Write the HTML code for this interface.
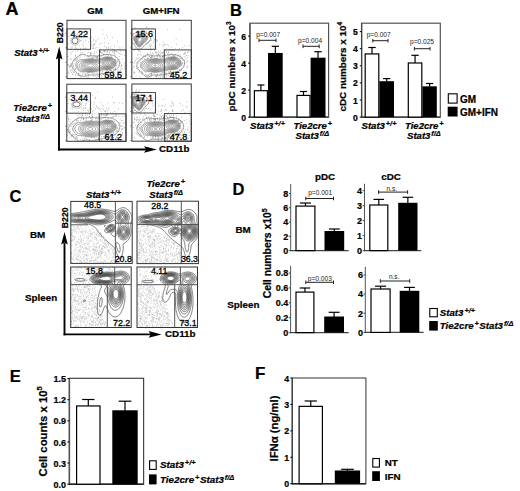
<!DOCTYPE html>
<html><head><meta charset="utf-8"><style>
html,body{margin:0;padding:0;background:#fff;}
body{width:520px;height:491px;overflow:hidden;}
svg{display:block;}
text{font-family:"Liberation Sans",sans-serif;}
text[font-weight="bold"]{stroke:#000;stroke-width:0.22px;}
</style></head><body>
<svg width="520" height="491" viewBox="0 0 520 491">
<rect width="520" height="491" fill="#fff"/>
<text x="5.60" y="15.00" font-size="18" font-weight="bold" text-anchor="start" fill="#000" >A</text>
<text x="95.00" y="14.00" font-size="9.7" font-weight="bold" text-anchor="middle" fill="#000" >GM</text>
<text x="161.20" y="14.00" font-size="9.7" font-weight="bold" text-anchor="middle" fill="#000" >GM+IFN</text>
<text x="14.20" y="55.80" font-size="9.6" font-weight="bold" font-style="italic" stroke="#000" stroke-width="0.3"><tspan>Stat3</tspan><tspan font-size="7.30" dx="0.9" dy="-2.88">+/+</tspan></text>
<text x="13.30" y="111.00" font-size="9.6" font-weight="bold" font-style="italic" stroke="#000" stroke-width="0.3"><tspan>Tie2cre</tspan><tspan font-size="7.30" dx="0.9" dy="-2.88">+</tspan></text>
<text x="16.20" y="122.00" font-size="9.6" font-weight="bold" font-style="italic" stroke="#000" stroke-width="0.3"><tspan>Stat3</tspan><tspan font-size="7.30" dx="0.9" dy="-2.88">f/&#916;</tspan></text>
<line x1="59.00" y1="150.40" x2="59.00" y2="57.00" stroke="#000" stroke-width="1.9" />
<polygon points="59.20,46.40 62.50,59.60 59.20,57.40 55.90,59.60" fill="#000"/>
<line x1="58.10" y1="149.50" x2="147.00" y2="149.50" stroke="#000" stroke-width="1.9" />
<polygon points="156.80,149.50 144.00,146.20 146.30,149.50 144.00,152.80" fill="#000"/>
<text transform="translate(63.4,43.2) rotate(-90)" font-size="8.7" font-weight="bold">B220</text>
<text x="159.00" y="152.30" font-size="9.8" font-weight="bold" text-anchor="start" fill="#000" >CD11b</text>
<clipPath id="a1"><rect x="67" y="20.3" width="59" height="58.3"/></clipPath>
<g clip-path="url(#a1)">
<path d="M84.1 73.6h.6M112.9 69.7h.6M120.2 54.0h.6M99.5 56.9h.6M109.4 72.5h.6M85.1 30.9h.6M78.3 71.0h.6M67.2 57.1h.6M88.6 56.6h.6M93.4 55.3h.6M103.3 78.3h.6M107.3 70.5h.6M113.5 78.2h.6M119.2 53.4h.6M97.5 50.3h.6M79.0 39.3h.6M70.7 38.5h.6M88.7 74.4h.6M80.7 55.0h.6M102.7 33.8h.6M112.9 51.8h.6M75.9 67.6h.6M106.7 52.6h.6M102.5 30.1h.6M112.8 49.4h.6M98.8 56.0h.6M106.8 73.2h.6M73.8 63.1h.6M93.0 44.3h.6M96.3 72.9h.6M85.4 40.8h.6M115.8 59.9h.6M99.9 49.2h.6M118.9 59.6h.6M88.6 77.6h.6M124.5 65.2h.6M107.8 49.1h.6M103.8 54.4h.6M91.5 45.0h.6M108.2 76.7h.6M113.6 53.3h.6M73.0 67.0h.6M100.6 57.0h.6M113.8 72.9h.6M106.2 47.6h.6M73.7 72.3h.6M81.7 75.6h.6M84.9 73.9h.6M67.9 64.5h.6M80.2 48.8h.6M114.0 52.1h.6M78.0 74.8h.6M125.8 51.2h.6M87.5 73.1h.6M73.5 66.5h.6M67.4 64.9h.6M103.4 54.3h.6M77.4 38.7h.6M82.6 73.0h.6M82.2 36.5h.6M76.5 59.8h.6M112.1 37.4h.6M110.6 46.8h.6M101.7 76.9h.6M104.8 72.6h.6M99.9 58.5h.6M70.3 65.6h.6M70.1 58.8h.6M124.2 63.1h.6M72.0 74.2h.6M112.5 49.0h.6M75.0 75.4h.6M79.2 31.1h.6M110.7 70.8h.6M92.6 48.4h.6M81.3 34.1h.6M109.7 70.2h.6M83.9 54.3h.6M88.5 52.4h.6M122.0 59.3h.6M104.0 51.2h.6M107.0 75.7h.6M74.7 58.7h.6M84.0 56.0h.6M96.9 76.0h.6M104.0 77.3h.6M78.4 73.8h.6M94.6 73.2h.6M85.3 74.6h.6M88.6 41.9h.6M71.7 63.5h.6M88.4 76.1h.6M106.3 54.8h.6M101.1 77.2h.6M77.1 58.4h.6M87.5 52.7h.6M93.0 39.9h.6M94.4 53.4h.6M72.3 74.3h.6M79.1 46.0h.6M117.3 62.1h.6M96.9 57.1h.6M93.0 76.4h.6M109.6 51.8h.6M95.5 41.0h.6M121.3 68.6h.6M92.9 46.2h.6M103.9 74.0h.6M111.0 70.6h.6M91.7 72.9h.6M74.9 74.3h.6M97.2 39.8h.6M107.0 37.1h.6M106.4 35.3h.6M75.1 55.6h.6M90.0 55.1h.6M104.0 51.7h.6M104.2 38.4h.6M71.2 65.1h.6M80.1 50.3h.6M81.3 36.0h.6M75.9 57.4h.6M117.8 75.5h.6M120.6 70.8h.6M70.8 65.6h.6M100.1 52.1h.6M75.3 39.0h.6M109.1 70.6h.6M80.0 76.8h.6M83.5 72.1h.6M93.4 40.2h.6M78.7 57.8h.6M83.3 46.0h.6M97.0 57.8h.6M121.8 47.8h.6M114.7 69.4h.6M76.3 73.0h.6M70.5 52.4h.6M82.1 44.8h.6M124.5 67.0h.6M69.9 70.7h.6M91.0 58.1h.6M119.5 72.3h.6M99.3 73.6h.6M114.5 50.1h.6M83.0 36.8h.6M120.5 66.8h.6M109.3 53.1h.6M79.7 76.0h.6M117.6 59.7h.6M75.3 55.1h.6M75.7 45.0h.6M76.9 59.6h.6M93.0 48.3h.6M70.8 59.3h.6M70.7 64.1h.6M114.2 53.2h.6M79.2 55.1h.6M100.7 43.3h.6M96.6 57.1h.6M74.6 43.3h.6M98.8 47.8h.6M84.7 48.3h.6M92.9 48.0h.6M94.6 43.4h.6M100.2 74.1h.6M110.5 55.5h.6M95.7 57.3h.6M116.4 65.7h.6M100.5 51.7h.6M86.8 73.1h.6M124.9 68.3h.6M93.8 45.0h.6M119.9 69.6h.6M102.5 71.1h.6M115.2 59.5h.6M95.8 41.6h.6M119.6 63.3h.6M113.4 69.1h.6M96.3 52.2h.6M90.5 55.6h.6M114.7 68.9h.6M78.3 73.6h.6M108.5 47.3h.6M115.7 51.4h.6M71.8 68.4h.6M73.2 78.8h.6M77.5 75.4h.6M108.4 71.7h.6M71.5 70.0h.6M69.8 66.8h.6M120.6 51.3h.6M115.0 69.6h.6M74.7 68.4h.6M91.5 37.5h.6M119.5 71.6h.6M103.3 74.5h.6M106.8 48.2h.6M120.3 78.5h.6M119.7 49.1h.6M100.0 71.3h.6M112.8 74.5h.6M71.5 47.2h.6M99.3 44.1h.6M99.8 78.2h.6M104.4 46.4h.6M72.5 51.4h.6M94.0 52.0h.6M112.9 74.1h.6M90.3 53.7h.6M73.3 42.3h.6M75.2 37.8h.6M97.1 57.8h.6M88.6 57.7h.6M115.2 68.6h.6M81.5 40.5h.6M102.0 78.6h.6M119.0 73.3h.6M82.2 74.6h.6M121.8 54.7h.6M90.4 54.1h.6M95.9 47.6h.6M81.4 37.8h.6M118.7 47.0h.6M114.8 50.8h.6M73.7 72.6h.6M107.1 51.7h.6M87.4 56.0h.6M68.0 56.3h.6M108.7 72.8h.6M103.0 51.3h.6M85.1 48.3h.6M92.6 46.5h.6M96.2 77.6h.6M97.8 75.5h.6M71.4 54.1h.6M86.5 77.1h.6M91.2 53.2h.6M120.0 74.0h.6M89.1 38.6h.6M121.1 65.2h.6M90.8 41.9h.6M80.8 54.3h.6M110.3 73.0h.6M73.7 71.6h.6M101.8 72.2h.6M69.3 67.4h.6M99.5 50.5h.6M77.5 50.6h.6M103.2 74.5h.6M101.2 75.3h.6M75.1 50.1h.6M94.2 44.2h.6M87.1 77.0h.6M72.4 70.8h.6M111.2 56.3h.6M110.0 70.4h.6M85.0 76.2h.6M76.6 61.5h.6M74.3 60.8h.6M108.3 71.7h.6M92.5 58.6h.6M101.2 52.9h.6M74.0 42.0h.6M87.0 34.3h.6M108.0 76.1h.6M122.2 68.4h.6M74.7 69.0h.6M68.5 43.8h.6M110.5 75.3h.6M73.8 38.8h.6M70.0 66.2h.6M103.9 42.6h.6M90.9 54.1h.6M100.3 52.1h.6M97.0 73.2h.6M80.1 52.8h.6M121.5 66.1h.6M110.4 70.8h.6M73.4 60.8h.6M75.4 59.5h.6M108.1 71.6h.6M68.5 72.2h.6M117.7 70.3h.6M76.7 37.8h.6M71.4 72.3h.6M121.2 65.1h.6M104.8 51.6h.6M95.5 56.7h.6M97.0 57.0h.6M104.9 78.7h.6M68.8 59.8h.6M104.6 75.5h.6M68.2 73.6h.6M94.6 55.9h.6M89.5 73.1h.6M83.0 42.3h.6M112.0 72.7h.6M92.8 57.6h.6M82.5 52.4h.6M117.7 71.1h.6M113.3 71.0h.6M69.8 69.6h.6M117.7 52.6h.6M115.6 57.8h.6M80.4 40.7h.6M102.0 71.2h.6M117.0 41.0h.6M114.7 54.6h.6M124.2 55.3h.6M69.1 66.6h.6M90.4 52.7h.6M98.4 76.5h.6M118.9 56.5h.6M93.5 57.2h.6M102.8 55.1h.6M71.5 41.9h.6M117.0 61.0h.6M100.7 52.4h.6M95.0 48.2h.6M99.3 57.8h.6M74.1 70.1h.6M88.3 75.1h.6M70.3 66.2h.6M124.6 69.8h.6M97.9 58.7h.6M108.1 55.3h.6M120.6 62.4h.6M70.7 49.0h.6M117.7 61.4h.6M75.9 48.4h.6M110.5 48.4h.6M84.3 51.1h.6M75.0 56.4h.6M95.6 76.5h.6M68.4 36.7h.6M107.3 51.6h.6M113.8 50.6h.6M77.2 34.3h.6M87.7 50.2h.6M114.6 55.7h.6M106.1 70.3h.6M112.0 51.7h.6M75.3 60.7h.6M99.4 71.2h.6M104.9 50.1h.6M92.7 74.8h.6M101.7 73.5h.6M72.1 40.0h.6M68.0 65.6h.6M102.0 53.2h.6M107.5 76.1h.6M99.5 73.5h.6M114.3 46.2h.6M74.0 37.6h.6M122.4 74.2h.6M78.4 78.6h.6M73.2 65.0h.6M99.5 76.1h.6M96.0 58.2h.6M83.2 35.4h.6M112.5 71.9h.6M74.4 43.3h.6M67.1 48.3h.6M116.0 51.7h.6M79.8 57.1h.6M79.2 75.1h.6M88.8 56.2h.6M92.7 73.5h.6M115.6 67.3h.6M80.2 72.1h.6M78.6 29.9h.6M107.5 54.6h.6M83.4 48.9h.6M90.3 53.1h.6M98.5 55.6h.6M77.9 75.7h.6M105.0 56.0h.6M75.1 47.6h.6M71.9 46.9h.6M98.6 38.2h.6M108.2 43.4h.6M101.6 56.1h.6M91.9 57.4h.6M88.0 72.5h.6M96.9 56.8h.6M115.7 69.4h.6M75.1 69.3h.6M78.3 36.8h.6M105.3 76.5h.6" stroke="#5a5a5a" stroke-width="0.6" fill="none"/>
<path d="M84.0 76.4 83.2 76.5 82.5 76.4 82.0 76.3 81.3 76.0 80.8 75.8 80.4 75.5 80.0 75.3 79.5 75.0 79.0 74.6 78.7 74.3 78.2 74.0 77.8 73.5 77.5 73.3 77.0 72.8 76.7 72.5 76.2 72.1 75.9 71.8 75.5 71.4 75.1 71.0 74.8 70.7 74.4 70.3 74.0 69.9 73.7 69.5 73.3 69.0 73.0 68.7 72.8 68.3 72.5 67.8 72.2 67.1 72.1 66.5 72.0 65.8 72.0 65.3 72.0 64.5 72.0 64.0 72.2 63.3 72.3 62.8 72.5 62.3 72.8 61.7 73.0 61.2 73.3 60.8 73.6 60.3 74.0 59.9 74.4 59.5 74.8 59.2 75.2 58.8 75.6 58.5 76.0 58.2 76.5 57.8 76.8 57.5 77.2 57.2 77.7 56.8 78.0 56.5 78.5 56.2 79.0 55.8 79.4 55.5 79.8 55.3 80.2 55.0 80.8 54.7 81.2 54.5 81.9 54.3 82.5 54.2 83.2 54.2 83.9 54.3 84.5 54.5 84.9 54.8 85.2 55.1 85.8 55.4 86.2 55.6 86.8 55.8 87.5 55.9 88.2 55.9 89.0 55.9 89.8 55.9 90.5 55.9 91.2 55.9 92.0 55.9 92.8 55.9 93.5 55.9 94.2 55.9 95.0 56.0 95.8 56.0 96.5 56.0 97.2 56.0 98.0 55.9 98.8 55.9 99.2 55.8 100.0 55.7 100.5 55.5 101.2 55.4 101.8 55.2 102.5 55.1 103.0 55.0 103.8 54.8 104.2 54.7 105.0 54.6 105.6 54.5 106.2 54.5 107.0 54.5 107.8 54.5 108.5 54.5 109.2 54.5 109.8 54.6 110.5 54.7 111.0 54.8 111.8 55.0 112.2 55.2 112.8 55.3 113.3 55.5 113.9 55.8 114.4 56.0 114.9 56.3 115.3 56.5 115.8 56.8 116.2 57.2 116.7 57.5 117.0 57.9 117.4 58.3 117.8 58.7 118.1 59.0 118.4 59.5 118.7 60.0 119.0 60.5 119.2 61.0 119.3 61.5 119.5 62.3 119.6 62.8 119.6 63.5 119.5 64.3 119.4 64.8 119.2 65.5 119.1 66.0 118.8 66.5 118.5 67.0 118.2 67.5 118.0 67.8 117.6 68.3 117.2 68.7 116.9 69.0 116.5 69.4 116.0 69.8 115.6 70.0 115.2 70.3 114.8 70.6 114.2 70.9 113.8 71.1 113.2 71.3 112.7 71.5 112.0 71.8 111.5 72.0 111.0 72.1 110.4 72.3 109.8 72.5 109.2 72.6 108.5 72.7 108.0 72.8 107.2 72.9 106.5 73.0 106.0 73.1 105.2 73.3 104.8 73.3 104.0 73.5 103.5 73.6 102.8 73.7 102.2 73.8 101.5 73.9 101.0 74.0 100.2 74.2 99.7 74.3 99.0 74.4 98.3 74.5 97.8 74.6 97.0 74.7 96.5 74.8 95.8 74.9 95.0 75.0 94.2 75.0 93.7 75.0 93.0 75.1 92.2 75.1 91.5 75.1 90.8 75.1 90.0 75.1 89.2 75.1 88.5 75.1 87.8 75.1 87.0 75.2 86.4 75.3 85.8 75.5 85.2 75.8 84.8 76.0 84.2 76.3Z" stroke="#4a4a4a" stroke-width="0.5" fill="none" fill-rule="evenodd"/>
<path d="M93.0 72.1 92.2 72.1 91.5 72.2 90.8 72.2 90.0 72.2 89.2 72.1 88.5 72.1 88.0 72.0 87.2 72.0 86.5 71.9 85.9 71.8 85.2 71.7 84.5 71.7 83.8 71.6 83.0 71.6 82.2 71.6 81.5 71.6 81.0 71.5 80.4 71.3 79.9 71.0 79.5 70.8 79.0 70.4 78.6 70.0 78.2 69.7 77.9 69.3 77.5 68.8 77.2 68.5 76.9 68.0 76.6 67.5 76.3 67.0 76.1 66.5 75.9 66.0 75.8 65.3 75.7 64.8 75.8 64.3 75.9 63.5 76.2 63.0 76.5 62.5 76.8 62.2 77.1 61.8 77.5 61.4 77.9 61.0 78.2 60.8 78.8 60.4 79.2 60.1 79.8 59.8 80.2 59.7 80.8 59.5 81.5 59.5 82.2 59.5 83.0 59.5 83.8 59.5 84.5 59.4 85.2 59.3 85.8 59.3 86.5 59.1 87.2 59.0 87.8 59.0 88.5 58.9 89.2 58.9 90.0 58.8 90.8 58.8 91.5 58.8 92.2 58.9 93.0 58.9 93.8 59.0 94.3 59.0 95.0 59.1 95.8 59.2 96.4 59.3 97.0 59.3 97.8 59.4 98.5 59.3 99.0 59.2 99.7 59.0 100.2 58.9 100.8 58.7 101.2 58.5 101.8 58.2 102.2 58.0 102.9 57.8 103.5 57.6 104.0 57.4 104.5 57.3 105.2 57.1 105.8 57.0 106.5 56.9 107.2 56.9 108.0 56.8 108.8 56.9 109.5 57.0 110.0 57.1 110.8 57.3 111.2 57.4 111.8 57.6 112.2 57.8 112.8 58.1 113.2 58.4 113.8 58.7 114.2 59.0 114.5 59.3 114.9 59.8 115.2 60.2 115.5 60.6 115.8 61.1 116.0 61.8 116.1 62.3 116.2 63.0 116.2 63.8 116.0 64.5 115.8 65.0 115.6 65.5 115.3 66.0 115.0 66.4 114.7 66.8 114.2 67.2 113.8 67.5 113.5 67.8 113.0 68.1 112.5 68.4 112.0 68.6 111.5 68.9 111.0 69.0 110.2 69.3 109.8 69.4 109.0 69.5 108.5 69.6 107.8 69.7 107.0 69.7 106.2 69.8 105.5 69.8 104.8 69.8 104.0 69.8 103.2 69.8 102.8 69.8 102.0 69.9 101.2 70.0 100.8 70.2 100.2 70.3 99.5 70.5 99.0 70.7 98.5 70.9 97.9 71.0 97.2 71.2 96.8 71.4 96.1 71.5 95.5 71.7 94.9 71.8 94.2 71.9 93.5 72.0 93.0 72.1Z" stroke="#4a4a4a" stroke-width="0.5" fill="none" fill-rule="evenodd"/>
<path d="M93.8 71.3 93.0 71.4 92.2 71.5 91.5 71.5 90.8 71.5 90.0 71.5 89.2 71.5 88.5 71.5 87.8 71.4 87.2 71.3 86.5 71.2 85.8 71.1 85.2 71.0 84.5 70.8 84.0 70.7 83.2 70.6 82.6 70.5 82.0 70.5 81.2 70.3 80.8 70.1 80.2 69.9 79.8 69.6 79.3 69.3 79.0 69.0 78.6 68.5 78.2 68.1 78.0 67.7 77.7 67.3 77.5 66.8 77.2 66.2 77.1 65.5 77.1 64.8 77.2 64.0 77.5 63.5 77.8 63.2 78.1 62.8 78.5 62.4 79.0 62.0 79.3 61.8 79.8 61.5 80.3 61.3 81.0 61.1 81.5 60.9 82.1 60.8 82.8 60.6 83.2 60.5 84.0 60.4 84.5 60.2 85.2 60.1 85.8 60.0 86.5 59.8 87.0 59.7 87.8 59.6 88.5 59.6 89.0 59.5 89.8 59.5 90.5 59.4 91.2 59.5 92.0 59.5 92.7 59.5 93.2 59.6 94.0 59.7 94.7 59.8 95.2 59.9 96.0 60.0 96.5 60.1 97.2 60.1 98.0 60.2 98.8 60.1 99.2 60.0 99.9 59.8 100.5 59.6 101.0 59.3 101.5 59.1 102.0 58.9 102.5 58.6 103.0 58.4 103.5 58.2 104.0 58.0 104.7 57.8 105.2 57.7 105.9 57.5 106.5 57.5 107.2 57.4 108.0 57.4 108.8 57.4 109.5 57.5 110.0 57.6 110.6 57.8 111.2 58.0 111.8 58.2 112.2 58.5 112.8 58.7 113.2 59.0 113.5 59.3 114.0 59.8 114.3 60.0 114.6 60.5 114.9 61.0 115.2 61.5 115.3 62.0 115.4 62.8 115.4 63.5 115.3 64.3 115.1 64.8 114.9 65.3 114.6 65.8 114.2 66.2 114.0 66.5 113.5 67.0 113.1 67.3 112.7 67.5 112.2 67.8 111.8 68.1 111.2 68.3 110.5 68.5 110.0 68.7 109.5 68.8 108.8 69.0 108.0 69.0 107.5 69.1 106.8 69.1 106.0 69.1 105.2 69.1 104.5 69.1 104.0 69.0 103.2 69.0 102.5 69.0 101.9 69.0 101.2 69.1 100.5 69.3 100.0 69.5 99.5 69.6 99.0 69.8 98.3 70.0 97.8 70.3 97.2 70.4 96.8 70.6 96.1 70.8 95.5 71.0 95.0 71.1 94.2 71.2 93.8 71.3Z" stroke="#4a4a4a" stroke-width="0.5" fill="none" fill-rule="evenodd"/>
<path d="M92.5 70.8 91.8 70.9 91.0 70.9 90.2 70.9 89.5 70.9 88.8 70.8 88.2 70.8 87.5 70.7 86.8 70.6 86.2 70.5 85.6 70.3 85.0 70.2 84.5 70.0 83.8 69.8 83.2 69.7 82.8 69.5 82.2 69.3 81.6 69.0 81.1 68.8 80.7 68.5 80.2 68.2 79.9 67.8 79.5 67.3 79.3 66.8 79.2 66.3 79.1 65.5 79.2 64.9 79.5 64.4 79.8 64.0 80.1 63.5 80.5 63.2 80.9 62.8 81.3 62.5 81.8 62.2 82.2 62.0 82.8 61.7 83.2 61.5 83.8 61.3 84.5 61.0 85.0 60.9 85.5 60.7 86.2 60.6 86.8 60.4 87.5 60.3 88.0 60.2 88.8 60.2 89.5 60.1 90.2 60.1 91.0 60.1 91.8 60.1 92.5 60.2 93.2 60.3 93.8 60.3 94.5 60.5 95.0 60.6 95.8 60.7 96.3 60.8 97.0 60.9 97.8 61.0 98.5 61.0 99.2 60.9 99.8 60.8 100.3 60.5 100.8 60.3 101.2 60.0 101.8 59.8 102.2 59.5 102.8 59.2 103.2 59.0 103.8 58.8 104.3 58.5 105.0 58.3 105.5 58.2 106.2 58.0 106.8 58.0 107.5 57.9 108.2 57.9 109.0 58.0 109.5 58.1 110.2 58.3 110.8 58.4 111.2 58.6 111.8 58.9 112.2 59.1 112.8 59.5 113.1 59.8 113.5 60.2 113.8 60.5 114.2 61.0 114.4 61.5 114.6 62.0 114.7 62.8 114.7 63.5 114.5 64.3 114.3 64.8 114.1 65.3 113.8 65.8 113.5 66.1 113.0 66.5 112.7 66.8 112.2 67.1 111.8 67.4 111.2 67.6 110.8 67.8 110.1 68.0 109.5 68.2 109.0 68.3 108.2 68.4 107.5 68.5 106.8 68.5 106.0 68.5 105.2 68.4 104.5 68.4 104.0 68.3 103.2 68.2 102.5 68.2 101.8 68.2 101.0 68.2 100.5 68.4 99.8 68.5 99.2 68.8 98.8 69.0 98.2 69.2 97.8 69.4 97.2 69.6 96.8 69.8 96.0 70.0 95.5 70.2 95.0 70.4 94.2 70.5 93.8 70.6 93.0 70.7 92.5 70.8Z" stroke="#4a4a4a" stroke-width="0.5" fill="none" fill-rule="evenodd"/>
<path d="M93.0 70.1 92.2 70.2 91.5 70.3 90.8 70.3 90.0 70.3 89.2 70.3 88.5 70.2 87.8 70.1 87.2 70.0 86.5 69.8 86.0 69.7 85.5 69.5 84.8 69.3 84.2 69.1 83.8 68.9 83.2 68.6 82.8 68.3 82.4 68.0 82.0 67.7 81.6 67.3 81.3 66.8 81.2 66.3 81.1 65.5 81.2 64.9 81.5 64.3 81.8 63.9 82.1 63.5 82.5 63.1 82.9 62.8 83.2 62.5 83.8 62.2 84.2 62.0 84.8 61.8 85.3 61.5 86.0 61.3 86.5 61.2 87.1 61.0 87.8 60.9 88.5 60.8 89.0 60.8 89.8 60.7 90.5 60.7 91.2 60.7 92.0 60.8 92.5 60.8 93.2 60.9 93.9 61.0 94.5 61.2 95.1 61.3 95.8 61.5 96.2 61.6 97.0 61.8 97.5 61.9 98.2 62.0 99.0 62.0 99.7 61.8 100.2 61.6 100.7 61.3 101.1 61.0 101.5 60.8 102.0 60.4 102.5 60.1 103.0 59.8 103.5 59.5 104.0 59.3 104.5 59.1 105.0 58.9 105.5 58.8 106.2 58.6 106.8 58.5 107.5 58.5 108.2 58.5 108.9 58.5 109.5 58.7 110.1 58.8 110.8 59.0 111.2 59.3 111.8 59.5 112.1 59.8 112.5 60.1 113.0 60.5 113.2 60.9 113.5 61.3 113.8 61.8 113.9 62.5 114.0 63.3 113.9 64.0 113.7 64.5 113.4 65.0 113.1 65.5 112.8 65.9 112.3 66.3 112.0 66.5 111.5 66.8 111.0 67.1 110.5 67.3 109.8 67.5 109.2 67.7 108.5 67.8 108.0 67.9 107.2 67.9 106.5 67.9 105.8 67.8 105.2 67.8 104.5 67.7 103.9 67.5 103.2 67.4 102.5 67.3 102.0 67.2 101.2 67.2 100.5 67.3 100.0 67.4 99.5 67.6 99.0 67.8 98.5 68.1 98.0 68.3 97.5 68.6 97.0 68.8 96.5 69.1 95.9 69.3 95.2 69.5 94.8 69.7 94.2 69.8 93.5 70.0 93.0 70.1Z" stroke="#4a4a4a" stroke-width="0.5" fill="none" fill-rule="evenodd"/>
<path d="M92.0 69.6 91.2 69.6 90.5 69.6 89.8 69.6 89.0 69.6 88.5 69.5 87.8 69.4 87.2 69.3 86.5 69.1 86.0 68.9 85.5 68.7 85.0 68.5 84.5 68.2 84.0 67.9 83.6 67.5 83.2 67.2 82.9 66.8 82.7 66.3 82.6 65.5 82.7 64.8 83.0 64.3 83.2 63.9 83.6 63.5 84.0 63.2 84.5 62.8 85.0 62.5 85.5 62.3 86.0 62.1 86.5 61.9 87.0 61.8 87.8 61.6 88.2 61.5 89.0 61.4 89.8 61.4 90.5 61.4 91.2 61.4 92.0 61.4 92.8 61.5 93.2 61.6 94.0 61.8 94.5 61.9 95.0 62.1 95.7 62.3 96.2 62.5 96.8 62.7 97.2 62.9 97.8 63.1 98.3 63.3 99.0 63.5 99.8 63.4 100.2 63.1 100.6 62.8 101.0 62.4 101.4 62.0 101.8 61.7 102.2 61.3 102.5 61.0 103.0 60.6 103.5 60.3 103.9 60.0 104.4 59.8 105.0 59.5 105.5 59.4 106.0 59.2 106.8 59.1 107.3 59.0 108.0 59.0 108.5 59.1 109.2 59.2 109.8 59.3 110.5 59.5 111.0 59.8 111.4 60.0 111.8 60.3 112.2 60.8 112.5 61.0 112.8 61.5 113.1 62.0 113.2 62.8 113.2 63.5 113.0 64.3 112.8 64.8 112.5 65.1 112.1 65.5 111.8 65.9 111.2 66.3 110.8 66.5 110.2 66.8 109.8 66.9 109.2 67.1 108.5 67.2 107.8 67.3 107.0 67.3 106.2 67.2 105.5 67.1 105.0 67.0 104.2 66.9 103.8 66.7 103.2 66.5 102.5 66.3 102.0 66.1 101.5 66.0 100.9 65.8 100.2 65.7 99.8 65.8 99.2 66.1 98.8 66.5 98.4 66.8 98.0 67.1 97.5 67.5 97.0 67.8 96.6 68.0 96.2 68.3 95.7 68.5 95.1 68.8 94.5 69.0 94.0 69.2 93.4 69.3 92.8 69.4 92.0 69.5Z" stroke="#4a4a4a" stroke-width="0.5" fill="none" fill-rule="evenodd"/>
<path d="M108.5 66.6 107.8 66.7 107.0 66.7 106.2 66.6 105.8 66.5 105.0 66.3 104.5 66.1 104.0 65.9 103.5 65.7 103.0 65.3 102.6 65.0 102.2 64.6 102.0 64.0 102.1 63.3 102.2 62.8 102.5 62.3 102.9 61.8 103.2 61.4 103.7 61.0 104.0 60.8 104.5 60.5 105.0 60.2 105.5 60.0 106.2 59.8 106.8 59.7 107.5 59.6 108.2 59.6 109.0 59.7 109.5 59.9 110.0 60.0 110.6 60.3 111.0 60.6 111.5 61.0 111.8 61.3 112.1 61.8 112.3 62.3 112.4 63.0 112.3 63.8 112.2 64.3 111.8 64.8 111.5 65.2 111.1 65.5 110.7 65.8 110.2 66.1 109.7 66.3 109.0 66.5 108.5 66.6ZM92.0 68.8 91.2 68.9 90.5 69.0 89.8 68.9 89.0 68.9 88.4 68.8 87.8 68.7 87.2 68.5 86.6 68.3 86.0 68.0 85.6 67.8 85.2 67.5 84.8 67.2 84.4 66.8 84.1 66.3 84.0 65.8 84.0 65.1 84.2 64.5 84.5 64.1 84.8 63.8 85.2 63.4 85.8 63.1 86.2 62.8 86.8 62.6 87.2 62.5 87.9 62.3 88.5 62.2 89.2 62.1 89.9 62.0 90.5 62.0 91.0 62.1 91.8 62.1 92.5 62.2 93.0 62.3 93.8 62.5 94.2 62.7 94.8 62.9 95.2 63.1 95.8 63.4 96.2 63.7 96.6 64.0 97.0 64.5 97.2 65.0 97.1 65.8 96.9 66.3 96.5 66.8 96.2 67.0 95.8 67.4 95.2 67.8 94.8 68.0 94.2 68.2 93.8 68.4 93.2 68.6 92.5 68.8 92.0 68.8Z" stroke="#4a4a4a" stroke-width="0.5" fill="none" fill-rule="evenodd"/>
<path d="M108.8 65.9 108.0 66.0 107.2 66.0 106.5 65.9 106.0 65.8 105.2 65.6 104.8 65.3 104.3 65.0 104.0 64.8 103.6 64.3 103.4 63.8 103.4 63.0 103.6 62.5 103.9 62.0 104.2 61.7 104.7 61.3 105.0 61.0 105.5 60.8 106.1 60.5 106.8 60.4 107.2 60.3 108.0 60.3 108.5 60.3 109.2 60.5 109.8 60.7 110.2 60.9 110.7 61.3 111.0 61.6 111.3 62.0 111.5 62.5 111.6 63.3 111.4 63.8 111.2 64.3 110.8 64.8 110.5 65.1 110.0 65.4 109.5 65.6 109.0 65.8ZM91.8 68.1 91.0 68.1 90.2 68.2 89.5 68.1 88.8 68.0 88.2 67.9 87.8 67.8 87.1 67.5 86.7 67.3 86.2 67.0 85.8 66.5 85.5 66.1 85.4 65.5 85.5 64.9 85.8 64.5 86.2 64.0 86.5 63.8 87.0 63.5 87.5 63.3 88.2 63.1 88.8 63.0 89.5 62.9 90.2 62.8 91.0 62.8 91.8 62.9 92.3 63.0 93.0 63.2 93.5 63.4 94.0 63.7 94.5 64.0 94.9 64.3 95.2 64.8 95.4 65.3 95.3 66.0 95.0 66.5 94.7 66.8 94.2 67.1 93.8 67.4 93.2 67.6 92.8 67.8 92.0 68.0Z" stroke="#4a4a4a" stroke-width="0.5" fill="none" fill-rule="evenodd"/>
<path d="M108.5 65.1 107.8 65.2 107.0 65.1 106.5 65.0 105.8 64.8 105.4 64.5 105.0 64.1 104.8 63.6 104.7 63.0 104.9 62.5 105.2 62.0 105.5 61.8 106.0 61.5 106.5 61.3 107.2 61.1 108.0 61.1 108.8 61.2 109.2 61.4 109.8 61.7 110.1 62.0 110.4 62.5 110.5 63.0 110.4 63.5 110.2 64.0 109.8 64.5 109.3 64.8 108.8 65.0ZM91.2 67.1 90.5 67.2 89.8 67.1 89.2 67.0 88.5 66.8 88.0 66.6 87.6 66.3 87.3 65.8 87.2 65.3 87.5 64.8 87.8 64.5 88.2 64.3 88.8 64.0 89.5 63.9 90.2 63.8 91.0 63.9 91.8 64.0 92.2 64.2 92.8 64.5 93.1 64.8 93.3 65.3 93.2 65.9 93.0 66.3 92.5 66.6 92.0 66.9 91.4 67.0Z" stroke="#4a4a4a" stroke-width="0.5" fill="none" fill-rule="evenodd"/>
<path d="M108.0 64.1 107.3 64.0 106.8 63.8 106.5 63.5 106.4 62.8 106.8 62.5 107.2 62.2 108.0 62.2 108.5 62.3 109.0 62.8 109.0 63.3 108.8 63.7 108.2 64.0Z" stroke="#4a4a4a" stroke-width="0.5" fill="none" fill-rule="evenodd"/>
<ellipse cx="75" cy="40.8" rx="3.0" ry="3.0" fill="#fff" stroke="#777" stroke-width="1.0"/><ellipse cx="75" cy="41.099999999999994" rx="4.3" ry="4.3" fill="none" stroke="#aaa" stroke-width="0.6"/>
</g>
<rect x="67.00" y="20.30" width="59.00" height="58.30" fill="none" stroke="#3a3a3a" stroke-width="1.0"/>
<rect x="67.00" y="28.90" width="23.60" height="20.40" fill="none" stroke="#333" stroke-width="0.9"/>
<rect x="99.50" y="49.90" width="26.50" height="28.70" fill="none" stroke="#333" stroke-width="0.9"/>
<text x="70.60" y="37.10" font-size="9.0" font-weight="normal" text-anchor="start" fill="#000" stroke="#000" stroke-width="0.3">4.22</text>
<text x="122.00" y="77.70" font-size="9.0" font-weight="normal" text-anchor="end" fill="#000" stroke="#000" stroke-width="0.3">59.5</text>
<line x1="65.50" y1="33.30" x2="67.00" y2="33.30" stroke="#444" stroke-width="0.7" />
<line x1="65.50" y1="47.80" x2="67.00" y2="47.80" stroke="#444" stroke-width="0.7" />
<line x1="65.50" y1="62.30" x2="67.00" y2="62.30" stroke="#444" stroke-width="0.7" />
<line x1="65.50" y1="76.80" x2="67.00" y2="76.80" stroke="#444" stroke-width="0.7" />
<clipPath id="a2"><rect x="131.8" y="20.3" width="59.5" height="58.3"/></clipPath>
<g clip-path="url(#a2)">
<path d="M147.6 76.1h.6M179.1 69.6h.6M168.8 72.8h.6M182.3 63.0h.6M184.7 52.2h.6M162.9 57.2h.6M150.6 57.5h.6M170.3 78.0h.6M154.8 58.5h.6M158.7 53.8h.6M148.4 75.7h.6M153.6 48.1h.6M155.4 76.7h.6M142.3 72.6h.6M163.6 52.3h.6M167.5 44.6h.6M165.0 44.7h.6M157.0 74.8h.6M154.6 78.3h.6M132.2 68.4h.6M135.5 48.8h.6M151.4 49.6h.6M182.0 75.3h.6M168.1 52.0h.6M175.9 44.4h.6M140.0 66.6h.6M132.0 62.3h.6M138.6 31.9h.6M164.0 55.1h.6M147.1 78.3h.6M160.7 54.2h.6M140.2 52.2h.6M139.8 54.9h.6M139.7 76.5h.6M138.5 72.6h.6M160.4 56.9h.6M148.0 41.8h.6M177.7 56.3h.6M149.0 44.9h.6M158.0 51.3h.6M168.4 56.1h.6M140.1 78.7h.6M151.6 35.9h.6M142.8 57.2h.6M183.6 70.8h.6M160.7 75.1h.6M144.0 58.8h.6M180.5 58.6h.6M162.1 72.6h.6M141.7 58.8h.6M185.2 52.1h.6M135.4 27.8h.6M182.3 47.6h.6M175.0 72.2h.6M154.7 78.5h.6M153.8 40.8h.6M186.0 67.0h.6M191.5 61.3h.6M155.2 51.7h.6M156.1 76.6h.6M163.1 41.9h.6M183.4 54.1h.6M151.2 40.2h.6M188.3 51.8h.6M151.9 52.3h.6M187.4 60.8h.6M162.6 58.0h.6M145.1 34.2h.6M159.5 44.4h.6M156.5 56.1h.6M184.0 53.5h.6M171.3 72.5h.6M163.3 57.8h.6M132.6 34.8h.6M173.4 73.3h.6M151.5 56.9h.6M170.2 72.0h.6M168.4 72.1h.6M132.0 62.2h.6M173.2 55.5h.6M140.4 62.4h.6M156.4 58.4h.6M180.9 69.5h.6M150.1 48.5h.6M172.8 50.2h.6M155.9 76.6h.6M162.9 75.8h.6M165.7 77.1h.6M181.3 68.6h.6M177.8 55.6h.6M140.7 59.3h.6M146.2 27.1h.6M173.8 55.8h.6M179.2 29.5h.6M167.2 54.2h.6M141.6 73.5h.6M147.4 53.9h.6M134.2 73.2h.6M171.3 49.6h.6M171.2 53.4h.6M154.4 39.5h.6M135.1 60.3h.6M162.2 56.5h.6M186.7 57.8h.6M166.5 52.1h.6M139.0 70.6h.6M162.9 72.3h.6M180.4 70.7h.6M136.0 68.5h.6M163.6 49.4h.6M148.3 55.0h.6M172.2 55.2h.6M154.5 46.4h.6M182.5 59.9h.6M141.1 33.9h.6M176.9 69.0h.6M175.7 69.6h.6M171.1 47.1h.6M187.4 66.4h.6M166.2 51.9h.6M159.0 55.8h.6M138.4 50.5h.6M182.1 63.9h.6M160.7 58.3h.6M170.7 54.8h.6M156.4 76.1h.6M148.8 56.3h.6M137.0 55.1h.6M187.9 55.6h.6M185.6 59.1h.6M138.8 61.5h.6M162.7 52.5h.6M135.9 32.2h.6M179.0 77.4h.6M162.3 56.9h.6M175.8 39.0h.6M171.0 73.7h.6M159.2 75.2h.6M178.1 51.8h.6M165.5 50.1h.6M133.7 66.9h.6M139.7 33.6h.6M164.2 54.0h.6M164.1 55.7h.6M184.6 56.7h.6M180.8 78.4h.6M147.0 54.2h.6M153.2 37.8h.6M156.0 49.2h.6M156.8 52.5h.6M134.2 50.2h.6M183.1 73.0h.6M162.3 52.8h.6M152.3 55.5h.6M184.1 60.6h.6M169.9 49.9h.6M186.2 55.5h.6M140.8 54.9h.6M184.5 45.7h.6M160.2 53.0h.6M151.3 57.4h.6M165.1 54.8h.6M172.3 76.9h.6M133.1 72.6h.6M190.3 61.8h.6M140.5 60.7h.6M156.8 54.7h.6M159.8 76.0h.6M155.9 52.6h.6M138.0 67.3h.6M181.2 65.3h.6M149.0 56.3h.6M168.3 75.1h.6M151.4 73.4h.6M150.7 44.6h.6M160.6 73.5h.6M146.4 75.8h.6M149.6 73.8h.6M177.2 71.3h.6M153.3 54.5h.6M133.0 35.8h.6M134.0 61.8h.6M156.4 39.8h.6M150.0 76.7h.6M142.2 30.7h.6M137.9 58.2h.6M187.1 52.7h.6M144.0 32.2h.6M182.3 63.0h.6M156.7 41.5h.6M165.3 73.6h.6M165.0 72.0h.6M147.3 58.2h.6M155.7 74.8h.6M169.6 73.8h.6M171.7 75.3h.6M181.2 58.5h.6M134.6 72.6h.6M137.9 54.2h.6M166.7 57.4h.6M166.4 74.4h.6M150.8 58.8h.6M155.1 52.4h.6M148.6 37.7h.6M133.1 78.3h.6M152.7 53.5h.6M170.9 77.0h.6M167.3 29.5h.6M141.7 71.2h.6M145.4 44.0h.6M146.6 75.1h.6M169.9 71.4h.6M179.2 48.5h.6M159.6 57.1h.6M169.5 54.8h.6M151.5 56.9h.6M138.2 51.1h.6M152.8 73.9h.6M171.5 73.4h.6M135.9 62.9h.6M162.7 56.4h.6M149.2 76.8h.6M147.1 58.6h.6M147.7 75.5h.6M142.6 57.2h.6M166.6 70.9h.6M189.5 45.3h.6M141.3 72.0h.6M158.4 77.3h.6M187.4 67.9h.6M182.4 77.4h.6M146.6 56.2h.6M156.3 53.1h.6M190.3 42.1h.6M153.0 32.9h.6M166.6 75.6h.6M179.8 55.0h.6M153.6 57.0h.6M171.3 73.3h.6M136.6 58.1h.6M170.1 71.4h.6M142.5 73.6h.6M138.5 69.1h.6M162.8 45.4h.6M163.1 78.2h.6M161.9 77.0h.6M135.7 75.9h.6M162.6 46.8h.6M133.9 71.4h.6M187.7 61.1h.6M174.8 71.3h.6M147.8 74.5h.6M175.5 56.0h.6M180.8 70.2h.6M170.8 73.0h.6M179.8 58.6h.6M147.9 58.4h.6M133.2 29.5h.6M184.5 53.9h.6M164.1 44.8h.6M145.4 56.4h.6M149.5 74.1h.6M157.1 56.0h.6M184.0 63.6h.6M147.5 42.7h.6M162.8 76.5h.6M163.8 54.6h.6M183.5 66.3h.6M145.2 74.6h.6M146.1 42.9h.6M151.3 74.5h.6M133.6 66.4h.6M181.8 59.8h.6M156.8 73.8h.6M173.5 71.1h.6M157.4 75.0h.6M179.0 56.9h.6M145.1 56.5h.6M176.9 72.3h.6M174.4 56.1h.6M158.0 54.6h.6M180.5 56.9h.6M169.4 73.0h.6M166.0 73.1h.6M158.5 54.8h.6M178.9 70.1h.6M150.3 73.9h.6M144.8 74.7h.6M150.4 47.0h.6M154.3 50.5h.6M151.7 57.1h.6M174.8 48.8h.6M166.2 48.3h.6M143.4 55.8h.6M167.6 70.3h.6M161.5 74.2h.6M154.0 73.1h.6M150.0 50.8h.6M175.0 54.3h.6M139.0 49.9h.6M135.9 59.8h.6M186.1 62.3h.6M190.6 66.8h.6M160.0 77.4h.6M161.8 73.3h.6M151.0 73.6h.6M143.8 56.4h.6M163.7 77.7h.6M150.0 57.3h.6M138.9 33.7h.6M151.2 54.7h.6M159.9 51.1h.6M168.7 55.0h.6M151.4 75.9h.6M144.6 34.6h.6M151.9 57.0h.6M167.8 53.6h.6M186.5 71.9h.6M143.7 46.6h.6M149.0 40.5h.6M185.2 54.3h.6M166.4 75.8h.6M160.8 58.4h.6M134.3 43.3h.6M158.8 52.6h.6M170.5 74.0h.6M173.9 75.1h.6M169.7 71.0h.6M169.3 49.5h.6M141.8 59.0h.6M155.5 47.4h.6M183.9 62.3h.6M163.6 55.7h.6M149.6 46.3h.6M146.3 32.0h.6M143.6 78.5h.6M154.2 57.4h.6M133.9 63.1h.6M161.4 52.8h.6M150.3 53.1h.6M139.1 71.6h.6M150.1 78.4h.6M182.4 64.2h.6M158.3 54.5h.6M188.6 51.5h.6M178.6 72.1h.6M146.3 27.9h.6M131.8 70.4h.6M146.1 33.4h.6M156.8 40.7h.6M157.3 57.8h.6M145.6 72.3h.6M162.2 53.1h.6M150.9 46.0h.6M153.0 42.5h.6M139.8 51.1h.6M138.1 63.2h.6M136.3 66.8h.6M168.4 52.2h.6M168.0 46.0h.6M173.1 56.1h.6M164.0 44.5h.6" stroke="#5a5a5a" stroke-width="0.6" fill="none"/>
<path d="M131.8 35.2 132.2 34.8 132.6 34.5 133.1 34.2 133.6 33.9 134.1 33.6 134.6 33.3 135.1 33.1 135.6 32.9 136.1 32.8 136.8 32.6 137.3 32.5 138.1 32.3 138.6 32.3 139.3 32.2 140.1 32.1 140.8 32.1 141.6 32.2 142.3 32.2 142.8 32.3 143.6 32.4 144.1 32.6 144.8 32.7 145.3 32.9 145.8 33.1 146.3 33.3 146.9 33.5 147.3 33.8 147.8 34.1 148.3 34.4 148.8 34.8 149.1 35.0 149.5 35.5 149.8 35.9 150.1 36.3 150.3 36.8 150.6 37.5 150.7 38.0 150.7 38.8 150.6 39.5 150.4 40.0 150.1 40.5 149.8 41.0 149.6 41.4 149.2 41.8 148.8 42.2 148.4 42.5 148.0 42.8 147.6 43.1 147.1 43.4 146.6 43.7 146.1 43.9 145.6 44.2 145.1 44.5 144.8 44.8 144.3 45.3 144.1 45.6 143.7 46.0 143.3 46.5 143.1 47.0 142.8 47.3 142.4 47.8 142.1 48.1 141.6 48.5 141.1 48.8 140.6 49.0 140.1 49.2 139.6 49.3 139.0 49.3 138.3 49.2 137.8 49.0 137.3 48.7 136.8 48.3 136.5 48.0 136.1 47.6 135.8 47.2 135.5 46.8 135.2 46.3 134.9 45.8 134.6 45.3 134.3 44.8 134.1 44.3 133.8 44.0 133.4 43.5 133.1 43.1 132.7 42.8 132.3 42.4 132.0 42.0 131.8 41.9M148.3 77.1 147.6 77.1 147.1 77.0 146.4 76.8 145.9 76.5 145.5 76.3 145.1 76.0 144.6 75.6 144.1 75.3 143.8 75.0 143.3 74.6 143.0 74.3 142.6 73.9 142.2 73.5 141.8 73.2 141.4 72.8 141.1 72.4 140.7 72.0 140.3 71.7 139.9 71.3 139.6 71.0 139.1 70.5 138.8 70.2 138.4 69.8 138.1 69.3 137.8 68.9 137.6 68.4 137.3 67.8 137.1 67.3 137.0 66.8 136.9 66.0 136.9 65.3 137.0 64.5 137.1 64.0 137.2 63.3 137.4 62.8 137.6 62.3 137.9 61.8 138.2 61.3 138.6 60.9 138.8 60.5 139.3 60.1 139.6 59.8 140.1 59.5 140.6 59.1 140.9 58.8 141.3 58.5 141.8 58.1 142.2 57.8 142.6 57.5 143.1 57.1 143.5 56.8 143.8 56.5 144.3 56.2 144.8 55.9 145.3 55.6 145.8 55.4 146.3 55.2 146.8 55.0 147.6 54.8 148.1 54.7 148.8 54.8 149.3 54.8 150.0 55.0 150.6 55.3 151.1 55.5 151.6 55.6 152.3 55.8 152.8 55.8 153.6 55.9 154.3 55.9 155.1 55.8 155.8 55.8 156.6 55.8 157.3 55.8 158.1 55.8 158.8 55.9 159.6 55.9 160.3 55.9 161.1 56.0 161.8 56.0 162.6 55.9 163.3 55.9 164.1 55.8 164.6 55.7 165.3 55.6 165.8 55.5 166.5 55.3 167.1 55.2 167.6 55.0 168.3 54.9 168.8 54.8 169.6 54.7 170.3 54.6 170.8 54.5 171.6 54.5 172.3 54.5 173.1 54.5 173.8 54.5 174.3 54.6 175.1 54.6 175.8 54.8 176.3 54.9 176.9 55.0 177.6 55.3 178.1 55.4 178.6 55.6 179.1 55.9 179.6 56.1 180.1 56.4 180.6 56.7 181.0 57.0 181.4 57.3 181.8 57.7 182.2 58.0 182.6 58.4 182.9 58.8 183.2 59.3 183.6 59.8 183.8 60.2 184.1 60.8 184.2 61.3 184.4 61.8 184.5 62.5 184.6 63.0 184.6 63.8 184.5 64.3 184.4 65.0 184.2 65.5 184.1 66.1 183.8 66.6 183.5 67.0 183.2 67.5 182.8 68.0 182.6 68.4 182.1 68.8 181.8 69.1 181.3 69.5 181.0 69.8 180.6 70.1 180.1 70.4 179.6 70.7 179.1 71.0 178.6 71.2 178.1 71.4 177.6 71.6 177.0 71.8 176.3 72.0 175.8 72.2 175.3 72.3 174.6 72.5 174.1 72.6 173.3 72.8 172.8 72.8 172.1 73.0 171.6 73.1 170.8 73.2 170.1 73.3 169.6 73.4 168.8 73.5 168.3 73.6 167.6 73.8 167.1 73.9 166.3 74.0 165.8 74.1 165.1 74.3 164.6 74.4 163.8 74.5 163.3 74.6 162.6 74.7 161.9 74.8 161.3 74.9 160.6 75.0 159.8 75.0 159.3 75.1 158.6 75.1 157.8 75.1 157.1 75.2 156.3 75.2 155.6 75.2 154.8 75.1 154.1 75.1 153.3 75.1 152.6 75.1 151.8 75.2 151.3 75.3 150.7 75.5 150.3 75.8 149.8 76.2 149.4 76.5 149.0 76.8 148.4 77.0Z" stroke="#4a4a4a" stroke-width="0.5" fill="none" fill-rule="evenodd"/>
<path d="M139.8 46.9 139.1 46.9 138.6 46.8 138.1 46.5 137.6 46.2 137.2 45.8 136.8 45.3 136.6 44.9 136.3 44.5 136.1 44.0 135.8 43.5 135.5 43.0 135.3 42.5 135.0 42.0 134.7 41.5 134.4 41.0 134.1 40.5 133.8 40.0 133.7 39.5 133.6 39.0 133.5 38.3 133.6 37.8 133.8 37.3 134.1 36.8 134.5 36.3 134.8 36.0 135.3 35.6 135.8 35.3 136.3 35.0 136.8 34.8 137.3 34.6 137.8 34.5 138.6 34.3 139.1 34.2 139.8 34.2 140.6 34.2 141.3 34.2 142.1 34.3 142.6 34.4 143.3 34.5 143.8 34.7 144.3 34.9 144.8 35.1 145.3 35.4 145.8 35.7 146.2 36.0 146.6 36.4 146.8 36.8 147.1 37.3 147.3 37.8 147.4 38.5 147.3 39.3 147.1 39.8 146.8 40.3 146.6 40.6 146.1 41.0 145.8 41.3 145.3 41.7 144.9 42.0 144.5 42.3 144.1 42.7 143.6 43.0 143.3 43.4 143.0 43.8 142.6 44.3 142.3 44.7 142.1 45.1 141.7 45.5 141.3 46.0 140.9 46.3 140.6 46.6 140.0 46.8ZM158.8 72.1 158.1 72.2 157.3 72.2 156.6 72.3 155.8 72.3 155.1 72.3 154.3 72.2 153.6 72.2 152.8 72.1 152.2 72.0 151.6 72.0 150.8 71.9 150.3 71.8 149.6 71.7 148.8 71.6 148.1 71.6 147.3 71.6 146.6 71.7 145.8 71.6 145.3 71.5 144.8 71.2 144.3 70.9 143.8 70.6 143.5 70.3 143.1 69.9 142.7 69.5 142.3 69.0 142.1 68.7 141.7 68.3 141.4 67.8 141.1 67.3 140.9 66.8 140.7 66.3 140.6 65.5 140.6 64.8 140.8 64.1 141.0 63.5 141.3 63.1 141.6 62.7 141.9 62.3 142.3 61.8 142.6 61.5 143.1 61.1 143.4 60.8 143.8 60.5 144.3 60.1 144.8 59.8 145.3 59.6 145.8 59.4 146.4 59.3 147.1 59.2 147.8 59.2 148.6 59.2 149.3 59.2 150.1 59.2 150.8 59.1 151.3 59.0 152.1 58.9 152.8 58.9 153.5 58.8 154.1 58.8 154.8 58.7 155.6 58.7 156.3 58.7 157.1 58.8 157.8 58.8 158.3 58.8 159.1 58.9 159.8 59.0 160.3 59.1 161.1 59.2 161.8 59.2 162.6 59.3 163.3 59.3 164.1 59.2 164.6 59.0 165.3 58.8 165.8 58.6 166.3 58.4 166.8 58.2 167.3 58.0 167.8 57.8 168.5 57.5 169.1 57.4 169.6 57.3 170.3 57.1 170.8 57.0 171.6 56.9 172.3 56.8 173.1 56.8 173.8 56.9 174.6 57.0 175.1 57.1 175.8 57.3 176.3 57.4 176.8 57.6 177.3 57.8 177.8 58.1 178.3 58.4 178.8 58.7 179.2 59.0 179.6 59.4 179.9 59.8 180.3 60.3 180.6 60.7 180.8 61.2 181.0 61.8 181.1 62.3 181.2 63.0 181.2 63.8 181.1 64.3 180.8 65.0 180.6 65.5 180.3 66.0 180.1 66.3 179.7 66.8 179.3 67.2 178.8 67.5 178.5 67.8 178.1 68.1 177.6 68.4 177.1 68.6 176.6 68.8 176.0 69.0 175.3 69.3 174.8 69.4 174.1 69.5 173.6 69.6 172.8 69.7 172.1 69.8 171.3 69.8 170.6 69.8 169.8 69.8 169.3 69.8 168.6 69.8 167.8 69.9 167.1 70.0 166.6 70.1 165.8 70.2 165.3 70.4 164.7 70.5 164.1 70.8 163.6 70.9 163.1 71.1 162.4 71.3 161.8 71.5 161.3 71.6 160.6 71.8 160.1 71.9 159.3 72.0 158.8 72.1Z" stroke="#4a4a4a" stroke-width="0.5" fill="none" fill-rule="evenodd"/>
<path d="M140.1 46.2 139.3 46.3 138.6 46.1 138.1 45.9 137.7 45.5 137.3 45.2 137.0 44.8 136.7 44.3 136.4 43.8 136.2 43.3 135.9 42.8 135.7 42.3 135.4 41.8 135.2 41.3 134.9 40.8 134.7 40.3 134.5 39.8 134.3 39.1 134.3 38.5 134.3 38.0 134.6 37.4 134.8 37.0 135.2 36.5 135.6 36.2 136.1 35.8 136.5 35.5 137.0 35.3 137.6 35.1 138.1 34.9 138.7 34.8 139.3 34.7 140.1 34.6 140.8 34.7 141.6 34.7 142.1 34.8 142.8 35.0 143.3 35.1 143.8 35.3 144.4 35.5 144.8 35.8 145.3 36.2 145.7 36.5 146.1 36.9 146.3 37.3 146.6 38.0 146.6 38.5 146.5 39.0 146.3 39.7 146.1 40.1 145.7 40.5 145.3 40.9 144.9 41.3 144.6 41.6 144.1 42.0 143.7 42.3 143.3 42.7 143.0 43.0 142.6 43.5 142.3 43.9 142.0 44.3 141.7 44.8 141.3 45.2 141.0 45.5 140.6 45.9 140.1 46.2ZM157.6 71.6 156.8 71.6 156.1 71.7 155.3 71.7 154.6 71.6 153.8 71.6 153.3 71.5 152.6 71.5 151.8 71.3 151.3 71.3 150.6 71.1 150.1 71.0 149.3 70.9 148.8 70.8 148.1 70.6 147.6 70.5 146.8 70.4 146.3 70.3 145.6 70.1 145.1 69.9 144.6 69.6 144.2 69.3 143.8 69.0 143.4 68.5 143.1 68.2 142.8 67.8 142.4 67.3 142.2 66.8 142.0 66.3 141.8 65.5 141.9 64.8 142.1 64.2 142.3 63.7 142.6 63.3 142.9 62.8 143.3 62.4 143.6 62.0 144.1 61.7 144.6 61.3 145.0 61.0 145.5 60.8 146.1 60.6 146.6 60.5 147.3 60.4 147.8 60.3 148.6 60.2 149.3 60.1 149.8 60.0 150.6 59.8 151.1 59.8 151.8 59.6 152.4 59.5 153.1 59.5 153.8 59.4 154.6 59.4 155.3 59.3 156.1 59.3 156.8 59.4 157.6 59.4 158.3 59.5 158.8 59.6 159.6 59.7 160.3 59.8 160.8 59.9 161.6 60.0 162.3 60.0 162.8 60.1 163.4 60.0 164.1 60.0 164.7 59.8 165.3 59.6 165.8 59.4 166.3 59.2 166.8 58.9 167.3 58.7 167.8 58.5 168.3 58.3 168.9 58.0 169.6 57.8 170.1 57.7 170.8 57.6 171.3 57.5 172.1 57.4 172.8 57.4 173.6 57.4 174.3 57.5 174.8 57.6 175.6 57.8 176.1 57.9 176.6 58.1 177.1 58.4 177.6 58.6 178.1 58.9 178.5 59.3 178.8 59.6 179.3 60.0 179.6 60.4 179.8 60.8 180.1 61.3 180.3 62.0 180.4 62.5 180.5 63.3 180.4 64.0 180.2 64.5 180.0 65.0 179.7 65.5 179.4 66.0 179.1 66.5 178.7 66.8 178.3 67.1 177.8 67.5 177.3 67.8 176.8 68.0 176.3 68.3 175.8 68.5 175.3 68.6 174.6 68.8 174.1 68.9 173.3 69.0 172.8 69.1 172.1 69.1 171.3 69.1 170.6 69.1 169.8 69.1 169.1 69.1 168.4 69.0 168.1 69.1 167.3 69.1 166.6 69.2 166.0 69.3 165.3 69.5 164.8 69.6 164.3 69.8 163.7 70.0 163.1 70.3 162.6 70.5 162.1 70.6 161.5 70.8 160.8 71.0 160.3 71.1 159.6 71.3 159.1 71.4 158.3 71.5 157.7 71.5Z" stroke="#4a4a4a" stroke-width="0.5" fill="none" fill-rule="evenodd"/>
<path d="M139.8 45.6 139.1 45.6 138.6 45.5 138.1 45.1 137.7 44.8 137.3 44.3 137.1 43.9 136.8 43.5 136.6 43.0 136.3 42.5 136.1 41.9 135.8 41.4 135.6 40.9 135.3 40.3 135.1 39.8 135.0 39.3 135.0 38.5 135.1 38.0 135.3 37.5 135.6 37.0 136.1 36.6 136.4 36.3 136.8 36.0 137.3 35.8 137.8 35.5 138.6 35.3 139.1 35.2 139.8 35.2 140.6 35.1 141.3 35.2 141.9 35.3 142.6 35.4 143.1 35.6 143.6 35.8 144.1 36.1 144.6 36.4 145.0 36.8 145.3 37.2 145.6 37.6 145.8 38.3 145.7 39.0 145.5 39.5 145.2 40.0 144.8 40.5 144.5 40.8 144.1 41.3 143.7 41.5 143.3 42.0 143.0 42.3 142.6 42.8 142.3 43.1 142.0 43.5 141.6 44.0 141.3 44.5 141.0 44.8 140.6 45.2 140.1 45.5ZM158.3 70.8 157.6 70.9 156.8 71.0 156.1 71.0 155.3 71.0 154.6 71.0 153.8 71.0 153.1 70.9 152.4 70.8 151.8 70.7 151.1 70.5 150.6 70.4 150.1 70.3 149.3 70.1 148.8 69.9 148.3 69.7 147.8 69.5 147.1 69.3 146.6 69.0 146.1 68.8 145.7 68.5 145.3 68.2 144.8 67.8 144.6 67.4 144.3 67.0 144.0 66.5 143.8 65.8 143.8 65.3 143.8 64.8 144.1 64.1 144.3 63.7 144.6 63.3 145.0 62.8 145.3 62.5 145.8 62.2 146.3 61.9 146.8 61.7 147.3 61.5 147.9 61.3 148.6 61.1 149.1 60.9 149.6 60.8 150.3 60.6 150.8 60.5 151.6 60.3 152.1 60.2 152.8 60.1 153.5 60.0 154.1 60.0 154.8 60.0 155.6 59.9 156.3 60.0 157.1 60.0 157.6 60.1 158.3 60.1 159.1 60.3 159.6 60.3 160.3 60.5 160.8 60.6 161.6 60.7 162.1 60.8 162.8 60.9 163.6 60.9 164.2 60.8 164.8 60.7 165.3 60.5 165.8 60.2 166.3 60.0 166.8 59.7 167.3 59.4 167.8 59.2 168.3 58.9 168.8 58.7 169.3 58.5 170.1 58.3 170.6 58.2 171.2 58.0 171.8 58.0 172.6 57.9 173.3 57.9 174.1 58.0 174.6 58.1 175.3 58.3 175.8 58.4 176.3 58.6 176.8 58.9 177.3 59.2 177.8 59.5 178.1 59.8 178.6 60.2 178.8 60.5 179.2 61.0 179.4 61.5 179.6 62.0 179.7 62.8 179.7 63.5 179.6 64.3 179.3 64.8 179.1 65.3 178.8 65.7 178.5 66.0 178.1 66.5 177.7 66.8 177.3 67.1 176.8 67.4 176.3 67.6 175.8 67.8 175.2 68.0 174.6 68.2 174.1 68.3 173.3 68.4 172.6 68.5 171.8 68.5 171.1 68.5 170.3 68.5 169.6 68.4 168.8 68.3 168.3 68.3 167.6 68.2 166.8 68.3 166.3 68.3 165.6 68.5 165.1 68.6 164.6 68.8 164.0 69.0 163.4 69.3 162.8 69.5 162.3 69.7 161.8 69.9 161.3 70.1 160.7 70.3 160.1 70.5 159.6 70.6 158.8 70.8 158.3 70.8Z" stroke="#4a4a4a" stroke-width="0.5" fill="none" fill-rule="evenodd"/>
<path d="M139.8 44.9 139.1 44.9 138.6 44.7 138.1 44.3 137.8 44.0 137.4 43.5 137.1 43.0 136.9 42.5 136.7 42.0 136.4 41.5 136.2 41.0 136.0 40.5 135.8 39.8 135.7 39.3 135.7 38.5 135.8 38.0 136.1 37.5 136.5 37.0 136.8 36.8 137.3 36.4 137.8 36.2 138.3 36.0 139.0 35.8 139.6 35.7 140.3 35.7 141.1 35.7 141.6 35.8 142.3 36.0 142.8 36.1 143.3 36.4 143.8 36.7 144.2 37.0 144.6 37.5 144.8 38.0 144.9 38.5 144.8 39.1 144.6 39.7 144.3 40.1 143.9 40.5 143.6 40.9 143.2 41.3 142.8 41.7 142.5 42.0 142.1 42.5 141.8 43.0 141.6 43.3 141.2 43.8 140.8 44.2 140.4 44.5 140.0 44.8ZM157.6 70.3 156.8 70.4 156.1 70.4 155.3 70.4 154.6 70.4 153.8 70.4 153.2 70.3 152.6 70.2 151.8 70.0 151.3 69.9 150.8 69.8 150.1 69.5 149.6 69.4 149.1 69.1 148.6 68.9 148.1 68.6 147.6 68.3 147.2 68.0 146.8 67.7 146.5 67.3 146.1 66.8 145.9 66.3 145.8 65.6 145.8 65.3 145.9 64.5 146.2 64.0 146.5 63.5 146.8 63.2 147.3 62.8 147.6 62.5 148.1 62.3 148.6 62.0 149.1 61.8 149.7 61.5 150.3 61.3 150.8 61.2 151.4 61.0 152.1 60.9 152.6 60.8 153.3 60.7 154.1 60.6 154.8 60.6 155.6 60.6 156.3 60.6 157.1 60.6 157.8 60.7 158.4 60.8 159.1 60.9 159.7 61.0 160.3 61.2 160.8 61.3 161.6 61.5 162.1 61.6 162.8 61.8 163.3 61.8 164.1 61.8 164.6 61.7 165.1 61.5 165.6 61.3 166.1 61.0 166.6 60.7 167.1 60.4 167.6 60.1 168.0 59.8 168.5 59.5 169.0 59.3 169.6 59.1 170.1 58.9 170.6 58.8 171.3 58.6 171.8 58.5 172.6 58.5 173.3 58.5 173.9 58.5 174.6 58.7 175.1 58.8 175.8 59.0 176.3 59.3 176.8 59.5 177.1 59.8 177.6 60.1 178.0 60.5 178.3 61.0 178.6 61.4 178.8 62.0 178.9 62.5 179.0 63.3 178.9 64.0 178.7 64.5 178.4 65.0 178.1 65.5 177.8 65.8 177.3 66.3 177.0 66.5 176.6 66.8 176.1 67.1 175.5 67.3 174.8 67.5 174.3 67.7 173.6 67.8 173.1 67.9 172.3 67.9 171.6 67.9 170.8 67.8 170.3 67.8 169.6 67.7 168.8 67.6 168.3 67.5 167.6 67.4 166.8 67.3 166.1 67.3 165.3 67.5 164.8 67.7 164.3 67.9 163.8 68.1 163.3 68.4 162.8 68.6 162.3 68.9 161.8 69.1 161.3 69.3 160.7 69.5 160.1 69.8 159.6 69.9 159.0 70.0 158.3 70.2 157.6 70.3Z" stroke="#4a4a4a" stroke-width="0.5" fill="none" fill-rule="evenodd"/>
<path d="M139.8 44.1 139.1 44.1 138.6 43.9 138.2 43.5 137.8 43.1 137.6 42.7 137.3 42.2 137.1 41.6 136.8 41.0 136.6 40.5 136.5 40.0 136.4 39.3 136.5 38.5 136.6 38.0 137.0 37.5 137.3 37.2 137.8 36.9 138.3 36.6 138.8 36.4 139.4 36.3 140.1 36.2 140.8 36.3 141.3 36.3 142.1 36.5 142.6 36.8 143.0 37.0 143.3 37.3 143.7 37.8 143.9 38.3 143.9 39.0 143.7 39.5 143.4 40.0 143.1 40.5 142.8 40.8 142.4 41.3 142.1 41.8 141.8 42.1 141.4 42.5 141.1 43.0 140.8 43.3 140.3 43.8 139.9 44.0ZM156.1 69.8 155.3 69.8 154.6 69.8 154.1 69.8 153.3 69.7 152.6 69.5 152.1 69.4 151.6 69.3 150.8 69.1 150.3 68.9 149.8 68.6 149.3 68.3 148.8 68.0 148.5 67.8 148.1 67.4 147.8 67.0 147.5 66.5 147.3 65.9 147.3 65.3 147.3 64.8 147.6 64.3 147.9 63.8 148.3 63.3 148.7 63.0 149.1 62.8 149.6 62.5 150.1 62.2 150.6 62.0 151.2 61.8 151.8 61.6 152.3 61.5 153.1 61.4 153.6 61.3 154.3 61.2 155.1 61.2 155.8 61.2 156.6 61.2 157.3 61.3 157.8 61.4 158.6 61.5 159.1 61.6 159.7 61.8 160.3 62.0 160.8 62.1 161.3 62.3 161.9 62.5 162.6 62.8 163.1 62.9 163.6 63.1 164.3 63.2 164.8 63.0 165.3 62.8 165.8 62.5 166.3 62.0 166.6 61.8 167.1 61.4 167.4 61.0 167.8 60.8 168.3 60.4 168.8 60.1 169.3 59.8 169.8 59.6 170.3 59.4 170.8 59.3 171.6 59.1 172.2 59.0 172.8 59.0 173.3 59.0 174.1 59.1 174.7 59.3 175.3 59.5 175.8 59.7 176.3 60.0 176.8 60.3 177.1 60.5 177.5 61.0 177.8 61.5 178.1 62.0 178.2 62.5 178.2 63.3 178.1 64.0 177.9 64.5 177.6 65.0 177.3 65.4 176.9 65.8 176.6 66.1 176.1 66.4 175.6 66.6 175.1 66.8 174.3 67.0 173.8 67.2 173.1 67.3 172.5 67.3 172.0 67.3 171.3 67.3 170.6 67.2 169.9 67.0 169.3 66.9 168.8 66.8 168.1 66.6 167.6 66.4 167.1 66.3 166.3 66.1 165.8 66.0 165.3 66.0 164.6 66.3 164.2 66.5 163.8 66.8 163.3 67.2 162.8 67.5 162.4 67.8 162.0 68.0 161.6 68.3 161.1 68.6 160.6 68.8 159.9 69.0 159.3 69.3 158.8 69.4 158.1 69.5 157.6 69.7 156.8 69.7 156.1 69.8Z" stroke="#4a4a4a" stroke-width="0.5" fill="none" fill-rule="evenodd"/>
<path d="M139.8 43.1 139.1 43.2 138.6 42.9 138.3 42.5 137.9 42.0 137.7 41.5 137.5 41.0 137.3 40.5 137.1 39.8 137.1 39.0 137.3 38.5 137.6 38.0 138.0 37.5 138.4 37.3 139.0 37.0 139.6 36.9 140.3 36.9 141.1 37.0 141.6 37.1 142.1 37.4 142.6 37.8 142.8 38.2 142.9 38.8 142.8 39.5 142.6 40.0 142.3 40.4 142.0 40.8 141.6 41.3 141.3 41.7 141.1 42.1 140.6 42.5 140.3 42.8 139.8 43.1ZM173.6 66.6 172.8 66.7 172.1 66.7 171.3 66.6 170.8 66.5 170.1 66.4 169.6 66.2 169.1 66.0 168.6 65.8 168.1 65.5 167.6 65.1 167.3 64.8 167.0 64.3 166.9 63.5 167.1 63.0 167.3 62.5 167.6 62.0 168.1 61.6 168.4 61.3 168.8 60.9 169.3 60.6 169.8 60.3 170.3 60.1 170.8 59.9 171.3 59.8 172.1 59.7 172.8 59.6 173.6 59.7 174.3 59.8 174.8 60.0 175.3 60.2 175.8 60.4 176.3 60.8 176.6 61.0 177.0 61.5 177.2 62.0 177.4 62.5 177.4 63.3 177.3 63.9 177.1 64.5 176.8 64.9 176.4 65.3 176.1 65.6 175.6 65.9 175.1 66.2 174.6 66.3 173.8 66.5ZM156.8 69.1 156.1 69.1 155.3 69.2 154.6 69.1 153.8 69.1 153.3 69.0 152.6 68.8 152.1 68.7 151.6 68.5 151.0 68.3 150.5 68.0 150.1 67.8 149.6 67.4 149.2 67.0 148.8 66.5 148.6 66.0 148.6 65.3 148.8 64.5 149.1 64.1 149.3 63.8 149.8 63.4 150.3 63.0 150.7 62.8 151.3 62.6 151.8 62.4 152.3 62.2 153.1 62.1 153.6 62.0 154.3 61.9 155.1 61.8 155.8 61.8 156.6 61.9 157.3 62.0 157.8 62.1 158.6 62.3 159.1 62.4 159.6 62.6 160.1 62.8 160.7 63.0 161.1 63.3 161.6 63.6 162.1 64.0 162.4 64.3 162.7 64.8 162.7 65.5 162.5 66.0 162.2 66.5 161.8 66.9 161.4 67.3 161.1 67.6 160.6 67.9 160.1 68.1 159.6 68.4 159.1 68.6 158.3 68.8 157.8 68.9 157.1 69.0Z" stroke="#4a4a4a" stroke-width="0.5" fill="none" fill-rule="evenodd"/>
<path d="M140.1 41.9 139.3 42.0 138.8 41.8 138.4 41.3 138.2 40.8 138.0 40.3 138.0 39.5 138.1 39.0 138.3 38.5 138.8 38.1 139.3 37.8 139.8 37.7 140.6 37.8 141.1 37.9 141.5 38.3 141.8 38.8 141.8 39.1 141.6 39.8 141.4 40.3 141.1 40.8 140.8 41.1 140.4 41.5 140.1 41.9ZM173.8 65.8 173.1 66.0 172.3 66.0 171.6 65.9 170.9 65.8 170.3 65.6 169.8 65.4 169.3 65.1 169.0 64.8 168.6 64.3 168.4 63.8 168.4 63.0 168.6 62.5 168.9 62.0 169.3 61.6 169.6 61.3 170.1 61.0 170.6 60.8 171.1 60.5 171.8 60.4 172.3 60.3 173.1 60.3 173.6 60.3 174.3 60.5 174.8 60.7 175.3 61.0 175.7 61.3 176.1 61.7 176.3 62.0 176.6 62.8 176.6 63.3 176.4 63.8 176.2 64.3 175.8 64.8 175.5 65.0 175.1 65.4 174.6 65.6 174.0 65.8ZM156.8 68.3 156.1 68.4 155.3 68.4 154.6 68.4 153.8 68.3 153.3 68.2 152.6 68.0 152.1 67.8 151.6 67.6 151.1 67.3 150.7 67.0 150.3 66.6 150.1 66.2 149.9 65.5 150.0 64.8 150.3 64.4 150.6 64.0 151.1 63.7 151.6 63.4 152.1 63.2 152.6 63.0 153.2 62.8 153.8 62.7 154.6 62.6 155.3 62.6 156.1 62.6 156.8 62.7 157.5 62.8 158.1 63.0 158.6 63.1 159.1 63.3 159.6 63.6 160.1 63.9 160.4 64.3 160.8 64.8 160.9 65.3 160.8 66.0 160.6 66.4 160.2 66.8 159.8 67.2 159.3 67.5 158.8 67.7 158.3 67.9 157.8 68.1 157.1 68.3Z" stroke="#4a4a4a" stroke-width="0.5" fill="none" fill-rule="evenodd"/>
<path d="M173.6 65.1 172.8 65.2 172.1 65.2 171.5 65.0 170.8 64.8 170.4 64.5 170.1 64.2 169.8 63.8 169.7 63.0 169.9 62.5 170.2 62.0 170.6 61.8 171.1 61.5 171.6 61.2 172.3 61.1 172.8 61.0 173.3 61.1 174.1 61.3 174.6 61.5 174.9 61.8 175.3 62.3 175.5 62.8 175.5 63.5 175.2 64.0 174.8 64.5 174.3 64.8 173.8 65.0ZM155.6 67.6 155.0 67.5 154.3 67.5 153.6 67.3 153.1 67.2 152.6 66.9 152.1 66.6 151.8 66.3 151.5 65.8 151.6 65.2 151.8 64.7 152.2 64.3 152.6 64.0 153.1 63.8 153.8 63.6 154.3 63.5 155.1 63.4 155.8 63.5 156.5 63.5 157.1 63.7 157.6 63.8 158.1 64.1 158.6 64.4 158.9 64.8 159.1 65.3 159.1 65.8 158.8 66.3 158.3 66.7 157.8 67.0 157.3 67.2 156.8 67.4 156.1 67.5 155.6 67.6Z" stroke="#4a4a4a" stroke-width="0.5" fill="none" fill-rule="evenodd"/>
<path d="M173.1 64.1 172.3 64.1 171.8 63.9 171.4 63.5 171.4 62.8 171.8 62.4 172.3 62.2 173.1 62.2 173.6 62.3 174.0 62.8 174.1 63.1 173.8 63.7 173.3 64.0ZM155.8 66.1 155.1 66.2 154.5 66.0 154.1 65.6 154.1 65.3 154.6 65.0 155.3 64.8 156.1 65.0 156.4 65.3 156.3 65.8 155.8 66.1Z" stroke="#4a4a4a" stroke-width="0.5" fill="none" fill-rule="evenodd"/>
</g>
<rect x="131.80" y="20.30" width="59.50" height="58.30" fill="none" stroke="#3a3a3a" stroke-width="1.0"/>
<rect x="131.80" y="28.90" width="23.60" height="20.40" fill="none" stroke="#333" stroke-width="0.9"/>
<rect x="164.30" y="49.90" width="27.00" height="28.70" fill="none" stroke="#333" stroke-width="0.9"/>
<text x="135.40" y="37.10" font-size="9.0" font-weight="normal" text-anchor="start" fill="#000" stroke="#000" stroke-width="0.3">15.6</text>
<text x="187.30" y="77.70" font-size="9.0" font-weight="normal" text-anchor="end" fill="#000" stroke="#000" stroke-width="0.3">45.2</text>
<line x1="130.30" y1="33.30" x2="131.80" y2="33.30" stroke="#444" stroke-width="0.7" />
<line x1="130.30" y1="47.80" x2="131.80" y2="47.80" stroke="#444" stroke-width="0.7" />
<line x1="130.30" y1="62.30" x2="131.80" y2="62.30" stroke="#444" stroke-width="0.7" />
<line x1="130.30" y1="76.80" x2="131.80" y2="76.80" stroke="#444" stroke-width="0.7" />
<clipPath id="a3"><rect x="66.8" y="84.2" width="59.2" height="57.10000000000001"/></clipPath>
<g clip-path="url(#a3)">
<path d="M110.2 112.4h.6M86.8 139.2h.6M95.9 106.9h.6M78.6 118.4h.6M95.5 118.7h.6M118.5 116.7h.6M72.5 109.2h.6M117.6 127.3h.6M68.2 124.6h.6M67.1 129.8h.6M113.4 139.4h.6M76.4 136.5h.6M70.9 124.6h.6M91.2 109.3h.6M82.8 108.3h.6M92.2 116.2h.6M89.1 140.2h.6M112.1 141.5h.6M110.7 117.8h.6M104.8 111.7h.6M125.2 122.3h.6M122.2 132.7h.6M72.3 129.0h.6M116.7 130.7h.6M107.3 138.4h.6M110.5 139.1h.6M107.0 140.3h.6M72.3 135.7h.6M95.1 108.8h.6M82.9 119.2h.6M78.3 104.2h.6M82.0 115.2h.6M83.2 105.8h.6M91.8 116.5h.6M111.5 120.1h.6M113.6 134.1h.6M122.4 103.7h.6M68.8 116.1h.6M118.0 128.8h.6M86.9 115.1h.6M103.8 117.7h.6M83.3 118.3h.6M94.0 102.4h.6M68.5 118.7h.6M83.2 119.8h.6M99.0 136.3h.6M85.2 103.9h.6M85.4 115.1h.6M122.3 134.1h.6M76.8 104.6h.6M121.5 130.9h.6M114.5 115.9h.6M117.2 137.5h.6M70.5 119.7h.6M77.9 106.3h.6M75.2 137.1h.6M73.9 134.9h.6M90.6 104.2h.6M69.5 141.5h.6M76.8 122.2h.6M113.1 133.2h.6M97.2 108.3h.6M114.4 111.5h.6M86.2 103.7h.6M97.8 107.7h.6M82.1 115.2h.6M101.3 140.4h.6M119.7 134.5h.6M112.3 137.3h.6M117.2 128.2h.6M66.7 117.1h.6M85.3 105.5h.6M83.5 113.4h.6M100.7 102.6h.6M86.2 138.7h.6M74.8 123.3h.6M73.9 95.7h.6M94.8 98.5h.6M101.1 119.3h.6M72.8 126.8h.6M119.3 103.1h.6M93.7 140.9h.6M67.0 130.6h.6M99.3 108.5h.6M125.9 130.5h.6M79.0 141.4h.6M108.6 109.9h.6M80.4 141.7h.6M100.8 115.4h.6M72.3 122.1h.6M116.5 136.8h.6M71.9 105.9h.6M68.6 131.5h.6M77.1 103.5h.6M106.2 135.7h.6M97.6 136.8h.6M83.6 96.1h.6M105.5 110.4h.6M83.7 107.7h.6M105.6 136.6h.6M113.1 114.1h.6M125.8 130.1h.6M77.9 120.7h.6M91.1 115.7h.6M110.8 137.5h.6M114.2 102.5h.6M104.6 117.6h.6M121.8 120.5h.6M100.0 109.3h.6M68.7 131.9h.6M116.4 131.3h.6M118.6 125.4h.6M76.4 120.1h.6M81.1 96.9h.6M126.3 139.2h.6M116.0 115.2h.6M94.2 137.4h.6M84.4 138.5h.6M101.0 116.7h.6M110.8 138.1h.6M119.3 123.0h.6M115.1 139.0h.6M124.3 127.8h.6M96.5 105.8h.6M92.3 117.4h.6M75.8 122.8h.6M98.3 139.9h.6M89.6 113.6h.6M105.1 119.6h.6M87.1 110.3h.6M117.6 138.9h.6M91.0 118.5h.6M112.2 113.0h.6M72.7 107.7h.6M118.4 109.1h.6M97.8 121.1h.6M70.8 135.5h.6M113.3 103.0h.6M122.3 126.2h.6M113.3 141.2h.6M87.5 97.2h.6M108.2 118.2h.6M75.5 139.1h.6M98.5 119.1h.6M96.3 141.5h.6M124.0 116.4h.6M103.2 109.3h.6M89.2 140.1h.6M78.5 111.3h.6M77.1 137.9h.6M96.8 117.7h.6M122.0 129.4h.6M85.8 120.5h.6M90.0 109.3h.6M91.4 113.1h.6M73.0 125.8h.6M72.3 124.3h.6M69.6 137.3h.6M83.4 140.5h.6M77.7 116.8h.6M69.6 132.8h.6M71.0 135.2h.6M115.5 116.1h.6M74.5 137.8h.6M96.6 120.2h.6M80.9 99.6h.6M80.7 114.7h.6M98.1 138.7h.6M91.8 94.9h.6M93.6 104.2h.6M89.5 108.2h.6M70.4 131.5h.6M117.7 132.1h.6M75.8 120.2h.6M78.5 92.2h.6M102.0 118.0h.6M82.9 118.6h.6M99.2 136.3h.6M106.3 108.5h.6M125.5 129.2h.6M78.1 104.6h.6M68.7 121.2h.6M122.3 128.5h.6M119.8 118.8h.6M74.5 141.1h.6M113.5 137.7h.6M75.2 101.9h.6M89.3 116.4h.6M107.5 137.5h.6M70.9 126.1h.6M106.2 113.7h.6M67.8 103.4h.6M77.9 102.4h.6M72.6 98.8h.6M93.2 107.1h.6M73.6 107.5h.6M81.6 136.6h.6M67.1 129.5h.6M112.3 116.9h.6M86.1 118.2h.6M73.5 136.5h.6M82.5 115.5h.6M91.8 120.8h.6M117.5 137.5h.6M107.4 115.2h.6M92.6 117.1h.6M103.6 136.5h.6M83.6 118.7h.6M95.7 120.7h.6M71.3 136.8h.6M80.5 120.5h.6M88.0 141.4h.6M98.0 116.5h.6M115.8 116.0h.6M112.3 134.9h.6M89.1 116.5h.6M102.9 115.3h.6M112.9 117.1h.6M88.2 111.3h.6M79.0 104.6h.6M106.8 114.5h.6M88.6 110.1h.6M90.3 118.4h.6M89.1 114.6h.6M76.9 138.7h.6M103.9 111.5h.6M95.1 140.2h.6M122.3 133.9h.6M120.3 122.7h.6M91.2 120.0h.6M69.5 133.9h.6M116.3 125.5h.6M80.8 118.5h.6M95.9 116.9h.6M122.0 116.3h.6M91.6 137.6h.6M94.0 137.1h.6M115.0 113.2h.6M81.7 102.9h.6M80.1 139.9h.6M103.4 136.7h.6M94.1 113.4h.6M66.9 133.0h.6M71.8 103.2h.6M123.6 123.2h.6M101.4 136.8h.6M115.0 131.7h.6M105.2 115.6h.6M125.4 127.3h.6M112.3 97.0h.6M105.5 110.9h.6M98.5 114.0h.6M105.6 116.8h.6M89.4 139.9h.6M82.4 91.2h.6M98.2 113.0h.6M79.4 114.1h.6M68.3 119.7h.6M98.5 138.7h.6M71.1 135.3h.6M103.5 106.0h.6M95.3 97.6h.6M70.3 129.6h.6M112.6 120.7h.6M101.5 113.8h.6M110.7 117.5h.6M96.6 136.9h.6M106.1 114.0h.6M96.3 140.2h.6M72.8 134.5h.6M106.4 115.0h.6M93.1 137.3h.6M88.0 101.3h.6M85.5 94.8h.6M85.8 119.8h.6M104.9 137.7h.6M85.4 137.8h.6M81.4 119.2h.6M76.7 115.0h.6M70.1 95.3h.6M123.0 122.7h.6M100.4 117.3h.6M92.3 119.4h.6M74.8 119.8h.6M107.2 110.8h.6M120.3 125.7h.6M95.4 139.1h.6M76.8 120.3h.6M83.8 140.5h.6M115.6 134.5h.6M70.7 108.2h.6M116.5 114.2h.6M81.5 116.4h.6M85.4 107.9h.6M73.8 123.7h.6M108.6 108.3h.6M100.3 120.0h.6M76.3 113.5h.6M107.1 113.0h.6M67.0 135.6h.6M102.5 108.1h.6M113.6 132.2h.6M121.3 120.5h.6M100.8 111.0h.6M101.5 138.8h.6M90.0 120.6h.6M106.7 113.8h.6M74.8 134.7h.6M104.5 115.7h.6M83.3 110.0h.6M111.9 139.6h.6M122.8 137.7h.6M97.7 139.2h.6M91.0 102.1h.6M101.1 114.7h.6M72.1 133.8h.6M113.6 116.6h.6M119.9 132.1h.6M113.0 137.5h.6M105.4 136.0h.6M73.3 123.9h.6M98.8 114.1h.6M85.2 108.7h.6M117.0 131.5h.6M98.4 137.4h.6M116.1 129.0h.6M114.2 121.4h.6M114.5 135.2h.6M76.6 137.6h.6M109.3 133.7h.6M104.9 134.7h.6M82.5 140.7h.6M111.2 141.1h.6M68.7 132.5h.6M97.6 140.0h.6M121.1 129.2h.6M84.7 100.2h.6M77.6 102.6h.6M109.0 136.7h.6M120.8 126.1h.6M78.8 108.3h.6M73.4 90.7h.6M92.4 114.5h.6M98.9 118.3h.6M92.1 111.7h.6M108.2 138.7h.6M106.7 139.6h.6M120.1 139.9h.6M97.5 92.3h.6M106.8 136.2h.6M105.9 115.2h.6M93.1 110.7h.6M106.3 134.1h.6M68.3 118.1h.6M102.4 105.3h.6M81.5 108.0h.6M122.9 126.9h.6M90.2 93.1h.6M98.5 138.6h.6M104.7 136.5h.6M98.9 138.3h.6M125.4 132.7h.6M102.9 117.3h.6M91.4 137.6h.6M125.8 123.4h.6M70.1 126.3h.6M70.6 123.0h.6M77.1 118.2h.6M116.3 137.3h.6M85.6 113.4h.6M107.5 102.9h.6M118.3 137.9h.6M81.9 138.9h.6M107.5 118.3h.6M68.8 99.2h.6" stroke="#5a5a5a" stroke-width="0.6" fill="none"/>
<path d="M81.3 141.2 80.5 141.3 79.8 141.3 79.3 141.2 78.6 140.9 78.1 140.7 77.6 140.4 77.2 140.2 76.8 139.9 76.3 139.5 75.9 139.2 75.5 138.9 75.0 138.5 74.7 138.2 74.3 137.8 73.9 137.4 73.5 137.1 73.2 136.7 72.8 136.3 72.5 135.9 72.0 135.5 71.7 135.2 71.3 134.8 71.0 134.4 70.5 134.0 70.3 133.7 69.9 133.2 69.5 132.7 69.3 132.2 69.1 131.7 68.9 131.2 68.8 130.7 68.7 129.9 68.6 129.2 68.6 128.4 68.7 127.7 68.8 127.2 69.0 126.5 69.2 126.0 69.4 125.5 69.6 125.0 70.0 124.5 70.3 124.0 70.6 123.7 71.0 123.2 71.4 123.0 71.8 122.6 72.3 122.2 72.6 122.0 73.0 121.6 73.5 121.2 73.8 121.0 74.3 120.6 74.8 120.2 75.1 120.0 75.5 119.6 76.0 119.3 76.5 119.0 77.0 118.7 77.4 118.5 77.9 118.2 78.5 118.0 79.0 117.8 79.5 117.6 80.3 117.5 80.8 117.4 81.5 117.4 82.1 117.5 82.8 117.6 83.5 117.7 84.0 117.8 84.8 117.8 85.5 117.8 86.3 117.8 87.0 117.8 87.8 117.7 88.5 117.7 89.0 117.7 89.8 117.6 90.5 117.6 91.3 117.6 92.0 117.6 92.8 117.7 93.5 117.7 94.0 117.7 94.8 117.8 95.5 117.8 96.3 117.9 97.0 118.0 97.5 118.0 98.3 118.0 99.0 118.0 99.8 118.0 100.5 118.0 101.3 118.0 101.8 117.9 102.5 117.8 103.3 117.7 103.8 117.7 104.5 117.6 105.3 117.6 106.0 117.5 106.8 117.5 107.5 117.5 108.3 117.6 109.0 117.6 109.6 117.7 110.3 117.8 110.9 118.0 111.5 118.1 112.0 118.2 112.7 118.5 113.3 118.7 113.8 118.9 114.3 119.2 114.8 119.4 115.3 119.7 115.6 120.0 116.0 120.2 116.5 120.6 116.9 121.0 117.3 121.3 117.7 121.7 118.0 122.2 118.3 122.5 118.6 123.0 118.9 123.5 119.1 124.0 119.3 124.5 119.5 125.1 119.7 125.7 119.8 126.5 119.8 127.2 119.7 128.0 119.6 128.7 119.5 129.2 119.3 129.7 119.0 130.2 118.8 130.7 118.5 131.2 118.1 131.7 117.8 132.1 117.5 132.4 117.0 132.9 116.7 133.2 116.3 133.5 115.8 133.9 115.4 134.2 115.0 134.4 114.5 134.7 114.0 135.0 113.5 135.3 113.0 135.5 112.5 135.7 112.0 135.9 111.3 136.2 110.8 136.4 110.3 136.5 109.8 136.7 109.0 136.9 108.5 137.1 108.0 137.2 107.3 137.4 106.8 137.6 106.3 137.7 105.5 137.9 105.0 138.1 104.5 138.2 103.8 138.4 103.3 138.5 102.7 138.7 102.0 138.9 101.5 139.0 100.8 139.2 100.3 139.3 99.7 139.4 99.0 139.6 98.4 139.7 97.8 139.8 97.0 139.9 96.5 140.0 95.8 140.1 95.0 140.2 94.5 140.2 93.8 140.3 93.0 140.3 92.3 140.4 91.5 140.4 90.8 140.4 90.0 140.4 89.3 140.3 88.5 140.3 87.8 140.3 87.2 140.2 86.5 140.2 85.8 140.1 85.0 140.1 84.3 140.1 83.8 140.2 83.1 140.4 82.5 140.7 82.0 140.9 81.5 141.1Z" stroke="#4a4a4a" stroke-width="0.5" fill="none" fill-rule="evenodd"/>
<path d="M93.3 136.7 92.5 136.8 91.8 136.8 91.0 136.9 90.3 136.9 89.5 136.9 88.8 136.8 88.0 136.8 87.4 136.7 86.8 136.6 86.0 136.5 85.5 136.4 84.8 136.3 84.3 136.1 83.5 136.0 83.0 135.8 82.5 135.7 81.8 135.6 81.0 135.5 80.5 135.4 79.8 135.4 79.3 135.5 78.5 135.5 78.0 135.4 77.3 135.2 76.8 134.9 76.5 134.7 76.0 134.3 75.7 133.9 75.3 133.6 75.0 133.2 74.6 132.7 74.3 132.2 74.0 131.9 73.8 131.4 73.5 130.9 73.2 130.4 73.0 129.9 72.9 129.2 72.9 128.4 73.0 127.7 73.2 127.2 73.5 126.7 73.8 126.2 74.0 125.9 74.4 125.5 74.8 125.0 75.1 124.7 75.5 124.2 75.8 124.0 76.3 123.6 76.8 123.2 77.2 123.0 77.8 122.7 78.3 122.5 78.8 122.4 79.5 122.4 80.3 122.4 81.0 122.4 81.8 122.3 82.4 122.2 83.0 122.1 83.7 122.0 84.3 121.8 84.9 121.7 85.5 121.6 86.3 121.5 86.8 121.4 87.5 121.3 88.3 121.2 88.8 121.2 89.5 121.1 90.3 121.1 91.0 121.1 91.8 121.1 92.5 121.2 93.0 121.2 93.8 121.3 94.5 121.4 95.0 121.5 95.8 121.6 96.5 121.7 97.0 121.7 97.8 121.8 98.5 121.8 99.3 121.7 99.8 121.7 100.5 121.5 101.0 121.4 101.8 121.2 102.3 121.0 102.8 120.9 103.5 120.7 104.0 120.6 104.6 120.5 105.3 120.3 106.0 120.2 106.5 120.2 107.3 120.1 108.0 120.1 108.7 120.2 109.3 120.3 110.0 120.4 110.5 120.5 111.1 120.7 111.7 121.0 112.3 121.2 112.8 121.5 113.2 121.7 113.5 122.0 114.0 122.4 114.4 122.7 114.8 123.1 115.1 123.5 115.4 124.0 115.7 124.5 115.9 125.0 116.0 125.6 116.1 126.2 116.2 127.0 116.1 127.7 115.9 128.2 115.7 128.7 115.5 129.2 115.2 129.7 114.8 130.2 114.5 130.5 114.1 130.9 113.8 131.2 113.3 131.6 112.8 131.9 112.3 132.2 111.8 132.4 111.3 132.6 110.8 132.8 110.3 133.0 109.6 133.2 109.0 133.3 108.4 133.4 107.8 133.6 107.0 133.7 106.5 133.7 105.8 133.8 105.0 133.9 104.3 133.9 103.8 134.0 103.0 134.2 102.5 134.3 101.8 134.4 101.3 134.6 100.8 134.8 100.3 135.0 99.6 135.2 99.0 135.4 98.5 135.6 98.0 135.7 97.3 135.9 96.8 136.1 96.3 136.2 95.5 136.4 95.0 136.5 94.3 136.6 93.5 136.7Z" stroke="#4a4a4a" stroke-width="0.5" fill="none" fill-rule="evenodd"/>
<path d="M93.0 136.0 92.3 136.0 91.5 136.1 90.8 136.1 90.0 136.1 89.3 136.1 88.5 136.0 87.8 136.0 87.3 135.9 86.5 135.8 86.0 135.7 85.3 135.5 84.8 135.4 84.1 135.2 83.5 135.0 83.0 134.9 82.5 134.7 81.8 134.4 81.3 134.3 80.8 134.1 80.3 133.9 79.6 133.7 79.0 133.5 78.5 133.4 78.0 133.2 77.5 132.9 77.0 132.6 76.6 132.2 76.3 131.8 76.0 131.4 75.7 130.9 75.4 130.4 75.2 129.9 75.0 129.4 74.9 128.7 75.0 128.0 75.2 127.5 75.5 127.0 75.8 126.5 76.0 126.1 76.4 125.7 76.8 125.3 77.2 125.0 77.6 124.7 78.2 124.5 78.8 124.3 79.3 124.1 80.0 124.0 80.5 123.8 81.0 123.7 81.8 123.5 82.3 123.3 82.8 123.1 83.5 123.0 84.0 122.8 84.5 122.6 85.3 122.5 85.8 122.4 86.5 122.2 87.0 122.1 87.8 122.0 88.5 122.0 89.0 121.9 89.8 121.9 90.5 121.9 91.3 121.9 92.0 121.9 92.5 122.0 93.3 122.1 94.0 122.1 94.5 122.2 95.3 122.3 96.0 122.4 96.5 122.5 97.3 122.6 98.0 122.7 98.8 122.6 99.5 122.6 100.1 122.5 100.8 122.3 101.3 122.1 101.8 122.0 102.5 121.7 103.0 121.5 103.5 121.4 104.1 121.2 104.8 121.0 105.3 120.9 106.0 120.8 106.8 120.7 107.5 120.7 108.3 120.7 109.0 120.8 109.8 121.0 110.3 121.1 110.8 121.2 111.4 121.5 111.9 121.7 112.4 122.0 112.8 122.2 113.3 122.6 113.7 123.0 114.0 123.3 114.4 123.7 114.7 124.2 115.0 124.7 115.2 125.2 115.3 125.7 115.4 126.5 115.4 127.2 115.3 127.7 115.0 128.4 114.8 128.9 114.5 129.3 114.3 129.7 113.9 130.2 113.5 130.5 113.0 130.9 112.6 131.2 112.2 131.4 111.8 131.7 111.3 131.9 110.6 132.2 110.0 132.4 109.5 132.5 108.8 132.7 108.3 132.8 107.5 132.9 107.0 132.9 106.3 133.0 105.5 133.0 104.8 133.1 104.0 133.1 103.3 133.2 102.8 133.3 102.0 133.4 101.5 133.5 101.0 133.7 100.3 133.9 99.8 134.1 99.3 134.3 98.8 134.5 98.2 134.7 97.5 134.9 97.0 135.1 96.5 135.3 95.8 135.4 95.3 135.6 94.7 135.7 94.0 135.8 93.3 135.9Z" stroke="#4a4a4a" stroke-width="0.5" fill="none" fill-rule="evenodd"/>
<path d="M92.5 135.2 91.8 135.3 91.0 135.3 90.3 135.3 89.5 135.3 88.8 135.3 88.0 135.2 87.5 135.2 86.8 135.0 86.3 134.9 85.5 134.8 85.0 134.6 84.5 134.4 83.8 134.2 83.3 134.0 82.8 133.8 82.3 133.6 81.8 133.3 81.3 133.0 80.8 132.7 80.5 132.4 80.0 132.1 79.7 131.7 79.3 131.3 79.0 130.8 78.8 130.3 78.6 129.7 78.6 128.9 78.6 128.2 78.8 127.5 79.0 127.0 79.3 126.5 79.6 126.2 80.0 125.8 80.4 125.5 80.8 125.2 81.3 124.9 81.8 124.6 82.3 124.4 82.8 124.2 83.3 124.0 84.0 123.7 84.5 123.5 85.0 123.4 85.7 123.2 86.3 123.1 86.9 123.0 87.5 122.8 88.3 122.8 88.9 122.7 89.5 122.7 90.3 122.6 91.0 122.7 91.8 122.7 92.3 122.7 93.0 122.8 93.8 122.9 94.3 123.0 95.0 123.1 95.5 123.2 96.3 123.4 96.9 123.5 97.5 123.5 98.3 123.6 99.0 123.5 99.7 123.5 100.3 123.3 100.8 123.1 101.3 122.9 101.9 122.7 102.5 122.5 103.0 122.2 103.5 122.0 104.0 121.9 104.7 121.7 105.3 121.5 105.8 121.4 106.5 121.3 107.3 121.3 108.0 121.3 108.8 121.4 109.3 121.5 110.0 121.6 110.5 121.8 111.0 122.0 111.6 122.2 112.0 122.5 112.5 122.8 113.0 123.2 113.3 123.5 113.7 124.0 114.0 124.5 114.3 125.0 114.5 125.5 114.6 126.0 114.6 126.7 114.6 127.5 114.4 128.0 114.2 128.4 113.9 128.9 113.6 129.4 113.3 129.8 112.9 130.2 112.5 130.5 112.0 130.8 111.5 131.1 111.0 131.3 110.5 131.6 110.0 131.7 109.3 131.9 108.8 132.0 108.0 132.2 107.5 132.2 106.8 132.3 106.0 132.3 105.3 132.3 104.5 132.3 103.8 132.3 103.0 132.3 102.3 132.4 101.8 132.5 101.0 132.6 100.5 132.8 100.0 133.0 99.5 133.2 98.9 133.4 98.3 133.7 97.8 133.9 97.3 134.1 96.8 134.3 96.2 134.4 95.5 134.7 95.0 134.8 94.3 134.9 93.8 135.0 93.0 135.2 92.5 135.2Z" stroke="#4a4a4a" stroke-width="0.5" fill="none" fill-rule="evenodd"/>
<path d="M92.3 134.5 91.5 134.5 90.8 134.6 90.0 134.6 89.3 134.6 88.5 134.5 88.0 134.4 87.3 134.3 86.7 134.2 86.0 134.0 85.5 133.9 84.9 133.7 84.3 133.5 83.8 133.2 83.3 133.0 82.8 132.7 82.4 132.4 82.0 132.2 81.5 131.7 81.3 131.4 80.9 130.9 80.6 130.4 80.4 129.9 80.3 129.4 80.3 128.7 80.4 128.2 80.5 127.6 80.8 127.2 81.1 126.7 81.5 126.2 81.9 126.0 82.3 125.6 82.8 125.3 83.3 125.0 83.8 124.8 84.3 124.5 84.8 124.3 85.3 124.2 86.0 124.0 86.5 123.8 87.2 123.7 87.8 123.6 88.5 123.5 89.3 123.5 89.8 123.4 90.5 123.4 91.3 123.4 91.8 123.5 92.5 123.6 93.3 123.7 93.8 123.7 94.5 123.9 95.0 124.0 95.8 124.2 96.3 124.3 97.0 124.4 97.5 124.5 98.3 124.6 99.0 124.6 99.7 124.5 100.3 124.3 100.8 124.1 101.3 123.8 101.8 123.6 102.3 123.3 102.8 123.1 103.3 122.9 103.8 122.7 104.3 122.5 105.0 122.2 105.5 122.1 106.3 122.0 106.8 121.9 107.5 121.9 108.3 121.9 108.8 122.0 109.5 122.1 110.0 122.2 110.6 122.5 111.2 122.7 111.6 123.0 112.0 123.2 112.5 123.7 112.8 124.0 113.2 124.5 113.5 125.0 113.7 125.5 113.8 126.0 113.9 126.7 113.8 127.4 113.6 128.0 113.4 128.4 113.1 128.9 112.8 129.3 112.4 129.7 112.0 130.0 111.5 130.3 111.0 130.6 110.5 130.9 110.0 131.1 109.5 131.2 108.8 131.4 108.3 131.5 107.5 131.6 106.8 131.6 106.0 131.6 105.3 131.6 104.5 131.6 103.8 131.5 103.2 131.4 102.5 131.4 101.8 131.4 101.3 131.5 100.5 131.7 100.0 131.8 99.5 132.0 99.0 132.3 98.5 132.5 98.0 132.7 97.5 133.0 97.0 133.2 96.4 133.4 95.8 133.7 95.3 133.8 94.8 134.0 94.0 134.2 93.5 134.3 92.8 134.4 92.3 134.5Z" stroke="#4a4a4a" stroke-width="0.5" fill="none" fill-rule="evenodd"/>
<path d="M91.8 133.7 91.0 133.8 90.3 133.8 89.5 133.8 88.8 133.7 88.3 133.7 87.5 133.5 87.0 133.4 86.3 133.2 85.8 133.1 85.3 132.9 84.8 132.7 84.3 132.4 83.8 132.1 83.3 131.7 83.0 131.4 82.5 131.0 82.3 130.7 82.0 130.2 81.8 129.5 81.8 128.9 81.8 128.4 82.0 127.7 82.3 127.3 82.6 127.0 83.0 126.5 83.4 126.2 83.8 125.9 84.3 125.6 84.8 125.3 85.3 125.1 85.8 124.9 86.5 124.7 87.0 124.6 87.7 124.5 88.3 124.3 89.0 124.3 89.8 124.2 90.5 124.2 91.3 124.3 92.0 124.3 92.8 124.4 93.3 124.5 94.0 124.7 94.5 124.8 95.2 125.0 95.8 125.1 96.3 125.3 96.8 125.5 97.5 125.7 98.0 125.8 98.8 125.8 99.5 125.8 100.0 125.6 100.5 125.4 101.0 125.1 101.5 124.8 102.0 124.5 102.4 124.2 102.8 123.9 103.3 123.7 103.8 123.4 104.3 123.2 104.9 123.0 105.5 122.7 106.0 122.6 106.8 122.5 107.5 122.5 108.3 122.5 109.0 122.6 109.5 122.7 110.2 123.0 110.8 123.2 111.2 123.5 111.6 123.7 112.0 124.1 112.3 124.5 112.7 125.0 112.9 125.5 113.0 126.0 113.1 126.7 113.0 127.2 112.8 128.0 112.5 128.4 112.3 128.8 111.9 129.2 111.5 129.5 111.0 129.9 110.5 130.2 110.0 130.4 109.5 130.6 109.0 130.7 108.3 130.9 107.5 130.9 107.0 131.0 106.3 131.0 105.8 130.9 105.0 130.8 104.3 130.7 103.8 130.6 103.0 130.5 102.5 130.4 101.8 130.3 101.0 130.3 100.3 130.4 99.8 130.5 99.3 130.7 98.8 131.0 98.3 131.3 97.8 131.6 97.3 131.9 96.8 132.2 96.3 132.4 95.8 132.7 95.3 132.9 94.8 133.1 94.3 133.2 93.5 133.4 93.0 133.5 92.3 133.6 91.8 133.7Z" stroke="#4a4a4a" stroke-width="0.5" fill="none" fill-rule="evenodd"/>
<path d="M108.0 130.2 107.3 130.3 106.5 130.3 105.8 130.2 105.3 130.1 104.6 129.9 104.0 129.8 103.5 129.6 103.0 129.4 102.5 129.1 102.0 128.8 101.6 128.4 101.3 128.1 101.1 127.5 101.3 126.9 101.5 126.4 101.9 126.0 102.3 125.5 102.6 125.2 103.0 124.8 103.5 124.5 103.9 124.2 104.3 124.0 104.8 123.7 105.5 123.5 106.0 123.3 106.5 123.2 107.3 123.1 108.0 123.1 108.8 123.2 109.3 123.3 109.8 123.5 110.3 123.7 110.8 124.0 111.3 124.4 111.6 124.7 111.9 125.2 112.1 125.7 112.3 126.5 112.2 127.2 112.0 127.7 111.8 128.2 111.4 128.7 111.0 129.0 110.5 129.4 110.0 129.6 109.5 129.9 109.0 130.0 108.3 130.2ZM92.3 132.7 91.5 132.8 90.8 132.9 90.0 132.9 89.3 132.9 88.5 132.8 88.0 132.7 87.3 132.5 86.8 132.4 86.2 132.2 85.7 131.9 85.2 131.7 84.8 131.4 84.3 131.0 84.0 130.7 83.6 130.2 83.4 129.7 83.3 129.1 83.3 128.7 83.5 128.0 83.8 127.5 84.1 127.2 84.5 126.8 85.0 126.5 85.4 126.2 85.9 126.0 86.5 125.7 87.0 125.5 87.5 125.4 88.3 125.2 88.8 125.2 89.5 125.1 90.3 125.1 91.0 125.1 91.8 125.2 92.3 125.2 93.0 125.4 93.5 125.5 94.2 125.7 94.8 125.9 95.3 126.1 95.8 126.4 96.3 126.6 96.8 126.9 97.3 127.2 97.6 127.5 98.0 128.0 98.2 128.4 98.1 129.2 97.8 129.6 97.5 130.0 97.1 130.4 96.8 130.7 96.3 131.1 95.8 131.4 95.4 131.7 94.9 131.9 94.3 132.2 93.8 132.4 93.3 132.5 92.5 132.7Z" stroke="#4a4a4a" stroke-width="0.5" fill="none" fill-rule="evenodd"/>
<path d="M108.0 129.5 107.3 129.5 106.5 129.5 106.0 129.4 105.3 129.2 104.8 129.0 104.3 128.8 103.8 128.4 103.5 128.2 103.2 127.7 103.1 127.0 103.3 126.2 103.5 125.7 103.8 125.4 104.3 125.0 104.6 124.7 105.1 124.5 105.6 124.2 106.3 124.0 106.8 123.9 107.5 123.8 108.3 123.8 108.9 124.0 109.5 124.2 110.0 124.4 110.4 124.7 110.8 125.1 111.0 125.5 111.3 126.1 111.4 126.7 111.3 127.2 111.0 127.7 110.7 128.2 110.3 128.6 109.8 128.9 109.3 129.2 108.8 129.3 108.3 129.4ZM92.0 131.7 91.3 131.8 90.5 131.9 89.8 131.9 89.0 131.8 88.3 131.7 87.8 131.6 87.3 131.4 86.8 131.2 86.3 130.9 85.8 130.5 85.5 130.2 85.2 129.7 85.1 128.9 85.3 128.2 85.5 127.8 85.9 127.5 86.3 127.1 86.8 126.8 87.3 126.6 87.8 126.4 88.5 126.2 89.0 126.2 89.8 126.1 90.5 126.1 91.3 126.2 91.8 126.2 92.5 126.4 93.0 126.5 93.5 126.7 94.0 127.0 94.5 127.3 95.0 127.7 95.3 128.0 95.6 128.4 95.6 129.2 95.4 129.7 95.1 130.2 94.8 130.5 94.3 130.8 93.8 131.1 93.3 131.3 92.8 131.5 92.1 131.7Z" stroke="#4a4a4a" stroke-width="0.5" fill="none" fill-rule="evenodd"/>
<path d="M108.5 128.5 107.8 128.6 107.0 128.6 106.3 128.5 105.8 128.3 105.3 128.0 105.0 127.7 104.7 127.2 104.7 126.5 104.9 126.0 105.3 125.5 105.7 125.2 106.2 125.0 106.8 124.7 107.3 124.7 108.0 124.7 108.5 124.8 109.0 125.0 109.5 125.3 109.9 125.7 110.2 126.2 110.2 127.0 110.0 127.5 109.5 127.9 109.2 128.2 108.6 128.4ZM90.3 130.5 89.8 130.4 89.0 130.3 88.5 130.1 88.0 129.8 87.7 129.4 87.7 128.7 88.0 128.2 88.4 128.0 89.0 127.7 89.5 127.6 90.3 127.5 91.0 127.6 91.5 127.7 92.0 128.0 92.5 128.3 92.8 128.8 92.8 129.2 92.5 129.7 92.0 130.0 91.5 130.2 90.8 130.4 90.3 130.5Z" stroke="#4a4a4a" stroke-width="0.5" fill="none" fill-rule="evenodd"/>
<path d="M107.8 127.2 107.2 127.2 106.8 126.9 106.8 126.4 107.3 126.1 108.0 126.2 108.3 126.5 108.2 127.0 107.8 127.2Z" stroke="#4a4a4a" stroke-width="0.5" fill="none" fill-rule="evenodd"/>
<ellipse cx="76.5" cy="104.3" rx="3.6" ry="2.4" fill="#fff" stroke="#777" stroke-width="1.0"/><ellipse cx="76.5" cy="104.6" rx="4.9" ry="3.7" fill="none" stroke="#aaa" stroke-width="0.6"/>
</g>
<rect x="66.80" y="84.20" width="59.20" height="57.10" fill="none" stroke="#3a3a3a" stroke-width="1.0"/>
<rect x="66.80" y="92.80" width="23.60" height="20.40" fill="none" stroke="#333" stroke-width="0.9"/>
<rect x="99.30" y="113.80" width="26.70" height="27.50" fill="none" stroke="#333" stroke-width="0.9"/>
<text x="70.40" y="101.00" font-size="9.0" font-weight="normal" text-anchor="start" fill="#000" stroke="#000" stroke-width="0.3">3.44</text>
<text x="122.00" y="140.40" font-size="9.0" font-weight="normal" text-anchor="end" fill="#000" stroke="#000" stroke-width="0.3">61.2</text>
<line x1="65.30" y1="97.20" x2="66.80" y2="97.20" stroke="#444" stroke-width="0.7" />
<line x1="65.30" y1="111.70" x2="66.80" y2="111.70" stroke="#444" stroke-width="0.7" />
<line x1="65.30" y1="126.20" x2="66.80" y2="126.20" stroke="#444" stroke-width="0.7" />
<line x1="65.30" y1="140.70" x2="66.80" y2="140.70" stroke="#444" stroke-width="0.7" />
<clipPath id="a4"><rect x="131.9" y="84.0" width="59.400000000000006" height="57.19999999999999"/></clipPath>
<g clip-path="url(#a4)">
<path d="M153.5 98.7h.6M180.5 128.3h.6M157.9 111.7h.6M143.2 116.9h.6M163.6 119.8h.6M155.0 139.0h.6M134.4 95.9h.6M173.0 138.5h.6M162.1 105.6h.6M155.3 116.3h.6M178.1 119.4h.6M172.3 135.4h.6M169.5 134.7h.6M165.2 138.1h.6M145.8 96.2h.6M153.3 137.0h.6M145.3 108.5h.6M141.5 135.0h.6M136.4 89.6h.6M165.2 137.5h.6M191.5 136.1h.6M159.3 117.6h.6M140.3 122.0h.6M136.2 91.6h.6M168.0 136.6h.6M148.1 103.6h.6M152.7 138.7h.6M154.0 116.0h.6M165.0 140.0h.6M138.9 125.4h.6M140.5 124.8h.6M137.7 122.5h.6M176.8 136.5h.6M163.8 110.5h.6M153.1 116.3h.6M154.4 119.7h.6M139.1 135.2h.6M150.6 119.3h.6M168.5 120.3h.6M163.2 117.5h.6M160.9 113.4h.6M142.9 141.1h.6M148.5 117.7h.6M167.6 119.2h.6M180.3 122.9h.6M177.5 136.8h.6M160.9 118.2h.6M182.6 133.8h.6M139.1 120.7h.6M133.6 110.6h.6M157.3 136.8h.6M146.2 98.3h.6M161.1 116.7h.6M182.1 113.6h.6M137.6 135.1h.6M184.6 113.2h.6M154.3 114.9h.6M133.4 111.7h.6M173.0 135.8h.6M182.4 121.5h.6M172.2 110.9h.6M144.2 136.3h.6M136.5 119.6h.6M152.5 136.4h.6M166.3 116.1h.6M158.0 137.5h.6M136.0 117.3h.6M171.4 106.6h.6M179.9 134.7h.6M149.9 109.3h.6M155.1 119.7h.6M183.2 109.8h.6M172.3 117.5h.6M156.7 141.2h.6M163.0 120.6h.6M191.5 135.1h.6M165.7 135.8h.6M163.2 117.0h.6M145.0 106.5h.6M154.7 118.6h.6M163.9 106.4h.6M135.0 91.1h.6M186.1 140.3h.6M133.9 137.2h.6M148.9 140.7h.6M139.1 90.7h.6M161.4 109.7h.6M162.6 120.5h.6M167.2 114.4h.6M179.7 137.6h.6M179.9 137.5h.6M157.3 118.0h.6M141.6 135.7h.6M140.1 134.2h.6M149.2 120.8h.6M172.2 110.8h.6M160.4 111.4h.6M180.6 123.8h.6M165.6 134.5h.6M182.5 105.5h.6M155.3 136.9h.6M184.8 112.3h.6M144.0 120.9h.6M170.2 134.3h.6M147.1 119.2h.6M134.3 110.5h.6M173.0 118.5h.6M172.2 109.8h.6M138.2 133.7h.6M146.5 101.5h.6M145.4 115.3h.6M171.1 133.2h.6M158.6 140.0h.6M181.4 122.5h.6M173.8 133.9h.6M173.7 119.6h.6M177.3 133.3h.6M181.0 111.0h.6M179.9 103.5h.6M167.3 117.9h.6M140.3 114.5h.6M190.1 123.7h.6M134.4 119.1h.6M158.5 138.2h.6M188.0 138.8h.6M167.2 117.2h.6M180.3 121.1h.6M161.6 105.8h.6M138.9 110.5h.6M185.3 129.5h.6M173.2 105.5h.6M159.9 136.7h.6M142.6 118.7h.6M161.6 138.9h.6M165.2 109.4h.6M133.0 127.5h.6M155.3 120.3h.6M138.0 119.9h.6M154.7 106.2h.6M162.0 115.4h.6M164.7 138.1h.6M161.4 121.9h.6M147.1 120.9h.6M152.6 138.3h.6M139.3 127.9h.6M170.0 116.8h.6M165.5 139.4h.6M137.6 119.7h.6M161.1 111.2h.6M158.0 121.2h.6M153.1 114.9h.6M155.1 118.5h.6M186.3 119.8h.6M173.6 135.7h.6M171.6 101.8h.6M156.8 114.7h.6M166.9 139.3h.6M164.9 104.3h.6M155.1 119.7h.6M169.5 115.4h.6M182.7 128.5h.6M153.2 114.9h.6M137.8 125.0h.6M172.9 117.2h.6M158.2 139.5h.6M135.9 133.2h.6M168.8 117.9h.6M176.2 138.9h.6M163.5 116.1h.6M133.0 93.1h.6M173.4 140.1h.6M186.5 123.7h.6M158.8 136.7h.6M159.6 119.6h.6M155.1 112.1h.6M136.4 120.6h.6M144.7 121.7h.6M170.2 105.8h.6M142.9 138.2h.6M150.5 118.6h.6M187.8 126.7h.6M152.5 105.5h.6M176.6 139.8h.6M177.9 113.5h.6M139.0 118.8h.6M180.6 132.3h.6M188.9 121.4h.6M150.1 136.1h.6M170.6 117.2h.6M177.4 120.7h.6M138.9 136.0h.6M147.5 136.6h.6M140.2 119.6h.6M138.7 127.3h.6M169.4 117.2h.6M135.8 114.1h.6M178.0 120.6h.6M180.9 121.5h.6M179.6 137.7h.6M131.8 138.0h.6M162.2 138.6h.6M168.6 119.6h.6M139.4 95.5h.6M148.4 108.3h.6M173.1 134.5h.6M138.4 121.9h.6M181.1 131.2h.6M141.3 122.8h.6M132.4 135.5h.6M172.7 138.1h.6M154.4 104.1h.6M175.7 135.1h.6M166.6 139.5h.6M133.8 122.7h.6M176.0 135.1h.6M136.7 128.0h.6M170.0 139.0h.6M138.0 129.7h.6M178.8 131.3h.6M176.7 134.3h.6M161.8 137.7h.6M168.4 135.5h.6M138.5 96.1h.6M160.1 121.2h.6M170.9 136.1h.6M146.2 118.2h.6M187.3 129.1h.6M161.3 136.8h.6M183.6 125.4h.6M133.8 122.0h.6M171.6 139.5h.6M167.2 136.4h.6M184.2 120.7h.6M180.5 138.9h.6M165.6 135.4h.6M164.6 136.4h.6M157.8 106.1h.6M174.2 138.0h.6M181.6 140.2h.6M153.9 118.0h.6M189.8 131.5h.6M178.5 132.3h.6M167.5 135.7h.6M178.6 119.7h.6M160.9 109.8h.6M174.7 134.4h.6M173.4 117.4h.6M160.9 117.2h.6M139.9 133.2h.6M181.6 135.3h.6M168.7 136.0h.6M149.4 119.3h.6M176.4 133.9h.6M164.6 120.0h.6M155.6 109.9h.6M154.5 119.1h.6M152.1 103.0h.6M163.2 118.1h.6M173.8 119.3h.6M166.5 115.9h.6M175.9 113.7h.6M133.0 107.1h.6M160.0 116.0h.6M162.9 136.0h.6M144.3 110.2h.6M142.0 119.3h.6M137.4 127.7h.6M183.9 132.1h.6M181.4 129.9h.6M189.0 135.5h.6M157.3 119.8h.6M163.2 99.5h.6M137.5 126.5h.6M163.2 118.4h.6M172.3 102.9h.6M135.1 125.2h.6M144.0 113.8h.6M173.2 115.0h.6M154.9 139.0h.6M132.4 122.4h.6M138.9 131.4h.6M188.9 111.8h.6M159.6 114.9h.6M166.6 119.7h.6M146.0 140.6h.6M152.9 118.8h.6M169.4 113.7h.6M190.7 124.2h.6M159.7 119.6h.6M136.7 134.0h.6M187.2 107.2h.6M141.6 140.8h.6M151.1 117.2h.6M150.5 121.0h.6M158.8 105.3h.6M152.0 137.6h.6M172.6 104.3h.6M178.4 121.1h.6M151.1 139.4h.6M176.1 116.7h.6M176.2 119.0h.6M187.7 130.0h.6M138.4 124.5h.6M172.6 103.2h.6M182.8 140.0h.6M156.9 118.3h.6M134.4 117.8h.6M161.1 140.6h.6M179.4 120.7h.6M186.1 106.6h.6M186.7 101.7h.6M150.7 121.3h.6M164.9 140.6h.6M155.2 112.0h.6M164.9 115.8h.6M166.2 110.4h.6M154.5 111.1h.6M176.2 134.0h.6M171.3 117.5h.6M172.9 115.4h.6M134.7 138.8h.6M171.1 115.4h.6M175.9 120.5h.6M159.2 120.7h.6M154.1 121.6h.6M150.8 138.2h.6M162.1 137.4h.6M133.7 114.4h.6M172.9 111.3h.6M144.5 104.9h.6M176.9 131.5h.6M184.5 132.2h.6M188.9 132.8h.6M165.5 114.0h.6M138.2 91.7h.6M157.6 138.4h.6M177.5 137.6h.6M163.1 117.1h.6M180.1 123.6h.6M181.4 116.9h.6M165.4 138.6h.6M144.5 113.7h.6M174.2 133.7h.6M140.2 136.6h.6M168.3 112.3h.6M169.4 136.0h.6M163.6 118.0h.6M177.2 120.9h.6M146.4 117.3h.6M180.5 121.1h.6M161.4 139.9h.6M164.2 116.8h.6M149.2 119.4h.6M167.0 140.0h.6M138.3 96.5h.6M155.3 136.6h.6M154.4 121.5h.6M165.0 137.4h.6M145.6 139.5h.6M189.0 115.2h.6M165.0 137.3h.6M186.8 140.4h.6M168.8 135.1h.6M139.0 129.1h.6M166.8 138.2h.6M168.4 134.5h.6M134.1 133.1h.6M179.6 135.3h.6M133.3 107.5h.6M146.2 108.5h.6M165.7 137.0h.6M156.8 114.2h.6M143.2 134.8h.6M190.9 123.9h.6M154.2 116.5h.6M137.2 117.3h.6M158.0 139.8h.6M134.9 119.2h.6M178.2 135.3h.6M170.8 138.3h.6M153.5 120.2h.6M144.2 137.8h.6M151.1 120.1h.6" stroke="#5a5a5a" stroke-width="0.6" fill="none"/>
<path d="M131.9 95.1 132.4 94.8 132.9 94.6 133.4 94.4 134.2 94.3 134.7 94.2 135.4 94.2 135.9 94.3 136.7 94.4 137.2 94.5 137.9 94.7 138.4 94.8 139.2 95.0 139.7 95.1 140.4 95.2 140.9 95.3 141.7 95.4 142.2 95.6 142.8 95.8 143.4 95.9 143.9 96.1 144.4 96.3 144.9 96.6 145.4 96.8 145.9 97.1 146.4 97.5 146.7 97.8 147.2 98.1 147.5 98.5 147.9 99.0 148.2 99.5 148.4 100.0 148.6 100.5 148.7 101.0 148.7 101.8 148.6 102.2 148.4 103.0 148.2 103.5 147.9 104.0 147.7 104.3 147.3 104.8 146.9 105.1 146.5 105.5 146.2 105.8 145.7 106.2 145.3 106.5 144.9 106.9 144.5 107.2 144.2 107.7 143.9 108.1 143.6 108.5 143.3 109.0 143.0 109.5 142.7 110.0 142.4 110.4 142.1 110.8 141.7 111.2 141.3 111.5 140.9 111.8 140.4 112.0 139.7 112.2 139.2 112.3 138.4 112.3 137.9 112.1 137.4 111.9 136.9 111.7 136.4 111.3 136.1 111.0 135.7 110.6 135.4 110.2 134.9 109.8 134.7 109.4 134.2 109.0 133.9 108.7 133.4 108.4 132.9 108.0 132.5 107.8 132.1 107.5 131.9 107.4M148.9 140.8 148.2 140.9 147.4 140.8 146.9 140.7 146.4 140.5 145.9 140.2 145.4 140.0 144.9 139.6 144.4 139.2 144.1 139.0 143.7 138.6 143.2 138.2 142.9 138.0 142.4 137.5 142.2 137.2 141.7 136.8 141.4 136.5 140.9 136.0 140.7 135.7 140.2 135.2 139.9 134.9 139.5 134.5 139.2 134.2 138.7 133.8 138.4 133.3 138.1 133.0 137.8 132.5 137.6 132.0 137.3 131.5 137.2 130.8 137.0 130.2 136.9 129.5 136.9 128.8 137.0 128.0 137.1 127.2 137.2 126.8 137.4 126.2 137.7 125.6 137.9 125.2 138.2 124.8 138.5 124.2 138.9 123.9 139.3 123.5 139.7 123.2 140.1 122.8 140.4 122.5 140.9 122.1 141.4 121.8 141.7 121.5 142.2 121.1 142.6 120.8 142.9 120.5 143.4 120.1 143.9 119.8 144.3 119.5 144.7 119.2 145.2 119.0 145.7 118.7 146.2 118.5 146.8 118.2 147.4 118.1 147.9 118.0 148.7 117.9 149.4 118.0 149.9 118.1 150.6 118.2 151.2 118.4 151.7 118.5 152.4 118.7 153.2 118.7 153.7 118.8 154.4 118.8 155.0 118.8 155.7 118.7 156.4 118.7 157.2 118.7 157.9 118.7 158.5 118.8 159.2 118.8 159.9 118.8 160.7 118.8 161.4 118.9 162.2 118.9 162.9 118.9 163.7 118.8 164.3 118.8 164.9 118.6 165.7 118.5 166.2 118.4 166.9 118.2 167.4 118.1 168.1 118.0 168.7 117.9 169.4 117.8 169.9 117.7 170.7 117.6 171.4 117.6 172.2 117.6 172.9 117.6 173.7 117.7 174.2 117.8 174.9 117.9 175.4 118.0 176.2 118.2 176.7 118.3 177.2 118.5 177.7 118.8 178.2 119.0 178.7 119.2 179.2 119.5 179.7 119.8 180.2 120.2 180.5 120.5 180.9 120.8 181.3 121.2 181.7 121.6 182.0 122.0 182.3 122.5 182.6 123.0 182.9 123.5 183.1 124.0 183.3 124.5 183.4 125.0 183.6 125.8 183.6 126.5 183.6 127.2 183.5 128.0 183.4 128.5 183.2 129.2 182.9 129.7 182.7 130.2 182.4 130.6 182.1 131.0 181.8 131.5 181.4 131.9 181.1 132.2 180.7 132.6 180.2 133.0 179.9 133.2 179.4 133.6 178.9 133.9 178.4 134.2 177.9 134.5 177.4 134.7 176.9 134.9 176.4 135.1 175.9 135.3 175.4 135.5 174.7 135.8 174.2 135.9 173.7 136.1 173.1 136.2 172.4 136.4 171.9 136.6 171.3 136.8 170.7 136.9 170.2 137.1 169.5 137.2 168.9 137.4 168.4 137.6 167.7 137.8 167.2 137.9 166.7 138.0 165.9 138.2 165.4 138.3 164.7 138.5 164.2 138.6 163.4 138.7 162.9 138.8 162.2 138.9 161.4 139.0 160.9 139.1 160.2 139.1 159.4 139.2 158.7 139.2 158.2 139.3 157.4 139.3 156.7 139.3 155.9 139.3 155.4 139.2 154.7 139.2 153.9 139.2 153.2 139.2 152.4 139.2 151.9 139.3 151.2 139.5 150.7 139.7 150.2 140.0 149.9 140.2 149.4 140.5 148.9 140.8Z" stroke="#4a4a4a" stroke-width="0.5" fill="none" fill-rule="evenodd"/>
<path d="M131.9 97.6 132.2 97.2 132.7 96.9 133.2 96.6 133.7 96.4 134.3 96.2 134.9 96.2 135.7 96.2 136.2 96.3 136.9 96.4 137.4 96.6 138.1 96.8 138.7 96.9 139.2 97.0 139.9 97.1 140.4 97.3 141.2 97.5 141.7 97.6 142.2 97.8 142.7 98.0 143.2 98.3 143.7 98.6 144.2 99.0 144.4 99.2 144.8 99.8 145.1 100.2 145.3 100.8 145.4 101.2 145.4 102.0 145.3 102.5 145.1 103.0 144.8 103.5 144.4 104.0 144.2 104.4 143.8 104.8 143.5 105.2 143.2 105.7 142.9 106.1 142.6 106.5 142.3 107.0 142.1 107.5 141.7 108.0 141.4 108.5 141.2 108.8 140.7 109.2 140.3 109.5 139.8 109.8 139.2 109.9 138.4 109.8 137.9 109.7 137.4 109.4 136.9 109.0 136.7 108.7 136.2 108.2 135.9 107.9 135.5 107.5 135.2 107.2 134.7 106.9 134.2 106.5 133.7 106.2 133.2 106.0 132.9 105.8 132.4 105.4 131.9 105.0 131.9 105.0M158.9 136.0 158.2 136.1 157.4 136.2 156.7 136.2 155.9 136.2 155.2 136.2 154.4 136.1 153.7 136.1 153.1 136.0 152.4 135.9 151.7 135.8 151.2 135.7 150.4 135.6 149.8 135.5 149.2 135.4 148.4 135.4 147.7 135.4 146.9 135.4 146.2 135.4 145.7 135.2 145.0 135.0 144.6 134.8 144.2 134.4 143.7 134.0 143.4 133.7 143.0 133.2 142.7 132.9 142.3 132.5 142.0 132.0 141.7 131.5 141.4 131.1 141.2 130.6 140.9 130.0 140.8 129.5 140.7 128.8 140.8 128.0 141.0 127.5 141.2 127.0 141.5 126.5 141.8 126.0 142.2 125.6 142.5 125.2 142.9 124.8 143.2 124.5 143.7 124.1 144.0 123.8 144.4 123.5 144.9 123.2 145.4 122.9 145.9 122.7 146.7 122.6 147.2 122.5 147.9 122.5 148.7 122.5 149.4 122.4 150.2 122.4 150.9 122.3 151.4 122.2 152.2 122.1 152.9 122.0 153.4 122.0 154.2 121.9 154.9 121.8 155.7 121.8 156.4 121.8 157.2 121.8 157.9 121.9 158.7 121.9 159.3 122.0 159.9 122.1 160.7 122.2 161.3 122.2 161.9 122.3 162.7 122.3 163.4 122.3 163.9 122.2 164.7 122.1 165.2 121.9 165.7 121.7 166.2 121.5 166.8 121.2 167.4 121.0 167.9 120.8 168.4 120.6 168.9 120.5 169.7 120.3 170.2 120.2 170.9 120.1 171.6 120.0 172.2 120.0 172.9 120.0 173.4 120.0 174.2 120.2 174.7 120.3 175.4 120.5 175.9 120.7 176.4 120.9 176.9 121.1 177.4 121.4 177.9 121.8 178.2 122.0 178.7 122.5 178.9 122.8 179.3 123.2 179.6 123.8 179.9 124.2 180.0 124.8 180.2 125.2 180.2 126.0 180.2 126.8 180.1 127.2 179.9 128.0 179.7 128.5 179.4 129.0 179.2 129.3 178.8 129.8 178.4 130.2 178.1 130.5 177.7 130.8 177.2 131.2 176.7 131.4 176.2 131.7 175.7 131.9 175.2 132.1 174.7 132.3 173.9 132.5 173.4 132.6 172.7 132.7 172.2 132.8 171.4 132.9 170.7 132.9 170.1 133.0 169.4 133.1 168.7 133.2 168.2 133.3 167.4 133.5 166.9 133.6 166.4 133.8 165.8 134.0 165.2 134.2 164.7 134.5 164.2 134.7 163.7 134.9 163.2 135.0 162.5 135.2 161.9 135.4 161.4 135.5 160.7 135.7 160.2 135.8 159.4 135.9 158.9 136.0Z" stroke="#4a4a4a" stroke-width="0.5" fill="none" fill-rule="evenodd"/>
<path d="M131.9 98.2 132.4 97.8 132.7 97.5 133.2 97.2 133.7 96.9 134.2 96.8 134.9 96.6 135.7 96.7 136.2 96.8 136.9 96.9 137.4 97.0 138.2 97.2 138.7 97.3 139.3 97.5 139.9 97.6 140.4 97.8 141.2 98.0 141.7 98.2 142.2 98.4 142.7 98.7 143.2 99.0 143.5 99.2 143.9 99.7 144.2 100.0 144.4 100.5 144.6 101.2 144.7 101.8 144.6 102.2 144.4 102.8 144.2 103.3 143.9 103.8 143.5 104.2 143.2 104.8 142.9 105.2 142.7 105.6 142.4 106.0 142.1 106.5 141.8 107.0 141.5 107.5 141.2 108.0 140.9 108.3 140.4 108.8 140.1 109.0 139.4 109.2 138.9 109.3 138.4 109.2 137.9 109.0 137.4 108.7 136.9 108.3 136.6 108.0 136.2 107.5 135.9 107.2 135.4 106.8 134.9 106.5 134.5 106.2 134.1 106.0 133.7 105.7 133.2 105.4 132.7 105.0 132.3 104.8 131.9 104.3 131.9 104.3M156.9 135.5 156.2 135.5 155.4 135.5 154.9 135.5 154.2 135.5 153.4 135.4 152.7 135.3 152.2 135.2 151.4 135.0 150.9 134.9 150.2 134.8 149.7 134.6 149.1 134.5 148.4 134.3 147.9 134.2 147.2 134.1 146.7 134.0 145.9 133.8 145.4 133.5 144.9 133.3 144.5 133.0 144.2 132.7 143.8 132.2 143.4 131.8 143.2 131.5 142.9 131.0 142.6 130.5 142.4 130.0 142.2 129.2 142.1 128.8 142.2 128.2 142.4 127.6 142.7 127.1 142.9 126.7 143.2 126.2 143.6 125.8 143.9 125.5 144.4 125.0 144.7 124.8 145.2 124.5 145.7 124.2 146.2 124.0 146.9 123.8 147.4 123.7 148.2 123.6 148.7 123.5 149.4 123.3 149.9 123.2 150.7 123.1 151.2 123.0 151.9 122.8 152.5 122.8 153.2 122.7 153.9 122.6 154.7 122.5 155.2 122.5 155.9 122.5 156.7 122.5 157.2 122.5 157.9 122.5 158.7 122.6 159.4 122.7 159.9 122.8 160.7 122.9 161.3 123.0 161.9 123.1 162.7 123.1 163.4 123.1 164.2 123.0 164.7 122.9 165.2 122.7 165.7 122.5 166.2 122.2 166.7 122.0 167.2 121.8 167.8 121.5 168.4 121.2 168.9 121.1 169.4 120.9 170.1 120.8 170.7 120.6 171.4 120.5 172.2 120.5 172.9 120.5 173.7 120.6 174.4 120.8 174.9 120.9 175.4 121.1 175.9 121.3 176.4 121.5 176.9 121.8 177.4 122.1 177.8 122.5 178.2 122.8 178.5 123.2 178.9 123.8 179.1 124.2 179.3 124.8 179.4 125.2 179.5 126.0 179.5 126.8 179.4 127.3 179.2 128.0 178.9 128.5 178.7 128.9 178.4 129.2 177.9 129.8 177.6 130.0 177.2 130.4 176.7 130.7 176.2 131.0 175.7 131.2 175.2 131.4 174.7 131.6 174.2 131.8 173.4 131.9 172.9 132.0 172.2 132.1 171.4 132.2 170.7 132.2 170.2 132.3 169.4 132.3 168.7 132.3 167.9 132.4 167.4 132.5 166.7 132.7 166.2 132.9 165.7 133.1 165.2 133.3 164.7 133.5 164.2 133.8 163.6 134.0 163.0 134.2 162.4 134.5 161.9 134.6 161.4 134.8 160.7 135.0 160.2 135.1 159.4 135.2 158.9 135.3 158.2 135.4 157.4 135.5 156.9 135.5Z" stroke="#4a4a4a" stroke-width="0.5" fill="none" fill-rule="evenodd"/>
<path d="M131.9 99.0 132.2 98.6 132.5 98.2 132.9 97.9 133.4 97.5 133.9 97.3 134.4 97.2 135.2 97.1 135.9 97.2 136.4 97.3 137.2 97.4 137.7 97.6 138.3 97.8 138.9 97.9 139.4 98.0 140.2 98.2 140.7 98.4 141.2 98.6 141.7 98.8 142.2 99.0 142.7 99.4 143.1 99.8 143.4 100.2 143.7 100.6 143.9 101.2 143.9 102.0 143.7 102.8 143.5 103.2 143.2 103.8 142.9 104.2 142.7 104.6 142.4 105.0 142.1 105.5 141.9 106.0 141.6 106.5 141.3 107.0 140.9 107.5 140.7 107.8 140.2 108.2 139.7 108.5 139.2 108.7 138.4 108.6 137.9 108.4 137.4 108.0 137.1 107.8 136.7 107.3 136.3 107.0 135.9 106.6 135.4 106.2 135.0 106.0 134.6 105.8 134.1 105.5 133.7 105.2 133.2 104.9 132.7 104.5 132.4 104.2 132.1 103.8 131.9 103.5M157.9 134.8 157.2 134.8 156.4 134.9 155.7 134.9 154.9 134.9 154.2 134.8 153.7 134.7 152.9 134.6 152.2 134.5 151.7 134.4 151.2 134.2 150.4 134.0 149.9 133.9 149.4 133.7 148.9 133.5 148.3 133.2 147.7 133.0 147.2 132.8 146.8 132.5 146.4 132.2 145.9 131.9 145.5 131.5 145.2 131.0 144.9 130.6 144.7 130.0 144.5 129.5 144.5 128.8 144.6 128.0 144.7 127.5 145.0 127.0 145.3 126.5 145.7 126.1 146.1 125.8 146.5 125.5 146.9 125.2 147.4 125.0 148.0 124.8 148.6 124.5 149.2 124.3 149.7 124.2 150.2 124.0 150.9 123.8 151.4 123.7 152.1 123.5 152.7 123.4 153.4 123.3 153.9 123.2 154.7 123.2 155.4 123.1 156.2 123.1 156.9 123.1 157.7 123.2 158.2 123.2 158.9 123.3 159.7 123.5 160.2 123.5 160.9 123.7 161.4 123.8 162.2 123.9 162.9 124.0 163.7 124.0 164.4 123.8 164.9 123.7 165.4 123.4 165.9 123.2 166.4 122.9 166.9 122.6 167.4 122.4 167.9 122.1 168.4 121.9 168.9 121.7 169.4 121.5 170.2 121.3 170.7 121.2 171.4 121.1 172.2 121.0 172.9 121.1 173.7 121.2 174.2 121.3 174.9 121.5 175.4 121.6 175.9 121.9 176.4 122.2 176.9 122.5 177.2 122.8 177.7 123.2 177.9 123.5 178.2 124.0 178.5 124.5 178.7 125.0 178.8 125.8 178.8 126.5 178.7 127.2 178.5 127.8 178.3 128.2 177.9 128.8 177.7 129.1 177.2 129.5 176.9 129.8 176.4 130.1 175.9 130.4 175.4 130.7 174.9 130.9 174.4 131.1 173.7 131.2 173.2 131.4 172.4 131.5 171.9 131.5 171.2 131.6 170.4 131.6 169.7 131.6 168.9 131.5 168.2 131.6 167.4 131.6 166.7 131.8 166.2 131.9 165.7 132.1 165.2 132.3 164.7 132.6 164.2 132.8 163.7 133.1 163.2 133.3 162.7 133.5 162.1 133.8 161.4 134.0 160.9 134.2 160.4 134.3 159.7 134.5 159.2 134.6 158.4 134.7 157.9 134.8Z" stroke="#4a4a4a" stroke-width="0.5" fill="none" fill-rule="evenodd"/>
<path d="M131.9 100.1 132.1 99.5 132.4 99.1 132.7 98.7 133.2 98.3 133.5 98.0 134.1 97.8 134.7 97.6 135.4 97.6 136.2 97.7 136.7 97.8 137.4 98.0 137.9 98.1 138.4 98.3 139.2 98.5 139.7 98.6 140.2 98.8 140.8 99.0 141.3 99.2 141.7 99.5 142.2 99.8 142.6 100.2 142.9 100.8 143.1 101.2 143.1 102.0 143.0 102.8 142.8 103.2 142.5 103.8 142.3 104.2 142.0 104.8 141.7 105.2 141.4 105.8 141.2 106.2 140.9 106.6 140.6 107.0 140.2 107.5 139.8 107.8 139.2 108.0 138.4 107.9 137.9 107.7 137.4 107.3 137.1 107.0 136.7 106.6 136.2 106.2 135.9 106.0 135.4 105.7 134.9 105.4 134.4 105.1 133.9 104.8 133.4 104.5 133.1 104.2 132.7 103.8 132.4 103.5 132.1 103.0 131.9 102.4 131.9 102.4M158.4 134.0 157.7 134.1 156.9 134.2 156.2 134.2 155.4 134.2 154.7 134.2 153.9 134.1 153.2 134.0 152.7 133.9 152.0 133.8 151.4 133.6 150.9 133.4 150.4 133.2 149.8 133.0 149.3 132.8 148.8 132.5 148.4 132.2 147.9 131.9 147.5 131.5 147.2 131.1 146.9 130.8 146.6 130.2 146.4 129.5 146.4 129.0 146.4 128.4 146.6 127.8 146.8 127.2 147.2 126.8 147.4 126.5 147.9 126.1 148.3 125.8 148.7 125.5 149.2 125.2 149.7 125.0 150.4 124.8 150.9 124.6 151.4 124.4 151.9 124.2 152.7 124.1 153.2 124.0 153.9 123.9 154.7 123.8 155.4 123.8 156.2 123.8 156.9 123.8 157.7 123.9 158.4 123.9 158.9 124.0 159.7 124.2 160.2 124.3 160.9 124.5 161.4 124.6 162.2 124.7 162.7 124.8 163.4 124.9 164.2 124.9 164.7 124.7 165.2 124.5 165.7 124.2 166.2 123.9 166.7 123.6 167.2 123.3 167.6 123.0 168.0 122.8 168.5 122.5 169.0 122.2 169.7 122.0 170.2 121.9 170.7 121.7 171.4 121.6 172.2 121.6 172.9 121.6 173.7 121.7 174.2 121.8 174.8 122.0 175.4 122.2 175.9 122.5 176.2 122.8 176.7 123.1 177.1 123.5 177.4 123.9 177.7 124.3 177.9 124.8 178.1 125.5 178.2 126.0 178.1 126.5 178.0 127.2 177.8 127.8 177.5 128.2 177.2 128.7 176.9 129.0 176.4 129.4 175.9 129.7 175.5 130.0 174.9 130.2 174.4 130.5 173.9 130.6 173.2 130.8 172.7 130.8 171.9 130.9 171.2 130.9 170.4 130.9 169.7 130.9 168.9 130.8 168.4 130.7 167.7 130.7 166.9 130.7 166.4 130.8 165.7 131.0 165.2 131.2 164.7 131.5 164.2 131.8 163.7 132.0 163.3 132.2 162.9 132.5 162.4 132.8 161.9 133.0 161.3 133.2 160.7 133.5 160.2 133.6 159.7 133.8 158.9 133.9 158.4 134.0Z" stroke="#4a4a4a" stroke-width="0.5" fill="none" fill-rule="evenodd"/>
<path d="M139.7 107.0 138.9 107.2 138.2 107.0 137.7 106.8 137.4 106.5 136.9 106.1 136.4 105.8 136.1 105.5 135.7 105.2 135.2 105.0 134.7 104.7 134.2 104.4 133.7 104.1 133.2 103.8 132.9 103.4 132.7 103.0 132.4 102.5 132.2 101.8 132.2 101.0 132.3 100.2 132.5 99.8 132.8 99.2 133.2 98.9 133.6 98.5 134.1 98.2 134.7 98.1 135.4 98.1 136.2 98.1 136.7 98.3 137.4 98.5 137.9 98.6 138.4 98.8 139.1 99.0 139.7 99.2 140.2 99.3 140.7 99.6 141.2 99.9 141.6 100.2 141.9 100.6 142.2 101.0 142.4 101.8 142.3 102.5 142.2 103.1 141.9 103.7 141.7 104.2 141.4 104.7 141.2 105.2 140.9 105.6 140.7 106.0 140.3 106.5 139.9 106.9ZM157.2 133.5 156.4 133.6 155.7 133.6 154.9 133.5 154.3 133.5 153.7 133.4 152.9 133.3 152.4 133.1 151.9 133.0 151.2 132.8 150.7 132.5 150.2 132.3 149.7 132.0 149.4 131.8 148.9 131.4 148.5 131.0 148.2 130.5 147.9 130.0 147.8 129.5 147.7 128.8 147.9 128.0 148.1 127.5 148.4 127.1 148.7 126.8 149.2 126.4 149.7 126.0 150.1 125.8 150.6 125.5 151.2 125.3 151.7 125.1 152.2 124.9 152.8 124.8 153.4 124.6 154.2 124.5 154.7 124.5 155.4 124.4 156.2 124.4 156.9 124.5 157.4 124.5 158.2 124.6 158.9 124.7 159.4 124.9 160.0 125.0 160.7 125.2 161.2 125.4 161.7 125.5 162.3 125.8 162.9 125.9 163.4 126.1 164.2 126.1 164.7 126.0 165.3 125.8 165.7 125.5 166.2 125.0 166.5 124.8 166.9 124.4 167.3 124.0 167.7 123.7 168.2 123.4 168.7 123.1 169.2 122.8 169.7 122.6 170.2 122.4 170.9 122.3 171.4 122.2 172.2 122.1 172.9 122.1 173.6 122.2 174.2 122.4 174.7 122.6 175.2 122.8 175.7 123.1 176.2 123.4 176.5 123.8 176.9 124.2 177.1 124.8 177.3 125.2 177.4 125.8 177.4 126.5 177.3 127.0 177.1 127.5 176.8 128.0 176.4 128.5 176.2 128.8 175.7 129.2 175.2 129.5 174.7 129.7 174.2 129.9 173.7 130.1 172.9 130.2 172.4 130.3 171.7 130.3 170.9 130.3 170.4 130.2 169.7 130.2 168.9 130.0 168.4 129.9 167.7 129.8 167.2 129.6 166.4 129.5 165.7 129.6 165.2 129.8 164.7 130.1 164.2 130.4 163.7 130.8 163.4 131.0 162.9 131.4 162.4 131.7 162.0 132.0 161.5 132.2 161.0 132.5 160.4 132.8 159.9 132.9 159.4 133.1 158.8 133.2 158.2 133.4 157.4 133.5Z" stroke="#4a4a4a" stroke-width="0.5" fill="none" fill-rule="evenodd"/>
<path d="M139.4 106.3 138.7 106.4 138.2 106.2 137.7 105.9 137.2 105.5 136.7 105.2 136.3 105.0 135.9 104.8 135.4 104.5 134.9 104.2 134.4 104.0 133.9 103.7 133.4 103.2 133.2 102.9 132.9 102.4 132.7 101.8 132.7 101.0 132.9 100.2 133.1 99.8 133.4 99.4 133.8 99.0 134.3 98.8 134.9 98.6 135.7 98.6 136.4 98.7 136.9 98.9 137.4 99.0 138.1 99.2 138.7 99.4 139.2 99.6 139.7 99.8 140.2 100.0 140.7 100.4 141.1 100.8 141.4 101.2 141.6 101.8 141.6 102.5 141.4 103.2 141.2 103.8 141.0 104.2 140.7 104.8 140.4 105.2 140.2 105.6 139.8 106.0 139.4 106.3ZM173.2 129.6 172.4 129.7 171.7 129.7 170.9 129.6 170.2 129.5 169.7 129.4 169.1 129.2 168.5 129.0 167.9 128.8 167.5 128.5 167.2 128.2 166.7 127.8 166.5 127.2 166.6 126.5 166.8 126.0 167.1 125.5 167.4 125.1 167.7 124.8 168.2 124.3 168.5 124.0 168.9 123.7 169.4 123.4 169.9 123.2 170.4 123.0 171.2 122.8 171.7 122.7 172.4 122.7 173.2 122.7 173.7 122.8 174.2 123.0 174.7 123.2 175.2 123.5 175.7 123.9 176.0 124.2 176.4 124.8 176.6 125.2 176.7 125.8 176.7 126.5 176.6 127.0 176.3 127.5 176.0 128.0 175.7 128.3 175.2 128.7 174.7 129.0 174.2 129.2 173.7 129.4 173.2 129.6ZM157.4 132.8 156.7 132.9 155.9 132.9 155.2 132.9 154.4 132.8 153.9 132.7 153.2 132.6 152.7 132.4 152.1 132.2 151.5 132.0 151.0 131.8 150.6 131.5 150.2 131.2 149.7 130.8 149.4 130.3 149.2 129.8 149.0 129.2 149.0 128.5 149.2 128.0 149.5 127.5 149.9 127.0 150.2 126.8 150.7 126.5 151.2 126.2 151.7 125.9 152.2 125.7 152.8 125.5 153.4 125.4 154.0 125.2 154.7 125.2 155.4 125.1 156.2 125.1 156.9 125.2 157.6 125.2 158.2 125.3 158.8 125.5 159.4 125.7 159.9 125.8 160.4 126.0 160.9 126.2 161.4 126.5 161.9 126.8 162.4 127.2 162.8 127.5 163.1 128.0 163.3 128.5 163.2 129.2 162.9 129.7 162.7 130.1 162.3 130.5 161.9 130.9 161.4 131.2 161.1 131.5 160.6 131.8 160.1 132.0 159.5 132.2 158.9 132.5 158.4 132.6 157.7 132.7Z" stroke="#4a4a4a" stroke-width="0.5" fill="none" fill-rule="evenodd"/>
<path d="M139.2 105.3 138.4 105.3 137.9 105.1 137.4 104.9 136.9 104.6 136.4 104.3 135.9 104.1 135.4 103.9 134.9 103.6 134.4 103.3 134.0 103.0 133.7 102.6 133.4 102.1 133.2 101.5 133.3 100.8 133.5 100.2 133.8 99.8 134.2 99.5 134.7 99.2 135.4 99.1 136.2 99.2 136.7 99.4 137.2 99.5 137.7 99.8 138.4 100.0 138.9 100.2 139.4 100.4 139.9 100.8 140.2 101.0 140.5 101.5 140.7 102.0 140.7 102.8 140.6 103.2 140.4 103.8 140.2 104.3 139.9 104.8 139.4 105.2ZM172.2 129.0 171.4 129.0 170.9 128.9 170.2 128.8 169.7 128.6 169.2 128.3 168.7 128.0 168.4 127.7 168.1 127.2 168.0 126.5 168.2 125.8 168.4 125.3 168.7 125.0 169.1 124.5 169.4 124.2 169.9 123.9 170.4 123.7 170.9 123.5 171.7 123.4 172.4 123.3 173.2 123.4 173.7 123.5 174.2 123.8 174.7 124.0 175.2 124.4 175.5 124.8 175.7 125.2 175.9 126.0 175.8 126.8 175.6 127.2 175.2 127.8 174.9 128.0 174.4 128.4 173.9 128.6 173.4 128.8 172.7 129.0 172.2 129.0ZM157.2 132.0 156.4 132.1 155.7 132.1 154.9 132.1 154.2 132.0 153.7 131.9 153.2 131.7 152.5 131.5 152.0 131.2 151.6 131.0 151.2 130.7 150.8 130.2 150.5 129.8 150.3 129.2 150.4 128.5 150.6 128.0 150.9 127.6 151.3 127.2 151.7 127.0 152.2 126.7 152.7 126.4 153.2 126.2 153.9 126.1 154.4 126.0 155.2 125.9 155.9 125.9 156.7 125.9 157.3 126.0 157.9 126.1 158.4 126.3 159.1 126.5 159.7 126.7 160.1 127.0 160.5 127.2 160.9 127.7 161.2 128.0 161.4 128.7 161.4 129.1 161.2 129.8 160.9 130.2 160.6 130.5 160.2 130.9 159.7 131.2 159.2 131.4 158.7 131.6 158.2 131.8 157.4 132.0Z" stroke="#4a4a4a" stroke-width="0.5" fill="none" fill-rule="evenodd"/>
<path d="M138.9 104.0 138.2 104.1 137.7 103.9 137.1 103.8 136.4 103.5 135.9 103.3 135.4 103.1 134.9 102.9 134.4 102.5 134.2 102.1 133.9 101.5 134.0 100.8 134.4 100.2 134.8 100.0 135.4 99.9 136.2 99.9 136.7 100.1 137.2 100.3 137.7 100.5 138.2 100.8 138.7 101.0 139.2 101.4 139.4 101.8 139.7 102.2 139.7 103.0 139.4 103.5 139.2 103.9ZM173.2 128.1 172.4 128.2 171.7 128.2 170.9 128.1 170.4 127.9 169.9 127.6 169.6 127.2 169.3 126.8 169.3 126.0 169.5 125.5 169.9 125.0 170.2 124.8 170.7 124.4 171.2 124.2 171.9 124.1 172.7 124.1 173.4 124.2 173.9 124.5 174.3 124.8 174.7 125.2 174.9 125.8 174.9 126.2 174.8 126.8 174.5 127.2 174.2 127.6 173.7 127.9 173.2 128.1ZM157.2 131.0 156.4 131.2 155.7 131.2 154.9 131.1 154.2 131.0 153.7 130.8 153.2 130.6 152.7 130.3 152.3 130.0 152.0 129.5 151.9 128.8 152.2 128.2 152.6 127.8 152.9 127.5 153.4 127.2 154.1 127.0 154.7 126.9 155.4 126.8 156.2 126.8 156.9 126.9 157.4 127.0 158.1 127.2 158.6 127.5 158.9 127.8 159.4 128.2 159.6 128.8 159.5 129.5 159.2 130.0 158.9 130.2 158.4 130.6 157.9 130.8 157.3 131.0Z" stroke="#4a4a4a" stroke-width="0.5" fill="none" fill-rule="evenodd"/>
<path d="M136.9 102.1 136.2 102.2 135.6 102.0 135.2 101.5 135.6 101.0 135.9 101.0 136.5 101.2 136.9 101.6 136.9 102.1ZM172.9 127.1 172.2 127.2 171.4 127.1 171.0 126.8 170.7 126.2 170.9 125.7 171.4 125.3 171.9 125.1 172.7 125.1 173.2 125.3 173.5 125.8 173.5 126.5 173.2 126.9ZM155.9 129.8 155.4 129.8 154.7 129.5 154.4 129.1 154.4 128.8 154.9 128.4 155.4 128.2 156.1 128.2 156.7 128.4 157.0 128.8 156.9 129.4 156.4 129.7 155.9 129.8Z" stroke="#4a4a4a" stroke-width="0.5" fill="none" fill-rule="evenodd"/>
</g>
<rect x="131.90" y="84.00" width="59.40" height="57.20" fill="none" stroke="#3a3a3a" stroke-width="1.0"/>
<rect x="131.90" y="92.60" width="23.60" height="20.40" fill="none" stroke="#333" stroke-width="0.9"/>
<rect x="164.40" y="113.60" width="26.90" height="27.60" fill="none" stroke="#333" stroke-width="0.9"/>
<text x="135.50" y="100.80" font-size="9.0" font-weight="normal" text-anchor="start" fill="#000" stroke="#000" stroke-width="0.3">17.1</text>
<text x="187.30" y="140.30" font-size="9.0" font-weight="normal" text-anchor="end" fill="#000" stroke="#000" stroke-width="0.3">47.8</text>
<line x1="130.40" y1="97.00" x2="131.90" y2="97.00" stroke="#444" stroke-width="0.7" />
<line x1="130.40" y1="111.50" x2="131.90" y2="111.50" stroke="#444" stroke-width="0.7" />
<line x1="130.40" y1="126.00" x2="131.90" y2="126.00" stroke="#444" stroke-width="0.7" />
<line x1="130.40" y1="140.50" x2="131.90" y2="140.50" stroke="#444" stroke-width="0.7" />
<text x="230.00" y="15.60" font-size="16.5" font-weight="bold" text-anchor="start" fill="#000" >B</text>
<rect x="249.90" y="23.20" width="78.70" height="93.90" fill="none" stroke="#555" stroke-width="1.2"/>
<line x1="249.90" y1="23.20" x2="249.90" y2="117.70" stroke="#555" stroke-width="1.4" />
<line x1="249.30" y1="117.10" x2="328.60" y2="117.10" stroke="#333" stroke-width="1.4" />
<line x1="248.10" y1="117.10" x2="249.90" y2="117.10" stroke="#000" stroke-width="1" />
<text x="246.10" y="120.60" font-size="8.6" font-weight="bold" text-anchor="end" fill="#000" >0</text>
<line x1="248.10" y1="90.10" x2="249.90" y2="90.10" stroke="#000" stroke-width="1" />
<text x="246.10" y="93.60" font-size="8.6" font-weight="bold" text-anchor="end" fill="#000" >2</text>
<line x1="248.10" y1="63.10" x2="249.90" y2="63.10" stroke="#000" stroke-width="1" />
<text x="246.10" y="66.60" font-size="8.6" font-weight="bold" text-anchor="end" fill="#000" >4</text>
<line x1="248.10" y1="36.10" x2="249.90" y2="36.10" stroke="#000" stroke-width="1" />
<text x="246.10" y="39.60" font-size="8.6" font-weight="bold" text-anchor="end" fill="#000" >6</text>
<rect x="254.40" y="90.70" width="13.00" height="26.40" fill="#fff" stroke="#000" stroke-width="1.2"/>
<line x1="260.90" y1="90.60" x2="260.90" y2="85.00" stroke="#000" stroke-width="1.2" />
<line x1="257.35" y1="85.00" x2="264.45" y2="85.00" stroke="#000" stroke-width="1.2" />
<rect x="268.00" y="52.97" width="14.70" height="64.12" fill="#000" stroke="none" stroke-width="1"/>
<line x1="275.35" y1="53.47" x2="275.35" y2="46.30" stroke="#000" stroke-width="1.2" />
<line x1="271.68" y1="46.30" x2="279.03" y2="46.30" stroke="#000" stroke-width="1.2" />
<rect x="297.00" y="95.42" width="13.00" height="21.68" fill="#fff" stroke="#000" stroke-width="1.2"/>
<line x1="303.50" y1="95.32" x2="303.50" y2="91.50" stroke="#000" stroke-width="1.2" />
<line x1="299.95" y1="91.50" x2="307.05" y2="91.50" stroke="#000" stroke-width="1.2" />
<rect x="310.60" y="57.70" width="14.90" height="59.40" fill="#000" stroke="none" stroke-width="1"/>
<line x1="318.05" y1="58.20" x2="318.05" y2="51.70" stroke="#000" stroke-width="1.2" />
<line x1="314.33" y1="51.70" x2="321.77" y2="51.70" stroke="#000" stroke-width="1.2" />
<line x1="259.00" y1="40.30" x2="276.00" y2="40.30" stroke="#222" stroke-width="1.0" />
<line x1="259.00" y1="38.50" x2="259.00" y2="42.10" stroke="#222" stroke-width="1.0" />
<line x1="276.00" y1="38.50" x2="276.00" y2="42.10" stroke="#222" stroke-width="1.0" />
<text x="268.15" y="36.60" font-size="6.6" font-weight="normal" text-anchor="middle" fill="#222" >p=0.007</text>
<line x1="303.00" y1="46.30" x2="319.20" y2="46.30" stroke="#222" stroke-width="1.0" />
<line x1="303.00" y1="44.50" x2="303.00" y2="48.10" stroke="#222" stroke-width="1.0" />
<line x1="319.20" y1="44.50" x2="319.20" y2="48.10" stroke="#222" stroke-width="1.0" />
<text x="310.10" y="42.60" font-size="6.6" font-weight="normal" text-anchor="middle" fill="#222" >p=0.004</text>
<text transform="translate(234.8,111.6) rotate(-90)" font-size="9.9" font-weight="bold">pDC numbers x 10<tspan font-size="6.4" dy="-4">3</tspan></text>
<text x="250.00" y="128.80" font-size="9.6" font-weight="bold" font-style="italic" stroke="#000" stroke-width="0.3"><tspan>Stat3</tspan><tspan font-size="7.30" dx="0.9" dy="-2.88">+/+</tspan></text>
<text x="293.50" y="128.80" font-size="9.6" font-weight="bold" font-style="italic" stroke="#000" stroke-width="0.3"><tspan>Tie2cre</tspan><tspan font-size="7.30" dx="0.9" dy="-2.88">+</tspan></text>
<text x="295.50" y="139.20" font-size="9.6" font-weight="bold" font-style="italic" stroke="#000" stroke-width="0.3"><tspan>Stat3</tspan><tspan font-size="7.30" dx="0.9" dy="-2.88">f/&#916;</tspan></text>
<rect x="361.60" y="23.20" width="78.70" height="93.90" fill="none" stroke="#555" stroke-width="1.2"/>
<line x1="361.60" y1="23.20" x2="361.60" y2="117.70" stroke="#444" stroke-width="1.3" />
<line x1="361.00" y1="117.10" x2="440.30" y2="117.10" stroke="#333" stroke-width="1.4" />
<line x1="359.80" y1="117.10" x2="361.60" y2="117.10" stroke="#000" stroke-width="1" />
<text x="357.80" y="120.60" font-size="8.6" font-weight="bold" text-anchor="end" fill="#000" >0</text>
<line x1="359.80" y1="100.00" x2="361.60" y2="100.00" stroke="#000" stroke-width="1" />
<text x="357.80" y="103.50" font-size="8.6" font-weight="bold" text-anchor="end" fill="#000" >1</text>
<line x1="359.80" y1="82.90" x2="361.60" y2="82.90" stroke="#000" stroke-width="1" />
<text x="357.80" y="86.40" font-size="8.6" font-weight="bold" text-anchor="end" fill="#000" >2</text>
<line x1="359.80" y1="65.80" x2="361.60" y2="65.80" stroke="#000" stroke-width="1" />
<text x="357.80" y="69.30" font-size="8.6" font-weight="bold" text-anchor="end" fill="#000" >3</text>
<line x1="359.80" y1="48.70" x2="361.60" y2="48.70" stroke="#000" stroke-width="1" />
<text x="357.80" y="52.20" font-size="8.6" font-weight="bold" text-anchor="end" fill="#000" >4</text>
<line x1="359.80" y1="31.60" x2="361.60" y2="31.60" stroke="#000" stroke-width="1" />
<text x="357.80" y="35.10" font-size="8.6" font-weight="bold" text-anchor="end" fill="#000" >5</text>
<rect x="365.20" y="53.92" width="13.60" height="63.18" fill="#fff" stroke="#000" stroke-width="1.2"/>
<line x1="372.00" y1="53.82" x2="372.00" y2="47.50" stroke="#000" stroke-width="1.2" />
<line x1="368.30" y1="47.50" x2="375.70" y2="47.50" stroke="#000" stroke-width="1.2" />
<rect x="379.40" y="81.19" width="14.60" height="35.91" fill="#000" stroke="none" stroke-width="1"/>
<line x1="386.70" y1="81.69" x2="386.70" y2="78.60" stroke="#000" stroke-width="1.2" />
<line x1="383.05" y1="78.60" x2="390.35" y2="78.60" stroke="#000" stroke-width="1.2" />
<rect x="408.30" y="62.98" width="13.50" height="54.12" fill="#fff" stroke="#000" stroke-width="1.2"/>
<line x1="415.05" y1="62.88" x2="415.05" y2="55.30" stroke="#000" stroke-width="1.2" />
<line x1="411.37" y1="55.30" x2="418.72" y2="55.30" stroke="#000" stroke-width="1.2" />
<rect x="422.40" y="86.32" width="14.40" height="30.78" fill="#000" stroke="none" stroke-width="1"/>
<line x1="429.60" y1="86.82" x2="429.60" y2="83.50" stroke="#000" stroke-width="1.2" />
<line x1="426.00" y1="83.50" x2="433.20" y2="83.50" stroke="#000" stroke-width="1.2" />
<line x1="372.80" y1="40.70" x2="388.00" y2="40.70" stroke="#222" stroke-width="1.0" />
<line x1="372.80" y1="38.90" x2="372.80" y2="42.50" stroke="#222" stroke-width="1.0" />
<line x1="388.00" y1="38.90" x2="388.00" y2="42.50" stroke="#222" stroke-width="1.0" />
<text x="378.65" y="36.80" font-size="6.6" font-weight="normal" text-anchor="middle" fill="#222" >p=0.007</text>
<line x1="414.40" y1="48.70" x2="430.00" y2="48.70" stroke="#222" stroke-width="1.0" />
<line x1="414.40" y1="46.90" x2="414.40" y2="50.50" stroke="#222" stroke-width="1.0" />
<line x1="430.00" y1="46.90" x2="430.00" y2="50.50" stroke="#222" stroke-width="1.0" />
<text x="422.00" y="44.40" font-size="6.6" font-weight="normal" text-anchor="middle" fill="#222" >p=0.025</text>
<text transform="translate(346.3,111.6) rotate(-90)" font-size="9.9" font-weight="bold">cDC numbers x 10<tspan font-size="6.4" dy="-4">4</tspan></text>
<text x="361.50" y="128.80" font-size="9.6" font-weight="bold" font-style="italic" stroke="#000" stroke-width="0.3"><tspan>Stat3</tspan><tspan font-size="7.30" dx="0.9" dy="-2.88">+/+</tspan></text>
<text x="405.00" y="128.80" font-size="9.6" font-weight="bold" font-style="italic" stroke="#000" stroke-width="0.3"><tspan>Tie2cre</tspan><tspan font-size="7.30" dx="0.9" dy="-2.88">+</tspan></text>
<text x="407.00" y="139.20" font-size="9.6" font-weight="bold" font-style="italic" stroke="#000" stroke-width="0.3"><tspan>Stat3</tspan><tspan font-size="7.30" dx="0.9" dy="-2.88">f/&#916;</tspan></text>
<rect x="448.30" y="93.80" width="8.80" height="9.30" fill="#fff" stroke="#000" stroke-width="1.1"/>
<rect x="447.70" y="106.70" width="9.90" height="9.80" fill="#000" stroke="none" stroke-width="1"/>
<text x="460.00" y="102.60" font-size="10" font-weight="bold" text-anchor="start" fill="#000" >GM</text>
<text x="460.00" y="116.30" font-size="10" font-weight="bold" text-anchor="start" fill="#000" >GM+IFN</text>
<text x="9.50" y="202.30" font-size="16.5" font-weight="bold" text-anchor="start" fill="#000" >C</text>
<text x="86.00" y="197.60" font-size="9.6" font-weight="bold" font-style="italic" stroke="#000" stroke-width="0.3"><tspan>Stat3</tspan><tspan font-size="7.30" dx="0.9" dy="-2.88">+/+</tspan></text>
<text x="146.40" y="186.60" font-size="9.6" font-weight="bold" font-style="italic" stroke="#000" stroke-width="0.3"><tspan>Tie2cre</tspan><tspan font-size="7.30" dx="0.9" dy="-2.88">+</tspan></text>
<text x="149.30" y="198.00" font-size="9.6" font-weight="bold" font-style="italic" stroke="#000" stroke-width="0.3"><tspan>Stat3</tspan><tspan font-size="7.30" dx="0.9" dy="-2.88">f/&#916;</tspan></text>
<text x="30.00" y="238.00" font-size="9.8" font-weight="bold" text-anchor="start" fill="#000" >BM</text>
<text x="25.00" y="301.00" font-size="9.8" font-weight="bold" text-anchor="start" fill="#000" >Spleen</text>
<line x1="64.50" y1="335.30" x2="64.50" y2="243.00" stroke="#000" stroke-width="1.9" />
<polygon points="64.50,232.00 67.80,244.60 64.50,242.40 61.20,244.60" fill="#000"/>
<line x1="63.60" y1="334.40" x2="151.00" y2="334.40" stroke="#000" stroke-width="1.9" />
<polygon points="161.60,334.40 148.60,331.10 150.80,334.40 148.60,337.70" fill="#000"/>
<text transform="translate(67.5,228.2) rotate(-90)" font-size="8.7" font-weight="bold">B220</text>
<text x="165.00" y="336.80" font-size="9.8" font-weight="bold" text-anchor="start" fill="#000" >CD11b</text>
<clipPath id="c1"><rect x="70.8" y="201.4" width="61.39999999999999" height="61.99999999999997"/></clipPath>
<g clip-path="url(#c1)">
<path d="M87.5 244.5h.6M96.0 238.9h.6M71.2 253.4h.6M75.9 257.9h.6M81.8 235.2h.6M94.7 259.9h.6M87.8 243.7h.6M89.3 229.7h.6M83.7 260.2h.6M89.8 241.1h.6M90.2 261.2h.6M86.5 226.2h.6M75.7 253.9h.6M76.5 227.7h.6M79.5 262.6h.6M90.6 231.1h.6M100.2 239.8h.6M95.5 263.2h.6M102.0 245.8h.6M91.0 257.7h.6M113.5 252.8h.6M87.1 240.8h.6M71.2 234.6h.6M105.5 244.0h.6M109.0 250.9h.6M96.0 256.0h.6M93.0 250.8h.6M92.6 238.9h.6M114.4 261.9h.6M107.8 243.2h.6M90.9 240.8h.6M91.3 233.9h.6M106.4 258.9h.6M93.1 257.8h.6M83.8 258.1h.6M114.2 250.9h.6M113.7 253.0h.6M101.7 243.4h.6M73.5 230.2h.6M104.5 261.7h.6M103.7 243.5h.6M83.3 260.3h.6M108.1 260.0h.6M94.0 251.1h.6M112.4 250.5h.6M74.7 231.4h.6M70.9 229.7h.6M72.0 240.1h.6M98.3 258.1h.6M89.0 231.6h.6M111.3 260.3h.6M97.2 249.4h.6M94.6 232.6h.6M72.5 238.6h.6M90.1 236.6h.6M76.5 259.0h.6M86.0 254.0h.6M71.0 245.4h.6M81.3 258.6h.6M78.1 252.8h.6M71.9 235.8h.6M79.6 257.8h.6M97.5 250.5h.6M74.5 237.2h.6M110.6 248.7h.6M104.6 244.5h.6M80.0 260.1h.6M82.6 231.9h.6M104.9 252.5h.6M87.9 245.0h.6M92.5 228.3h.6M74.4 238.9h.6M71.1 232.5h.6M87.1 249.3h.6M93.8 232.1h.6M104.7 255.6h.6M100.4 251.6h.6M82.1 257.3h.6M96.9 232.2h.6M101.3 249.3h.6M96.2 243.4h.6M105.0 253.2h.6M81.1 262.6h.6M88.8 249.5h.6M76.7 247.2h.6M98.0 254.4h.6M84.7 231.6h.6M85.7 242.3h.6M100.9 253.3h.6M71.4 234.3h.6M77.5 254.0h.6M76.1 257.5h.6M91.9 237.5h.6M102.9 250.9h.6M105.1 242.9h.6M81.9 244.4h.6M71.7 230.2h.6M75.7 251.7h.6M84.5 254.8h.6M88.1 238.7h.6M94.8 248.6h.6M72.6 240.6h.6M106.0 250.2h.6M92.0 234.4h.6M79.1 229.0h.6M79.7 231.7h.6M90.4 241.1h.6M104.9 255.0h.6M94.9 250.4h.6M91.7 237.3h.6M93.3 249.4h.6M113.4 256.4h.6M73.8 249.8h.6M74.9 249.1h.6M108.7 252.0h.6M76.1 241.6h.6M79.5 250.5h.6M102.5 253.4h.6M86.7 248.2h.6M80.1 260.7h.6M95.9 252.7h.6M81.1 226.8h.6M70.9 252.3h.6M71.3 240.1h.6M102.3 241.8h.6M88.2 243.8h.6M86.5 258.2h.6M100.7 240.2h.6M76.2 244.6h.6M73.8 239.0h.6M91.7 240.9h.6M75.8 232.6h.6M94.7 252.8h.6M102.7 251.0h.6M80.5 238.3h.6M82.2 240.2h.6M88.6 238.4h.6M71.3 258.3h.6M113.5 248.8h.6M83.0 242.6h.6M111.5 248.2h.6M101.9 252.0h.6M75.6 244.7h.6M73.1 227.4h.6M73.9 231.7h.6M105.2 248.2h.6M103.4 246.6h.6M86.6 255.3h.6M78.4 239.1h.6M89.3 251.3h.6M104.7 247.0h.6M97.9 236.2h.6M97.3 257.5h.6M90.4 254.0h.6M93.5 244.9h.6M97.9 230.8h.6M80.4 232.2h.6M94.7 250.9h.6M85.7 231.0h.6M100.0 241.4h.6M83.0 234.0h.6M80.4 252.6h.6M109.2 247.8h.6M111.1 261.4h.6M89.8 261.2h.6M78.8 242.3h.6M90.6 234.8h.6M92.4 254.0h.6M75.6 243.7h.6M94.2 232.9h.6M99.4 235.1h.6M96.3 247.2h.6M104.2 260.9h.6M82.5 234.7h.6M105.9 254.3h.6M106.2 257.1h.6M96.0 259.5h.6M100.1 249.4h.6M108.1 250.2h.6M105.0 260.7h.6M88.4 254.0h.6M84.1 243.9h.6M109.8 262.4h.6M113.1 254.2h.6M108.6 259.0h.6M98.0 234.7h.6M71.6 254.3h.6M104.7 253.2h.6M96.7 250.4h.6M102.8 245.6h.6M100.2 234.0h.6M94.6 249.3h.6M96.2 235.2h.6M76.5 250.3h.6M75.8 255.6h.6M78.9 254.8h.6M86.7 259.7h.6M80.9 231.5h.6M100.9 254.8h.6M86.4 243.4h.6M100.3 236.7h.6M88.1 247.0h.6M84.3 231.0h.6M114.8 257.5h.6M90.7 258.1h.6M73.7 246.8h.6M86.6 236.9h.6M101.0 236.3h.6M94.3 260.6h.6M84.4 244.0h.6M109.3 257.4h.6M80.3 257.1h.6M93.8 234.8h.6M71.6 233.7h.6M100.9 253.3h.6M86.6 260.3h.6M93.5 245.1h.6M88.4 240.8h.6M86.8 256.8h.6M90.4 234.3h.6M90.2 260.6h.6M89.5 243.2h.6M71.4 261.9h.6M95.4 237.3h.6M80.2 235.9h.6M73.2 251.6h.6M87.2 252.0h.6M107.2 247.2h.6M86.1 230.8h.6M99.9 251.1h.6M72.9 258.8h.6M99.0 246.5h.6M111.3 261.1h.6M114.7 254.5h.6M84.7 262.6h.6M98.2 252.7h.6M100.3 233.3h.6M108.8 250.0h.6M80.7 239.8h.6M77.2 241.9h.6M88.4 255.9h.6M74.5 230.0h.6M98.1 256.5h.6M80.0 246.0h.6M113.4 250.3h.6M101.9 248.1h.6M85.3 248.5h.6M71.2 241.2h.6M99.7 252.8h.6M77.8 258.0h.6M81.7 262.0h.6M86.2 248.7h.6M113.1 256.6h.6M92.5 232.9h.6M98.2 247.8h.6M73.7 240.0h.6M78.9 249.9h.6M91.0 260.1h.6M78.0 232.1h.6M86.4 262.5h.6M80.0 249.1h.6M113.1 260.0h.6M78.0 243.4h.6M82.0 252.0h.6M81.8 232.2h.6M82.9 230.5h.6M102.8 236.1h.6M88.6 235.9h.6M87.8 237.1h.6M86.6 252.4h.6M78.6 251.5h.6M86.3 229.0h.6M76.1 259.6h.6M72.7 236.0h.6M80.2 235.7h.6M96.0 254.8h.6M95.7 244.7h.6M90.3 235.1h.6M99.3 247.6h.6M77.7 259.6h.6M93.5 249.8h.6M98.7 255.2h.6M108.2 252.1h.6M71.0 257.2h.6M72.7 258.0h.6M70.8 254.9h.6M104.4 247.5h.6M76.2 258.7h.6M97.2 243.0h.6M78.7 259.3h.6M78.0 256.5h.6M80.2 256.3h.6M89.0 248.9h.6M97.9 240.5h.6M93.9 250.1h.6M76.9 260.2h.6M80.8 240.5h.6M105.2 245.1h.6M84.8 254.6h.6M79.5 252.4h.6M96.2 248.0h.6M91.3 261.0h.6M76.6 259.5h.6M87.1 238.5h.6M81.8 233.4h.6M101.8 249.6h.6M81.5 244.3h.6M83.6 257.2h.6M86.8 248.8h.6M99.4 235.8h.6M101.8 252.9h.6M97.2 258.2h.6M111.5 247.0h.6M98.2 248.2h.6M72.6 236.4h.6M74.8 250.1h.6M108.9 250.5h.6M72.2 241.0h.6M78.3 237.1h.6M81.5 232.3h.6M101.5 248.2h.6M107.5 262.8h.6M81.4 261.1h.6M105.0 246.8h.6M72.1 230.2h.6M84.8 251.9h.6M96.1 251.4h.6M71.6 234.9h.6M95.5 250.3h.6M90.1 233.8h.6M84.6 254.3h.6M81.3 242.1h.6M106.7 246.9h.6M100.9 261.6h.6M87.2 232.4h.6M89.1 246.9h.6M76.8 227.0h.6M103.2 263.0h.6M91.1 256.9h.6M113.3 252.0h.6M77.4 242.6h.6M70.9 240.9h.6M94.1 255.7h.6M85.5 250.1h.6M100.4 245.4h.6M98.2 242.9h.6M98.0 243.0h.6M109.3 253.7h.6M71.3 252.7h.6M87.0 244.7h.6M93.9 253.4h.6M92.5 249.6h.6M80.6 228.2h.6M100.6 263.0h.6M74.3 260.0h.6M87.9 250.3h.6M82.7 251.7h.6M90.2 255.6h.6M83.2 238.1h.6M74.5 242.3h.6M91.8 246.7h.6M91.6 232.9h.6M101.2 235.6h.6M83.7 255.1h.6M101.2 253.1h.6M111.9 257.8h.6M80.6 262.5h.6M94.0 246.7h.6M83.2 240.2h.6M102.9 238.7h.6M101.7 253.2h.6M95.9 238.9h.6M102.7 252.5h.6M93.2 253.2h.6M77.2 256.4h.6M114.0 259.6h.6M107.0 240.9h.6M80.4 246.1h.6M108.7 251.2h.6M114.1 260.5h.6M93.2 260.5h.6M78.9 239.3h.6M78.3 250.9h.6M111.7 260.8h.6M74.4 254.6h.6M95.7 233.9h.6M110.7 245.5h.6M72.7 239.7h.6M101.2 257.7h.6M79.7 247.9h.6M74.7 260.1h.6M71.2 262.3h.6M96.0 254.0h.6M100.6 244.7h.6M90.3 233.4h.6M83.6 229.1h.6M82.8 250.3h.6M95.4 247.0h.6M94.4 261.3h.6M95.6 262.2h.6M82.7 252.1h.6M99.7 250.9h.6M95.6 253.6h.6M87.5 261.0h.6M96.1 238.3h.6M99.3 251.5h.6M111.8 249.6h.6M94.1 238.9h.6M89.8 236.4h.6M98.5 258.1h.6M97.2 233.2h.6M72.4 258.8h.6M84.0 251.6h.6M113.0 261.1h.6M95.5 260.1h.6M88.8 261.1h.6M94.9 239.6h.6M102.9 261.1h.6M73.7 252.6h.6M74.5 255.0h.6M84.6 262.1h.6M87.9 233.4h.6M85.5 259.8h.6M92.8 248.2h.6M106.3 262.4h.6M88.9 242.1h.6M87.6 258.1h.6M91.9 250.0h.6M83.6 251.3h.6M87.2 255.2h.6M92.8 260.3h.6M95.2 258.0h.6M90.4 250.9h.6M82.7 247.7h.6M100.4 232.7h.6M95.1 260.4h.6M79.8 244.0h.6M72.1 245.4h.6M91.4 260.7h.6M100.4 254.9h.6M87.2 259.5h.6M100.3 259.8h.6M99.8 262.3h.6M82.4 247.8h.6M94.6 236.7h.6M105.6 241.8h.6M99.8 255.1h.6M73.3 256.6h.6M76.6 244.4h.6M78.7 260.8h.6M80.8 261.3h.6M102.7 246.6h.6M100.7 251.7h.6M83.5 244.0h.6M73.8 227.3h.6M112.9 257.7h.6M98.6 252.6h.6M90.0 239.8h.6M91.8 235.2h.6M90.6 246.4h.6M89.6 258.7h.6M110.1 254.3h.6M106.2 244.5h.6M82.9 256.4h.6M76.0 248.0h.6M79.9 251.0h.6M94.5 252.3h.6M96.7 243.0h.6M99.3 252.4h.6M106.5 246.8h.6M100.3 232.9h.6M78.0 256.2h.6M80.8 242.1h.6M101.1 234.9h.6M98.7 256.4h.6M107.4 255.0h.6M93.9 246.1h.6M78.5 229.9h.6M102.9 242.5h.6M98.1 254.2h.6M84.0 256.8h.6M104.5 247.5h.6M96.4 240.1h.6M81.5 246.7h.6M111.9 260.6h.6M96.6 240.4h.6M104.1 246.7h.6M107.5 257.1h.6M102.1 262.4h.6M99.7 262.4h.6M99.9 233.8h.6M98.8 254.6h.6M89.7 231.9h.6M86.5 255.1h.6M80.1 225.9h.6M110.0 262.3h.6M109.6 255.9h.6M103.3 246.4h.6M99.9 253.8h.6M85.5 233.3h.6M101.8 248.4h.6M89.3 230.1h.6M71.5 230.8h.6M97.2 262.0h.6M75.9 231.6h.6M101.2 237.0h.6M72.8 259.1h.6M77.4 242.0h.6M104.5 255.1h.6M77.4 228.5h.6M99.5 245.8h.6M81.9 231.8h.6M86.4 236.4h.6M86.6 238.8h.6M104.4 243.0h.6M108.6 244.5h.6M83.8 260.5h.6M99.9 257.4h.6M81.2 262.4h.6M99.1 239.7h.6M82.0 229.2h.6M72.3 232.9h.6M84.6 245.6h.6M88.5 227.2h.6M77.2 226.2h.6M72.6 236.8h.6M110.2 262.9h.6M78.9 244.9h.6M112.5 262.7h.6M103.7 259.2h.6M75.1 244.7h.6M92.1 233.7h.6M96.0 246.8h.6M84.1 232.0h.6M80.8 237.6h.6M87.3 261.8h.6M85.4 243.8h.6M78.2 233.9h.6M80.5 247.1h.6M84.2 236.0h.6M89.1 263.0h.6M78.3 227.2h.6M92.5 249.4h.6M87.9 233.8h.6M101.6 247.9h.6M86.3 248.8h.6M108.3 245.0h.6M88.1 248.8h.6M93.3 229.2h.6M103.9 241.9h.6M105.7 245.3h.6M107.4 243.3h.6M81.8 254.7h.6M107.7 244.5h.6M112.2 252.3h.6M112.9 254.6h.6M95.6 259.4h.6M100.8 236.5h.6M83.7 261.4h.6M82.3 246.6h.6M79.3 243.2h.6M82.1 258.9h.6M72.6 229.7h.6M107.4 251.1h.6M91.8 258.1h.6M107.0 249.7h.6M85.8 247.5h.6M74.4 237.4h.6M96.2 257.5h.6M84.9 227.8h.6M74.7 237.1h.6M98.7 252.2h.6M101.8 258.7h.6M101.2 250.9h.6M97.3 250.8h.6M103.4 262.5h.6M78.8 249.9h.6M76.3 233.3h.6M96.1 233.5h.6M96.7 261.7h.6M101.5 250.7h.6M95.5 237.6h.6M105.3 240.2h.6M85.8 246.2h.6M114.3 253.3h.6M106.8 241.5h.6M98.8 246.8h.6M75.2 236.2h.6M79.8 251.3h.6M76.0 229.0h.6M84.3 248.1h.6M80.9 239.5h.6M105.6 260.9h.6M77.7 226.6h.6M84.4 237.7h.6M104.1 251.3h.6M104.1 240.4h.6M89.9 261.2h.6M73.0 226.3h.6M71.6 256.5h.6M93.9 251.8h.6M99.9 256.3h.6M94.4 238.0h.6M75.8 241.1h.6M79.5 260.6h.6M93.6 243.3h.6M97.8 261.4h.6M83.1 248.8h.6M93.3 261.7h.6M80.5 250.1h.6M74.9 246.1h.6M113.6 252.8h.6M72.2 262.8h.6M94.9 247.5h.6M80.6 241.8h.6M104.2 240.5h.6M78.3 240.2h.6M75.4 229.3h.6M76.2 244.8h.6M85.1 232.3h.6M103.7 248.7h.6M98.5 235.5h.6M92.9 242.4h.6M96.8 247.1h.6M111.8 249.2h.6M86.5 255.6h.6M78.0 254.9h.6M96.5 235.4h.6M72.4 235.8h.6M93.3 249.4h.6M84.8 247.4h.6M114.5 263.3h.6M103.0 237.0h.6M92.1 256.1h.6M110.4 261.6h.6M88.1 238.3h.6M85.8 255.3h.6M90.6 250.8h.6M89.6 247.1h.6M79.2 229.3h.6M88.9 235.7h.6M77.6 262.1h.6M101.9 240.2h.6M86.4 259.0h.6M114.0 255.5h.6M79.1 247.0h.6M74.0 227.9h.6M75.1 229.5h.6M102.5 249.3h.6M80.4 241.0h.6" stroke="#9a9a9a" stroke-width="0.55" fill="none"/>
<path d="M70.8 213.8 71.5 213.7 72.0 213.6 72.8 213.4 73.3 213.3 74.0 213.2 74.6 213.2 75.3 213.0 76.0 212.9 76.5 212.9 77.3 212.8 78.0 212.7 78.5 212.6 79.3 212.5 80.0 212.4 80.5 212.3 81.3 212.2 81.8 212.1 82.5 211.9 83.0 211.8 83.8 211.7 84.3 211.5 84.9 211.4 85.5 211.2 86.0 211.1 86.8 211.0 87.3 210.9 88.0 210.7 88.5 210.6 89.3 210.5 89.8 210.4 90.5 210.2 91.0 210.1 91.8 210.0 92.3 209.9 93.0 209.7 93.6 209.7 94.3 209.5 95.0 209.4 95.5 209.4 96.3 209.3 97.0 209.2 97.5 209.1 98.3 209.1 99.0 209.0 99.8 209.0 100.5 209.0 101.3 209.0 102.0 209.1 102.8 209.1 103.4 209.2 104.0 209.2 104.8 209.3 105.5 209.4 106.0 209.5 106.8 209.6 107.3 209.7 108.0 209.9 108.5 210.0 109.2 210.2 109.8 210.3 110.3 210.4 111.0 210.6 111.5 210.8 112.1 210.9 112.8 211.1 113.3 211.2 114.0 211.2 114.8 211.2 115.4 211.2 116.0 210.9 116.5 210.7 117.0 210.4 117.4 210.2 117.8 209.9 118.3 209.5 118.8 209.2 119.3 208.9 119.7 208.7 120.2 208.4 120.8 208.2 121.3 208.0 121.8 207.8 122.5 207.7 123.3 207.7 124.0 207.7 124.8 207.9 125.3 208.1 125.8 208.3 126.3 208.6 126.8 208.9 127.1 209.2 127.5 209.5 128.0 209.9 128.3 210.2 128.7 210.7 129.1 211.1 129.3 211.4 129.7 211.9 130.0 212.4 130.3 212.8 130.6 213.2 130.8 213.7 131.1 214.2 131.4 214.7 131.6 215.2 131.8 215.8 131.9 216.4 132.1 217.1 132.1 217.7 132.1 218.4 132.0 218.9 131.9 219.7 131.8 220.2 131.6 220.9 131.4 221.4 131.3 221.9 131.1 222.7 131.0 223.2 130.8 223.9 130.7 224.4 130.7 225.2 130.7 225.9 130.7 226.7 130.8 227.4 130.8 227.9 130.9 228.7 131.0 229.4 131.0 230.2 131.0 230.9 131.0 231.7 131.0 232.4 130.9 233.2 130.8 233.9 130.7 234.4 130.6 235.1 130.4 235.7 130.2 236.2 130.0 236.7 129.8 237.2 129.6 237.7 129.3 238.2 129.0 238.7 128.7 239.2 128.4 239.7 128.1 240.1 127.8 240.4 127.3 240.9 127.0 241.2 126.5 241.6 126.1 241.9 125.8 242.2 125.3 242.5 124.8 242.8 124.3 243.1 123.9 243.4 123.5 243.8 123.3 244.2 123.2 244.9 123.1 245.7 123.1 246.4 123.2 247.2 123.2 247.9 123.2 248.7 123.2 249.4 123.1 250.2 123.0 250.7 122.9 251.4 122.8 252.0 122.7 252.7 122.5 253.2 122.4 253.9 122.3 254.4 122.1 255.2 122.0 255.7 121.9 256.4 121.8 256.9 121.6 257.6 121.4 258.1 121.2 258.6 120.8 259.1 120.3 259.4 119.8 259.1 119.3 258.7 119.0 258.3 118.8 257.9 118.5 257.4 118.3 256.9 118.0 256.4 117.8 255.8 117.5 255.2 117.3 254.7 117.2 254.2 117.0 253.7 116.8 253.2 116.5 252.5 116.3 251.9 116.1 251.4 115.9 250.9 115.7 250.4 115.5 249.9 115.2 249.4 115.0 248.9 114.7 248.4 114.4 247.9 114.0 247.4 113.8 247.1 113.4 246.7 113.0 246.3 112.7 245.9 112.3 245.6 111.8 245.2 111.5 244.9 111.0 244.6 110.5 244.2 110.2 243.9 109.8 243.6 109.3 243.2 109.0 242.9 108.5 242.6 108.1 242.2 107.8 241.9 107.3 241.5 106.9 241.2 106.5 240.8 106.1 240.4 105.8 240.1 105.3 239.7 105.0 239.4 104.5 238.9 104.3 238.7 103.8 238.2 103.5 237.9 103.1 237.4 102.8 237.1 102.4 236.7 102.0 236.3 101.7 235.9 101.3 235.4 101.0 235.1 100.6 234.7 100.3 234.2 100.0 233.9 99.6 233.4 99.3 233.0 99.0 232.6 98.7 232.2 98.3 231.7 98.0 231.3 97.8 230.9 97.4 230.4 97.1 229.9 96.8 229.5 96.5 229.1 96.2 228.7 95.8 228.2 95.5 227.9 95.0 227.4 94.8 227.2 94.3 226.8 93.8 226.4 93.4 226.2 92.9 225.9 92.5 225.7 91.9 225.4 91.4 225.2 90.8 224.9 90.3 224.7 89.8 224.6 89.3 224.4 88.5 224.2 88.0 224.1 87.5 223.9 86.8 223.7 86.3 223.6 85.5 223.5 85.0 223.4 84.3 223.3 83.5 223.2 83.0 223.1 82.3 223.1 81.5 223.0 80.8 223.0 80.0 222.9 79.5 222.9 78.8 222.9 78.0 222.8 77.3 222.8 76.5 222.7 76.0 222.6 75.3 222.6 74.5 222.5 73.9 222.4 73.3 222.3 72.5 222.2 72.0 222.1 71.3 222.0 70.8 221.9 70.8 221.9M104.8 226.4 105.3 226.0 105.3 225.6 104.8 225.7 104.3 226.1 104.3 226.4 104.8 226.4ZM115.0 236.4 115.4 236.2 115.8 235.7 115.9 235.2 116.0 234.4 116.0 233.7 116.1 233.2 116.1 232.4 116.0 231.9 116.0 231.2 115.8 230.7 115.0 230.6 114.5 230.8 114.1 231.2 113.7 231.4 113.3 231.7 112.8 232.0 112.3 232.3 111.8 232.6 111.5 232.9 111.1 233.4 111.0 233.9 111.2 234.4 111.5 234.8 111.9 235.2 112.3 235.5 112.8 235.8 113.3 236.1 113.8 236.3 114.3 236.5 115.0 236.4Z" stroke="#262626" stroke-width="0.6" fill="none" fill-rule="evenodd"/>
<path d="M70.8 215.1 71.4 214.9 72.0 214.7 72.5 214.6 73.3 214.5 73.8 214.4 74.5 214.3 75.3 214.2 75.8 214.1 76.5 214.0 77.3 213.9 77.8 213.9 78.5 213.8 79.3 213.8 80.0 213.7 80.5 213.6 81.3 213.6 82.0 213.5 82.5 213.4 83.3 213.3 83.8 213.2 84.5 213.0 85.0 212.9 85.8 212.7 86.3 212.5 86.8 212.4 87.5 212.2 88.0 212.1 88.7 211.9 89.3 211.7 89.8 211.6 90.5 211.5 91.0 211.4 91.8 211.2 92.3 211.1 93.0 210.9 93.5 210.8 94.3 210.7 94.8 210.6 95.5 210.5 96.0 210.4 96.8 210.3 97.5 210.2 98.3 210.2 98.8 210.1 99.5 210.1 100.3 210.1 101.0 210.1 101.8 210.1 102.5 210.1 103.0 210.2 103.8 210.3 104.5 210.4 105.0 210.5 105.8 210.6 106.3 210.7 107.0 210.9 107.5 211.0 108.0 211.2 108.7 211.4 109.3 211.6 109.8 211.8 110.3 212.0 110.8 212.2 111.3 212.5 111.8 212.7 112.3 213.0 112.8 213.2 113.3 213.5 113.8 213.8 114.3 214.0 115.0 214.1 115.8 213.9 116.2 213.7 116.5 213.4 117.0 212.9 117.3 212.6 117.8 212.2 118.1 211.9 118.5 211.5 119.0 211.2 119.3 210.9 119.8 210.6 120.3 210.3 120.8 210.1 121.4 209.9 122.0 209.8 122.8 209.7 123.5 209.8 124.0 209.9 124.7 210.2 125.3 210.4 125.7 210.7 126.0 210.9 126.5 211.4 126.8 211.7 127.3 212.2 127.5 212.5 127.8 212.9 128.1 213.4 128.4 213.9 128.6 214.4 128.8 215.0 129.0 215.7 129.1 216.2 129.2 216.9 129.2 217.7 129.2 218.4 129.1 219.2 129.0 219.7 128.8 220.4 128.7 220.9 128.5 221.4 128.3 222.1 128.1 222.7 128.0 223.2 127.9 223.9 128.0 224.7 128.1 225.2 128.3 225.7 128.6 226.3 128.8 226.9 128.9 227.4 129.1 227.9 129.3 228.6 129.4 229.2 129.6 229.9 129.6 230.4 129.7 231.2 129.7 231.9 129.6 232.7 129.6 233.3 129.4 233.9 129.3 234.5 129.1 235.2 128.9 235.7 128.7 236.2 128.4 236.7 128.1 237.2 127.8 237.5 127.5 237.9 127.0 238.3 126.7 238.7 126.3 239.0 125.8 239.3 125.3 239.5 124.8 239.7 124.0 239.8 123.3 239.9 122.5 239.8 122.0 239.7 121.4 239.4 120.9 239.2 120.4 238.9 120.0 238.6 119.6 238.2 119.3 237.9 118.9 237.4 118.6 236.9 118.4 236.4 118.2 235.9 118.0 235.4 117.8 234.8 117.7 234.2 117.5 233.5 117.5 232.9 117.5 232.2 117.5 231.4 117.5 230.7 117.6 230.2 117.7 229.4 117.8 228.8 118.0 228.2 118.1 227.7 118.3 227.1 118.5 226.4 118.7 225.9 118.8 225.4 118.8 224.7 118.7 224.2 118.4 223.7 118.1 223.2 117.8 222.7 117.5 222.4 117.2 221.9 116.8 221.5 116.5 221.2 116.0 220.7 115.7 220.4 115.0 220.2 114.3 220.2 113.8 220.4 113.3 220.7 112.8 220.9 112.3 221.2 111.8 221.4 111.2 221.7 110.7 221.9 110.1 222.2 109.5 222.4 109.0 222.6 108.5 222.7 108.0 222.9 107.3 223.1 106.8 223.2 106.2 223.4 105.5 223.6 105.0 223.7 104.3 223.9 103.8 224.0 103.0 224.1 102.5 224.2 101.8 224.4 101.3 224.5 100.5 224.6 100.0 224.7 99.3 224.8 98.5 224.9 97.8 224.9 97.0 224.8 96.3 224.7 95.8 224.6 95.0 224.5 94.5 224.4 93.8 224.2 93.3 224.1 92.6 223.9 92.0 223.8 91.5 223.7 90.8 223.5 90.3 223.4 89.5 223.2 89.0 223.1 88.3 222.9 87.8 222.8 87.0 222.7 86.5 222.6 85.8 222.5 85.3 222.4 84.5 222.3 83.8 222.2 83.1 222.2 82.5 222.1 81.8 222.1 81.0 222.0 80.3 222.0 79.5 222.0 78.8 221.9 78.1 221.9 77.5 221.9 76.8 221.8 76.0 221.7 75.3 221.7 74.8 221.6 74.0 221.5 73.5 221.4 72.8 221.3 72.2 221.2 71.5 221.0 71.0 220.9 70.8 220.8M108.3 232.7 107.5 232.7 106.8 232.7 106.3 232.6 105.8 232.4 105.3 232.0 105.0 231.6 104.8 230.9 104.9 230.2 105.0 229.5 105.3 228.9 105.5 228.4 105.8 228.0 106.0 227.6 106.4 227.2 106.8 226.7 107.1 226.4 107.5 226.0 108.0 225.7 108.4 225.4 108.8 225.2 109.3 224.9 110.0 224.7 110.5 224.5 111.1 224.4 111.8 224.3 112.5 224.4 113.0 224.5 113.6 224.7 114.1 224.9 114.5 225.2 115.0 225.7 115.3 226.2 115.4 226.7 115.5 227.4 115.3 228.1 115.0 228.6 114.8 229.0 114.5 229.4 114.1 229.9 113.8 230.2 113.3 230.6 112.8 230.9 112.4 231.2 112.0 231.4 111.5 231.7 110.9 231.9 110.3 232.1 109.8 232.3 109.3 232.5 108.5 232.6ZM119.5 252.3 118.8 252.2 118.5 251.8 118.3 251.4 118.0 250.9 117.8 250.4 117.5 249.9 117.3 249.2 117.1 248.7 116.9 248.2 116.7 247.7 116.5 247.1 116.3 246.4 116.2 245.9 116.0 245.3 115.9 244.7 115.9 243.9 116.0 243.2 116.3 242.8 116.8 242.5 117.4 242.7 117.8 242.9 118.3 243.4 118.5 243.7 118.8 244.2 119.1 244.7 119.3 245.2 119.5 245.8 119.7 246.4 119.9 246.9 120.0 247.7 120.1 248.2 120.1 248.9 120.2 249.7 120.1 250.4 120.0 251.0 119.9 251.7 119.7 252.2Z" stroke="#262626" stroke-width="0.6" fill="none" fill-rule="evenodd"/>
<path d="M70.8 216.1 71.3 215.9 71.9 215.7 72.5 215.5 73.0 215.4 73.8 215.2 74.3 215.1 75.0 215.0 75.5 214.9 76.3 214.8 77.0 214.7 77.6 214.7 78.3 214.6 79.0 214.5 79.8 214.5 80.5 214.4 81.0 214.4 81.8 214.3 82.5 214.2 83.1 214.2 83.8 214.0 84.5 213.9 85.0 213.8 85.5 213.6 86.3 213.4 86.8 213.3 87.3 213.1 88.0 212.9 88.5 212.8 89.2 212.7 89.8 212.5 90.3 212.4 91.0 212.2 91.5 212.1 92.3 211.9 92.8 211.8 93.5 211.7 94.0 211.6 94.8 211.4 95.3 211.3 96.0 211.2 96.5 211.1 97.3 211.0 98.0 210.9 98.5 210.9 99.3 210.8 100.0 210.8 100.8 210.8 101.5 210.9 102.3 210.9 102.8 210.9 103.5 211.0 104.3 211.2 104.8 211.2 105.5 211.4 106.0 211.5 106.5 211.7 107.3 211.9 107.8 212.1 108.3 212.3 108.8 212.5 109.3 212.7 109.8 213.0 110.3 213.3 110.8 213.6 111.1 213.9 111.5 214.2 112.0 214.7 112.3 215.0 112.6 215.4 112.9 215.9 113.1 216.4 113.1 217.2 113.0 217.7 112.8 218.3 112.5 218.7 112.2 219.2 111.8 219.6 111.4 219.9 111.0 220.2 110.5 220.5 110.0 220.9 109.5 221.1 109.0 221.4 108.5 221.6 108.0 221.8 107.5 222.0 107.0 222.2 106.4 222.4 105.8 222.6 105.3 222.7 104.5 222.9 104.0 223.0 103.3 223.1 102.8 223.2 102.0 223.3 101.4 223.4 100.8 223.5 100.0 223.5 99.3 223.6 98.5 223.6 97.8 223.6 97.0 223.5 96.3 223.5 95.7 223.4 95.0 223.3 94.3 223.2 93.8 223.1 93.0 223.0 92.5 222.9 91.8 222.8 91.0 222.7 90.5 222.6 89.8 222.4 89.3 222.3 88.5 222.2 88.0 222.1 87.3 222.0 86.8 221.9 86.0 221.8 85.3 221.7 84.8 221.6 84.0 221.5 83.3 221.5 82.5 221.4 81.8 221.4 81.3 221.4 80.5 221.4 79.8 221.3 79.0 221.3 78.3 221.3 77.5 221.2 76.9 221.2 76.3 221.1 75.5 221.0 74.9 220.9 74.3 220.8 73.5 220.7 73.0 220.5 72.5 220.4 71.8 220.2 71.3 220.0 70.8 219.9 70.8 219.9M124.3 238.4 123.5 238.5 122.8 238.4 122.3 238.3 121.8 238.1 121.3 237.9 120.8 237.5 120.4 237.2 120.0 236.8 119.7 236.4 119.4 235.9 119.1 235.4 118.9 234.9 118.7 234.4 118.5 233.8 118.4 233.2 118.4 232.4 118.3 231.7 118.4 230.9 118.5 230.2 118.6 229.7 118.8 229.0 119.0 228.4 119.3 227.9 119.5 227.4 119.8 226.9 120.0 226.5 120.3 226.1 120.6 225.7 120.8 225.2 120.9 224.4 120.7 223.9 120.3 223.4 120.0 223.2 119.6 222.7 119.3 222.4 118.9 221.9 118.5 221.5 118.3 221.1 118.0 220.7 117.7 220.2 117.4 219.7 117.2 219.2 117.0 218.7 116.9 217.9 116.8 217.4 116.8 216.9 116.9 216.2 117.1 215.7 117.3 215.0 117.5 214.5 117.8 214.1 118.1 213.7 118.5 213.2 118.8 212.8 119.1 212.4 119.5 212.1 120.0 211.7 120.5 211.4 121.0 211.2 121.5 211.0 122.3 210.9 123.0 210.9 123.8 211.1 124.3 211.3 124.8 211.5 125.3 211.8 125.7 212.2 126.0 212.5 126.4 212.9 126.8 213.4 127.0 213.9 127.3 214.4 127.5 214.9 127.6 215.4 127.8 216.1 127.9 216.7 127.9 217.4 127.9 218.2 127.8 218.7 127.6 219.4 127.5 219.9 127.3 220.4 127.0 221.0 126.8 221.5 126.5 221.9 126.3 222.4 126.0 222.9 125.7 223.4 125.6 224.2 125.8 224.7 126.1 225.2 126.4 225.7 126.8 226.1 127.0 226.5 127.3 226.9 127.6 227.4 127.9 227.9 128.1 228.4 128.3 228.9 128.5 229.7 128.6 230.2 128.7 230.9 128.8 231.7 128.7 232.4 128.7 233.2 128.6 233.7 128.4 234.4 128.2 234.9 127.9 235.4 127.7 235.9 127.3 236.4 127.0 236.8 126.7 237.2 126.3 237.5 125.8 237.8 125.3 238.1 124.8 238.3 124.3 238.4ZM110.3 231.4 109.5 231.6 108.8 231.6 108.0 231.5 107.5 231.4 107.0 231.1 106.6 230.7 106.4 230.2 106.3 229.7 106.3 229.1 106.5 228.4 106.8 227.9 107.0 227.5 107.3 227.2 107.8 226.7 108.1 226.4 108.5 226.1 109.0 225.8 109.5 225.5 110.0 225.4 110.8 225.2 111.3 225.1 112.0 225.1 112.5 225.2 113.1 225.4 113.6 225.7 114.0 226.1 114.3 226.5 114.5 227.2 114.4 227.9 114.3 228.4 114.0 228.9 113.6 229.4 113.3 229.8 112.9 230.2 112.5 230.4 112.0 230.7 111.5 231.0 111.0 231.2 110.4 231.4Z" stroke="#262626" stroke-width="0.6" fill="none" fill-rule="evenodd"/>
<path d="M70.8 217.5 71.1 217.2 71.5 216.8 72.0 216.5 72.5 216.3 73.0 216.1 73.8 215.9 74.3 215.8 75.0 215.7 75.5 215.5 76.3 215.4 76.8 215.4 77.5 215.3 78.3 215.2 79.0 215.2 79.5 215.1 80.3 215.1 81.0 215.0 81.8 215.0 82.4 214.9 83.0 214.8 83.8 214.7 84.3 214.6 85.0 214.5 85.5 214.3 86.3 214.2 86.8 214.0 87.3 213.9 88.0 213.7 88.5 213.5 89.0 213.4 89.8 213.2 90.3 213.1 91.0 212.9 91.5 212.8 92.1 212.7 92.8 212.5 93.3 212.4 94.0 212.2 94.5 212.1 95.3 212.0 95.8 211.9 96.5 211.8 97.3 211.7 97.8 211.6 98.5 211.5 99.3 211.5 100.0 211.5 100.8 211.5 101.5 211.5 102.3 211.5 103.0 211.6 103.5 211.7 104.3 211.8 104.8 211.9 105.5 212.1 106.0 212.3 106.5 212.4 107.1 212.7 107.7 212.9 108.2 213.2 108.6 213.4 109.0 213.7 109.5 214.0 110.0 214.4 110.3 214.7 110.7 215.2 111.0 215.7 111.2 216.2 111.4 216.7 111.3 217.4 111.2 217.9 111.0 218.4 110.7 218.9 110.3 219.3 110.0 219.7 109.5 220.0 109.0 220.3 108.6 220.7 108.1 220.9 107.6 221.2 107.0 221.4 106.5 221.6 106.0 221.7 105.5 221.9 104.8 222.1 104.3 222.2 103.5 222.4 103.0 222.5 102.3 222.6 101.5 222.6 101.0 222.7 100.3 222.7 99.5 222.8 98.8 222.8 98.0 222.8 97.3 222.7 96.5 222.7 96.0 222.6 95.3 222.6 94.5 222.5 94.0 222.4 93.3 222.3 92.5 222.2 92.0 222.1 91.3 222.0 90.5 221.9 90.0 221.8 89.3 221.7 88.8 221.6 88.0 221.5 87.5 221.4 86.8 221.3 86.0 221.2 85.5 221.1 84.8 221.0 84.0 221.0 83.3 220.9 82.8 220.9 82.0 220.9 81.3 220.8 80.5 220.8 79.8 220.8 79.0 220.7 78.3 220.7 77.8 220.6 77.0 220.6 76.3 220.5 75.7 220.4 75.0 220.3 74.4 220.2 73.8 220.0 73.3 219.9 72.7 219.7 72.1 219.4 71.6 219.2 71.2 218.9 70.8 218.4ZM123.3 222.9 122.5 222.9 122.0 222.8 121.5 222.7 121.0 222.4 120.5 222.1 120.0 221.7 119.8 221.4 119.3 220.9 119.0 220.5 118.8 220.1 118.5 219.7 118.3 219.1 118.1 218.4 118.0 217.9 117.9 217.2 118.0 216.4 118.1 215.9 118.3 215.2 118.5 214.7 118.8 214.2 119.0 213.8 119.4 213.4 119.8 213.0 120.2 212.7 120.6 212.4 121.1 212.2 121.8 211.9 122.3 211.8 123.0 211.9 123.5 212.0 124.0 212.2 124.5 212.4 125.0 212.8 125.4 213.2 125.8 213.6 126.0 213.9 126.3 214.4 126.5 214.9 126.8 215.7 126.9 216.2 127.0 216.9 127.0 217.7 126.9 218.4 126.8 218.9 126.5 219.6 126.3 220.2 126.0 220.6 125.8 221.0 125.5 221.4 125.0 221.9 124.8 222.2 124.3 222.5 123.8 222.8 123.3 222.9ZM110.0 230.9 109.3 231.0 108.7 230.9 108.0 230.7 107.6 230.4 107.3 230.0 107.1 229.4 107.2 228.7 107.4 228.2 107.7 227.7 108.0 227.2 108.4 226.9 108.8 226.6 109.3 226.3 109.8 226.0 110.3 225.9 111.0 225.7 111.8 225.7 112.5 225.9 113.0 226.2 113.3 226.4 113.6 226.9 113.8 227.7 113.6 228.4 113.3 228.9 113.0 229.2 112.6 229.7 112.3 229.9 111.8 230.3 111.3 230.5 110.8 230.7 110.1 230.9ZM124.3 237.4 123.5 237.5 122.8 237.4 122.3 237.3 121.8 237.1 121.3 236.7 120.9 236.4 120.5 236.1 120.2 235.7 119.9 235.2 119.7 234.7 119.5 234.2 119.3 233.6 119.2 232.9 119.1 232.2 119.1 231.4 119.2 230.7 119.3 230.1 119.5 229.4 119.7 228.9 120.0 228.4 120.3 227.9 120.5 227.5 120.9 227.2 121.3 226.7 121.7 226.4 122.1 226.2 122.7 225.9 123.3 225.8 124.0 225.8 124.5 226.0 125.0 226.2 125.5 226.5 126.0 226.9 126.3 227.2 126.6 227.7 127.0 228.2 127.3 228.7 127.5 229.2 127.7 229.7 127.8 230.2 127.9 230.9 128.0 231.7 128.0 232.4 127.9 233.2 127.8 233.7 127.5 234.3 127.3 234.9 127.0 235.3 126.8 235.7 126.4 236.2 126.0 236.5 125.5 236.9 125.1 237.2 124.5 237.4Z" stroke="#262626" stroke-width="0.6" fill="none" fill-rule="evenodd"/>
<path d="M102.5 221.9 101.8 222.0 101.0 222.1 100.3 222.1 99.5 222.1 98.8 222.1 98.0 222.1 97.3 222.1 96.5 222.0 95.8 222.0 95.3 221.9 94.5 221.8 93.8 221.7 93.0 221.7 92.5 221.6 91.8 221.5 91.0 221.4 90.5 221.4 89.8 221.2 89.2 221.2 88.5 221.0 87.8 220.9 87.3 220.8 86.5 220.7 86.0 220.6 85.3 220.5 84.5 220.4 84.0 220.4 83.3 220.4 82.5 220.3 81.8 220.3 81.0 220.3 80.3 220.3 79.5 220.2 78.8 220.2 78.3 220.1 77.5 220.1 76.8 220.0 76.3 219.9 75.5 219.7 75.0 219.6 74.4 219.4 73.8 219.2 73.3 218.9 72.9 218.7 72.6 218.2 72.5 217.9 72.8 217.4 73.3 217.0 73.8 216.8 74.3 216.6 74.8 216.4 75.5 216.2 76.0 216.1 76.8 216.0 77.3 215.9 78.0 215.8 78.8 215.7 79.5 215.7 80.1 215.7 80.8 215.6 81.5 215.6 82.3 215.5 83.0 215.4 83.5 215.4 84.3 215.2 84.8 215.1 85.5 215.0 86.0 214.8 86.7 214.7 87.3 214.5 87.8 214.3 88.4 214.2 89.0 214.0 89.5 213.8 90.3 213.7 90.8 213.5 91.5 213.4 92.0 213.3 92.6 213.2 93.3 213.0 93.8 212.9 94.5 212.7 95.0 212.6 95.8 212.5 96.3 212.4 97.0 212.3 97.8 212.2 98.3 212.1 99.0 212.1 99.8 212.0 100.5 212.0 101.3 212.1 102.0 212.1 102.5 212.2 103.3 212.3 104.0 212.4 104.5 212.5 105.0 212.7 105.8 212.9 106.3 213.1 106.8 213.3 107.3 213.5 107.8 213.8 108.3 214.2 108.6 214.4 109.0 214.8 109.4 215.2 109.7 215.7 109.9 216.2 110.0 216.7 110.0 217.3 109.9 217.9 109.7 218.4 109.3 218.9 109.0 219.2 108.5 219.6 108.2 219.9 107.8 220.2 107.3 220.5 106.8 220.7 106.3 220.9 105.7 221.2 105.0 221.4 104.5 221.5 103.9 221.7 103.3 221.8 102.6 221.9ZM123.3 221.7 122.5 221.8 121.9 221.7 121.3 221.4 120.8 221.2 120.5 220.9 120.0 220.5 119.8 220.2 119.5 219.7 119.2 219.2 119.0 218.7 118.8 217.9 118.8 217.4 118.8 216.7 118.9 216.2 119.0 215.5 119.3 214.9 119.5 214.4 119.8 214.1 120.2 213.7 120.5 213.4 121.0 213.0 121.5 212.8 122.3 212.7 123.0 212.7 123.7 212.9 124.2 213.2 124.6 213.4 125.0 213.9 125.3 214.2 125.6 214.7 125.8 215.2 126.0 215.8 126.2 216.4 126.2 217.2 126.2 217.9 126.0 218.6 125.9 219.2 125.6 219.7 125.3 220.2 125.0 220.5 124.7 220.9 124.3 221.2 123.8 221.5 123.3 221.7ZM110.8 230.2 110.0 230.4 109.3 230.4 108.6 230.2 108.3 229.9 107.9 229.4 107.9 228.7 108.1 228.2 108.4 227.7 108.8 227.2 109.2 226.9 109.6 226.7 110.3 226.4 110.8 226.3 111.5 226.3 112.0 226.4 112.5 226.7 112.9 227.2 113.0 227.9 112.8 228.6 112.5 229.0 112.2 229.4 111.8 229.7 111.3 230.0 110.8 230.2ZM124.5 236.4 123.8 236.6 123.0 236.6 122.4 236.4 121.9 236.2 121.5 235.9 121.0 235.5 120.8 235.2 120.5 234.7 120.2 234.2 120.0 233.7 119.8 232.9 119.8 232.4 119.8 231.7 119.8 231.2 120.0 230.4 120.1 229.9 120.3 229.4 120.6 228.9 120.9 228.4 121.3 228.0 121.7 227.7 122.1 227.4 122.6 227.2 123.3 227.0 124.0 227.0 124.5 227.2 125.0 227.4 125.5 227.8 125.9 228.2 126.3 228.6 126.5 229.0 126.8 229.5 127.0 230.1 127.2 230.7 127.3 231.4 127.3 231.9 127.3 232.4 127.2 233.2 127.0 233.7 126.8 234.3 126.5 234.7 126.3 235.2 125.8 235.7 125.5 235.9 125.0 236.2 124.5 236.4Z" stroke="#262626" stroke-width="0.6" fill="none" fill-rule="evenodd"/>
<path d="M102.0 221.4 101.3 221.5 100.5 221.5 99.8 221.6 99.0 221.6 98.3 221.5 97.5 221.5 96.8 221.5 96.1 221.4 95.5 221.4 94.8 221.3 94.0 221.2 93.4 221.2 92.8 221.1 92.0 221.0 91.3 220.9 90.8 220.9 90.0 220.8 89.3 220.7 88.8 220.6 88.0 220.4 87.5 220.3 86.8 220.2 86.3 220.1 85.5 220.0 84.8 219.9 84.3 219.9 83.5 219.8 82.8 219.8 82.0 219.7 81.3 219.7 80.5 219.7 79.9 219.7 79.3 219.6 78.5 219.5 77.8 219.4 77.3 219.4 76.5 219.2 76.0 219.1 75.5 218.9 75.0 218.6 74.6 218.2 74.8 217.6 75.3 217.2 75.8 217.0 76.3 216.8 76.9 216.7 77.5 216.5 78.3 216.4 78.8 216.4 79.5 216.3 80.3 216.2 81.0 216.2 81.6 216.2 82.3 216.1 83.0 216.0 83.8 215.9 84.3 215.8 85.0 215.7 85.5 215.6 86.1 215.4 86.8 215.2 87.3 215.1 87.8 214.9 88.5 214.7 89.0 214.5 89.6 214.4 90.3 214.2 90.8 214.1 91.5 213.9 92.0 213.8 92.8 213.7 93.3 213.6 94.0 213.4 94.5 213.3 95.3 213.2 95.8 213.0 96.5 212.9 97.0 212.8 97.8 212.7 98.5 212.7 99.0 212.6 99.8 212.6 100.5 212.6 101.3 212.6 102.0 212.7 102.5 212.7 103.3 212.8 103.8 212.9 104.5 213.1 105.0 213.3 105.5 213.5 106.0 213.7 106.5 213.9 107.0 214.2 107.5 214.6 107.9 214.9 108.3 215.3 108.5 215.7 108.8 216.2 108.9 216.9 108.8 217.7 108.6 218.2 108.3 218.7 108.0 219.0 107.6 219.4 107.2 219.7 106.8 219.9 106.3 220.2 105.8 220.4 105.3 220.7 104.5 220.9 104.0 221.0 103.5 221.2 102.8 221.3 102.1 221.4ZM123.3 220.7 122.5 220.8 121.8 220.7 121.3 220.4 120.9 220.2 120.5 219.8 120.2 219.4 119.9 218.9 119.7 218.4 119.5 217.7 119.5 217.2 119.5 216.5 119.7 215.9 119.9 215.4 120.1 214.9 120.5 214.4 120.8 214.1 121.3 213.8 121.8 213.6 122.5 213.5 123.3 213.6 123.8 213.8 124.3 214.2 124.5 214.4 124.9 214.9 125.2 215.4 125.3 215.9 125.5 216.7 125.5 217.4 125.4 218.2 125.3 218.7 125.0 219.2 124.7 219.7 124.3 220.1 123.9 220.4 123.4 220.7ZM110.5 229.7 109.8 229.7 109.3 229.6 108.8 229.2 108.7 228.7 108.8 228.2 109.2 227.7 109.5 227.4 110.0 227.1 110.7 226.9 111.2 226.9 111.8 227.1 112.1 227.4 112.2 228.2 112.0 228.7 111.6 229.2 111.2 229.4 110.6 229.7ZM124.0 235.7 123.3 235.8 122.8 235.7 122.2 235.4 121.8 235.1 121.3 234.7 121.0 234.2 120.8 233.7 120.6 233.2 120.5 232.7 120.4 231.9 120.5 231.2 120.6 230.7 120.8 230.1 121.0 229.6 121.3 229.2 121.8 228.7 122.2 228.4 122.6 228.2 123.3 228.0 124.0 228.0 124.5 228.2 125.0 228.5 125.5 228.9 125.8 229.2 126.1 229.7 126.3 230.2 126.5 230.9 126.6 231.4 126.6 232.2 126.5 232.8 126.4 233.4 126.2 233.9 125.9 234.4 125.5 234.8 125.2 235.2 124.8 235.4 124.3 235.7Z" stroke="#262626" stroke-width="0.6" fill="none" fill-rule="evenodd"/>
<path d="M101.5 220.9 100.8 221.0 100.0 221.0 99.3 221.0 98.5 221.0 97.8 221.0 97.0 220.9 96.5 220.9 95.8 220.8 95.0 220.8 94.3 220.7 93.7 220.7 93.0 220.6 92.3 220.5 91.5 220.4 91.0 220.4 90.3 220.3 89.5 220.2 89.0 220.1 88.3 219.9 87.8 219.8 87.0 219.7 86.5 219.6 85.8 219.4 85.3 219.3 84.5 219.2 83.9 219.2 83.3 219.1 82.5 219.0 81.8 219.0 81.0 219.0 80.3 218.9 79.8 218.9 79.0 218.8 78.4 218.7 77.8 218.4 77.4 218.2 77.6 217.7 78.1 217.4 78.8 217.2 79.3 217.1 80.0 217.0 80.8 217.0 81.5 216.9 82.0 216.9 82.8 216.8 83.5 216.7 84.0 216.6 84.8 216.4 85.3 216.3 85.8 216.1 86.5 215.9 87.0 215.7 87.5 215.6 88.1 215.4 88.8 215.2 89.3 215.0 89.8 214.9 90.5 214.7 91.0 214.6 91.8 214.4 92.3 214.3 93.0 214.2 93.5 214.1 94.3 213.9 94.8 213.8 95.5 213.7 96.0 213.5 96.8 213.4 97.3 213.3 98.0 213.2 98.7 213.2 99.3 213.1 100.0 213.1 100.8 213.1 101.5 213.1 102.0 213.2 102.8 213.3 103.3 213.4 104.0 213.6 104.5 213.8 105.0 213.9 105.5 214.2 106.0 214.4 106.5 214.8 107.0 215.2 107.3 215.5 107.6 215.9 107.8 216.5 107.9 217.2 107.8 217.7 107.5 218.2 107.2 218.7 106.8 219.0 106.3 219.4 105.9 219.7 105.4 219.9 104.8 220.2 104.3 220.3 103.8 220.5 103.2 220.7 102.5 220.8 101.8 220.9ZM123.3 219.7 122.5 219.9 121.8 219.7 121.3 219.4 121.0 219.2 120.7 218.7 120.4 218.2 120.3 217.6 120.3 216.9 120.3 216.4 120.5 215.7 120.8 215.3 121.2 214.9 121.5 214.6 122.1 214.4 122.8 214.4 123.3 214.5 123.8 214.8 124.1 215.2 124.4 215.7 124.6 216.2 124.8 216.9 124.7 217.7 124.5 218.3 124.3 218.8 124.0 219.2 123.5 219.6ZM110.5 228.7 110.0 228.7 110.0 228.1 110.5 227.9 111.0 228.1 111.0 228.4 110.5 228.7ZM124.3 234.7 123.5 234.9 122.8 234.7 122.3 234.4 122.0 234.2 121.6 233.7 121.4 233.2 121.2 232.7 121.2 231.9 121.2 231.2 121.4 230.7 121.6 230.2 122.0 229.7 122.3 229.4 122.8 229.1 123.5 228.9 124.3 229.1 124.8 229.4 125.1 229.7 125.4 230.2 125.7 230.7 125.8 231.2 125.9 231.9 125.8 232.7 125.7 233.2 125.4 233.7 125.1 234.2 124.8 234.4 124.3 234.7Z" stroke="#262626" stroke-width="0.6" fill="none" fill-rule="evenodd"/>
<path d="M101.3 220.4 100.5 220.5 99.8 220.5 99.0 220.5 98.3 220.5 97.5 220.4 97.0 220.4 96.3 220.3 95.5 220.3 94.8 220.2 94.1 220.2 93.5 220.1 92.8 220.0 92.0 220.0 91.4 219.9 90.8 219.8 90.0 219.7 89.5 219.6 88.8 219.5 88.3 219.3 87.6 219.2 87.0 219.0 86.5 218.8 86.0 218.7 85.4 218.4 85.0 218.2 84.8 217.9 85.2 217.4 85.6 217.2 86.1 216.9 86.6 216.7 87.2 216.4 87.8 216.2 88.3 216.0 88.8 215.8 89.3 215.6 90.0 215.4 90.5 215.3 91.0 215.1 91.8 215.0 92.3 214.9 93.0 214.7 93.5 214.6 94.3 214.4 94.8 214.3 95.5 214.2 96.0 214.1 96.8 213.9 97.3 213.9 98.0 213.7 98.8 213.7 99.3 213.6 100.0 213.6 100.8 213.6 101.4 213.7 102.0 213.7 102.8 213.9 103.3 214.0 103.9 214.2 104.5 214.4 105.0 214.7 105.4 214.9 105.8 215.2 106.3 215.7 106.5 216.0 106.8 216.6 106.8 217.2 106.7 217.7 106.5 218.2 106.0 218.6 105.7 218.9 105.3 219.2 104.8 219.5 104.3 219.7 103.8 219.9 103.0 220.1 102.5 220.2 101.8 220.4 101.3 220.4ZM122.8 218.7 122.2 218.7 121.8 218.4 121.4 217.9 121.2 217.4 121.2 216.7 121.4 216.2 121.8 215.7 122.3 215.5 123.0 215.6 123.4 215.9 123.7 216.4 123.8 216.9 123.8 217.5 123.5 218.1 123.3 218.4 122.8 218.7ZM123.8 233.7 123.1 233.7 122.7 233.4 122.3 232.9 122.1 232.4 122.1 231.7 122.3 231.0 122.5 230.6 123.0 230.2 123.5 230.1 124.0 230.2 124.5 230.6 124.8 231.1 125.0 231.7 124.9 232.4 124.8 232.9 124.4 233.4 124.0 233.7Z" stroke="#262626" stroke-width="0.6" fill="none" fill-rule="evenodd"/>
<path d="M100.8 219.9 100.0 219.9 99.3 220.0 98.5 219.9 98.0 219.9 97.3 219.9 96.5 219.8 95.8 219.7 95.0 219.7 94.5 219.6 93.8 219.6 93.0 219.5 92.3 219.4 91.8 219.4 91.0 219.3 90.4 219.2 89.8 219.0 89.3 218.9 88.6 218.7 88.1 218.4 87.8 218.2 87.5 217.7 87.8 217.2 88.2 216.9 88.6 216.7 89.2 216.4 89.8 216.2 90.3 216.0 90.8 215.8 91.5 215.7 92.0 215.5 92.6 215.4 93.3 215.3 93.8 215.1 94.5 215.0 95.0 214.9 95.8 214.7 96.3 214.6 97.0 214.5 97.5 214.4 98.3 214.3 99.0 214.2 99.7 214.2 100.3 214.1 100.8 214.2 101.5 214.2 102.3 214.4 102.8 214.5 103.4 214.7 104.0 214.9 104.4 215.2 104.8 215.4 105.3 215.9 105.5 216.2 105.8 216.9 105.6 217.7 105.3 218.2 105.0 218.4 104.5 218.8 104.0 219.1 103.5 219.3 103.0 219.5 102.4 219.7 101.8 219.8 101.0 219.9Z" stroke="#262626" stroke-width="0.6" fill="none" fill-rule="evenodd"/>
</g>
<rect x="70.80" y="201.40" width="61.40" height="62.00" fill="none" stroke="#333" stroke-width="1.0"/>
<line x1="115.40" y1="201.40" x2="115.40" y2="263.40" stroke="#444" stroke-width="0.9" />
<line x1="115.40" y1="223.20" x2="132.20" y2="223.20" stroke="#444" stroke-width="0.9" />
<line x1="70.80" y1="224.80" x2="88.00" y2="224.80" stroke="#444" stroke-width="0.9" />
<text x="84.10" y="208.30" font-size="8.8" font-weight="normal" text-anchor="start" fill="#000" stroke="#000" stroke-width="0.3">48.5</text>
<text x="131.80" y="261.70" font-size="8.8" font-weight="normal" text-anchor="end" fill="#000" stroke="#000" stroke-width="0.3">20.8</text>
<clipPath id="c2"><rect x="137" y="201.2" width="61.400000000000006" height="62.400000000000034"/></clipPath>
<g clip-path="url(#c2)">
<path d="M140.0 250.1h.6M141.8 246.7h.6M148.3 226.7h.6M166.2 254.1h.6M150.9 231.5h.6M147.9 239.4h.6M147.6 234.9h.6M174.0 245.9h.6M138.6 231.3h.6M166.1 246.8h.6M147.7 236.6h.6M178.1 253.6h.6M166.3 260.7h.6M147.3 238.1h.6M174.1 242.3h.6M156.8 256.3h.6M171.2 242.5h.6M148.2 233.3h.6M167.2 261.6h.6M166.3 238.9h.6M173.5 244.0h.6M148.1 236.6h.6M140.8 239.3h.6M152.0 243.0h.6M166.1 260.9h.6M173.2 247.4h.6M153.0 232.0h.6M139.4 250.0h.6M144.3 257.8h.6M166.7 245.5h.6M150.7 244.8h.6M163.7 260.5h.6M143.4 252.3h.6M167.6 239.2h.6M160.7 261.1h.6M157.7 242.9h.6M180.4 262.5h.6M173.3 259.6h.6M164.3 237.1h.6M163.7 251.4h.6M143.3 255.0h.6M150.5 245.0h.6M148.8 236.3h.6M175.8 254.8h.6M139.8 254.9h.6M178.0 252.3h.6M168.0 239.9h.6M177.9 252.3h.6M151.3 259.2h.6M146.5 226.0h.6M149.2 253.6h.6M150.5 236.4h.6M139.9 227.4h.6M151.0 232.5h.6M176.8 254.1h.6M141.9 227.6h.6M140.7 253.7h.6M170.1 249.6h.6M158.7 243.1h.6M172.2 255.1h.6M146.5 262.8h.6M179.0 254.0h.6M171.8 243.0h.6M175.9 251.8h.6M156.4 251.5h.6M140.5 240.5h.6M174.4 243.8h.6M161.6 246.9h.6M167.2 242.6h.6M147.4 227.3h.6M162.8 241.9h.6M155.0 259.3h.6M141.0 246.9h.6M155.4 231.3h.6M154.5 258.5h.6M145.8 251.4h.6M148.9 245.3h.6M146.3 233.4h.6M180.6 261.4h.6M157.8 235.8h.6M139.2 238.2h.6M149.7 263.0h.6M175.8 243.2h.6M150.7 251.4h.6M158.6 236.0h.6M160.2 249.8h.6M150.8 256.9h.6M170.2 254.2h.6M143.3 244.7h.6M144.6 230.4h.6M163.2 262.7h.6M139.5 242.4h.6M141.0 246.0h.6M162.5 244.2h.6M138.7 252.2h.6M159.5 247.3h.6M166.6 260.0h.6M156.3 260.3h.6M144.8 242.8h.6M144.8 239.7h.6M177.0 262.7h.6M157.9 236.0h.6M151.3 259.9h.6M156.4 233.1h.6M174.0 244.9h.6M155.9 259.9h.6M145.0 260.2h.6M155.6 251.6h.6M139.5 245.9h.6M137.8 262.8h.6M166.5 240.0h.6M172.4 255.8h.6M141.1 258.1h.6M154.1 240.9h.6M149.3 261.3h.6M160.5 252.5h.6M140.2 231.1h.6M159.0 249.4h.6M169.7 240.1h.6M152.3 252.1h.6M152.3 254.7h.6M151.1 262.7h.6M165.9 258.1h.6M139.9 229.6h.6M142.6 249.6h.6M165.4 257.8h.6M150.1 254.6h.6M148.8 237.4h.6M166.1 240.5h.6M147.5 259.0h.6M152.0 244.9h.6M139.9 239.6h.6M171.1 254.8h.6M143.6 237.1h.6M148.9 251.6h.6M142.8 263.1h.6M142.1 245.6h.6M168.2 261.6h.6M164.2 258.1h.6M160.5 233.9h.6M155.6 248.6h.6M160.5 255.3h.6M160.9 240.1h.6M159.8 245.3h.6M137.4 238.0h.6M162.4 252.6h.6M155.9 253.9h.6M159.3 239.6h.6M147.7 255.9h.6M177.8 253.3h.6M146.8 252.4h.6M159.4 260.7h.6M137.3 255.0h.6M157.7 258.1h.6M167.6 245.8h.6M147.6 230.1h.6M154.6 246.9h.6M143.6 251.4h.6M161.2 253.8h.6M155.4 235.3h.6M139.7 239.5h.6M157.0 233.5h.6M142.4 250.7h.6M143.3 236.2h.6M155.3 235.9h.6M162.7 262.8h.6M171.9 261.6h.6M153.4 255.1h.6M142.8 250.8h.6M151.3 260.5h.6M152.5 237.8h.6M149.1 246.1h.6M179.2 246.1h.6M169.8 245.3h.6M140.7 247.9h.6M163.3 248.2h.6M150.2 235.7h.6M144.1 236.4h.6M159.7 260.2h.6M168.0 245.2h.6M168.7 242.4h.6M139.1 251.7h.6M168.2 250.5h.6M174.8 255.3h.6M163.3 248.9h.6M149.0 237.0h.6M175.8 248.4h.6M162.9 248.4h.6M138.6 249.4h.6M154.0 241.9h.6M145.2 248.2h.6M166.8 259.5h.6M174.3 262.8h.6M180.2 252.2h.6M149.4 246.1h.6M140.7 247.1h.6M150.5 245.9h.6M158.7 233.8h.6M138.7 243.8h.6M148.6 228.5h.6M178.6 248.7h.6M171.4 245.6h.6M170.8 252.4h.6M143.0 244.9h.6M144.9 252.6h.6M145.4 232.1h.6M149.6 262.5h.6M145.3 259.7h.6M138.6 255.7h.6M175.1 255.2h.6M138.9 242.4h.6M148.5 240.1h.6M153.9 240.5h.6M137.4 235.8h.6M149.8 250.2h.6M167.8 254.1h.6M165.2 259.6h.6M161.6 237.4h.6M138.8 253.2h.6M159.7 261.5h.6M163.8 237.3h.6M137.7 228.5h.6M155.8 236.2h.6M152.2 229.0h.6M154.8 254.4h.6M172.7 258.7h.6M157.2 239.2h.6M137.8 228.2h.6M153.6 229.8h.6M179.9 250.0h.6M150.9 247.8h.6M144.5 260.4h.6M159.2 252.2h.6M145.1 243.6h.6M168.6 240.3h.6M139.9 243.4h.6M173.5 243.1h.6M165.0 244.9h.6M152.9 259.9h.6M141.1 244.0h.6M150.6 262.1h.6M142.7 226.4h.6M145.0 260.9h.6M175.7 256.0h.6M154.7 243.9h.6M162.5 256.4h.6M137.2 232.4h.6M145.6 241.7h.6M165.3 262.8h.6M158.1 259.7h.6M176.4 263.0h.6M152.9 243.6h.6M138.0 240.1h.6M152.7 230.2h.6M142.8 229.9h.6M138.1 254.3h.6M160.6 245.4h.6M155.3 262.2h.6M153.7 243.6h.6M167.6 260.9h.6M175.0 259.1h.6M145.1 261.5h.6M172.7 261.8h.6M169.9 253.6h.6M174.1 259.0h.6M146.2 230.1h.6M161.4 260.7h.6M141.6 237.8h.6M137.2 250.7h.6M146.1 252.9h.6M157.8 263.5h.6M150.9 259.3h.6M150.2 253.0h.6M139.0 258.2h.6M177.4 254.4h.6M172.9 248.3h.6M172.8 243.3h.6M155.1 252.3h.6M157.6 237.3h.6M148.7 242.2h.6M153.9 254.2h.6M171.7 255.9h.6M153.4 257.4h.6M145.0 252.2h.6M160.2 250.9h.6M167.9 251.0h.6M147.4 226.4h.6M179.2 259.7h.6M159.4 250.7h.6M141.0 243.0h.6M163.0 252.2h.6M146.7 229.0h.6M179.6 257.8h.6M144.9 256.8h.6M151.8 231.6h.6M163.2 248.9h.6M148.7 249.9h.6M145.2 260.2h.6M165.7 255.6h.6M152.1 241.8h.6M148.1 235.1h.6M155.4 255.5h.6M159.3 257.2h.6M141.9 236.5h.6M138.6 260.3h.6M139.8 246.2h.6M180.4 262.9h.6M147.6 230.8h.6M165.8 245.1h.6M163.8 249.0h.6M179.4 254.8h.6M150.8 254.0h.6M156.9 262.7h.6M173.4 248.8h.6M170.0 253.6h.6M177.1 257.2h.6M165.6 237.9h.6M158.9 236.1h.6M151.9 243.0h.6M155.7 236.5h.6M150.5 237.4h.6M145.5 247.7h.6M141.1 235.0h.6M144.6 252.4h.6M149.4 229.3h.6M173.4 242.2h.6M152.4 246.8h.6M140.1 262.7h.6M142.9 260.3h.6M166.2 254.6h.6M146.3 259.5h.6M160.7 241.2h.6M145.5 232.0h.6M175.2 262.4h.6M155.5 253.1h.6M167.9 244.3h.6M158.3 246.6h.6M152.4 253.9h.6M155.5 244.7h.6M145.1 262.7h.6M140.4 252.8h.6M166.3 238.6h.6M149.1 238.4h.6M165.4 248.0h.6M168.5 258.3h.6M137.9 246.9h.6M154.8 251.8h.6M160.3 238.8h.6M137.3 237.3h.6M156.8 238.3h.6M153.8 250.3h.6M151.9 257.9h.6M153.0 242.1h.6M156.2 259.9h.6M163.8 262.3h.6M137.2 261.9h.6M145.6 259.7h.6M138.9 258.1h.6M165.0 251.6h.6M154.3 240.3h.6M143.9 230.9h.6M164.7 238.5h.6M138.3 232.0h.6M144.5 232.9h.6M157.1 260.2h.6M162.8 253.7h.6M141.7 251.9h.6M175.3 263.4h.6M168.6 248.6h.6M172.1 252.9h.6M169.2 239.0h.6M140.5 230.9h.6M167.0 237.4h.6M173.1 243.7h.6M150.0 235.2h.6M152.7 239.5h.6M147.0 233.8h.6M164.6 252.3h.6M151.7 261.1h.6M150.0 232.8h.6M139.0 235.5h.6M139.7 249.4h.6M179.1 253.3h.6M161.4 261.5h.6M171.5 261.9h.6M139.7 244.7h.6M147.0 259.9h.6M141.2 256.2h.6M146.1 249.9h.6M167.7 254.5h.6M139.3 243.9h.6M142.6 230.3h.6M144.2 231.1h.6M178.4 246.9h.6M148.2 244.0h.6M139.4 233.7h.6M164.8 252.0h.6M164.3 263.0h.6M180.4 257.3h.6M157.6 254.3h.6M148.0 258.5h.6M147.8 263.2h.6M137.6 255.8h.6M159.2 256.6h.6M160.1 257.3h.6M168.4 249.9h.6M178.0 245.4h.6M168.3 251.0h.6M154.4 245.6h.6M162.4 251.8h.6M172.1 254.2h.6M153.9 229.2h.6M174.2 255.1h.6M174.0 256.7h.6M148.7 249.3h.6M157.6 240.4h.6M155.2 251.2h.6M153.2 249.4h.6M164.9 241.0h.6M165.6 250.5h.6M165.9 241.4h.6M176.0 249.1h.6M172.9 256.4h.6M146.4 228.5h.6M179.0 251.8h.6M155.8 251.0h.6M142.8 249.8h.6M154.6 261.3h.6M166.3 244.9h.6M151.2 243.7h.6M140.2 250.1h.6M174.5 260.0h.6M143.4 244.8h.6M177.2 248.7h.6M163.8 241.5h.6M141.8 241.1h.6M169.9 247.7h.6M163.3 236.1h.6M159.5 242.5h.6M177.3 258.9h.6M156.4 244.7h.6M150.0 247.1h.6M142.8 262.3h.6M150.2 261.7h.6M150.7 240.2h.6M180.2 255.4h.6M153.0 231.8h.6M154.3 239.7h.6M176.6 246.0h.6M178.0 263.1h.6M154.3 246.4h.6M167.1 257.8h.6M169.6 239.8h.6M174.6 252.1h.6M143.5 235.0h.6M150.8 245.1h.6M177.1 262.5h.6M180.3 262.1h.6M140.9 250.9h.6M166.5 250.7h.6M150.7 238.4h.6M149.2 232.2h.6M139.1 243.5h.6M146.0 243.9h.6M146.1 255.7h.6M141.9 254.9h.6M153.8 240.1h.6M157.1 251.2h.6M137.7 231.8h.6M138.6 254.8h.6M147.9 263.5h.6M177.9 259.2h.6M138.2 240.8h.6M155.6 241.1h.6M163.4 255.4h.6M171.9 260.9h.6M167.0 258.9h.6M141.0 226.5h.6M157.0 259.1h.6M154.1 229.7h.6M142.6 234.2h.6M175.1 261.4h.6M171.3 260.7h.6M148.3 232.9h.6M147.7 226.2h.6M164.9 236.3h.6M160.9 242.1h.6M149.8 230.8h.6M151.4 257.3h.6M174.4 253.5h.6M140.5 231.6h.6M177.2 246.1h.6M142.8 248.6h.6M173.3 259.8h.6M179.7 250.0h.6M179.7 253.5h.6M166.6 252.0h.6M142.0 263.3h.6M138.4 235.8h.6M150.7 258.7h.6M164.7 247.7h.6M137.8 241.8h.6M142.4 240.3h.6M154.2 241.7h.6M151.0 255.3h.6M157.5 260.1h.6M152.2 231.0h.6M152.7 258.7h.6M152.9 256.8h.6M145.5 229.8h.6M156.9 252.0h.6M150.0 261.9h.6M137.6 255.4h.6M144.5 263.5h.6M141.4 260.6h.6M154.8 236.4h.6M138.8 233.9h.6M154.0 261.2h.6M141.6 249.0h.6M160.3 259.8h.6M165.1 256.2h.6M171.2 247.1h.6M159.7 247.3h.6M155.3 247.0h.6M156.5 242.2h.6M156.5 254.1h.6M154.4 258.1h.6M153.2 231.1h.6M156.5 239.4h.6M152.0 257.1h.6M176.8 254.3h.6M170.9 259.5h.6M149.0 255.6h.6M143.3 262.2h.6M165.2 260.8h.6M160.9 246.0h.6M163.0 246.6h.6M162.8 251.4h.6M140.0 233.2h.6M163.6 237.4h.6M154.5 239.6h.6M146.5 228.3h.6M154.3 233.2h.6M138.0 259.2h.6M164.3 243.7h.6M167.6 239.2h.6M143.2 249.9h.6M154.6 258.9h.6M151.5 234.0h.6M145.2 235.3h.6M147.6 245.4h.6M153.5 262.4h.6M146.0 261.3h.6M151.9 243.9h.6M179.5 255.2h.6M178.9 246.0h.6M151.1 251.2h.6M141.7 261.6h.6M168.9 256.9h.6M145.3 262.6h.6M150.3 230.8h.6M152.9 238.9h.6M139.6 257.8h.6M161.4 258.7h.6M153.7 244.9h.6M147.8 243.3h.6M150.8 256.9h.6M144.1 226.8h.6M161.3 252.5h.6M151.5 260.9h.6M152.0 233.0h.6M139.9 259.8h.6M146.6 259.7h.6M157.2 261.0h.6M140.8 258.1h.6M180.4 252.6h.6M142.9 263.5h.6M142.8 226.1h.6M163.2 240.9h.6M140.8 244.3h.6M159.6 238.6h.6M162.6 242.4h.6M145.7 249.9h.6M142.9 235.4h.6M159.2 254.3h.6M176.5 251.1h.6M159.0 253.8h.6M138.1 257.5h.6M168.4 255.5h.6M144.2 255.1h.6M142.8 258.2h.6M154.7 235.9h.6M153.3 251.6h.6M143.0 231.7h.6M165.8 259.6h.6M166.8 261.5h.6M149.5 239.0h.6M153.5 239.2h.6M148.9 255.7h.6M149.6 241.4h.6M157.9 263.5h.6M151.6 251.8h.6M151.5 256.0h.6M160.2 238.4h.6M148.7 236.6h.6M137.1 253.3h.6M161.3 249.7h.6M162.2 240.0h.6M157.3 243.6h.6M143.8 228.7h.6M151.9 247.3h.6M162.8 253.2h.6M154.3 239.6h.6M142.0 247.9h.6M171.4 246.8h.6M139.9 245.2h.6M147.7 233.4h.6M166.6 240.9h.6M178.1 260.4h.6M150.1 247.0h.6M143.2 252.0h.6M159.7 234.0h.6M160.8 242.5h.6M138.5 252.5h.6M168.7 260.2h.6M165.5 248.7h.6M139.3 253.1h.6M149.1 241.7h.6M164.5 244.7h.6M149.4 258.8h.6M141.2 248.5h.6M145.2 260.7h.6M178.5 252.7h.6M176.2 254.7h.6M166.0 254.0h.6M157.4 238.4h.6M165.1 249.8h.6M177.0 257.5h.6M139.9 232.1h.6M139.0 252.6h.6M152.3 262.6h.6M146.5 261.9h.6M170.5 254.5h.6M163.9 259.2h.6M147.4 258.6h.6M176.0 248.6h.6M158.8 247.9h.6M151.0 227.1h.6M179.1 256.2h.6M153.2 245.8h.6" stroke="#9a9a9a" stroke-width="0.55" fill="none"/>
<path d="M137.0 218.2 137.2 217.9 137.8 217.5 138.2 217.2 138.6 216.9 139.0 216.7 139.5 216.4 140.1 216.2 140.8 216.0 141.2 215.8 141.8 215.7 142.5 215.5 143.0 215.4 143.8 215.2 144.2 215.2 145.0 215.0 145.8 215.0 146.2 214.9 147.0 214.8 147.5 214.7 148.2 214.5 148.8 214.4 149.4 214.2 150.0 214.0 150.5 213.8 151.0 213.7 151.7 213.4 152.2 213.3 152.8 213.2 153.5 213.0 154.0 212.9 154.8 212.8 155.5 212.7 156.0 212.6 156.8 212.5 157.5 212.5 158.0 212.4 158.8 212.2 159.2 212.1 160.0 212.0 160.5 211.8 161.0 211.7 161.8 211.5 162.2 211.3 162.8 211.2 163.5 211.0 164.0 210.9 164.8 210.8 165.2 210.7 166.0 210.5 166.7 210.4 167.2 210.4 168.0 210.3 168.8 210.3 169.5 210.3 170.2 210.3 171.0 210.3 171.8 210.3 172.5 210.4 173.0 210.5 173.8 210.6 174.5 210.7 175.0 210.8 175.8 210.9 176.2 211.1 176.8 211.2 177.5 211.4 178.0 211.5 178.8 211.6 179.2 211.7 180.0 211.8 180.8 211.8 181.5 211.7 182.0 211.6 182.5 211.4 183.0 211.2 183.6 210.9 184.1 210.7 184.6 210.4 185.2 210.2 185.8 210.0 186.2 209.8 186.8 209.7 187.5 209.5 188.0 209.4 188.8 209.4 189.4 209.4 190.0 209.5 190.5 209.7 191.2 209.9 191.7 210.2 192.2 210.4 192.6 210.7 193.0 211.0 193.5 211.4 193.9 211.7 194.2 212.0 194.7 212.4 195.0 212.8 195.3 213.2 195.7 213.7 196.0 214.1 196.2 214.6 196.5 215.1 196.7 215.7 196.9 216.2 197.0 216.9 197.0 217.7 196.9 218.4 196.9 219.2 196.8 219.9 196.8 220.7 196.8 221.4 196.9 222.2 197.0 222.7 197.2 223.4 197.4 223.9 197.6 224.4 197.8 225.0 198.0 225.7 198.1 226.2 198.3 226.7 198.5 227.4 198.5 227.5M198.5 234.4 198.4 234.9 198.2 235.4 198.0 236.0 197.8 236.6 197.5 237.1 197.2 237.6 197.0 238.1 196.8 238.5 196.5 238.9 196.1 239.4 195.8 239.9 195.5 240.2 195.1 240.7 194.8 241.1 194.4 241.4 194.0 241.9 193.7 242.2 193.2 242.6 192.9 242.9 192.5 243.4 192.2 243.7 191.9 244.2 191.6 244.7 191.4 245.2 191.2 245.8 191.1 246.4 191.0 247.2 190.9 247.7 190.8 248.4 190.8 249.0 190.6 249.7 190.5 250.4 190.4 250.9 190.2 251.7 190.1 252.2 190.0 252.7 189.8 253.4 189.6 253.9 189.4 254.4 189.2 255.0 189.0 255.6 188.8 256.2 188.5 256.7 188.2 257.2 188.0 257.5 187.5 257.9 187.0 258.1 186.5 257.8 186.2 257.4 185.9 256.9 185.6 256.4 185.4 255.9 185.2 255.4 185.0 254.7 184.9 254.2 184.7 253.7 184.5 252.9 184.4 252.4 184.2 251.9 184.0 251.2 183.9 250.7 183.7 250.2 183.5 249.7 183.2 249.1 183.0 248.5 182.8 248.1 182.5 247.7 182.2 247.2 181.8 246.7 181.5 246.4 181.0 246.1 180.6 245.7 180.2 245.4 179.8 245.1 179.2 244.8 178.8 244.4 178.5 244.2 178.0 243.9 177.5 243.5 177.1 243.2 176.7 242.9 176.2 242.6 175.8 242.2 175.4 241.9 175.0 241.7 174.5 241.3 174.1 240.9 173.8 240.7 173.2 240.3 172.9 239.9 172.5 239.6 172.0 239.2 171.7 238.9 171.2 238.6 170.9 238.2 170.5 237.9 170.0 237.4 169.8 237.2 169.2 236.7 169.0 236.4 168.5 236.0 168.2 235.7 167.8 235.2 167.5 234.9 167.1 234.4 166.8 234.0 166.5 233.7 166.0 233.2 165.8 232.9 165.4 232.4 165.0 232.0 164.8 231.7 164.3 231.2 164.0 230.9 163.6 230.4 163.2 230.1 162.8 229.7 162.5 229.4 162.0 229.1 161.5 228.7 161.1 228.4 160.6 228.2 160.2 227.9 159.7 227.7 159.1 227.4 158.6 227.2 158.0 227.0 157.5 226.8 157.0 226.6 156.5 226.4 155.9 226.2 155.2 226.0 154.8 225.8 154.2 225.7 153.5 225.5 153.0 225.4 152.2 225.2 151.8 225.1 151.0 225.0 150.4 224.9 149.8 224.9 149.0 224.8 148.2 224.8 147.5 224.7 147.0 224.7 146.2 224.6 145.5 224.6 144.8 224.5 144.2 224.4 143.5 224.3 142.8 224.2 142.2 224.1 141.7 223.9 141.0 223.8 140.5 223.6 140.0 223.4 139.4 223.2 138.9 222.9 138.4 222.7 138.0 222.4 137.5 222.1 137.1 221.7 137.0 221.6" stroke="#262626" stroke-width="0.6" fill="none" fill-rule="evenodd"/>
<path d="M187.5 251.8 186.8 251.8 186.4 251.4 186.2 250.9 186.0 250.4 185.8 249.8 185.6 249.2 185.4 248.7 185.3 247.9 185.2 247.4 185.1 246.7 185.0 246.2 184.9 245.4 184.8 244.7 184.8 243.9 184.7 243.4 184.6 242.7 184.5 242.2 184.2 241.5 184.0 241.0 183.8 240.5 183.5 240.1 183.2 239.7 182.9 239.2 182.6 238.7 182.3 238.2 182.1 237.7 181.8 237.2 181.6 236.7 181.5 236.2 181.2 235.6 181.1 234.9 180.9 234.4 180.8 233.9 180.5 233.4 180.0 233.1 179.5 233.2 179.0 233.6 178.5 233.9 178.1 234.2 177.8 234.5 177.2 234.9 176.8 235.2 176.5 235.4 176.0 235.8 175.5 236.1 175.0 236.3 174.2 236.4 173.5 236.3 173.0 236.2 172.3 235.9 171.8 235.7 171.4 235.4 171.0 235.2 170.5 234.8 170.2 234.4 169.8 234.0 169.5 233.6 169.2 233.2 169.0 232.7 168.8 231.9 168.7 231.4 168.7 230.7 168.8 230.2 169.1 229.7 169.5 229.3 169.8 228.9 170.2 228.6 170.8 228.3 171.2 227.9 171.5 227.7 172.0 227.3 172.5 226.9 172.8 226.6 172.8 226.1 172.2 225.8 171.8 225.6 171.0 225.6 170.4 225.7 169.8 225.9 169.2 226.1 168.8 226.4 168.2 226.7 167.8 226.9 167.2 227.2 166.8 227.4 166.0 227.4 165.2 227.4 164.5 227.3 164.0 227.2 163.2 227.0 162.8 226.8 162.2 226.7 161.6 226.4 161.0 226.3 160.5 226.1 160.0 225.9 159.4 225.7 158.8 225.4 158.2 225.3 157.8 225.1 157.2 224.9 156.7 224.7 156.0 224.5 155.5 224.3 155.0 224.2 154.2 224.0 153.8 223.8 153.1 223.7 152.5 223.6 151.8 223.5 151.0 223.5 150.5 223.4 149.8 223.4 149.0 223.4 148.2 223.4 147.5 223.4 146.8 223.4 146.0 223.4 145.2 223.3 144.5 223.2 144.0 223.2 143.2 223.0 142.8 222.9 142.0 222.7 141.5 222.5 141.0 222.3 140.5 222.1 140.0 221.8 139.5 221.5 139.2 221.2 138.8 220.7 138.5 220.2 138.4 219.7 138.5 219.1 138.8 218.6 139.0 218.2 139.5 217.8 140.0 217.4 140.4 217.2 141.0 216.9 141.5 216.7 142.0 216.6 142.5 216.4 143.2 216.2 143.8 216.1 144.5 216.0 145.0 215.9 145.8 215.8 146.5 215.8 147.2 215.7 147.8 215.6 148.5 215.5 149.1 215.4 149.8 215.3 150.2 215.2 150.9 214.9 151.5 214.7 152.0 214.6 152.5 214.4 153.2 214.2 153.8 214.1 154.5 214.0 155.0 213.9 155.8 213.8 156.3 213.7 157.0 213.6 157.8 213.5 158.4 213.4 159.0 213.3 159.7 213.2 160.2 213.0 160.8 212.9 161.5 212.7 162.0 212.5 162.5 212.4 163.1 212.2 163.8 212.0 164.2 211.9 165.0 211.7 165.5 211.6 166.2 211.5 166.8 211.4 167.5 211.4 168.2 211.3 169.0 211.3 169.8 211.3 170.5 211.3 171.2 211.4 171.9 211.4 172.5 211.5 173.2 211.7 173.8 211.8 174.4 211.9 175.0 212.1 175.5 212.3 176.0 212.5 176.5 212.7 177.0 212.9 177.5 213.2 178.0 213.5 178.5 213.7 179.0 214.0 179.5 214.3 180.0 214.6 180.5 214.8 181.2 214.9 181.9 214.7 182.3 214.4 182.8 214.2 183.2 213.8 183.7 213.4 184.1 213.2 184.5 212.9 185.0 212.6 185.5 212.4 186.0 212.2 186.7 211.9 187.2 211.8 188.0 211.8 188.8 211.8 189.5 211.9 190.0 212.1 190.5 212.3 191.0 212.6 191.5 212.9 191.9 213.2 192.2 213.5 192.6 213.9 193.0 214.4 193.2 214.9 193.5 215.3 193.8 215.9 193.9 216.4 194.0 216.9 194.1 217.7 194.2 218.4 194.2 219.2 194.2 219.9 194.2 220.7 194.3 221.2 194.5 221.8 194.8 222.4 195.0 222.8 195.2 223.3 195.5 223.7 195.8 224.2 196.1 224.7 196.3 225.2 196.6 225.7 196.8 226.2 197.0 226.8 197.2 227.4 197.4 227.9 197.5 228.5 197.6 229.2 197.7 229.9 197.8 230.4 197.8 231.2 197.8 231.9 197.7 232.4 197.6 233.2 197.5 233.7 197.3 234.4 197.1 234.9 196.9 235.4 196.7 235.9 196.5 236.4 196.2 236.9 195.9 237.4 195.5 237.9 195.2 238.3 194.9 238.7 194.5 239.1 194.1 239.4 193.8 239.8 193.2 240.2 192.9 240.4 192.5 240.7 192.0 241.0 191.5 241.3 191.0 241.5 190.5 241.8 190.0 242.2 189.7 242.4 189.3 242.9 189.0 243.4 188.9 243.9 188.8 244.7 188.7 245.2 188.7 245.9 188.7 246.7 188.6 247.4 188.6 248.2 188.5 248.8 188.4 249.4 188.2 250.1 188.1 250.7 187.9 251.2 187.5 251.7Z" stroke="#262626" stroke-width="0.6" fill="none" fill-rule="evenodd"/>
<path d="M188.8 240.7 188.0 240.9 187.2 240.8 186.8 240.6 186.2 240.3 185.8 239.9 185.5 239.7 185.0 239.2 184.8 238.9 184.3 238.4 184.0 238.0 183.8 237.7 183.4 237.2 183.1 236.7 182.8 236.2 182.6 235.7 182.4 235.2 182.2 234.7 182.0 234.0 181.9 233.4 181.7 232.9 181.6 232.2 181.5 231.7 181.3 230.9 181.2 230.4 181.2 229.8 181.4 229.2 181.6 228.7 181.8 228.2 182.0 227.7 182.2 227.2 182.5 226.6 182.7 225.9 182.9 225.4 183.0 224.9 183.0 224.2 182.5 224.0 181.8 224.2 181.2 224.4 180.8 224.6 180.2 224.8 179.8 225.0 179.2 225.2 178.7 225.4 178.1 225.7 177.5 225.9 177.2 226.2 177.5 226.5 178.0 226.9 178.4 227.2 178.8 227.5 179.2 227.9 179.5 228.2 179.9 228.7 180.2 229.2 180.4 229.7 180.2 230.4 180.0 230.9 179.8 231.3 179.5 231.7 179.0 232.2 178.8 232.5 178.3 232.9 178.0 233.2 177.5 233.5 177.0 233.9 176.5 234.1 176.0 234.4 175.5 234.5 174.8 234.7 174.2 234.7 173.5 234.7 173.0 234.6 172.5 234.4 172.0 234.2 171.5 233.8 171.2 233.4 170.8 232.9 170.6 232.4 170.5 231.9 170.5 231.2 170.6 230.7 170.8 230.2 171.0 229.7 171.4 229.2 171.8 228.9 172.2 228.4 172.5 228.2 173.0 227.8 173.5 227.5 174.0 227.2 174.5 226.9 175.0 226.7 175.4 226.4 175.5 225.9 175.2 225.7 174.7 225.4 174.2 225.2 173.7 224.9 173.2 224.7 172.6 224.4 172.0 224.3 171.2 224.3 170.5 224.4 170.0 224.5 169.2 224.7 168.8 224.8 168.2 225.0 167.5 225.2 167.0 225.3 166.2 225.4 165.8 225.5 165.0 225.5 164.2 225.5 163.5 225.5 163.0 225.4 162.2 225.3 161.8 225.1 161.0 224.9 160.5 224.8 160.0 224.6 159.4 224.4 158.8 224.2 158.2 224.0 157.8 223.9 157.2 223.7 156.5 223.5 156.0 223.4 155.4 223.2 154.8 223.1 154.2 222.9 153.5 222.8 152.8 222.7 152.2 222.7 151.5 222.6 150.8 222.6 150.0 222.6 149.2 222.7 148.5 222.7 148.0 222.7 147.2 222.7 146.5 222.7 146.0 222.7 145.2 222.6 144.5 222.5 144.0 222.4 143.2 222.3 142.8 222.1 142.2 221.9 141.6 221.7 141.2 221.4 140.8 221.2 140.2 220.7 140.0 220.4 139.8 219.7 139.9 218.9 140.2 218.4 140.5 218.2 141.0 217.8 141.5 217.5 142.0 217.3 142.5 217.1 143.0 216.9 143.8 216.8 144.2 216.7 145.0 216.5 145.7 216.4 146.2 216.4 147.0 216.3 147.8 216.3 148.5 216.2 149.0 216.2 149.8 216.1 150.3 215.9 151.0 215.7 151.5 215.6 152.0 215.4 152.7 215.2 153.2 215.0 153.8 214.9 154.5 214.7 155.0 214.6 155.8 214.5 156.4 214.4 157.0 214.4 157.8 214.3 158.5 214.2 159.0 214.2 159.8 214.0 160.2 213.9 160.9 213.7 161.5 213.5 162.0 213.4 162.5 213.2 163.2 213.0 163.8 212.8 164.2 212.7 165.0 212.5 165.5 212.4 166.2 212.3 166.8 212.2 167.5 212.1 168.2 212.1 169.0 212.0 169.8 212.1 170.5 212.1 171.2 212.2 171.8 212.3 172.5 212.4 173.0 212.5 173.6 212.7 174.2 212.9 174.8 213.1 175.2 213.3 175.8 213.6 176.2 213.9 176.7 214.2 177.0 214.5 177.5 214.9 177.8 215.2 178.2 215.7 178.5 216.0 178.9 216.4 179.3 216.7 179.8 217.0 180.4 217.2 181.0 217.3 181.8 217.4 182.2 217.2 182.7 216.7 183.0 216.3 183.3 215.9 183.6 215.4 184.0 215.0 184.2 214.7 184.8 214.2 185.1 213.9 185.5 213.7 186.0 213.4 186.5 213.2 187.2 213.0 187.8 212.9 188.4 212.9 189.0 213.0 189.6 213.2 190.1 213.4 190.6 213.7 191.0 214.0 191.5 214.4 191.8 214.8 192.0 215.2 192.3 215.7 192.5 216.2 192.7 216.9 192.8 217.4 192.9 218.2 192.9 218.9 192.8 219.7 192.8 220.3 192.7 220.9 192.8 221.5 193.0 222.2 193.2 222.7 193.5 223.0 193.8 223.4 194.2 223.9 194.5 224.3 194.8 224.7 195.2 225.2 195.5 225.7 195.7 226.2 196.0 226.7 196.2 227.2 196.4 227.7 196.5 228.2 196.7 228.9 196.8 229.4 196.9 230.2 197.0 230.9 196.9 231.7 196.9 232.4 196.8 233.2 196.6 233.7 196.5 234.2 196.2 234.8 196.0 235.4 195.8 235.9 195.5 236.3 195.2 236.7 194.9 237.2 194.5 237.7 194.2 237.9 193.8 238.4 193.4 238.7 193.0 239.0 192.5 239.3 192.0 239.6 191.5 239.8 191.0 240.0 190.5 240.2 189.8 240.4 189.2 240.6 188.8 240.7Z" stroke="#262626" stroke-width="0.6" fill="none" fill-rule="evenodd"/>
<path d="M189.0 239.5 188.2 239.5 187.8 239.4 187.0 239.2 186.5 238.9 186.1 238.7 185.8 238.4 185.2 238.0 185.0 237.7 184.6 237.2 184.2 236.8 184.0 236.4 183.7 235.9 183.4 235.4 183.2 234.9 183.0 234.4 182.8 233.7 182.6 233.2 182.5 232.5 182.4 231.9 182.4 231.2 182.4 230.4 182.4 229.7 182.5 229.2 182.7 228.4 182.9 227.9 183.1 227.4 183.3 226.9 183.6 226.4 183.9 225.9 184.2 225.4 184.5 224.9 184.8 224.5 185.0 224.1 185.2 223.6 185.3 222.9 185.2 222.4 184.9 221.9 184.5 221.6 184.0 221.2 183.5 221.0 183.0 221.4 182.8 221.8 182.4 222.2 182.0 222.7 181.8 223.0 181.2 223.4 180.8 223.7 180.4 223.9 179.9 224.2 179.3 224.4 178.8 224.7 178.2 224.8 177.5 224.9 177.0 225.0 176.4 224.9 175.8 224.8 175.2 224.7 174.7 224.4 174.2 224.2 173.8 223.9 173.2 223.7 172.7 223.4 172.0 223.3 171.2 223.4 170.8 223.5 170.0 223.6 169.5 223.8 168.8 223.9 168.2 224.1 167.7 224.2 167.0 224.3 166.2 224.4 165.8 224.5 165.0 224.5 164.2 224.5 163.5 224.5 163.0 224.4 162.2 224.3 161.8 224.2 161.0 224.0 160.5 223.8 160.0 223.7 159.3 223.4 158.8 223.3 158.2 223.1 157.7 222.9 157.0 222.8 156.5 222.7 155.8 222.5 155.2 222.4 154.5 222.3 154.0 222.2 153.2 222.1 152.5 222.0 151.9 221.9 151.2 221.9 150.8 222.0 150.0 222.0 149.2 222.1 148.5 222.1 147.8 222.2 147.0 222.2 146.2 222.1 145.5 222.1 144.8 222.0 144.2 221.9 143.5 221.7 143.0 221.5 142.5 221.3 142.0 221.1 141.5 220.7 141.2 220.4 141.0 219.9 140.9 219.2 141.2 218.7 141.5 218.4 142.0 218.0 142.5 217.8 143.0 217.6 143.5 217.4 144.2 217.2 144.8 217.1 145.5 217.0 146.0 216.9 146.8 216.9 147.5 216.8 148.2 216.8 149.0 216.8 149.7 216.7 150.2 216.6 151.0 216.4 151.5 216.3 152.0 216.1 152.5 215.9 153.2 215.7 153.8 215.5 154.2 215.4 155.0 215.3 155.5 215.2 156.2 215.1 157.0 215.0 157.8 215.0 158.2 214.9 159.0 214.8 159.8 214.7 160.2 214.6 160.8 214.4 161.5 214.2 162.0 214.1 162.5 213.9 163.1 213.7 163.8 213.5 164.2 213.3 164.8 213.2 165.5 213.0 166.0 212.9 166.8 212.8 167.5 212.7 168.2 212.7 168.8 212.7 169.5 212.7 170.0 212.7 170.8 212.8 171.5 212.9 172.0 213.0 172.7 213.2 173.2 213.4 173.8 213.6 174.2 213.8 174.8 214.1 175.2 214.4 175.6 214.7 176.0 215.1 176.3 215.4 176.7 215.9 177.0 216.4 177.2 216.9 177.5 217.2 178.0 217.6 178.5 217.9 179.0 218.1 179.5 218.2 180.2 218.4 180.8 218.6 181.2 218.8 181.8 219.0 182.3 219.2 182.9 219.2 183.2 218.8 183.5 218.2 183.6 217.7 183.8 217.2 184.0 216.7 184.3 216.2 184.6 215.7 185.0 215.2 185.2 214.9 185.8 214.5 186.2 214.2 186.8 214.0 187.2 213.9 188.0 213.8 188.8 213.9 189.2 214.0 189.8 214.2 190.2 214.5 190.7 214.9 191.0 215.2 191.3 215.7 191.6 216.2 191.8 216.7 192.0 217.4 192.0 217.9 192.0 218.7 192.0 219.2 191.8 219.9 191.7 220.4 191.5 221.2 191.4 221.7 191.5 222.2 191.8 222.8 192.1 223.2 192.5 223.6 192.9 223.9 193.2 224.3 193.7 224.7 194.0 225.1 194.3 225.4 194.7 225.9 195.0 226.4 195.2 226.9 195.5 227.4 195.7 227.9 195.9 228.4 196.0 229.0 196.1 229.7 196.2 230.4 196.3 230.9 196.2 231.4 196.2 232.2 196.1 232.9 196.0 233.4 195.8 234.1 195.5 234.7 195.3 235.2 195.0 235.7 194.8 236.1 194.5 236.5 194.1 236.9 193.8 237.3 193.3 237.7 193.0 237.9 192.5 238.3 192.0 238.6 191.5 238.8 191.0 239.0 190.4 239.2 189.8 239.4 189.1 239.4ZM175.5 233.8 174.8 233.9 174.0 233.9 173.2 233.7 172.8 233.5 172.3 233.2 172.0 232.9 171.7 232.4 171.5 231.9 171.4 231.2 171.5 230.7 171.8 230.1 172.0 229.7 172.4 229.2 172.8 228.8 173.2 228.4 173.6 228.2 174.0 227.9 174.6 227.7 175.2 227.5 175.8 227.4 176.5 227.4 177.0 227.5 177.6 227.7 178.0 227.9 178.5 228.3 178.8 228.7 179.1 229.2 179.2 229.9 179.1 230.7 178.8 231.2 178.5 231.7 178.2 232.1 177.9 232.4 177.5 232.8 177.0 233.1 176.5 233.4 176.0 233.6 175.5 233.8Z" stroke="#262626" stroke-width="0.6" fill="none" fill-rule="evenodd"/>
<path d="M178.0 224.2 177.2 224.3 176.5 224.3 176.0 224.2 175.4 223.9 175.0 223.7 174.5 223.4 174.0 223.0 173.6 222.7 173.0 222.4 172.5 222.4 172.0 222.4 171.2 222.6 170.8 222.7 170.0 222.9 169.5 223.1 169.0 223.2 168.2 223.4 167.8 223.5 167.0 223.6 166.4 223.7 165.8 223.8 165.0 223.8 164.2 223.8 163.6 223.7 163.0 223.6 162.2 223.5 161.8 223.3 161.2 223.2 160.5 223.0 160.0 222.8 159.5 222.7 158.8 222.5 158.2 222.3 157.7 222.2 157.0 222.1 156.4 221.9 155.8 221.8 155.1 221.7 154.5 221.6 153.8 221.5 153.2 221.4 152.5 221.3 151.8 221.3 151.0 221.3 150.2 221.4 149.8 221.5 149.0 221.5 148.2 221.6 147.5 221.7 146.8 221.7 146.0 221.6 145.2 221.5 144.8 221.4 144.0 221.3 143.5 221.1 143.0 220.8 142.5 220.5 142.2 220.2 142.0 219.7 142.0 219.2 142.4 218.7 142.8 218.4 143.2 218.1 143.8 217.9 144.4 217.7 145.0 217.6 145.8 217.5 146.2 217.4 147.0 217.4 147.8 217.3 148.5 217.3 149.2 217.3 150.0 217.3 150.5 217.2 151.2 217.0 151.8 216.9 152.3 216.7 152.9 216.4 153.5 216.3 154.0 216.1 154.6 215.9 155.2 215.8 156.0 215.7 156.5 215.6 157.2 215.6 158.0 215.5 158.8 215.5 159.2 215.4 160.0 215.3 160.5 215.2 161.2 215.0 161.8 214.8 162.2 214.6 162.8 214.4 163.5 214.2 164.0 214.0 164.5 213.9 165.2 213.7 165.8 213.6 166.4 213.4 167.0 213.4 167.8 213.3 168.5 213.3 169.2 213.3 170.0 213.3 170.8 213.4 171.2 213.5 172.0 213.7 172.5 213.9 173.0 214.1 173.5 214.3 174.0 214.6 174.5 214.9 174.8 215.2 175.2 215.7 175.5 216.1 175.8 216.6 176.0 217.2 176.2 217.7 176.5 218.2 176.8 218.4 177.3 218.7 178.0 218.9 178.5 219.0 179.2 219.1 179.8 219.2 180.3 219.4 180.8 219.7 181.2 220.2 181.5 220.6 181.6 221.2 181.5 221.7 181.2 222.2 180.9 222.7 180.5 223.0 180.0 223.4 179.5 223.7 179.0 223.9 178.5 224.1 178.0 224.2ZM189.8 238.5 189.0 238.5 188.2 238.5 187.8 238.4 187.2 238.2 186.7 237.9 186.2 237.7 185.8 237.3 185.4 236.9 185.0 236.5 184.7 236.2 184.4 235.7 184.1 235.2 183.8 234.7 183.6 234.2 183.5 233.7 183.3 232.9 183.2 232.4 183.1 231.7 183.1 230.9 183.1 230.2 183.2 229.4 183.3 228.9 183.5 228.4 183.8 227.8 184.0 227.3 184.2 226.8 184.5 226.4 184.8 225.9 185.2 225.4 185.5 225.1 185.9 224.7 186.2 224.3 186.6 223.9 187.0 223.5 187.2 222.9 187.0 222.4 186.5 221.9 186.2 221.7 185.8 221.2 185.5 220.9 185.2 220.4 184.8 219.9 184.6 219.4 184.5 218.7 184.5 217.9 184.7 217.2 184.9 216.7 185.2 216.2 185.5 215.7 185.8 215.4 186.2 215.1 186.8 214.8 187.2 214.6 188.0 214.5 188.8 214.6 189.2 214.8 189.8 215.1 190.2 215.4 190.5 215.8 190.8 216.2 191.0 216.7 191.2 217.4 191.3 217.9 191.3 218.7 191.2 219.2 191.0 219.8 190.8 220.4 190.5 220.9 190.2 221.4 190.0 221.9 189.8 222.4 190.0 222.9 190.5 223.4 191.0 223.7 191.4 223.9 191.8 224.2 192.2 224.5 192.8 224.9 193.1 225.2 193.5 225.6 193.8 225.9 194.2 226.4 194.5 226.9 194.7 227.4 195.0 227.9 195.2 228.4 195.3 228.9 195.5 229.7 195.6 230.2 195.6 230.9 195.6 231.7 195.5 232.4 195.4 232.9 195.2 233.6 195.0 234.2 194.8 234.7 194.5 235.2 194.2 235.6 194.0 236.0 193.6 236.4 193.2 236.8 192.8 237.2 192.4 237.4 192.0 237.7 191.5 238.0 190.9 238.2 190.2 238.4 189.8 238.5ZM175.0 233.2 174.2 233.2 173.8 233.1 173.2 232.9 172.8 232.5 172.5 232.2 172.2 231.5 172.2 230.9 172.4 230.4 172.6 229.9 173.0 229.4 173.2 229.2 173.8 228.8 174.2 228.5 174.8 228.2 175.2 228.1 176.0 228.0 176.8 228.1 177.2 228.3 177.8 228.6 178.1 228.9 178.3 229.4 178.4 230.2 178.2 230.9 178.0 231.4 177.8 231.7 177.3 232.2 177.0 232.4 176.5 232.7 176.0 233.0 175.2 233.2Z" stroke="#262626" stroke-width="0.6" fill="none" fill-rule="evenodd"/>
<path d="M178.2 223.5 177.5 223.6 176.8 223.6 176.2 223.4 175.8 223.2 175.2 222.7 175.0 222.4 174.8 221.9 174.5 221.4 174.0 221.1 173.2 221.2 172.8 221.3 172.2 221.5 171.7 221.7 171.0 221.9 170.5 222.1 170.0 222.3 169.5 222.4 168.8 222.7 168.2 222.8 167.5 222.9 167.0 223.0 166.2 223.1 165.5 223.1 164.8 223.1 164.0 223.1 163.3 222.9 162.8 222.9 162.1 222.7 161.5 222.5 161.0 222.4 160.5 222.2 159.8 222.0 159.2 221.8 158.7 221.7 158.0 221.6 157.4 221.4 156.8 221.3 156.0 221.2 155.5 221.1 154.8 221.0 154.2 220.9 153.5 220.8 152.9 220.7 152.2 220.6 151.5 220.6 150.8 220.7 150.2 220.8 149.5 220.9 149.0 221.0 148.2 221.1 147.5 221.1 146.8 221.1 146.0 221.1 145.2 221.0 144.8 220.9 144.2 220.7 143.8 220.4 143.3 219.9 143.1 219.4 143.4 218.9 143.8 218.6 144.2 218.4 144.8 218.2 145.5 218.0 146.0 217.9 146.8 217.9 147.5 217.9 148.2 217.9 149.0 217.9 149.8 217.9 150.5 217.9 151.2 217.7 151.8 217.6 152.2 217.4 152.8 217.2 153.4 216.9 154.0 216.7 154.5 216.6 155.0 216.4 155.8 216.3 156.5 216.2 157.0 216.2 157.8 216.1 158.5 216.1 159.2 216.0 159.9 215.9 160.5 215.8 161.0 215.7 161.7 215.4 162.2 215.2 162.8 215.1 163.2 214.9 163.8 214.7 164.5 214.4 165.0 214.3 165.5 214.2 166.2 214.0 166.8 213.9 167.5 213.9 168.2 213.8 169.0 213.8 169.8 213.9 170.3 213.9 171.0 214.1 171.5 214.2 172.1 214.4 172.7 214.7 173.1 214.9 173.5 215.2 174.0 215.7 174.2 216.0 174.6 216.4 174.8 216.9 174.9 217.7 175.0 218.2 175.0 218.9 175.2 219.7 175.8 219.9 176.5 219.8 177.2 219.8 178.0 219.8 178.8 219.9 179.2 220.0 179.8 220.2 180.2 220.6 180.5 221.2 180.4 221.9 180.0 222.4 179.8 222.7 179.2 223.1 178.8 223.3 178.2 223.5ZM188.5 221.2 187.8 221.2 187.2 221.1 186.8 220.8 186.3 220.4 186.0 220.1 185.7 219.7 185.5 219.2 185.3 218.4 185.4 217.7 185.5 217.2 185.8 216.6 186.1 216.2 186.5 215.8 187.0 215.5 187.5 215.3 188.2 215.3 188.9 215.4 189.4 215.7 189.8 216.0 190.1 216.4 190.4 216.9 190.5 217.4 190.6 218.2 190.5 218.9 190.3 219.4 190.1 219.9 189.8 220.4 189.5 220.7 189.0 221.1 188.5 221.2ZM189.8 237.7 189.0 237.8 188.3 237.7 187.8 237.6 187.2 237.4 186.8 237.1 186.2 236.8 185.9 236.4 185.5 236.1 185.2 235.7 184.9 235.2 184.6 234.7 184.3 234.2 184.1 233.7 184.0 233.2 183.8 232.4 183.7 231.9 183.7 231.2 183.7 230.4 183.8 229.9 183.9 229.2 184.1 228.7 184.3 228.2 184.5 227.7 184.8 227.2 185.1 226.7 185.5 226.3 185.8 225.9 186.2 225.5 186.6 225.2 187.0 224.9 187.5 224.7 188.0 224.4 188.8 224.3 189.5 224.3 190.2 224.4 190.8 224.6 191.2 224.8 191.8 225.1 192.2 225.4 192.6 225.7 193.0 226.1 193.3 226.4 193.7 226.9 194.0 227.4 194.2 227.8 194.5 228.4 194.7 228.9 194.8 229.4 195.0 230.2 195.0 230.7 195.0 231.4 195.0 231.9 194.9 232.7 194.7 233.2 194.5 233.9 194.2 234.4 194.0 234.9 193.8 235.3 193.4 235.7 193.0 236.1 192.6 236.4 192.2 236.8 191.8 237.1 191.2 237.3 190.8 237.5 190.0 237.7ZM175.8 232.5 175.0 232.6 174.2 232.5 173.8 232.3 173.3 231.9 173.0 231.4 173.0 230.9 173.1 230.4 173.4 229.9 173.8 229.5 174.1 229.2 174.5 228.9 175.2 228.7 175.8 228.6 176.5 228.7 177.0 228.9 177.4 229.2 177.7 229.7 177.7 230.4 177.5 231.0 177.2 231.4 176.8 231.9 176.3 232.2 175.8 232.4Z" stroke="#262626" stroke-width="0.6" fill="none" fill-rule="evenodd"/>
<path d="M166.5 222.5 165.8 222.5 165.0 222.5 164.3 222.4 163.8 222.4 163.0 222.2 162.5 222.1 162.0 221.9 161.3 221.7 160.8 221.5 160.2 221.4 159.7 221.2 159.0 221.0 158.5 220.9 157.8 220.8 157.1 220.7 156.5 220.6 155.8 220.5 155.2 220.4 154.5 220.2 154.0 220.1 153.4 219.9 152.8 219.7 152.2 219.6 151.8 219.4 151.0 219.2 150.5 219.6 150.0 219.8 149.5 220.0 149.0 220.2 148.2 220.4 147.8 220.5 147.0 220.5 146.2 220.5 145.8 220.4 145.2 220.2 144.8 219.9 144.7 219.2 145.0 218.9 145.6 218.7 146.2 218.6 147.0 218.5 147.8 218.5 148.5 218.6 149.1 218.7 149.8 218.9 150.2 219.0 151.0 219.2 151.6 218.9 152.0 218.7 152.5 218.4 153.0 218.0 153.5 217.8 154.0 217.5 154.5 217.3 155.0 217.1 155.8 217.0 156.2 216.9 157.0 216.8 157.8 216.8 158.5 216.8 159.2 216.7 159.8 216.6 160.5 216.5 161.0 216.3 161.5 216.2 162.1 215.9 162.7 215.7 163.2 215.5 163.8 215.3 164.2 215.1 164.8 214.9 165.5 214.7 166.0 214.6 166.8 214.5 167.2 214.4 168.0 214.4 168.8 214.4 169.5 214.4 170.0 214.5 170.8 214.6 171.2 214.8 171.8 215.0 172.2 215.3 172.8 215.6 173.1 215.9 173.5 216.4 173.8 216.9 173.9 217.4 173.9 218.2 173.8 218.8 173.5 219.4 173.2 219.7 172.8 220.2 172.4 220.4 172.0 220.7 171.5 221.0 171.0 221.3 170.5 221.5 169.9 221.7 169.2 221.9 168.8 222.1 168.2 222.2 167.5 222.3 166.8 222.4ZM188.0 220.2 187.5 220.1 187.0 219.9 186.6 219.4 186.3 218.9 186.2 218.4 186.2 217.7 186.3 217.2 186.7 216.7 187.0 216.4 187.5 216.2 188.2 216.1 188.8 216.3 189.2 216.6 189.5 216.9 189.8 217.5 189.8 218.2 189.8 218.7 189.5 219.3 189.2 219.7 188.8 220.0 188.2 220.2ZM178.0 222.7 177.2 222.7 176.8 222.5 176.5 222.2 176.5 221.5 176.8 221.2 177.2 220.9 178.0 220.8 178.8 220.9 179.1 221.2 179.1 221.9 178.8 222.3 178.2 222.6ZM190.0 237.0 189.2 237.1 188.5 237.0 188.0 236.9 187.5 236.7 187.0 236.4 186.5 236.1 186.1 235.7 185.8 235.4 185.4 234.9 185.1 234.4 184.9 233.9 184.7 233.4 184.5 232.9 184.3 232.2 184.3 231.4 184.3 230.7 184.4 229.9 184.5 229.4 184.7 228.7 185.0 228.2 185.2 227.7 185.5 227.3 185.8 226.9 186.2 226.4 186.5 226.2 187.0 225.9 187.5 225.6 188.0 225.4 188.7 225.2 189.2 225.1 189.9 225.2 190.5 225.3 191.0 225.5 191.5 225.8 192.0 226.1 192.4 226.4 192.8 226.8 193.1 227.2 193.5 227.7 193.8 228.2 194.0 228.7 194.2 229.2 194.3 229.7 194.4 230.4 194.5 231.2 194.4 231.9 194.3 232.7 194.1 233.2 193.9 233.7 193.7 234.2 193.4 234.7 193.0 235.2 192.8 235.5 192.3 235.9 191.9 236.2 191.5 236.5 191.0 236.7 190.2 236.9ZM175.8 231.7 175.0 231.9 174.3 231.7 174.0 231.4 173.9 230.7 174.1 230.2 174.5 229.7 175.0 229.4 175.5 229.3 176.2 229.4 176.7 229.7 176.9 230.2 176.8 230.9 176.5 231.2 176.0 231.6Z" stroke="#262626" stroke-width="0.6" fill="none" fill-rule="evenodd"/>
<path d="M167.8 221.7 167.0 221.8 166.2 221.9 165.5 221.9 164.8 221.9 164.0 221.8 163.5 221.6 162.8 221.4 162.2 221.3 161.8 221.1 161.2 220.8 160.8 220.6 160.2 220.4 159.5 220.2 159.0 220.1 158.2 220.0 157.8 219.9 157.0 219.8 156.2 219.7 155.8 219.6 155.2 219.4 154.8 219.0 154.8 218.5 155.0 218.2 155.5 217.9 156.2 217.7 156.8 217.7 157.5 217.6 158.2 217.6 159.0 217.6 159.8 217.5 160.2 217.4 160.8 217.2 161.4 216.9 162.0 216.7 162.5 216.5 163.0 216.2 163.5 216.0 164.0 215.8 164.5 215.6 165.0 215.4 165.7 215.2 166.2 215.1 167.0 215.0 167.5 214.9 168.2 214.9 169.0 214.9 169.5 215.0 170.2 215.1 170.8 215.3 171.2 215.5 171.8 215.8 172.2 216.2 172.5 216.5 172.8 217.0 172.9 217.7 172.8 218.4 172.6 218.9 172.3 219.4 172.0 219.8 171.5 220.2 171.1 220.4 170.7 220.7 170.2 220.9 169.6 221.2 169.0 221.4 168.5 221.6 167.9 221.7ZM188.2 218.8 187.5 218.7 187.3 218.2 187.5 217.5 188.0 217.3 188.5 217.6 188.7 218.2 188.4 218.7ZM190.2 236.2 189.5 236.4 188.8 236.3 188.1 236.2 187.5 236.0 187.1 235.7 186.7 235.4 186.2 235.0 186.0 234.7 185.7 234.2 185.4 233.7 185.2 233.2 185.0 232.6 184.9 231.9 184.8 231.2 184.9 230.4 185.0 229.8 185.2 229.2 185.4 228.7 185.6 228.2 186.0 227.7 186.2 227.4 186.7 226.9 187.0 226.7 187.5 226.4 188.0 226.1 188.7 225.9 189.2 225.9 189.9 225.9 190.5 226.1 191.0 226.3 191.5 226.6 192.0 226.9 192.3 227.2 192.7 227.7 193.0 228.1 193.2 228.5 193.5 229.0 193.7 229.7 193.8 230.2 193.9 230.9 193.9 231.7 193.8 232.4 193.6 232.9 193.4 233.4 193.2 233.9 192.9 234.4 192.5 234.9 192.2 235.2 191.8 235.6 191.2 235.9 190.8 236.1 190.2 236.2Z" stroke="#262626" stroke-width="0.6" fill="none" fill-rule="evenodd"/>
<path d="M167.2 221.2 166.5 221.3 165.8 221.3 165.0 221.3 164.5 221.2 163.8 221.0 163.2 220.8 162.8 220.6 162.2 220.3 161.8 220.0 161.4 219.7 161.0 219.3 160.9 218.7 161.2 218.2 161.6 217.9 162.0 217.6 162.5 217.3 163.0 217.0 163.5 216.7 164.0 216.4 164.5 216.2 165.0 216.0 165.5 215.8 166.0 215.7 166.8 215.6 167.5 215.5 168.2 215.5 169.0 215.5 169.8 215.7 170.2 215.9 170.8 216.1 171.2 216.4 171.5 216.7 171.8 217.2 171.9 217.9 171.8 218.7 171.5 219.1 171.2 219.4 170.8 219.8 170.2 220.2 169.8 220.4 169.2 220.7 168.8 220.9 168.2 221.0 167.5 221.2ZM190.5 235.5 189.8 235.7 189.0 235.7 188.2 235.5 187.8 235.3 187.2 235.0 186.9 234.7 186.5 234.3 186.2 233.9 185.9 233.4 185.7 232.9 185.5 232.2 185.4 231.7 185.4 230.9 185.5 230.3 185.6 229.7 185.8 229.2 186.1 228.7 186.4 228.2 186.8 227.8 187.1 227.4 187.5 227.2 188.0 226.9 188.6 226.7 189.2 226.6 190.0 226.7 190.5 226.8 191.0 227.0 191.5 227.4 191.9 227.7 192.2 228.1 192.5 228.4 192.8 228.9 193.0 229.4 193.2 230.2 193.3 230.7 193.3 231.4 193.2 232.0 193.1 232.7 192.9 233.2 192.6 233.7 192.3 234.2 192.0 234.5 191.5 234.9 191.1 235.2 190.6 235.4Z" stroke="#262626" stroke-width="0.6" fill="none" fill-rule="evenodd"/>
<path d="M167.8 220.5 167.0 220.6 166.2 220.6 165.5 220.6 164.8 220.5 164.2 220.3 163.8 220.0 163.3 219.7 163.0 219.4 162.8 218.7 163.0 218.2 163.5 217.7 163.8 217.4 164.2 217.1 164.8 216.8 165.2 216.6 165.8 216.4 166.5 216.2 167.0 216.2 167.8 216.1 168.5 216.1 169.0 216.2 169.7 216.4 170.1 216.7 170.5 217.1 170.8 217.5 170.8 218.2 170.6 218.7 170.3 219.2 170.0 219.4 169.5 219.8 169.0 220.1 168.5 220.3 167.9 220.4ZM189.8 235.0 189.0 235.0 188.5 234.9 188.0 234.7 187.5 234.4 187.1 233.9 186.8 233.6 186.5 233.1 186.2 232.6 186.1 231.9 186.0 231.2 186.1 230.4 186.2 229.8 186.5 229.2 186.8 228.8 187.0 228.4 187.5 228.0 188.0 227.7 188.5 227.5 189.0 227.4 189.8 227.4 190.2 227.5 190.8 227.7 191.2 228.0 191.7 228.4 192.0 228.8 192.2 229.2 192.5 229.8 192.7 230.4 192.7 231.2 192.6 231.9 192.5 232.5 192.2 233.1 192.0 233.5 191.6 233.9 191.2 234.3 190.8 234.6 190.2 234.8 189.8 235.0Z" stroke="#262626" stroke-width="0.6" fill="none" fill-rule="evenodd"/>
<path d="M167.2 219.7 166.5 219.8 165.8 219.7 165.2 219.5 164.8 219.2 164.6 218.7 164.8 218.1 165.2 217.7 165.5 217.4 166.1 217.2 166.8 217.0 167.2 216.9 167.9 216.9 168.5 217.1 169.0 217.3 169.4 217.7 169.4 218.4 169.0 218.9 168.7 219.2 168.2 219.5 167.5 219.7ZM190.2 234.0 189.5 234.2 188.8 234.1 188.2 233.9 187.8 233.6 187.4 233.2 187.1 232.7 186.9 232.2 186.7 231.7 186.7 230.9 186.8 230.4 187.0 229.8 187.2 229.4 187.6 228.9 188.0 228.6 188.5 228.3 189.0 228.2 189.8 228.2 190.2 228.3 190.8 228.6 191.2 228.9 191.5 229.4 191.8 229.8 192.0 230.4 192.0 230.9 192.0 231.6 191.9 232.2 191.7 232.7 191.3 233.2 191.0 233.6 190.5 233.9Z" stroke="#262626" stroke-width="0.6" fill="none" fill-rule="evenodd"/>
<path d="M189.5 233.2 189.0 233.2 188.4 232.9 188.0 232.5 187.8 232.1 187.6 231.4 187.6 230.7 187.8 230.2 188.1 229.7 188.5 229.4 189.0 229.2 189.8 229.2 190.2 229.4 190.6 229.7 191.0 230.2 191.1 230.7 191.2 231.4 191.0 232.1 190.8 232.5 190.3 232.9 189.8 233.2Z" stroke="#262626" stroke-width="0.6" fill="none" fill-rule="evenodd"/>
</g>
<rect x="137.00" y="201.20" width="61.40" height="62.40" fill="none" stroke="#333" stroke-width="1.0"/>
<line x1="181.30" y1="201.20" x2="181.30" y2="263.60" stroke="#444" stroke-width="0.9" />
<line x1="137.00" y1="224.60" x2="198.40" y2="224.60" stroke="#444" stroke-width="0.9" />
<text x="151.30" y="209.00" font-size="8.8" font-weight="normal" text-anchor="start" fill="#000" stroke="#000" stroke-width="0.3">28.2</text>
<text x="198.00" y="261.70" font-size="8.8" font-weight="normal" text-anchor="end" fill="#000" stroke="#000" stroke-width="0.3">36.3</text>
<clipPath id="c3"><rect x="70.7" y="267" width="60.499999999999986" height="60.5"/></clipPath>
<g clip-path="url(#c3)">
<path d="M92.3 325.7h.6M91.1 315.6h.6M92.0 324.5h.6M100.9 324.2h.6M76.6 318.0h.6M80.9 322.2h.6M91.9 304.7h.6M73.5 307.6h.6M71.4 290.4h.6M88.7 304.4h.6M73.2 299.2h.6M81.2 296.9h.6M86.9 286.1h.6M71.9 294.7h.6M96.9 324.8h.6M100.9 319.8h.6M101.6 315.8h.6M80.3 305.8h.6M86.8 286.1h.6M90.5 296.0h.6M96.8 319.0h.6M87.6 295.4h.6M88.5 308.2h.6M86.6 298.3h.6M95.2 322.9h.6M80.5 322.5h.6M72.7 314.1h.6M83.3 307.1h.6M83.7 288.1h.6M76.8 326.9h.6M85.9 325.4h.6M89.7 323.2h.6M87.0 327.1h.6M88.2 295.7h.6M77.1 287.7h.6M74.7 313.9h.6M84.0 322.1h.6M77.9 324.7h.6M77.7 296.2h.6M83.1 295.9h.6M85.9 319.0h.6M73.3 295.1h.6M72.6 317.9h.6M75.1 306.5h.6M74.9 296.0h.6M76.7 317.7h.6M94.1 298.4h.6M91.6 321.4h.6M92.0 288.3h.6M93.1 297.2h.6M94.0 327.4h.6M93.0 320.4h.6M83.7 285.1h.6M72.4 285.4h.6M78.7 296.2h.6M82.5 312.7h.6M98.1 317.6h.6M98.2 321.3h.6M97.1 304.3h.6M85.8 288.1h.6M71.2 321.4h.6M76.1 321.7h.6M85.3 287.2h.6M101.0 315.2h.6M80.3 301.8h.6M94.9 322.8h.6M100.6 324.5h.6M90.4 304.4h.6M89.9 324.6h.6M84.1 287.2h.6M85.0 312.5h.6M101.2 325.1h.6M95.9 319.5h.6M100.4 319.3h.6M92.6 325.1h.6M75.1 327.2h.6M95.1 290.6h.6M90.4 301.2h.6M81.3 294.9h.6M73.9 300.8h.6M74.4 311.4h.6M82.5 317.5h.6M105.0 322.7h.6M97.8 318.1h.6M74.1 326.3h.6M91.8 307.9h.6M95.4 292.6h.6M87.9 289.8h.6M75.5 326.2h.6M92.0 317.0h.6M100.1 314.5h.6M86.9 296.6h.6M72.6 311.4h.6M74.7 300.4h.6M103.3 323.4h.6M106.2 326.8h.6M89.9 298.0h.6M82.9 309.0h.6M75.9 304.2h.6M75.7 304.0h.6M103.9 324.1h.6M76.8 289.7h.6M85.6 287.2h.6M95.9 308.8h.6M96.0 314.7h.6M91.6 295.4h.6M89.0 288.4h.6M105.6 324.5h.6M73.4 285.1h.6M85.2 307.2h.6M88.2 299.1h.6M93.5 301.8h.6M85.6 286.0h.6M92.4 288.2h.6M83.7 313.0h.6M85.4 326.4h.6M84.0 319.6h.6M73.8 289.7h.6M91.6 309.0h.6M91.5 317.4h.6M82.6 321.0h.6M79.7 322.1h.6M96.6 320.9h.6M94.0 289.2h.6M96.9 305.9h.6M77.4 289.0h.6M80.3 290.0h.6M75.7 320.8h.6M105.5 327.3h.6M91.2 308.9h.6M72.9 289.7h.6M98.9 309.1h.6M91.4 316.9h.6M100.5 315.1h.6M71.1 307.9h.6M101.3 319.8h.6M89.8 285.7h.6M89.5 308.8h.6M104.3 322.6h.6M73.0 290.7h.6M84.7 318.1h.6M76.8 317.8h.6M92.4 322.2h.6M83.2 301.9h.6M72.9 306.8h.6M99.1 306.6h.6M89.8 323.9h.6M81.7 293.7h.6M95.4 306.3h.6M92.6 290.1h.6M98.7 321.5h.6M86.1 297.7h.6M106.4 326.4h.6M75.3 307.8h.6M86.7 296.6h.6M89.7 313.3h.6M84.1 297.8h.6M81.9 291.3h.6M84.8 324.9h.6M92.9 284.8h.6M103.9 325.0h.6M78.6 299.3h.6M81.7 292.6h.6M95.7 300.8h.6M70.9 294.0h.6M94.9 314.7h.6M71.3 308.2h.6M94.1 311.9h.6M94.5 318.1h.6M83.0 321.1h.6M86.9 287.2h.6M94.5 299.3h.6M93.9 300.6h.6M88.9 308.4h.6M96.6 297.3h.6M95.2 294.6h.6M73.3 286.2h.6M92.6 298.5h.6M91.7 297.9h.6M86.8 321.9h.6M97.8 324.5h.6M77.6 301.0h.6M103.5 320.5h.6M73.2 323.3h.6M77.5 291.3h.6M84.2 293.5h.6M75.8 312.0h.6M84.4 312.1h.6M81.7 305.8h.6M90.3 293.7h.6M88.7 289.2h.6M80.8 302.4h.6M100.3 321.2h.6M74.0 298.1h.6M101.2 317.0h.6M91.3 301.9h.6M89.0 285.2h.6M75.4 299.9h.6M75.8 294.5h.6M100.2 317.6h.6M97.4 308.9h.6M93.4 302.7h.6M79.4 317.5h.6M100.4 315.4h.6M92.8 307.6h.6M79.7 297.8h.6M89.4 326.8h.6M96.2 315.5h.6M87.8 301.6h.6M75.3 318.1h.6M78.1 301.3h.6M93.1 320.3h.6M70.9 312.6h.6M75.7 311.7h.6M92.8 306.8h.6M86.3 307.8h.6M88.0 290.9h.6M84.9 286.8h.6M94.9 310.4h.6M94.9 318.7h.6M73.4 316.3h.6M71.7 297.5h.6M104.8 321.6h.6M86.2 296.7h.6M78.2 286.4h.6M96.9 319.2h.6M72.4 305.7h.6M85.9 325.3h.6M86.2 298.0h.6M88.9 299.5h.6M85.1 305.9h.6M73.5 310.5h.6M92.0 315.1h.6M79.6 286.4h.6M96.6 300.4h.6M92.6 296.2h.6M83.5 295.9h.6M88.7 312.4h.6M79.3 298.2h.6M87.6 314.5h.6M84.2 287.3h.6M89.7 304.1h.6M72.4 312.2h.6M73.7 300.6h.6M72.0 310.4h.6M77.0 325.1h.6M77.8 326.1h.6M87.7 301.3h.6M83.7 287.1h.6M86.3 292.8h.6M78.9 296.3h.6M77.2 288.4h.6M72.6 315.3h.6M74.5 320.7h.6M77.2 318.6h.6M92.6 325.2h.6M81.4 310.6h.6M93.3 292.7h.6M92.7 315.7h.6M100.2 321.3h.6M71.7 317.1h.6M82.6 317.4h.6M76.2 300.7h.6M85.6 314.4h.6M93.2 319.5h.6M70.9 296.8h.6M95.1 287.0h.6M85.7 301.3h.6M81.8 307.6h.6M89.9 318.7h.6M78.5 285.1h.6M74.1 318.2h.6M72.8 296.2h.6M84.7 291.3h.6M83.1 295.4h.6M85.7 292.3h.6M71.6 323.6h.6M97.9 317.6h.6M80.0 324.9h.6M81.3 318.6h.6M71.5 309.2h.6M102.5 323.7h.6M71.3 299.6h.6M80.6 309.4h.6M97.2 326.6h.6M82.4 300.2h.6M73.9 320.3h.6M89.0 294.6h.6M89.1 305.4h.6M89.3 303.7h.6M74.4 290.5h.6M79.5 303.2h.6M91.0 316.6h.6M97.4 314.0h.6M71.4 322.0h.6M72.3 305.7h.6M78.7 310.0h.6M77.4 310.7h.6M98.9 310.1h.6M95.2 303.8h.6M73.3 321.9h.6M91.8 321.0h.6M74.2 315.3h.6M98.8 311.5h.6M84.8 301.0h.6M82.0 305.0h.6M89.0 291.7h.6M71.2 307.2h.6M77.7 288.8h.6M79.9 290.8h.6M94.4 285.0h.6M94.9 325.5h.6M98.3 317.4h.6M86.0 305.1h.6M89.2 315.9h.6M83.1 304.8h.6M72.0 313.9h.6M76.8 295.7h.6M78.9 315.4h.6M85.3 327.2h.6M100.0 324.2h.6M95.8 294.5h.6M82.6 300.2h.6M78.1 304.6h.6M76.8 316.0h.6M75.9 315.9h.6M90.4 319.3h.6M92.9 322.0h.6M71.2 312.5h.6M92.7 318.0h.6M78.7 309.7h.6M80.5 317.0h.6M73.6 291.4h.6M79.9 298.0h.6M86.6 294.6h.6M75.8 326.2h.6M78.5 316.7h.6M97.0 316.2h.6M81.8 294.1h.6M93.3 327.3h.6M84.9 294.0h.6M89.3 292.7h.6M83.4 316.1h.6M79.6 303.8h.6M94.3 291.4h.6M76.0 326.0h.6M102.5 322.6h.6M91.6 306.2h.6M74.7 294.9h.6M74.8 307.4h.6M86.6 292.0h.6M74.3 309.2h.6M75.9 285.2h.6M79.0 319.0h.6M94.8 306.8h.6M78.9 304.7h.6M71.1 298.6h.6M88.2 288.5h.6M91.9 303.6h.6M72.7 290.9h.6M88.6 323.1h.6M72.8 308.7h.6M81.1 301.3h.6M81.1 304.0h.6M86.3 307.3h.6M87.5 291.1h.6M78.7 289.3h.6M105.2 323.8h.6M94.0 307.3h.6M92.0 300.5h.6M95.5 313.4h.6M99.1 319.5h.6M95.7 298.4h.6M80.3 293.0h.6M70.7 310.3h.6M102.3 324.0h.6M77.2 306.7h.6M96.6 312.2h.6M83.8 286.2h.6M79.8 320.8h.6M94.7 313.2h.6M72.0 289.2h.6M98.9 322.5h.6M83.6 322.0h.6M77.3 309.5h.6M83.5 307.5h.6M77.9 301.0h.6M87.6 309.5h.6M78.2 310.6h.6M78.5 326.5h.6M79.5 289.3h.6M80.6 309.0h.6M87.0 312.9h.6M74.7 302.3h.6M91.1 326.4h.6M81.7 289.5h.6M93.8 308.8h.6M88.1 315.5h.6M87.7 318.0h.6M81.3 298.6h.6M98.1 309.4h.6M75.1 297.6h.6M88.3 308.5h.6M88.6 285.8h.6M97.1 324.4h.6M94.7 295.2h.6M76.0 309.4h.6M71.4 324.7h.6M74.8 294.1h.6M91.3 324.9h.6M75.6 297.4h.6M72.4 288.4h.6M86.5 309.3h.6M89.4 286.6h.6M86.4 303.6h.6M93.9 305.5h.6M99.2 310.5h.6M83.2 302.6h.6M79.0 309.9h.6M72.9 293.2h.6M83.1 290.8h.6M76.6 294.5h.6M87.6 285.5h.6M78.2 303.0h.6M103.0 321.7h.6M75.2 321.0h.6M96.3 295.2h.6M86.6 324.3h.6M100.6 324.8h.6M88.8 292.9h.6M90.4 289.5h.6M75.0 288.5h.6M79.9 291.6h.6M80.1 314.4h.6M102.1 319.8h.6M97.4 308.5h.6M96.6 323.4h.6M73.7 320.7h.6M85.4 307.8h.6M75.8 316.6h.6M90.9 309.3h.6M72.4 289.7h.6M73.6 319.0h.6M75.5 300.8h.6M94.7 295.7h.6M104.1 323.8h.6M85.0 309.8h.6M99.5 326.7h.6M96.1 303.9h.6M72.3 312.1h.6M94.8 314.3h.6M83.4 321.6h.6M92.4 300.9h.6M79.6 285.9h.6M96.8 298.2h.6M81.9 318.2h.6M84.6 326.9h.6M91.4 324.8h.6M75.2 286.6h.6M71.2 322.2h.6M88.2 316.1h.6M89.9 326.1h.6M77.3 301.1h.6M85.0 300.0h.6M96.9 320.5h.6M76.9 313.4h.6M97.5 318.2h.6M73.2 300.5h.6M82.6 289.3h.6M95.6 306.5h.6M93.5 321.9h.6M91.8 322.7h.6M93.4 304.8h.6M84.9 316.0h.6M92.7 300.5h.6M94.6 307.6h.6M74.8 316.6h.6M88.9 324.4h.6M80.4 314.5h.6M78.0 320.0h.6M95.4 325.4h.6M83.6 314.1h.6M92.7 313.8h.6M79.2 319.1h.6M76.2 308.3h.6M81.4 287.5h.6M76.0 286.6h.6M91.2 300.9h.6M81.5 319.7h.6M73.6 302.7h.6M100.1 320.2h.6M96.7 307.1h.6M76.5 301.6h.6M97.4 318.1h.6M93.0 323.2h.6M91.4 321.0h.6M76.0 327.0h.6M81.5 303.8h.6M86.2 321.0h.6M71.2 305.7h.6M87.6 288.8h.6M87.0 322.1h.6M72.6 295.3h.6M92.9 307.9h.6M75.2 300.5h.6M85.2 318.1h.6M92.1 290.5h.6M84.6 323.6h.6M71.8 317.3h.6M82.0 316.7h.6M76.7 312.7h.6M71.2 319.9h.6M89.5 286.1h.6M94.7 306.4h.6M100.7 316.2h.6M80.7 316.7h.6M81.5 302.6h.6M73.6 290.5h.6M89.0 320.5h.6M90.6 297.8h.6M78.2 300.3h.6M95.6 324.3h.6M74.3 297.2h.6M98.1 306.0h.6M84.9 319.0h.6M71.4 325.2h.6M80.7 320.9h.6M101.3 320.5h.6M93.4 312.4h.6M72.5 302.9h.6M93.6 296.3h.6M95.6 308.3h.6M95.1 321.3h.6M82.9 311.4h.6M72.5 318.8h.6M100.5 314.1h.6M96.0 308.6h.6M82.6 318.8h.6M75.5 309.6h.6M74.6 316.6h.6M89.1 311.8h.6M76.9 302.5h.6M94.9 303.5h.6M83.8 289.2h.6M98.1 317.0h.6M72.1 311.2h.6M100.1 323.9h.6M73.9 288.6h.6M86.9 316.8h.6M74.8 327.4h.6M97.9 303.0h.6M77.1 313.0h.6M96.9 311.3h.6M80.0 292.4h.6M72.9 291.8h.6M83.9 299.1h.6M73.3 320.8h.6M77.5 288.0h.6M78.3 303.6h.6M93.6 288.1h.6M76.2 285.7h.6M85.3 327.5h.6M99.3 321.2h.6M94.4 302.5h.6M84.0 317.1h.6M91.3 311.3h.6M80.6 324.9h.6M94.7 311.6h.6M98.5 323.8h.6M77.1 295.9h.6M100.1 323.7h.6M89.6 302.5h.6M88.9 290.1h.6M73.3 325.2h.6M94.6 288.2h.6M92.3 295.3h.6M71.3 313.1h.6M81.4 317.9h.6M87.6 292.2h.6M83.2 296.8h.6M96.4 317.7h.6M97.6 313.3h.6M98.1 324.2h.6M80.4 296.5h.6M95.0 318.6h.6M94.2 297.8h.6M91.4 295.1h.6M74.3 299.1h.6M72.4 294.7h.6M99.4 322.5h.6M80.7 325.8h.6M88.2 314.1h.6M95.1 303.7h.6M101.5 323.1h.6M88.0 297.5h.6M84.0 291.6h.6M85.1 303.6h.6M100.5 314.7h.6M89.4 323.6h.6M92.1 321.7h.6M73.1 288.0h.6M102.2 316.1h.6M80.2 289.8h.6M73.3 298.3h.6M79.8 320.3h.6M77.5 294.9h.6M98.0 321.3h.6M82.8 310.8h.6M82.8 316.4h.6M78.9 310.5h.6M76.6 291.1h.6M99.9 311.5h.6M91.5 300.7h.6M95.3 325.5h.6M84.4 286.6h.6M80.1 318.1h.6M81.6 317.0h.6M78.2 310.2h.6M84.1 307.5h.6M84.4 310.1h.6M97.8 314.7h.6M86.5 286.2h.6M84.6 318.4h.6M74.9 326.0h.6M72.4 286.2h.6M97.6 324.0h.6M94.1 322.2h.6M94.4 288.2h.6M93.4 317.5h.6M88.8 315.1h.6M87.8 289.0h.6M78.2 290.2h.6M83.4 301.8h.6M78.0 291.6h.6M87.2 285.1h.6M88.7 289.2h.6M75.6 289.7h.6M101.7 319.6h.6M89.2 301.5h.6M92.1 311.6h.6M103.8 325.4h.6M93.2 327.3h.6M85.9 317.9h.6M73.6 294.8h.6M89.1 316.2h.6M77.2 319.7h.6M91.7 290.4h.6M72.1 301.7h.6M100.8 326.5h.6M85.2 313.3h.6M85.6 272.8h.6M89.8 282.9h.6M91.3 268.5h.6M86.4 277.3h.6M94.5 283.8h.6M93.1 280.9h.6M103.7 275.2h.6M89.1 275.1h.6M76.0 268.5h.6M75.7 269.3h.6M74.3 274.0h.6M77.2 284.2h.6M88.6 267.1h.6M99.8 279.6h.6M112.4 271.3h.6M84.7 280.2h.6M98.2 278.0h.6M111.8 284.5h.6M71.1 273.8h.6M112.2 267.3h.6M85.6 280.5h.6M74.0 277.3h.6M111.2 276.4h.6M70.9 269.0h.6M88.7 267.2h.6M99.8 271.7h.6M85.8 280.8h.6M103.0 281.1h.6M79.1 273.0h.6M98.7 275.8h.6M106.2 274.3h.6M110.8 270.9h.6M99.5 281.1h.6M114.2 273.7h.6M109.6 277.6h.6M98.9 271.5h.6M109.4 268.2h.6M114.3 277.0h.6M96.3 270.1h.6M100.4 269.7h.6M107.4 280.2h.6M78.1 280.9h.6M98.6 272.2h.6M99.9 279.2h.6M92.7 279.2h.6M105.5 282.7h.6M107.2 268.9h.6M108.6 283.7h.6M92.0 282.9h.6M80.6 267.7h.6M90.3 269.1h.6M76.5 274.8h.6M113.6 276.2h.6M114.2 276.0h.6M91.1 267.4h.6M74.4 282.4h.6M100.9 276.9h.6M109.9 278.4h.6M83.1 282.2h.6M102.8 268.4h.6M107.3 273.4h.6M107.9 281.5h.6M110.6 269.0h.6M103.1 272.5h.6M108.4 269.0h.6M109.3 284.1h.6M93.4 276.7h.6M97.6 282.8h.6M74.6 282.0h.6M86.0 274.1h.6M109.1 269.1h.6M77.0 279.0h.6M102.8 271.0h.6M101.2 273.3h.6M71.9 271.6h.6M77.8 274.9h.6M90.6 273.8h.6M110.7 273.8h.6M79.1 283.7h.6M98.9 283.8h.6M90.6 277.7h.6M85.2 283.9h.6M82.8 283.4h.6M85.7 280.5h.6M99.2 280.7h.6M79.7 284.6h.6M92.6 268.3h.6M100.7 268.4h.6M99.2 279.6h.6M79.7 269.0h.6M76.6 278.6h.6M103.6 283.2h.6M85.0 268.7h.6M98.4 281.7h.6M102.6 275.6h.6M82.5 279.8h.6M108.4 270.9h.6M102.0 280.6h.6M114.6 273.6h.6M88.0 267.8h.6M77.7 280.1h.6M82.7 283.0h.6M84.7 281.0h.6M86.6 280.3h.6M90.0 270.7h.6M79.7 272.0h.6M75.9 282.3h.6M111.3 281.0h.6M70.9 282.5h.6M105.7 281.8h.6M98.5 270.7h.6M83.8 273.8h.6M78.8 267.5h.6M112.7 273.9h.6M97.5 268.9h.6M108.4 280.2h.6M72.5 270.5h.6M103.4 268.0h.6M71.7 269.1h.6M77.0 280.6h.6M105.1 277.1h.6M84.1 280.8h.6M98.6 268.1h.6M79.0 279.2h.6M95.6 273.9h.6M94.0 271.3h.6M96.5 269.4h.6M114.1 281.5h.6M92.6 284.2h.6M100.5 277.2h.6M99.2 279.4h.6M114.3 280.8h.6M81.1 268.0h.6M111.2 280.0h.6M96.3 275.6h.6M112.5 267.7h.6M77.5 272.6h.6M114.6 279.2h.6M97.1 273.0h.6M77.6 267.3h.6M76.9 270.1h.6M93.2 273.4h.6M113.7 283.2h.6M95.1 269.9h.6M84.7 267.5h.6M99.8 273.8h.6M111.5 272.6h.6M108.2 273.9h.6M99.5 273.3h.6M106.3 270.9h.6M77.7 267.9h.6M87.5 279.9h.6M91.1 281.8h.6M96.5 276.4h.6M92.6 267.7h.6M96.7 270.4h.6M74.3 268.8h.6M78.0 277.9h.6M83.3 272.2h.6M88.9 283.8h.6M82.0 272.3h.6M81.7 272.5h.6M83.8 281.6h.6M113.8 273.9h.6M108.9 268.9h.6M91.9 281.5h.6M74.7 284.6h.6M88.3 275.8h.6M112.3 283.2h.6M79.9 275.0h.6M103.0 275.1h.6M112.1 270.5h.6M113.6 277.9h.6M97.7 279.0h.6M82.4 274.8h.6M80.3 281.2h.6M85.3 269.5h.6M109.8 273.1h.6M112.5 274.8h.6M99.3 280.8h.6M93.4 283.6h.6M106.3 282.7h.6M94.1 269.3h.6M78.3 269.6h.6M94.2 283.7h.6M95.0 274.6h.6M75.7 273.6h.6M78.8 275.0h.6M90.9 283.4h.6M88.1 282.5h.6M72.5 273.1h.6M102.5 274.9h.6M74.2 273.3h.6M95.1 283.8h.6M81.1 268.6h.6M104.0 277.8h.6M86.1 273.9h.6M85.1 278.7h.6M108.8 272.3h.6M110.7 274.4h.6M92.3 271.5h.6M74.5 270.5h.6M81.7 274.7h.6M92.4 281.9h.6M86.5 280.5h.6M81.9 275.4h.6M74.1 282.7h.6M86.2 278.3h.6M95.4 275.6h.6M81.2 281.5h.6M91.5 269.3h.6M75.1 275.9h.6M95.6 271.9h.6M81.0 281.6h.6M100.8 269.5h.6M106.3 268.0h.6M107.8 281.7h.6M76.1 284.4h.6M110.3 270.1h.6M99.5 275.2h.6M77.1 270.6h.6M79.8 278.8h.6M95.9 284.1h.6M84.2 275.5h.6M87.1 273.7h.6M96.4 280.8h.6M100.8 269.0h.6M82.8 278.0h.6M104.2 282.3h.6M86.6 275.1h.6M72.8 276.1h.6M84.1 276.3h.6M97.1 270.0h.6M74.0 279.6h.6M102.5 284.4h.6M92.9 268.2h.6M74.1 284.1h.6M103.0 269.9h.6M89.3 270.4h.6M104.9 279.9h.6M111.5 278.6h.6M88.5 283.0h.6M87.6 280.0h.6M80.4 271.9h.6M97.3 272.2h.6M108.5 276.1h.6M111.6 277.6h.6M96.1 275.9h.6M79.2 273.2h.6M110.1 278.9h.6M104.6 274.3h.6M79.6 281.0h.6M89.1 280.7h.6M73.7 273.2h.6M99.3 283.4h.6M79.5 284.3h.6M100.4 270.5h.6M71.4 283.3h.6M100.4 279.7h.6M88.9 268.5h.6" stroke="#9a9a9a" stroke-width="0.55" fill="none"/>
<path d="M116.2 316.8 115.5 316.9 114.7 316.9 114.0 316.8 113.5 316.6 113.0 316.4 112.5 316.2 112.0 315.9 111.5 315.5 111.2 315.2 110.7 314.8 110.4 314.5 110.0 314.0 109.7 313.6 109.5 313.2 109.2 312.8 108.9 312.2 108.6 311.8 108.4 311.2 108.1 310.8 107.9 310.2 107.7 309.8 107.5 309.2 107.2 308.6 107.0 308.0 106.8 307.5 106.6 307.0 106.3 306.5 106.1 306.0 105.7 305.6 105.2 305.8 104.8 306.2 104.6 306.8 104.4 307.2 104.1 307.8 103.9 308.2 103.7 308.9 103.5 309.5 103.3 310.0 103.1 310.5 102.9 311.0 102.6 311.5 102.4 312.0 102.2 312.5 101.9 313.0 101.7 313.5 101.3 314.0 101.0 314.5 100.7 314.8 100.2 315.2 99.7 315.3 99.2 315.2 98.7 314.8 98.5 314.3 98.2 313.8 98.0 313.2 97.9 312.8 97.7 312.0 97.6 311.5 97.5 310.8 97.5 310.2 97.4 309.5 97.3 308.8 97.3 308.0 97.3 307.2 97.3 306.5 97.3 305.8 97.3 305.0 97.3 304.2 97.4 303.5 97.4 302.8 97.5 302.2 97.5 301.5 97.6 300.8 97.7 300.2 97.8 299.5 97.9 298.8 98.0 298.2 98.1 297.5 98.2 297.0 98.4 296.2 98.5 295.8 98.6 295.0 98.8 294.5 98.9 293.8 99.1 293.2 99.2 292.8 99.4 292.0 99.6 291.5 99.7 291.0 100.0 290.4 100.2 289.8 100.4 289.2 100.6 288.8 100.9 288.2 101.1 287.8 101.4 287.2 101.6 286.8 101.5 286.0 101.2 285.6 100.8 285.2 100.4 285.0 99.8 284.8 99.2 284.5 98.7 284.4 98.2 284.2 97.5 284.1 97.0 283.9 96.2 283.8 95.7 283.6 95.2 283.5 94.6 283.2 94.0 283.0 93.5 282.8 93.0 282.5 92.5 282.2 92.1 282.0 91.7 281.7 91.2 281.4 90.8 281.0 90.5 280.7 90.1 280.2 89.8 279.8 89.7 279.0 90.0 278.4 90.2 277.9 90.5 277.4 90.8 277.0 91.2 276.5 91.5 276.2 92.0 275.8 92.3 275.5 92.7 275.2 93.2 274.9 93.7 274.7 94.2 274.4 94.7 274.2 95.4 274.0 96.0 273.8 96.5 273.7 97.2 273.5 97.7 273.4 98.3 273.2 99.0 273.1 99.5 273.0 100.2 272.9 100.8 272.8 101.5 272.6 102.2 272.5 102.7 272.4 103.5 272.3 104.0 272.2 104.7 272.2 105.5 272.1 106.2 272.1 107.0 272.1 107.7 272.1 108.5 272.1 109.2 272.1 110.0 272.2 110.7 272.2 111.2 272.3 112.0 272.3 112.7 272.3 113.5 272.3 114.2 272.3 114.7 272.2 115.5 272.0 116.0 271.9 116.5 271.8 117.2 271.6 117.7 271.4 118.5 271.3 119.0 271.2 119.7 271.1 120.5 271.1 121.2 271.1 122.0 271.1 122.7 271.2 123.2 271.3 123.8 271.5 124.5 271.7 125.0 271.9 125.5 272.1 126.0 272.4 126.5 272.7 126.9 273.0 127.3 273.2 127.7 273.7 128.0 274.0 128.4 274.5 128.7 274.9 128.9 275.4 129.2 276.0 129.3 276.5 129.4 277.2 129.4 278.0 129.3 278.8 129.1 279.2 128.9 279.8 128.7 280.2 128.3 280.8 128.0 281.2 127.7 281.5 127.2 282.0 126.9 282.2 126.5 282.6 126.0 283.0 125.6 283.2 125.2 283.5 124.7 283.8 124.2 284.2 124.0 284.5 123.7 285.0 123.5 285.8 123.6 286.5 123.7 287.1 123.9 287.8 124.0 288.2 124.2 289.0 124.3 289.5 124.4 290.2 124.5 290.8 124.7 291.5 124.7 292.0 124.8 292.8 124.9 293.5 124.9 294.2 125.0 294.8 125.0 295.5 125.0 296.2 125.0 297.0 125.0 297.8 124.9 298.2 124.9 299.0 124.8 299.8 124.7 300.5 124.7 301.0 124.6 301.8 124.5 302.4 124.3 303.0 124.2 303.7 124.1 304.2 124.0 304.9 123.8 305.5 123.7 306.0 123.5 306.8 123.3 307.2 123.1 307.8 123.0 308.3 122.7 309.0 122.5 309.5 122.3 310.0 122.1 310.5 121.9 311.0 121.6 311.5 121.3 312.0 121.1 312.5 120.7 313.0 120.5 313.4 120.2 313.8 119.8 314.2 119.5 314.7 119.1 315.0 118.7 315.4 118.3 315.8 117.9 316.0 117.5 316.3 117.0 316.5 116.2 316.8ZM82.5 281.0 81.7 281.1 81.0 281.2 80.2 281.2 79.5 281.2 78.7 281.1 78.0 281.1 77.5 281.0 76.7 280.8 76.2 280.7 75.7 280.5 75.2 280.1 75.2 279.5 75.5 279.2 76.0 279.0 76.7 278.8 77.2 278.7 78.0 278.5 78.5 278.5 79.2 278.4 80.0 278.4 80.7 278.4 81.5 278.5 82.0 278.5 82.7 278.6 83.3 278.8 84.0 279.0 84.5 279.2 84.9 279.5 85.0 279.9 84.7 280.3 84.2 280.5 83.6 280.8 83.0 280.9 82.5 281.0ZM84.5 301.8 84.0 301.7 83.5 301.2 83.4 300.8 83.6 300.2 84.0 299.9 84.7 299.9 85.2 300.2 85.4 300.8 85.2 301.4 84.7 301.7Z" stroke="#262626" stroke-width="0.6" fill="none" fill-rule="evenodd"/>
<path d="M115.7 310.3 115.0 310.3 114.5 310.2 113.9 310.0 113.4 309.8 113.0 309.5 112.5 309.1 112.1 308.8 111.7 308.3 111.4 308.0 111.1 307.5 110.8 307.0 110.5 306.5 110.2 306.0 110.0 305.5 109.7 305.0 109.5 304.5 109.3 304.0 109.2 303.5 109.0 302.8 108.8 302.2 108.6 301.8 108.5 301.0 108.3 300.5 108.2 300.0 108.0 299.2 107.9 298.8 107.7 298.1 107.5 297.5 107.3 297.0 107.2 296.5 106.9 296.0 106.7 295.5 106.4 295.0 106.1 294.5 105.8 294.0 105.5 293.5 105.2 293.0 105.0 292.6 104.7 292.0 104.6 291.5 104.6 290.8 104.7 290.1 104.9 289.5 105.1 289.0 105.4 288.5 105.7 288.0 106.0 287.6 106.2 287.2 106.5 286.8 106.7 286.2 106.7 285.8 106.2 285.3 105.7 285.1 105.2 284.9 104.7 284.8 104.0 284.6 103.5 284.5 102.7 284.3 102.2 284.2 101.5 284.0 101.0 283.9 100.2 283.8 99.7 283.7 99.0 283.5 98.5 283.4 97.7 283.3 97.2 283.2 96.5 283.0 96.0 282.9 95.5 282.7 94.9 282.5 94.3 282.2 93.8 282.0 93.4 281.8 93.0 281.5 92.5 281.0 92.2 280.8 91.8 280.2 91.5 279.8 91.4 279.2 91.4 278.5 91.5 278.0 91.8 277.5 92.1 277.0 92.5 276.6 92.9 276.2 93.2 276.0 93.7 275.6 94.2 275.4 94.7 275.1 95.2 274.9 95.7 274.7 96.4 274.5 97.0 274.4 97.5 274.2 98.2 274.1 98.7 274.0 99.5 273.8 100.0 273.7 100.7 273.6 101.2 273.5 102.0 273.4 102.6 273.2 103.2 273.2 104.0 273.1 104.5 273.0 105.2 272.9 106.0 272.9 106.7 272.9 107.5 272.9 108.2 272.9 109.0 272.9 109.7 273.0 110.2 273.0 111.0 273.1 111.7 273.2 112.2 273.3 113.0 273.3 113.7 273.4 114.5 273.3 115.1 273.2 115.7 273.1 116.3 273.0 117.0 272.8 117.5 272.7 118.2 272.5 118.7 272.4 119.5 272.3 120.0 272.2 120.7 272.2 121.5 272.2 122.0 272.3 122.7 272.4 123.2 272.5 124.0 272.7 124.5 272.9 125.0 273.2 125.5 273.4 125.9 273.8 126.2 274.0 126.7 274.5 127.0 274.8 127.3 275.2 127.6 275.8 127.8 276.2 128.0 276.9 128.0 277.5 128.0 278.1 127.8 278.8 127.6 279.2 127.4 279.8 127.0 280.2 126.7 280.7 126.4 281.0 126.0 281.4 125.5 281.7 125.1 282.0 124.6 282.2 124.2 282.5 123.7 282.8 123.2 283.0 122.7 283.3 122.2 283.7 121.9 284.0 121.7 284.5 121.7 285.2 121.8 285.8 122.0 286.4 122.1 287.0 122.3 287.5 122.5 288.0 122.7 288.8 122.8 289.2 123.0 289.8 123.1 290.5 123.2 291.0 123.3 291.8 123.4 292.5 123.5 293.0 123.5 293.8 123.5 294.5 123.5 295.2 123.5 296.0 123.5 296.8 123.4 297.2 123.4 298.0 123.3 298.8 123.2 299.2 123.0 300.0 122.9 300.5 122.7 301.2 122.6 301.8 122.5 302.3 122.2 303.0 122.0 303.5 121.8 304.0 121.6 304.5 121.4 305.0 121.1 305.5 120.8 306.0 120.5 306.5 120.2 307.0 120.0 307.4 119.6 307.8 119.2 308.2 119.0 308.5 118.5 309.0 118.1 309.2 117.7 309.5 117.2 309.8 116.7 310.0 116.0 310.2ZM100.5 307.1 100.0 306.8 99.8 306.2 99.6 305.8 99.6 305.0 99.5 304.2 99.5 303.5 99.6 302.8 99.6 302.0 99.7 301.5 99.8 300.8 100.0 300.2 100.1 299.5 100.3 299.0 100.5 298.5 100.7 298.0 101.2 297.5 101.5 297.5 101.8 298.0 102.0 298.5 102.1 299.2 102.1 300.0 102.1 300.8 102.1 301.5 102.1 302.2 102.0 303.0 101.9 303.5 101.8 304.2 101.7 304.8 101.5 305.5 101.3 306.0 101.0 306.5 100.7 306.9Z" stroke="#262626" stroke-width="0.6" fill="none" fill-rule="evenodd"/>
<path d="M115.7 307.0 115.2 307.0 114.5 306.8 114.0 306.6 113.5 306.3 113.1 306.0 112.7 305.7 112.3 305.2 112.0 304.8 111.7 304.5 111.4 304.0 111.1 303.5 110.8 303.0 110.6 302.5 110.4 302.0 110.2 301.5 110.0 300.9 109.7 300.2 109.6 299.8 109.5 299.2 109.3 298.5 109.1 298.0 109.0 297.3 108.8 296.8 108.7 296.2 108.5 295.5 108.3 295.0 108.2 294.5 108.0 293.8 107.9 293.2 107.7 292.5 107.6 292.0 107.5 291.2 107.5 290.5 107.7 289.8 107.8 289.2 108.0 288.8 108.3 288.2 108.6 287.8 108.9 287.2 109.2 286.9 109.5 286.5 109.8 286.0 110.0 285.5 110.0 284.8 109.6 284.5 109.0 284.3 108.5 284.2 107.7 284.1 107.0 284.0 106.5 284.0 105.7 283.9 105.0 283.8 104.5 283.7 103.7 283.6 103.0 283.5 102.5 283.4 101.7 283.3 101.2 283.2 100.5 283.1 99.7 283.0 99.2 282.9 98.5 282.8 98.0 282.7 97.2 282.6 96.7 282.4 96.1 282.2 95.5 282.0 95.0 281.8 94.5 281.6 94.0 281.3 93.6 281.0 93.2 280.6 92.9 280.2 92.6 279.8 92.4 279.2 92.4 278.5 92.6 278.0 92.8 277.5 93.2 277.0 93.5 276.7 94.0 276.3 94.4 276.0 94.9 275.8 95.4 275.5 96.0 275.3 96.5 275.1 97.0 275.0 97.7 274.8 98.2 274.7 99.0 274.5 99.5 274.4 100.2 274.3 100.7 274.2 101.5 274.1 102.0 274.0 102.7 273.9 103.4 273.8 104.0 273.7 104.7 273.6 105.5 273.5 106.0 273.5 106.7 273.5 107.5 273.5 108.1 273.5 108.7 273.5 109.5 273.6 110.2 273.7 110.7 273.8 111.5 273.9 112.2 274.0 112.7 274.1 113.5 274.2 114.2 274.2 115.0 274.2 115.7 274.1 116.2 274.0 117.0 273.8 117.5 273.6 118.0 273.5 118.7 273.3 119.2 273.2 120.0 273.1 120.7 273.1 121.5 273.1 122.2 273.2 122.7 273.3 123.4 273.5 124.0 273.7 124.5 274.0 124.9 274.2 125.2 274.5 125.7 274.9 126.0 275.2 126.3 275.8 126.6 276.2 126.7 276.8 126.8 277.5 126.7 278.2 126.6 278.8 126.4 279.2 126.0 279.8 125.7 280.2 125.4 280.5 125.0 280.8 124.5 281.2 124.0 281.5 123.5 281.7 123.0 281.9 122.5 282.1 122.0 282.3 121.5 282.5 121.0 282.8 120.5 283.1 120.1 283.5 119.9 284.0 120.0 284.5 120.2 285.2 120.5 285.7 120.7 286.2 120.9 286.8 121.1 287.2 121.3 287.8 121.5 288.2 121.7 288.8 121.9 289.5 122.1 290.0 122.2 290.7 122.3 291.2 122.4 292.0 122.5 292.5 122.5 293.2 122.6 294.0 122.6 294.8 122.6 295.5 122.5 296.2 122.5 297.0 122.4 297.5 122.3 298.2 122.2 298.8 122.0 299.5 121.9 300.0 121.7 300.6 121.5 301.2 121.3 301.8 121.1 302.2 120.8 302.8 120.6 303.2 120.3 303.8 120.0 304.2 119.7 304.6 119.4 305.0 119.0 305.5 118.6 305.8 118.2 306.1 117.7 306.4 117.2 306.7 116.7 306.9 116.0 307.0Z" stroke="#262626" stroke-width="0.6" fill="none" fill-rule="evenodd"/>
<path d="M116.5 305.0 115.7 305.1 115.1 305.0 114.5 304.8 114.0 304.5 113.5 304.2 113.2 304.0 112.7 303.5 112.5 303.2 112.1 302.8 111.8 302.2 111.5 301.8 111.3 301.2 111.0 300.8 110.8 300.2 110.7 299.8 110.5 299.1 110.3 298.5 110.1 298.0 110.0 297.3 109.8 296.8 109.7 296.1 109.6 295.5 109.5 294.9 109.3 294.2 109.2 293.5 109.2 293.0 109.1 292.2 109.1 291.5 109.1 290.8 109.2 290.2 109.4 289.5 109.6 289.0 109.9 288.5 110.2 288.0 110.5 287.5 110.7 287.2 111.0 286.8 111.4 286.2 111.7 285.9 112.0 285.5 112.4 285.0 112.7 284.6 113.0 284.1 112.9 283.8 112.5 283.5 111.7 283.3 111.0 283.3 110.2 283.3 109.5 283.3 108.7 283.3 108.0 283.3 107.2 283.3 106.5 283.3 106.0 283.2 105.2 283.2 104.5 283.1 103.7 283.0 103.2 282.9 102.5 282.8 101.8 282.8 101.2 282.7 100.5 282.6 100.0 282.5 99.2 282.4 98.5 282.3 98.0 282.2 97.2 282.0 96.7 281.9 96.2 281.7 95.7 281.5 95.1 281.2 94.7 281.0 94.2 280.6 93.9 280.2 93.5 279.8 93.3 279.2 93.3 278.5 93.5 278.0 93.7 277.5 94.2 277.0 94.5 276.8 95.0 276.4 95.5 276.1 96.0 275.9 96.5 275.7 97.1 275.5 97.7 275.3 98.2 275.2 99.0 275.1 99.5 275.0 100.2 274.8 100.7 274.7 101.5 274.6 102.1 274.5 102.7 274.4 103.5 274.3 104.0 274.2 104.7 274.1 105.5 274.1 106.2 274.0 106.7 274.0 107.4 274.0 108.0 274.0 108.7 274.1 109.5 274.1 110.1 274.2 110.7 274.3 111.5 274.5 112.0 274.6 112.7 274.7 113.2 274.8 114.0 275.0 114.5 275.0 115.2 275.0 115.7 274.9 116.5 274.8 117.0 274.7 117.5 274.5 118.2 274.3 118.7 274.2 119.5 274.0 120.0 273.9 120.7 273.9 121.5 273.9 122.0 274.0 122.7 274.2 123.2 274.4 123.7 274.6 124.2 274.9 124.6 275.2 125.0 275.6 125.3 276.0 125.5 276.5 125.7 277.2 125.7 277.8 125.6 278.2 125.4 278.8 125.2 279.2 124.7 279.8 124.5 280.0 124.0 280.4 123.5 280.7 123.0 280.9 122.5 281.1 122.0 281.3 121.3 281.5 120.7 281.7 120.2 281.8 119.5 282.0 119.0 282.1 118.5 282.3 118.0 282.5 117.5 283.0 117.5 283.3 117.7 283.8 118.1 284.2 118.5 284.7 118.7 285.0 119.1 285.5 119.4 286.0 119.7 286.4 120.0 286.8 120.2 287.3 120.5 287.8 120.7 288.4 120.9 289.0 121.1 289.5 121.3 290.0 121.4 290.8 121.5 291.2 121.7 292.0 121.7 292.5 121.8 293.2 121.8 294.0 121.8 294.8 121.8 295.5 121.7 296.2 121.7 296.8 121.6 297.5 121.5 298.2 121.3 298.8 121.2 299.2 121.0 300.0 120.7 300.5 120.5 301.0 120.3 301.5 120.0 302.0 119.7 302.5 119.5 302.9 119.2 303.2 118.7 303.8 118.4 304.0 118.0 304.4 117.5 304.7 117.0 304.9 116.5 305.0Z" stroke="#262626" stroke-width="0.6" fill="none" fill-rule="evenodd"/>
<path d="M110.5 282.5 109.7 282.6 109.0 282.7 108.2 282.7 107.5 282.7 106.7 282.7 106.0 282.7 105.2 282.6 104.5 282.6 104.0 282.5 103.2 282.4 102.5 282.3 102.0 282.2 101.2 282.2 100.5 282.1 100.0 282.0 99.2 281.9 98.5 281.8 98.0 281.7 97.3 281.5 96.7 281.3 96.2 281.1 95.7 280.9 95.2 280.6 94.8 280.2 94.5 279.8 94.2 279.3 94.1 278.8 94.2 278.2 94.5 277.8 94.9 277.2 95.2 277.0 95.7 276.6 96.2 276.4 96.7 276.2 97.2 276.0 98.0 275.8 98.5 275.7 99.2 275.5 99.7 275.4 100.5 275.3 101.0 275.2 101.7 275.1 102.2 275.0 103.0 274.9 103.6 274.8 104.2 274.7 105.0 274.6 105.7 274.5 106.2 274.5 107.0 274.5 107.7 274.5 108.2 274.5 109.0 274.6 109.7 274.7 110.2 274.8 111.0 274.9 111.5 275.1 112.2 275.2 112.7 275.4 113.2 275.5 114.0 275.7 114.5 275.8 115.2 275.9 116.0 275.8 116.5 275.7 117.2 275.5 117.7 275.4 118.2 275.2 118.8 275.0 119.5 274.9 120.2 274.8 120.7 274.7 121.2 274.8 122.0 274.9 122.5 275.0 123.0 275.2 123.5 275.6 124.0 276.0 124.2 276.3 124.5 276.8 124.6 277.5 124.5 278.2 124.2 278.8 124.0 279.1 123.5 279.5 123.2 279.8 122.7 280.0 122.2 280.3 121.5 280.5 121.0 280.6 120.2 280.7 119.7 280.8 119.0 280.8 118.2 280.9 117.5 280.9 116.7 281.0 116.2 281.0 115.5 281.2 115.0 281.4 114.5 281.6 113.9 281.8 113.2 282.0 112.7 282.1 112.0 282.2 111.5 282.4 110.7 282.5ZM116.7 303.5 116.0 303.6 115.2 303.6 114.7 303.4 114.2 303.2 113.7 302.8 113.4 302.5 113.0 302.1 112.7 301.7 112.4 301.2 112.1 300.8 111.8 300.2 111.6 299.8 111.4 299.2 111.2 298.7 111.0 298.0 110.8 297.5 110.7 296.9 110.6 296.2 110.5 295.7 110.3 295.0 110.2 294.2 110.2 293.8 110.1 293.0 110.1 292.2 110.2 291.5 110.2 291.0 110.4 290.2 110.5 289.8 110.7 289.2 111.0 288.8 111.3 288.2 111.6 287.8 112.0 287.3 112.2 287.0 112.7 286.5 113.0 286.2 113.5 285.8 113.9 285.5 114.4 285.2 115.0 285.1 115.5 285.0 116.2 285.0 116.7 285.1 117.2 285.3 117.7 285.6 118.2 286.0 118.5 286.3 118.9 286.8 119.2 287.2 119.5 287.6 119.7 288.0 120.0 288.5 120.2 289.1 120.5 289.7 120.6 290.2 120.7 290.8 120.9 291.5 121.0 292.0 121.1 292.8 121.1 293.5 121.2 294.2 121.2 295.0 121.1 295.8 121.0 296.5 120.9 297.0 120.8 297.8 120.7 298.2 120.5 299.0 120.3 299.5 120.1 300.0 119.8 300.5 119.6 301.0 119.2 301.5 119.0 301.9 118.6 302.2 118.2 302.7 117.8 303.0 117.4 303.2 116.8 303.5Z" stroke="#262626" stroke-width="0.6" fill="none" fill-rule="evenodd"/>
<path d="M109.7 282.0 109.0 282.1 108.2 282.2 107.5 282.2 106.7 282.2 106.0 282.2 105.2 282.1 104.5 282.1 104.0 282.0 103.2 281.9 102.5 281.8 102.0 281.7 101.2 281.7 100.5 281.6 99.9 281.5 99.2 281.4 98.5 281.3 98.0 281.2 97.4 281.0 96.7 280.8 96.2 280.5 95.8 280.2 95.5 279.9 95.1 279.5 95.0 278.8 95.2 278.0 95.5 277.6 95.9 277.2 96.2 277.0 96.7 276.8 97.3 276.5 98.0 276.3 98.5 276.2 99.2 276.0 99.7 275.9 100.5 275.8 101.0 275.7 101.7 275.6 102.2 275.5 103.0 275.3 103.5 275.2 104.2 275.1 105.0 275.0 105.5 275.0 106.2 274.9 107.0 274.9 107.7 274.9 108.4 275.0 109.0 275.1 109.7 275.2 110.2 275.3 111.0 275.5 111.5 275.6 112.0 275.8 112.5 276.0 113.2 276.2 113.7 276.5 114.2 276.7 114.7 276.9 115.2 277.0 116.0 277.1 116.6 277.0 117.2 276.8 117.7 276.6 118.2 276.3 118.7 276.1 119.2 275.9 120.0 275.8 120.5 275.7 121.0 275.8 121.7 275.9 122.2 276.1 122.7 276.5 123.0 276.8 123.2 277.4 123.2 277.8 123.0 278.4 122.6 278.8 122.2 279.1 121.7 279.3 121.1 279.5 120.5 279.6 119.7 279.7 119.0 279.6 118.2 279.5 117.7 279.4 117.0 279.4 116.2 279.5 115.7 279.6 115.2 279.9 114.7 280.2 114.2 280.4 113.7 280.7 113.2 281.0 112.7 281.2 112.2 281.4 111.7 281.6 111.0 281.8 110.5 281.9 109.8 282.0ZM116.7 302.3 116.0 302.4 115.2 302.3 114.7 302.1 114.2 301.8 113.8 301.5 113.5 301.1 113.1 300.8 112.8 300.2 112.5 299.8 112.2 299.2 112.0 298.8 111.8 298.2 111.7 297.8 111.5 297.0 111.3 296.5 111.2 295.8 111.1 295.2 111.0 294.5 111.0 293.8 110.9 293.2 111.0 292.6 111.0 292.0 111.1 291.2 111.2 290.7 111.4 290.0 111.6 289.5 111.9 289.0 112.2 288.5 112.5 288.1 112.8 287.8 113.2 287.3 113.6 287.0 114.0 286.7 114.5 286.4 115.0 286.2 115.7 286.1 116.5 286.2 117.0 286.4 117.5 286.7 117.9 287.0 118.2 287.3 118.6 287.8 119.0 288.2 119.2 288.6 119.5 289.1 119.7 289.7 119.9 290.2 120.1 290.8 120.2 291.2 120.4 292.0 120.5 292.7 120.5 293.2 120.5 294.0 120.5 294.8 120.5 295.5 120.4 296.0 120.3 296.8 120.2 297.3 120.0 298.0 119.9 298.5 119.7 299.0 119.4 299.5 119.2 300.0 118.9 300.5 118.5 301.0 118.2 301.3 117.7 301.7 117.3 302.0 116.7 302.2Z" stroke="#262626" stroke-width="0.6" fill="none" fill-rule="evenodd"/>
<path d="M109.5 281.5 108.7 281.6 108.0 281.7 107.2 281.7 106.5 281.7 105.7 281.7 105.0 281.6 104.2 281.5 103.7 281.5 103.0 281.4 102.2 281.3 101.7 281.2 101.0 281.1 100.2 281.0 99.7 281.0 99.0 280.8 98.5 280.7 97.7 280.5 97.2 280.3 96.7 280.0 96.3 279.8 96.0 279.2 95.9 278.8 96.0 278.2 96.4 277.8 96.7 277.5 97.2 277.2 97.7 277.0 98.3 276.8 99.0 276.6 99.5 276.5 100.2 276.3 100.7 276.2 101.5 276.1 102.0 276.0 102.7 275.9 103.3 275.8 104.0 275.6 104.7 275.5 105.2 275.5 106.0 275.4 106.7 275.4 107.5 275.4 108.2 275.4 108.7 275.5 109.5 275.6 110.0 275.8 110.7 276.0 111.2 276.1 111.7 276.4 112.2 276.6 112.7 276.9 113.2 277.2 113.5 277.5 113.9 278.0 114.0 278.5 113.9 279.0 113.6 279.5 113.2 279.9 112.7 280.2 112.3 280.5 111.9 280.8 111.3 281.0 110.7 281.2 110.2 281.3 109.5 281.5ZM116.7 301.1 116.0 301.2 115.2 301.1 114.7 300.9 114.2 300.5 113.9 300.2 113.5 299.8 113.2 299.4 113.0 298.9 112.7 298.4 112.5 297.8 112.3 297.2 112.1 296.8 112.0 296.0 111.8 295.5 111.7 294.8 111.7 294.2 111.7 293.5 111.7 292.8 111.7 292.2 111.8 291.5 112.0 291.0 112.2 290.3 112.4 289.8 112.7 289.3 113.0 288.9 113.3 288.5 113.7 288.1 114.1 287.8 114.5 287.5 115.2 287.3 115.7 287.2 116.3 287.2 117.0 287.5 117.4 287.8 117.7 288.0 118.2 288.5 118.5 288.8 118.7 289.2 119.0 289.8 119.2 290.2 119.5 290.9 119.6 291.5 119.7 292.0 119.8 292.8 119.9 293.5 119.9 294.2 119.9 295.0 119.8 295.8 119.7 296.5 119.6 297.0 119.5 297.6 119.2 298.2 119.0 298.8 118.7 299.2 118.5 299.7 118.2 300.0 117.7 300.5 117.4 300.8 116.9 301.0Z" stroke="#262626" stroke-width="0.6" fill="none" fill-rule="evenodd"/>
<path d="M109.2 281.0 108.5 281.1 107.7 281.2 107.0 281.2 106.2 281.2 105.5 281.2 104.7 281.1 104.0 281.0 103.5 280.9 102.7 280.8 102.1 280.8 101.5 280.7 100.7 280.6 100.2 280.5 99.5 280.4 98.9 280.2 98.2 280.0 97.7 279.8 97.3 279.5 97.0 279.0 97.0 278.6 97.2 278.1 97.6 277.8 98.1 277.5 98.7 277.3 99.2 277.1 99.7 277.0 100.5 276.8 101.0 276.7 101.7 276.6 102.2 276.5 103.0 276.3 103.5 276.2 104.2 276.1 104.8 276.0 105.5 275.9 106.2 275.9 107.0 275.8 107.7 275.9 108.5 276.0 109.0 276.0 109.7 276.2 110.2 276.4 110.7 276.6 111.2 276.8 111.7 277.2 112.1 277.5 112.5 277.9 112.6 278.5 112.5 279.1 112.2 279.5 111.7 280.0 111.3 280.2 110.8 280.5 110.2 280.7 109.7 280.9 109.2 281.0ZM116.2 300.0 115.5 300.0 115.0 299.8 114.5 299.5 114.2 299.2 113.8 298.8 113.5 298.2 113.2 297.8 113.0 297.2 112.8 296.8 112.7 296.2 112.5 295.5 112.5 294.9 112.4 294.2 112.4 293.5 112.4 292.8 112.5 292.2 112.6 291.5 112.8 291.0 113.0 290.5 113.2 290.0 113.6 289.5 114.0 289.1 114.4 288.8 114.8 288.5 115.5 288.3 116.2 288.3 116.8 288.5 117.2 288.8 117.7 289.2 118.0 289.5 118.3 290.0 118.6 290.5 118.8 291.0 119.0 291.5 119.1 292.2 119.2 292.8 119.3 293.5 119.3 294.2 119.3 295.0 119.2 295.7 119.1 296.2 119.0 296.8 118.7 297.5 118.5 298.0 118.2 298.5 118.0 298.9 117.6 299.2 117.2 299.6 116.7 299.9 116.2 300.0Z" stroke="#262626" stroke-width="0.6" fill="none" fill-rule="evenodd"/>
<path d="M108.7 280.5 108.0 280.6 107.2 280.7 106.5 280.7 105.7 280.7 105.0 280.6 104.2 280.5 103.7 280.4 103.0 280.3 102.5 280.2 101.7 280.1 101.2 280.0 100.5 279.8 100.0 279.7 99.3 279.5 98.8 279.2 98.5 278.8 98.7 278.2 99.2 278.0 99.7 277.7 100.5 277.5 101.0 277.4 101.5 277.2 102.2 277.1 102.7 277.0 103.5 276.8 104.0 276.7 104.7 276.5 105.2 276.5 106.0 276.4 106.7 276.4 107.5 276.4 108.2 276.5 108.7 276.6 109.4 276.8 110.0 277.0 110.5 277.2 110.8 277.5 111.2 277.9 111.4 278.5 111.2 279.1 110.9 279.5 110.5 279.9 110.0 280.1 109.5 280.3 108.8 280.5ZM116.5 298.8 115.7 298.8 115.2 298.7 114.7 298.3 114.4 298.0 114.0 297.5 113.8 297.0 113.6 296.5 113.4 296.0 113.2 295.2 113.2 294.8 113.1 294.0 113.1 293.2 113.2 292.6 113.3 292.0 113.5 291.5 113.7 291.0 114.0 290.5 114.4 290.0 114.7 289.8 115.2 289.5 116.0 289.4 116.5 289.5 117.0 289.8 117.4 290.2 117.7 290.6 118.0 291.0 118.2 291.6 118.4 292.2 118.5 292.8 118.6 293.5 118.6 294.2 118.6 295.0 118.5 295.8 118.4 296.2 118.2 296.8 118.0 297.3 117.7 297.8 117.2 298.2 116.9 298.5 116.5 298.8Z" stroke="#262626" stroke-width="0.6" fill="none" fill-rule="evenodd"/>
</g>
<rect x="70.70" y="267.00" width="60.50" height="60.50" fill="none" stroke="#333" stroke-width="1.0"/>
<line x1="70.70" y1="284.60" x2="131.20" y2="284.60" stroke="#444" stroke-width="0.9" />
<line x1="114.70" y1="267.00" x2="114.70" y2="284.60" stroke="#444" stroke-width="0.9" />
<line x1="107.30" y1="284.60" x2="107.30" y2="327.50" stroke="#444" stroke-width="0.9" />
<text x="85.70" y="274.30" font-size="8.8" font-weight="normal" text-anchor="start" fill="#000" stroke="#000" stroke-width="0.3">15.8</text>
<text x="130.20" y="326.00" font-size="8.8" font-weight="normal" text-anchor="end" fill="#000" stroke="#000" stroke-width="0.3">72.2</text>
<clipPath id="c4"><rect x="137" y="267" width="60.5" height="60.5"/></clipPath>
<g clip-path="url(#c4)">
<path d="M155.0 312.2h.6M147.5 325.8h.6M148.1 323.2h.6M165.2 319.0h.6M144.1 322.4h.6M161.8 302.0h.6M147.1 315.4h.6M152.8 322.5h.6M168.2 313.8h.6M150.6 303.5h.6M149.5 298.1h.6M137.5 295.8h.6M163.2 307.9h.6M149.5 298.7h.6M143.8 288.0h.6M142.8 311.3h.6M150.0 308.8h.6M142.0 288.2h.6M139.4 308.9h.6M159.1 291.3h.6M156.2 312.5h.6M138.2 296.3h.6M157.1 313.7h.6M162.7 313.0h.6M139.8 287.2h.6M150.7 320.7h.6M138.7 321.4h.6M161.7 301.3h.6M146.1 307.0h.6M146.3 306.1h.6M152.5 325.9h.6M157.2 318.4h.6M162.4 308.2h.6M153.4 312.7h.6M147.2 293.7h.6M153.9 306.7h.6M144.0 321.9h.6M154.2 300.4h.6M137.6 323.5h.6M147.0 318.0h.6M142.9 303.0h.6M143.5 302.1h.6M137.2 304.4h.6M154.1 326.7h.6M151.3 307.5h.6M142.7 296.8h.6M145.7 326.4h.6M141.8 312.2h.6M168.4 325.0h.6M156.9 322.9h.6M137.6 315.5h.6M165.7 313.4h.6M144.3 323.8h.6M146.0 298.6h.6M168.5 324.1h.6M146.9 305.2h.6M145.6 300.6h.6M160.8 315.7h.6M148.6 292.8h.6M146.3 297.0h.6M145.7 290.4h.6M151.5 292.8h.6M150.4 325.3h.6M154.3 322.9h.6M145.6 318.3h.6M140.3 325.4h.6M144.6 317.1h.6M167.3 312.7h.6M156.1 301.6h.6M145.0 295.7h.6M155.5 305.3h.6M141.2 288.3h.6M153.5 300.0h.6M146.8 295.6h.6M145.6 312.0h.6M152.1 314.6h.6M148.6 290.1h.6M161.5 299.9h.6M137.1 298.8h.6M163.8 322.6h.6M143.5 289.4h.6M158.5 305.2h.6M156.6 300.1h.6M147.4 296.8h.6M156.0 316.0h.6M160.4 317.3h.6M150.6 291.7h.6M145.6 308.2h.6M156.6 302.1h.6M145.0 310.4h.6M158.9 318.3h.6M155.2 292.6h.6M145.9 317.7h.6M145.9 302.9h.6M169.4 320.7h.6M139.2 296.6h.6M159.3 293.1h.6M137.8 294.2h.6M157.4 315.3h.6M164.8 308.9h.6M159.6 307.0h.6M166.9 312.5h.6M162.7 323.4h.6M141.4 286.3h.6M157.1 303.8h.6M162.5 314.5h.6M146.0 285.1h.6M152.8 293.3h.6M144.2 304.4h.6M143.8 308.7h.6M160.2 304.8h.6M158.3 293.2h.6M158.7 321.2h.6M149.2 315.4h.6M159.3 301.2h.6M168.4 323.0h.6M158.2 295.4h.6M150.0 290.1h.6M139.7 292.5h.6M162.5 309.1h.6M155.9 314.3h.6M149.7 311.5h.6M156.8 310.9h.6M144.0 299.0h.6M164.0 309.0h.6M141.4 321.9h.6M152.5 295.3h.6M142.6 324.3h.6M144.3 321.1h.6M142.5 307.0h.6M162.2 324.8h.6M156.6 323.7h.6M147.2 288.5h.6M139.2 320.4h.6M148.5 301.7h.6M143.7 303.4h.6M154.8 307.5h.6M141.0 326.4h.6M160.6 309.2h.6M159.1 300.5h.6M161.2 324.9h.6M139.6 292.1h.6M150.2 307.5h.6M168.2 316.1h.6M157.7 293.0h.6M156.0 303.5h.6M141.3 323.9h.6M146.3 309.4h.6M149.2 312.4h.6M138.4 310.5h.6M158.1 324.3h.6M158.5 318.2h.6M145.4 308.3h.6M149.2 326.9h.6M157.7 326.9h.6M142.3 315.9h.6M156.4 327.2h.6M152.4 320.1h.6M159.5 318.9h.6M150.2 310.2h.6M166.8 319.8h.6M160.8 304.2h.6M140.2 289.7h.6M161.3 301.6h.6M162.5 307.0h.6M152.0 293.5h.6M156.0 319.5h.6M145.8 312.3h.6M152.4 325.9h.6M142.0 292.9h.6M157.6 313.9h.6M158.7 292.5h.6M162.4 298.8h.6M138.9 285.2h.6M149.4 295.9h.6M150.9 295.8h.6M139.6 290.0h.6M162.8 311.1h.6M141.1 317.0h.6M159.8 314.5h.6M138.7 294.4h.6M171.2 321.6h.6M145.2 308.1h.6M150.0 292.7h.6M166.5 313.6h.6M139.6 313.3h.6M137.5 288.8h.6M152.6 286.2h.6M156.6 313.9h.6M146.7 314.5h.6M139.7 288.5h.6M165.6 322.9h.6M137.3 318.9h.6M158.5 326.4h.6M167.2 323.4h.6M169.2 321.2h.6M165.6 323.5h.6M140.3 319.1h.6M162.6 300.2h.6M153.5 289.5h.6M148.7 315.3h.6M157.8 324.4h.6M146.6 294.5h.6M164.8 325.6h.6M150.8 301.5h.6M139.1 294.7h.6M171.3 326.5h.6M155.5 321.3h.6M145.2 312.4h.6M161.0 316.5h.6M142.3 295.8h.6M159.4 295.8h.6M143.1 291.6h.6M157.9 311.9h.6M149.3 312.8h.6M154.0 288.7h.6M156.7 306.1h.6M163.0 325.8h.6M138.8 311.1h.6M163.5 305.2h.6M153.3 315.2h.6M157.4 302.5h.6M161.7 310.7h.6M140.3 300.1h.6M156.7 312.0h.6M141.5 293.3h.6M149.2 310.4h.6M141.8 317.5h.6M162.7 319.1h.6M146.1 307.9h.6M158.5 302.3h.6M164.9 311.6h.6M165.3 326.2h.6M166.4 309.2h.6M146.6 306.7h.6M172.7 326.9h.6M141.6 313.5h.6M137.9 289.3h.6M151.0 288.8h.6M161.5 306.0h.6M151.5 321.1h.6M150.4 295.3h.6M147.7 285.7h.6M164.2 312.3h.6M152.7 319.7h.6M149.5 293.9h.6M138.3 292.3h.6M153.9 298.8h.6M153.7 287.0h.6M138.0 313.6h.6M152.7 318.3h.6M154.3 317.4h.6M142.0 319.2h.6M150.8 295.4h.6M154.7 312.4h.6M168.6 319.9h.6M138.3 291.7h.6M149.7 287.3h.6M153.9 304.1h.6M156.7 299.7h.6M146.0 309.9h.6M139.1 286.4h.6M143.0 295.3h.6M158.7 294.9h.6M162.0 312.1h.6M152.2 324.4h.6M145.6 289.4h.6M154.0 288.7h.6M162.1 314.6h.6M150.7 292.8h.6M137.7 302.2h.6M144.3 307.2h.6M139.8 297.4h.6M148.5 296.8h.6M144.7 319.2h.6M146.6 295.1h.6M163.0 315.5h.6M144.5 299.3h.6M153.2 319.5h.6M140.3 297.5h.6M141.3 319.1h.6M163.8 319.3h.6M149.0 307.2h.6M167.2 317.6h.6M153.4 317.8h.6M146.7 325.6h.6M157.6 306.5h.6M166.2 323.9h.6M146.7 289.9h.6M157.8 305.2h.6M163.6 317.6h.6M137.1 308.7h.6M143.3 287.6h.6M152.6 317.9h.6M146.3 322.0h.6M139.5 299.5h.6M145.8 325.7h.6M143.3 321.2h.6M156.5 296.3h.6M152.8 290.3h.6M159.9 313.2h.6M153.7 318.6h.6M165.9 313.6h.6M142.9 307.3h.6M154.4 291.1h.6M163.2 303.7h.6M145.8 288.7h.6M148.6 286.9h.6M149.7 318.1h.6M138.3 290.4h.6M137.7 295.0h.6M166.0 305.2h.6M149.2 324.7h.6M164.5 316.0h.6M161.3 300.4h.6M160.7 303.1h.6M166.8 313.6h.6M170.5 320.5h.6M137.8 301.1h.6M158.8 320.0h.6M154.9 321.8h.6M147.9 303.1h.6M150.4 312.0h.6M139.7 318.6h.6M139.8 315.4h.6M149.0 291.2h.6M142.4 326.3h.6M145.4 304.8h.6M142.9 305.7h.6M141.7 319.5h.6M150.0 312.0h.6M149.5 311.0h.6M138.4 307.5h.6M154.9 291.3h.6M155.2 296.3h.6M156.8 290.9h.6M159.0 317.9h.6M156.6 298.4h.6M161.3 315.4h.6M142.2 295.6h.6M143.9 285.7h.6M160.4 327.5h.6M147.3 324.8h.6M151.5 323.8h.6M140.6 298.3h.6M168.9 323.6h.6M167.2 313.9h.6M148.7 326.9h.6M158.6 319.8h.6M152.0 324.8h.6M160.5 315.1h.6M142.4 302.4h.6M140.7 299.9h.6M158.4 297.1h.6M137.2 303.1h.6M157.7 297.6h.6M140.3 318.1h.6M156.3 318.7h.6M166.6 318.0h.6M151.4 297.3h.6M145.5 304.7h.6M159.7 321.6h.6M158.4 297.0h.6M159.0 296.9h.6M152.4 294.3h.6M145.2 317.4h.6M144.6 298.5h.6M138.6 323.7h.6M146.5 308.5h.6M145.2 323.5h.6M153.9 302.9h.6M174.3 326.9h.6M139.3 325.6h.6M161.4 304.9h.6M153.5 321.3h.6M141.8 301.7h.6M140.8 301.7h.6M167.2 320.3h.6M142.3 295.3h.6M138.9 321.8h.6M137.9 322.8h.6M159.6 301.6h.6M148.3 301.5h.6M142.5 308.8h.6M148.8 323.3h.6M143.0 305.9h.6M137.9 296.0h.6M163.7 311.0h.6M154.5 289.1h.6M157.3 300.5h.6M152.0 322.1h.6M140.0 294.5h.6M153.0 303.6h.6M143.6 314.8h.6M146.0 312.5h.6M156.9 312.4h.6M160.2 313.9h.6M156.5 327.2h.6M142.8 303.4h.6M146.0 327.5h.6M165.2 308.0h.6M143.3 286.1h.6M149.5 292.8h.6M156.1 310.9h.6M155.6 294.9h.6M164.7 316.3h.6M141.9 325.9h.6M137.6 291.4h.6M163.7 321.6h.6M147.4 286.0h.6M164.7 312.2h.6M141.4 316.7h.6M159.7 302.6h.6M161.2 294.7h.6M143.8 325.7h.6M146.7 325.6h.6M166.0 313.9h.6M159.1 319.5h.6M154.7 301.1h.6M164.9 305.9h.6M144.6 292.5h.6M167.3 327.2h.6M149.4 324.9h.6M148.2 291.5h.6M153.4 317.6h.6M161.0 320.7h.6M167.8 324.0h.6M161.4 321.0h.6M152.2 310.0h.6M157.7 303.6h.6M153.9 315.0h.6M142.7 320.4h.6M150.2 320.7h.6M153.0 321.0h.6M152.0 327.2h.6M151.7 326.8h.6M151.5 302.7h.6M143.6 318.3h.6M140.0 318.2h.6M155.8 321.6h.6M160.4 325.2h.6M156.4 294.4h.6M171.8 323.0h.6M146.9 285.4h.6M167.6 312.9h.6M153.6 306.7h.6M137.8 288.7h.6M162.3 307.3h.6M158.4 311.1h.6M168.5 320.3h.6M169.8 323.6h.6M140.1 302.3h.6M156.1 310.5h.6M159.7 305.7h.6M142.1 314.0h.6M140.9 305.6h.6M162.0 301.7h.6M142.2 310.3h.6M140.5 321.7h.6M156.0 316.3h.6M169.1 318.5h.6M166.8 318.3h.6M151.5 285.9h.6M146.6 312.5h.6M148.9 326.9h.6M148.9 315.0h.6M141.6 304.2h.6M167.2 323.7h.6M139.7 319.1h.6M162.5 327.0h.6M140.2 316.6h.6M141.2 309.7h.6M150.1 308.6h.6M148.3 289.6h.6M152.4 288.2h.6M138.1 316.1h.6M161.6 313.6h.6M150.0 297.3h.6M145.7 310.5h.6M142.0 308.2h.6M152.3 306.6h.6M148.8 305.3h.6M149.3 313.9h.6M142.4 323.9h.6M155.3 299.5h.6M150.0 293.3h.6M157.3 319.0h.6M145.9 318.3h.6M165.2 311.7h.6M167.2 325.6h.6M148.0 310.6h.6M164.2 315.5h.6M152.0 316.8h.6M149.5 290.2h.6M153.0 308.2h.6M137.6 325.5h.6M150.3 310.9h.6M142.1 290.6h.6M159.1 313.5h.6M160.0 310.6h.6M147.4 300.5h.6M148.4 291.9h.6M138.4 304.0h.6M151.1 308.7h.6M152.0 287.8h.6M137.8 285.7h.6M152.4 314.6h.6M172.7 323.8h.6M151.2 313.8h.6M139.3 309.2h.6M161.3 296.6h.6M161.7 297.8h.6M156.7 325.4h.6M160.7 324.9h.6M167.3 316.1h.6M156.2 318.5h.6M166.7 321.6h.6M137.3 286.3h.6M154.5 315.4h.6M152.8 301.0h.6M137.8 310.7h.6M146.2 311.9h.6M151.0 300.4h.6M139.1 315.3h.6M137.0 320.7h.6M137.2 318.0h.6M150.2 299.6h.6M155.5 292.6h.6M144.8 315.3h.6M147.4 326.7h.6M162.9 323.9h.6M151.5 317.6h.6M163.8 316.6h.6M155.0 297.3h.6M150.7 290.8h.6M140.0 301.0h.6M158.1 320.0h.6M141.0 300.6h.6M150.9 315.2h.6M148.3 301.8h.6M147.6 302.4h.6M150.6 306.1h.6M146.4 301.4h.6M145.3 302.7h.6M139.7 318.5h.6M158.3 296.0h.6M151.3 321.7h.6M145.9 308.9h.6M141.5 294.5h.6M167.4 315.7h.6M138.0 303.8h.6M152.0 316.3h.6M153.0 294.4h.6M161.4 296.8h.6M162.7 316.8h.6M154.6 307.8h.6M141.5 307.9h.6M157.0 323.0h.6M150.3 291.3h.6M152.3 318.3h.6M137.4 286.2h.6M164.1 304.6h.6M144.4 313.3h.6M146.1 304.0h.6M144.9 323.6h.6M151.8 314.4h.6M143.9 310.8h.6M148.1 289.8h.6M148.9 287.4h.6M159.7 308.5h.6M152.4 326.8h.6M150.1 287.2h.6M163.9 307.2h.6M168.5 313.9h.6M155.2 300.7h.6M140.2 318.6h.6M145.6 322.0h.6M148.0 315.1h.6M168.1 319.6h.6M160.5 322.8h.6M151.0 298.5h.6M163.3 319.9h.6M140.8 295.8h.6M141.3 301.9h.6M142.3 323.9h.6M166.7 309.6h.6M144.2 293.7h.6M159.3 323.5h.6M172.2 324.5h.6M149.2 314.6h.6M156.6 308.5h.6M147.1 302.3h.6M145.8 321.5h.6M150.8 286.3h.6M160.9 326.9h.6M157.7 296.8h.6M160.3 304.4h.6M166.1 313.4h.6M157.6 299.0h.6M166.6 323.7h.6M140.4 285.8h.6M140.8 322.1h.6M160.3 301.7h.6M153.0 300.5h.6M157.1 310.1h.6M168.7 322.3h.6M147.7 321.3h.6M139.9 293.6h.6M152.8 287.9h.6M150.1 285.9h.6M167.4 313.6h.6M146.8 307.1h.6M151.7 319.8h.6M148.1 294.8h.6M166.3 317.1h.6M138.6 324.5h.6M155.5 304.5h.6M147.7 288.1h.6M146.5 325.8h.6M153.7 293.5h.6M139.9 312.3h.6M141.9 312.0h.6M140.6 304.6h.6M168.0 316.3h.6M166.8 312.6h.6M147.6 314.4h.6M158.6 311.4h.6M148.9 307.3h.6M140.6 296.5h.6M162.4 325.7h.6M157.3 307.8h.6M137.0 291.3h.6M157.2 313.9h.6M159.5 317.5h.6M161.3 298.0h.6M159.1 314.5h.6M139.6 326.0h.6M160.4 326.5h.6M140.1 321.3h.6M146.3 323.7h.6M160.5 303.5h.6M140.5 315.8h.6M149.5 290.5h.6M150.8 321.5h.6M149.8 289.1h.6M156.1 295.0h.6M147.5 311.5h.6M168.8 315.9h.6M147.9 301.7h.6M155.9 325.2h.6M141.1 281.0h.6M139.6 281.9h.6M139.6 273.8h.6M145.5 278.8h.6M144.3 281.3h.6M159.7 279.7h.6M137.5 268.7h.6M155.5 274.2h.6M148.8 282.0h.6M153.4 276.3h.6M143.9 268.4h.6M139.6 267.9h.6M146.2 283.8h.6M139.5 276.1h.6M151.2 283.7h.6M159.9 278.6h.6M150.3 279.5h.6M147.0 280.8h.6M156.2 270.8h.6M149.2 272.5h.6M139.9 274.4h.6M150.9 276.2h.6M145.8 276.8h.6M148.6 267.5h.6M152.9 281.0h.6M147.6 278.5h.6M142.6 279.9h.6M147.5 278.3h.6M152.5 274.6h.6M141.3 283.6h.6M156.1 273.8h.6M145.7 282.0h.6M154.3 271.9h.6M155.9 273.0h.6M156.4 269.0h.6M158.8 273.5h.6M158.2 271.4h.6M145.6 271.5h.6M150.5 271.5h.6M152.5 279.0h.6M154.6 275.0h.6M146.8 271.4h.6M148.2 276.3h.6M143.4 276.9h.6M141.0 274.4h.6M144.5 276.4h.6M154.8 267.5h.6M147.1 268.8h.6M145.2 280.0h.6M151.6 279.7h.6M155.7 273.0h.6M145.6 270.3h.6M144.5 277.9h.6M152.4 279.6h.6M149.3 267.9h.6M151.8 282.0h.6M157.1 267.4h.6M145.7 275.7h.6M151.4 281.1h.6M137.6 282.9h.6M147.0 284.1h.6M155.1 274.0h.6M158.9 275.2h.6M139.5 270.6h.6M149.3 280.4h.6M144.2 283.6h.6M142.9 284.3h.6M151.9 280.0h.6M145.9 276.4h.6M145.1 275.9h.6M156.4 280.6h.6M156.0 274.3h.6M143.8 277.5h.6M158.9 279.5h.6M142.3 281.0h.6M157.4 280.0h.6M153.7 279.0h.6M150.0 274.0h.6M153.5 274.5h.6M141.1 282.9h.6M158.1 269.2h.6M155.5 278.0h.6M144.6 272.8h.6M140.4 274.9h.6M141.9 278.9h.6M158.7 272.3h.6M142.9 276.2h.6M139.7 269.5h.6M141.1 281.7h.6M148.6 280.9h.6" stroke="#9a9a9a" stroke-width="0.55" fill="none"/>
<path d="M185.0 322.6 184.2 322.7 183.5 322.6 182.9 322.5 182.3 322.2 181.8 322.0 181.5 321.8 181.0 321.4 180.6 321.0 180.2 320.6 179.9 320.2 179.5 319.8 179.2 319.3 179.0 318.9 178.8 318.5 178.5 318.0 178.2 317.5 178.0 317.0 177.8 316.4 177.5 315.8 177.3 315.2 177.2 314.8 177.0 314.2 176.8 313.5 176.7 313.0 176.5 312.3 176.4 311.8 176.2 311.1 176.1 310.5 176.0 309.8 175.9 309.2 175.8 308.5 175.8 307.8 175.7 307.2 175.6 306.5 175.6 305.8 175.5 305.0 175.5 304.2 175.5 303.8 175.5 303.0 175.5 302.2 175.5 301.5 175.5 300.8 175.5 300.2 175.5 299.5 175.6 298.8 175.6 298.0 175.6 297.2 175.7 296.5 175.7 295.8 175.7 295.0 175.7 294.2 175.5 293.5 175.3 293.0 175.0 292.7 174.5 292.4 174.0 292.2 173.2 292.2 172.8 292.3 172.2 292.6 171.8 293.0 171.5 293.3 171.2 293.8 170.9 294.2 170.7 294.8 170.5 295.2 170.2 295.8 170.0 296.4 169.8 296.9 169.5 297.5 169.2 297.9 169.0 298.4 168.8 298.9 168.5 299.3 168.2 299.8 167.8 300.2 167.5 300.6 167.2 301.0 166.8 301.4 166.3 301.8 165.9 302.0 165.2 302.2 164.5 302.2 164.0 301.9 163.7 301.5 163.4 301.0 163.2 300.5 163.0 299.8 162.9 299.2 162.8 298.5 162.8 297.8 162.8 297.0 162.8 296.2 162.9 295.5 163.0 294.9 163.1 294.2 163.2 293.5 163.3 293.0 163.5 292.3 163.6 291.8 163.8 291.2 164.0 290.5 164.1 290.0 164.3 289.5 164.5 288.9 164.7 288.2 164.9 287.8 165.1 287.2 165.2 286.7 165.4 286.0 165.3 285.2 165.1 284.8 164.8 284.3 164.4 284.0 164.0 283.7 163.5 283.3 163.1 283.0 162.7 282.8 162.2 282.4 161.8 282.0 161.4 281.8 161.0 281.3 160.7 281.0 160.5 280.5 160.3 279.8 160.3 279.0 160.3 278.2 160.4 277.5 160.5 277.0 160.8 276.5 161.0 276.0 161.4 275.5 161.8 275.1 162.1 274.8 162.5 274.4 163.0 274.0 163.4 273.8 163.8 273.5 164.3 273.2 164.9 273.0 165.5 272.8 166.0 272.6 166.5 272.4 167.2 272.3 167.8 272.2 168.5 272.0 169.0 272.0 169.8 271.9 170.5 271.9 171.2 271.9 172.0 271.9 172.7 272.0 173.2 272.1 174.0 272.2 174.5 272.3 175.1 272.5 175.8 272.7 176.2 272.9 176.8 273.0 177.3 273.2 177.9 273.5 178.5 273.7 179.0 273.9 179.5 274.0 180.2 274.0 180.8 273.9 181.3 273.8 181.9 273.5 182.4 273.2 183.0 273.0 183.5 272.8 184.0 272.6 184.5 272.5 185.2 272.3 185.8 272.2 186.5 272.1 187.2 272.0 188.0 272.0 188.8 272.1 189.5 272.2 190.0 272.3 190.8 272.5 191.2 272.6 191.8 272.8 192.3 273.0 192.8 273.2 193.2 273.5 193.8 273.8 194.2 274.2 194.6 274.5 195.0 275.0 195.2 275.3 195.6 275.8 195.9 276.2 196.1 276.8 196.3 277.2 196.4 278.0 196.5 278.8 196.4 279.5 196.2 280.0 196.0 280.6 195.8 281.1 195.5 281.6 195.2 282.0 194.8 282.5 194.5 282.8 194.0 283.2 193.7 283.5 193.2 283.9 192.8 284.2 192.5 284.6 192.1 285.0 191.8 285.5 191.6 286.0 191.5 286.5 191.5 287.2 191.6 287.8 191.7 288.5 191.8 289.0 191.9 289.8 192.0 290.2 192.2 291.0 192.3 291.5 192.4 292.2 192.5 293.0 192.6 293.5 192.7 294.2 192.7 295.0 192.8 295.5 192.8 296.2 192.9 297.0 192.9 297.8 193.0 298.5 193.0 299.2 193.0 299.8 193.0 300.5 193.0 301.2 193.0 302.0 193.0 302.5 193.0 303.2 192.9 304.0 192.9 304.8 192.8 305.5 192.8 306.2 192.7 306.8 192.6 307.5 192.5 308.2 192.5 308.8 192.3 309.5 192.2 310.0 192.1 310.8 192.0 311.3 191.8 312.0 191.7 312.5 191.5 313.2 191.4 313.8 191.2 314.2 191.0 314.9 190.8 315.5 190.6 316.0 190.4 316.5 190.2 317.0 190.0 317.5 189.7 318.0 189.4 318.5 189.1 319.0 188.8 319.5 188.5 319.9 188.2 320.3 187.8 320.8 187.5 321.1 187.0 321.5 186.7 321.8 186.2 322.1 185.8 322.3 185.2 322.5ZM150.8 282.5 150.0 282.6 149.2 282.6 148.5 282.6 147.8 282.6 147.0 282.6 146.2 282.6 145.5 282.5 145.0 282.5 144.2 282.4 143.7 282.2 143.0 282.1 142.5 281.8 142.4 281.2 142.8 281.0 143.5 280.8 144.0 280.7 144.8 280.6 145.2 280.5 146.0 280.4 146.8 280.4 147.5 280.4 148.2 280.4 149.0 280.4 149.8 280.4 150.5 280.5 151.0 280.5 151.8 280.6 152.4 280.8 153.0 280.9 153.5 281.2 153.8 281.5 153.5 281.8 153.0 282.1 152.4 282.2 151.8 282.4 151.0 282.5Z" stroke="#262626" stroke-width="0.6" fill="none" fill-rule="evenodd"/>
<path d="M185.2 317.0 184.5 317.2 183.8 317.1 183.2 317.0 182.7 316.8 182.2 316.5 181.8 316.1 181.4 315.8 181.0 315.2 180.8 314.9 180.5 314.5 180.2 314.0 179.9 313.5 179.6 313.0 179.4 312.5 179.2 312.0 179.0 311.4 178.8 310.8 178.6 310.2 178.5 309.8 178.3 309.0 178.2 308.5 178.0 307.8 177.9 307.2 177.8 306.5 177.7 306.0 177.6 305.2 177.5 304.6 177.4 304.0 177.4 303.2 177.3 302.5 177.3 301.8 177.2 301.2 177.2 300.5 177.2 299.8 177.2 299.0 177.2 298.2 177.2 297.5 177.3 297.0 177.3 296.2 177.3 295.5 177.4 294.8 177.4 294.0 177.4 293.2 177.4 292.5 177.3 291.8 177.2 291.2 177.0 290.8 176.6 290.2 176.2 289.9 175.8 289.7 175.2 289.5 174.5 289.4 173.8 289.3 173.0 289.3 172.2 289.3 171.5 289.4 171.0 289.6 170.5 289.9 170.0 290.2 169.7 290.5 169.2 290.9 169.0 291.3 168.7 291.8 168.4 292.2 168.1 292.8 167.9 293.2 167.6 293.8 167.2 294.2 166.8 294.5 166.5 294.4 166.3 293.8 166.3 293.0 166.4 292.2 166.5 291.8 166.7 291.0 166.9 290.5 167.0 290.0 167.2 289.2 167.4 288.8 167.6 288.2 167.8 287.8 168.0 287.1 168.2 286.5 168.1 285.8 167.9 285.2 167.5 284.8 167.2 284.5 166.8 284.2 166.2 283.8 165.8 283.5 165.4 283.2 165.0 283.0 164.5 282.7 164.0 282.4 163.5 282.0 163.2 281.8 162.8 281.3 162.5 281.0 162.1 280.5 161.9 280.0 161.7 279.5 161.6 278.8 161.6 278.0 161.7 277.2 161.9 276.8 162.2 276.2 162.5 275.8 162.8 275.5 163.2 275.1 163.6 274.8 164.0 274.5 164.5 274.2 165.0 273.9 165.5 273.7 166.0 273.5 166.7 273.2 167.2 273.1 167.8 273.0 168.5 272.8 169.2 272.8 169.8 272.7 170.5 272.7 171.2 272.7 172.0 272.7 172.5 272.8 173.2 272.9 173.8 273.0 174.5 273.2 175.0 273.4 175.5 273.5 176.0 273.8 176.6 274.0 177.1 274.2 177.5 274.5 178.0 274.8 178.5 275.1 179.0 275.3 179.5 275.5 180.2 275.7 181.0 275.5 181.5 275.3 181.9 275.0 182.4 274.8 182.8 274.5 183.3 274.2 183.8 274.0 184.4 273.8 185.0 273.5 185.5 273.4 186.2 273.3 186.8 273.2 187.5 273.2 188.2 273.2 189.0 273.2 189.5 273.3 190.2 273.5 190.8 273.6 191.2 273.8 191.8 274.0 192.2 274.3 192.8 274.6 193.2 275.0 193.5 275.3 194.0 275.8 194.2 276.1 194.5 276.6 194.8 277.1 194.9 277.8 195.0 278.4 195.0 278.8 194.9 279.5 194.7 280.0 194.5 280.5 194.2 281.0 193.9 281.5 193.5 281.9 193.2 282.2 192.8 282.6 192.2 283.0 191.9 283.2 191.5 283.5 191.0 283.9 190.7 284.2 190.3 284.8 190.0 285.2 189.9 285.8 189.9 286.5 190.0 287.0 190.2 287.8 190.3 288.2 190.4 289.0 190.6 289.5 190.7 290.2 190.8 290.8 191.0 291.5 191.0 292.0 191.2 292.8 191.2 293.5 191.3 294.0 191.4 294.8 191.4 295.5 191.5 296.2 191.5 296.8 191.5 297.5 191.6 298.2 191.6 299.0 191.6 299.8 191.5 300.5 191.5 301.2 191.5 301.8 191.4 302.5 191.4 303.2 191.3 304.0 191.2 304.5 191.1 305.2 191.0 306.0 190.9 306.5 190.8 307.2 190.7 307.8 190.5 308.5 190.4 309.0 190.2 309.5 190.0 310.2 189.8 310.8 189.7 311.2 189.5 311.8 189.2 312.3 189.0 312.9 188.8 313.4 188.5 313.8 188.2 314.3 187.9 314.8 187.6 315.2 187.2 315.6 186.9 316.0 186.5 316.3 186.0 316.7 185.5 316.9Z" stroke="#262626" stroke-width="0.6" fill="none" fill-rule="evenodd"/>
<path d="M185.2 313.8 184.5 314.0 183.8 313.9 183.2 313.7 182.8 313.4 182.2 313.0 181.9 312.8 181.5 312.2 181.2 311.9 181.0 311.5 180.7 311.0 180.5 310.5 180.2 310.0 180.0 309.5 179.8 308.8 179.6 308.2 179.4 307.8 179.2 307.2 179.1 306.5 179.0 306.0 178.8 305.2 178.7 304.8 178.6 304.0 178.5 303.2 178.4 302.8 178.4 302.0 178.3 301.2 178.3 300.5 178.2 300.0 178.2 299.2 178.2 298.5 178.2 297.8 178.2 297.0 178.3 296.5 178.3 295.8 178.4 295.0 178.4 294.2 178.5 293.5 178.5 292.9 178.5 292.2 178.6 291.5 178.6 290.8 178.6 290.0 178.6 289.2 178.6 288.5 178.7 287.8 178.9 287.2 179.1 286.8 179.4 286.2 179.8 285.8 180.0 285.4 180.3 285.0 180.6 284.5 180.8 284.0 181.0 283.5 181.2 282.8 181.2 282.0 181.0 281.4 180.8 280.8 180.5 280.3 180.1 280.0 179.7 280.0 179.2 280.2 178.8 280.6 178.3 281.0 178.0 281.2 177.5 281.6 177.0 282.0 176.7 282.2 176.2 282.5 175.8 282.8 175.2 283.1 174.8 283.4 174.2 283.6 173.8 283.8 173.0 284.0 172.5 284.1 171.8 284.2 171.0 284.2 170.2 284.2 169.5 284.1 169.0 283.9 168.4 283.8 167.8 283.5 167.2 283.3 166.8 283.1 166.2 282.8 165.8 282.6 165.3 282.2 164.9 282.0 164.5 281.7 164.0 281.3 163.7 281.0 163.3 280.5 163.0 280.1 162.8 279.5 162.6 279.0 162.5 278.2 162.7 277.5 162.8 277.0 163.1 276.5 163.5 276.0 163.8 275.7 164.2 275.2 164.6 275.0 165.0 274.7 165.5 274.4 166.0 274.2 166.5 274.0 167.2 273.8 167.8 273.6 168.3 273.5 169.0 273.4 169.8 273.3 170.5 273.3 171.2 273.3 172.0 273.4 172.8 273.5 173.2 273.6 174.0 273.7 174.5 273.9 175.0 274.1 175.5 274.3 176.0 274.5 176.5 274.8 177.0 275.1 177.5 275.5 177.8 275.8 178.2 276.1 178.6 276.5 179.0 276.9 179.4 277.2 179.8 277.6 180.2 277.8 180.8 277.6 181.1 277.2 181.5 276.9 182.0 276.5 182.2 276.2 182.8 275.8 183.2 275.5 183.6 275.2 184.0 275.0 184.5 274.7 185.1 274.5 185.8 274.3 186.2 274.2 187.0 274.1 187.8 274.1 188.5 274.1 189.2 274.2 189.8 274.3 190.4 274.5 191.0 274.7 191.5 275.0 191.9 275.2 192.2 275.5 192.8 276.0 193.0 276.3 193.3 276.8 193.6 277.2 193.8 277.8 193.8 278.5 193.8 279.2 193.6 279.8 193.4 280.2 193.1 280.8 192.8 281.2 192.4 281.5 192.0 281.9 191.5 282.2 191.2 282.5 190.8 282.8 190.2 283.1 189.8 283.5 189.4 283.8 189.0 284.2 188.8 284.7 188.6 285.2 188.7 286.0 188.8 286.5 189.0 287.2 189.1 287.8 189.3 288.2 189.5 289.0 189.6 289.5 189.8 290.1 189.9 290.8 190.0 291.3 190.1 292.0 190.2 292.7 190.3 293.2 190.4 294.0 190.5 294.8 190.5 295.2 190.6 296.0 190.6 296.8 190.6 297.5 190.6 298.2 190.6 299.0 190.6 299.8 190.6 300.5 190.5 301.2 190.5 301.8 190.4 302.5 190.3 303.2 190.2 303.8 190.1 304.5 190.0 305.2 189.9 305.8 189.8 306.3 189.6 307.0 189.4 307.5 189.2 308.1 189.0 308.8 188.9 309.2 188.7 309.8 188.4 310.2 188.2 310.8 187.9 311.2 187.6 311.8 187.2 312.2 187.0 312.5 186.5 313.0 186.2 313.3 185.8 313.6 185.2 313.8Z" stroke="#262626" stroke-width="0.6" fill="none" fill-rule="evenodd"/>
<path d="M171.2 283.3 170.5 283.3 170.0 283.2 169.2 283.1 168.6 283.0 168.0 282.8 167.5 282.7 167.0 282.4 166.5 282.2 166.0 281.9 165.5 281.6 165.0 281.3 164.7 281.0 164.2 280.5 164.0 280.2 163.7 279.8 163.5 279.2 163.4 278.5 163.4 277.8 163.6 277.2 163.8 276.8 164.2 276.2 164.5 275.9 165.0 275.5 165.3 275.2 165.8 275.0 166.2 274.7 166.8 274.5 167.5 274.3 168.0 274.1 168.6 274.0 169.2 273.9 170.0 273.8 170.8 273.8 171.5 273.8 172.2 273.9 172.8 274.0 173.5 274.2 174.0 274.3 174.5 274.5 175.1 274.8 175.6 275.0 176.0 275.3 176.5 275.6 176.9 276.0 177.2 276.3 177.6 276.8 177.9 277.2 178.1 277.8 178.2 278.5 178.1 279.2 177.9 279.8 177.5 280.2 177.2 280.6 176.8 281.0 176.5 281.3 176.0 281.6 175.5 282.0 175.0 282.2 174.5 282.5 174.0 282.7 173.5 282.9 173.0 283.0 172.2 283.1 171.5 283.2ZM185.2 311.5 184.5 311.7 183.8 311.6 183.2 311.4 182.8 311.0 182.4 310.8 182.0 310.3 181.8 309.9 181.5 309.5 181.2 309.0 180.9 308.5 180.7 308.0 180.5 307.5 180.2 306.8 180.1 306.2 179.9 305.8 179.8 305.0 179.6 304.5 179.5 303.8 179.4 303.2 179.3 302.5 179.2 302.0 179.1 301.2 179.1 300.5 179.0 299.8 179.0 299.0 179.0 298.5 179.0 297.8 179.0 297.2 179.0 296.5 179.1 295.8 179.1 295.0 179.2 294.2 179.2 293.5 179.3 293.0 179.4 292.2 179.5 291.5 179.5 291.0 179.6 290.2 179.8 289.6 179.9 289.0 180.0 288.5 180.2 287.8 180.5 287.3 180.8 286.8 181.0 286.3 181.2 286.0 181.6 285.5 181.9 285.0 182.2 284.5 182.5 284.1 182.8 283.6 182.9 283.0 182.9 282.2 182.8 281.7 182.5 281.0 182.4 280.5 182.3 279.8 182.2 279.2 182.3 278.8 182.5 278.0 182.7 277.5 183.0 277.1 183.3 276.8 183.8 276.3 184.1 276.0 184.5 275.8 185.0 275.5 185.6 275.2 186.2 275.1 186.8 275.0 187.5 274.9 188.2 274.9 189.0 275.0 189.5 275.1 190.0 275.3 190.5 275.5 191.0 275.8 191.5 276.1 191.9 276.5 192.2 277.0 192.5 277.4 192.7 278.0 192.7 278.8 192.6 279.5 192.3 280.0 192.0 280.5 191.8 280.8 191.3 281.2 190.9 281.5 190.5 281.8 190.0 282.1 189.5 282.4 189.0 282.7 188.5 283.0 188.1 283.2 187.8 283.5 187.4 284.0 187.2 284.5 187.3 285.0 187.4 285.8 187.6 286.2 187.8 286.8 188.0 287.3 188.2 287.9 188.5 288.5 188.6 289.0 188.8 289.5 189.0 290.2 189.1 290.8 189.2 291.4 189.4 292.0 189.5 292.7 189.6 293.2 189.7 294.0 189.8 294.6 189.8 295.2 189.9 296.0 189.9 296.8 189.9 297.5 189.9 298.2 189.9 299.0 189.9 299.8 189.8 300.5 189.8 301.2 189.7 301.8 189.6 302.5 189.5 303.1 189.4 303.8 189.2 304.4 189.1 305.0 189.0 305.5 188.8 306.2 188.6 306.8 188.5 307.2 188.2 307.8 188.0 308.3 187.8 308.9 187.5 309.3 187.2 309.8 186.9 310.2 186.5 310.7 186.1 311.0 185.8 311.3 185.2 311.5Z" stroke="#262626" stroke-width="0.6" fill="none" fill-rule="evenodd"/>
<path d="M172.0 282.5 171.2 282.6 170.5 282.6 169.8 282.6 169.2 282.5 168.5 282.3 168.0 282.2 167.5 282.0 166.9 281.8 166.4 281.5 166.0 281.2 165.5 280.9 165.1 280.5 164.8 280.1 164.5 279.7 164.2 279.1 164.2 278.5 164.2 277.8 164.4 277.2 164.7 276.8 165.0 276.3 165.3 276.0 165.8 275.7 166.2 275.4 166.8 275.1 167.2 274.9 167.8 274.7 168.5 274.5 169.0 274.4 169.8 274.3 170.5 274.3 171.2 274.3 172.0 274.4 172.7 274.5 173.2 274.6 173.8 274.8 174.3 275.0 174.8 275.2 175.3 275.5 175.8 275.8 176.2 276.2 176.5 276.5 176.8 277.0 177.1 277.5 177.2 278.2 177.2 279.0 177.0 279.5 176.7 280.0 176.3 280.5 176.0 280.8 175.5 281.1 175.0 281.5 174.5 281.7 174.0 282.0 173.5 282.2 173.0 282.3 172.2 282.5ZM186.8 282.3 186.0 282.4 185.3 282.2 184.9 282.0 184.5 281.6 184.2 281.2 184.0 280.8 183.8 280.2 183.6 279.5 183.6 278.8 183.8 278.1 184.0 277.6 184.3 277.2 184.8 276.8 185.1 276.5 185.5 276.2 186.1 276.0 186.8 275.8 187.4 275.8 188.0 275.7 188.5 275.8 189.2 275.9 189.8 276.1 190.2 276.4 190.7 276.8 191.0 277.0 191.3 277.5 191.5 278.0 191.6 278.8 191.5 279.2 191.2 279.8 190.9 280.2 190.5 280.6 190.0 281.0 189.6 281.2 189.1 281.5 188.5 281.8 188.0 281.9 187.5 282.1 187.0 282.2ZM184.8 309.8 184.0 309.8 183.5 309.6 183.0 309.2 182.7 309.0 182.3 308.5 182.0 308.1 181.8 307.7 181.5 307.2 181.2 306.8 181.0 306.1 180.8 305.5 180.6 305.0 180.5 304.5 180.3 303.8 180.2 303.2 180.0 302.5 180.0 302.0 179.9 301.2 179.8 300.5 179.7 300.0 179.7 299.2 179.7 298.5 179.7 297.8 179.7 297.0 179.7 296.2 179.7 295.5 179.8 295.0 179.9 294.2 179.9 293.5 180.0 293.0 180.1 292.2 180.2 291.5 180.4 291.0 180.5 290.3 180.7 289.8 180.8 289.2 181.0 288.7 181.2 288.1 181.5 287.7 181.8 287.2 182.1 286.8 182.5 286.3 182.8 286.0 183.2 285.6 183.8 285.3 184.2 285.1 185.0 285.1 185.5 285.4 185.9 285.8 186.2 286.2 186.5 286.5 186.8 287.0 187.1 287.5 187.4 288.0 187.6 288.5 187.8 289.0 188.0 289.5 188.2 290.2 188.4 290.8 188.5 291.2 188.7 292.0 188.8 292.5 188.9 293.2 189.0 293.8 189.1 294.5 189.2 295.2 189.2 296.0 189.2 296.8 189.3 297.2 189.3 298.0 189.2 298.5 189.2 299.2 189.2 300.0 189.1 300.8 189.0 301.5 188.9 302.0 188.8 302.8 188.7 303.2 188.6 304.0 188.4 304.5 188.2 305.1 188.0 305.8 187.9 306.2 187.6 306.8 187.4 307.2 187.1 307.8 186.8 308.2 186.5 308.6 186.2 309.0 185.8 309.3 185.2 309.6 184.8 309.8Z" stroke="#262626" stroke-width="0.6" fill="none" fill-rule="evenodd"/>
<path d="M171.5 282.0 170.8 282.1 170.0 282.1 169.5 282.0 168.8 281.9 168.2 281.7 167.7 281.5 167.1 281.2 166.7 281.0 166.2 280.7 165.8 280.3 165.5 280.0 165.2 279.5 165.0 279.0 164.9 278.2 165.0 277.6 165.2 277.1 165.5 276.7 165.9 276.2 166.3 276.0 166.8 275.7 167.2 275.4 167.8 275.2 168.5 275.0 169.0 274.9 169.8 274.8 170.4 274.8 170.8 274.8 171.5 274.8 172.2 274.9 172.8 275.0 173.5 275.2 174.0 275.4 174.5 275.7 175.0 276.0 175.3 276.2 175.8 276.7 176.0 277.0 176.3 277.5 176.4 278.2 176.3 279.0 176.1 279.5 175.8 280.0 175.5 280.3 175.0 280.7 174.6 281.0 174.2 281.2 173.6 281.5 173.0 281.7 172.5 281.9 171.8 282.0ZM187.8 280.8 187.0 280.8 186.4 280.8 185.8 280.5 185.5 280.2 185.2 279.8 185.0 279.2 185.0 278.7 185.2 278.0 185.5 277.7 186.0 277.2 186.5 277.0 187.0 276.8 187.5 276.8 188.0 276.8 188.8 276.9 189.2 277.1 189.8 277.5 190.0 277.8 190.2 278.5 190.1 279.2 189.8 279.7 189.5 280.0 189.0 280.3 188.5 280.6 187.9 280.8ZM185.0 308.0 184.2 308.1 183.8 308.0 183.2 307.7 182.8 307.2 182.5 306.9 182.2 306.5 181.9 306.0 181.7 305.5 181.5 305.0 181.2 304.4 181.1 303.8 180.9 303.2 180.8 302.5 180.7 302.0 180.5 301.2 180.5 300.8 180.4 300.0 180.3 299.2 180.3 298.5 180.3 297.8 180.3 297.0 180.3 296.2 180.4 295.5 180.4 294.8 180.5 294.2 180.6 293.5 180.7 292.8 180.8 292.2 181.0 291.5 181.1 291.0 181.3 290.5 181.5 289.8 181.8 289.3 182.0 288.8 182.2 288.4 182.5 288.0 183.0 287.5 183.3 287.2 183.8 287.0 184.5 286.9 185.0 287.0 185.5 287.3 186.0 287.7 186.3 288.0 186.6 288.5 186.9 289.0 187.2 289.5 187.4 290.0 187.6 290.5 187.8 291.0 188.0 291.8 188.1 292.2 188.2 293.0 188.3 293.5 188.4 294.2 188.5 294.8 188.6 295.5 188.6 296.2 188.7 297.0 188.7 297.8 188.6 298.5 188.6 299.2 188.5 300.0 188.5 300.5 188.4 301.2 188.3 302.0 188.2 302.5 188.0 303.2 187.9 303.8 187.7 304.2 187.5 304.8 187.2 305.4 187.0 306.0 186.8 306.4 186.5 306.8 186.1 307.2 185.8 307.6 185.2 307.9Z" stroke="#262626" stroke-width="0.6" fill="none" fill-rule="evenodd"/>
<path d="M171.5 281.5 170.8 281.6 170.0 281.5 169.5 281.5 168.8 281.3 168.2 281.2 167.8 281.0 167.2 280.7 166.8 280.3 166.4 280.0 166.0 279.5 165.8 279.1 165.6 278.5 165.7 277.8 165.9 277.2 166.2 276.8 166.6 276.5 167.0 276.2 167.5 275.9 168.0 275.7 168.5 275.5 169.2 275.3 169.8 275.2 170.5 275.2 171.2 275.2 171.8 275.3 172.5 275.4 173.0 275.6 173.5 275.8 174.0 276.0 174.5 276.4 174.9 276.8 175.2 277.1 175.5 277.6 175.7 278.2 175.5 279.0 175.3 279.5 175.0 279.9 174.6 280.2 174.2 280.5 173.8 280.8 173.2 281.1 172.7 281.2 172.0 281.4 171.5 281.5ZM185.2 306.3 184.5 306.5 183.8 306.3 183.3 306.0 183.0 305.7 182.6 305.2 182.3 304.8 182.1 304.2 181.9 303.8 181.7 303.2 181.5 302.6 181.4 302.0 181.2 301.5 181.1 300.8 181.0 300.0 181.0 299.5 180.9 298.8 180.9 298.0 180.9 297.2 180.9 296.5 181.0 295.8 181.0 295.2 181.1 294.5 181.2 293.8 181.3 293.2 181.5 292.5 181.6 292.0 181.8 291.5 182.0 290.8 182.2 290.3 182.5 289.8 182.8 289.4 183.1 289.0 183.5 288.7 184.0 288.5 184.8 288.4 185.2 288.6 185.7 289.0 186.0 289.3 186.3 289.8 186.6 290.2 186.9 290.8 187.1 291.2 187.2 291.8 187.5 292.5 187.6 293.0 187.7 293.8 187.8 294.2 187.9 295.0 188.0 295.8 188.0 296.2 188.1 297.0 188.1 297.8 188.0 298.5 188.0 299.1 187.9 299.8 187.9 300.5 187.8 301.2 187.6 301.8 187.5 302.3 187.3 303.0 187.1 303.5 186.9 304.0 186.7 304.5 186.4 305.0 186.1 305.5 185.8 305.9 185.3 306.2Z" stroke="#262626" stroke-width="0.6" fill="none" fill-rule="evenodd"/>
<path d="M171.2 281.0 170.5 281.1 169.8 281.0 169.2 280.9 168.7 280.8 168.1 280.5 167.6 280.2 167.2 280.0 166.8 279.5 166.5 279.0 166.4 278.5 166.5 277.8 166.7 277.2 167.0 276.9 167.5 276.5 168.0 276.2 168.5 276.0 169.0 275.9 169.6 275.8 170.2 275.7 171.0 275.7 171.6 275.8 172.2 275.9 172.8 276.0 173.3 276.2 173.8 276.5 174.2 277.0 174.5 277.2 174.8 277.8 174.9 278.5 174.7 279.0 174.4 279.5 174.0 280.0 173.6 280.2 173.1 280.5 172.5 280.8 172.0 280.9 171.4 281.0ZM184.8 304.8 184.0 304.8 183.6 304.5 183.2 304.2 182.9 303.8 182.6 303.2 182.4 302.8 182.2 302.2 182.0 301.5 181.9 301.0 181.8 300.4 181.7 299.8 181.6 299.0 181.5 298.2 181.5 297.5 181.5 296.8 181.6 296.0 181.6 295.2 181.7 294.5 181.8 294.0 182.0 293.3 182.2 292.8 182.3 292.2 182.5 291.8 182.8 291.2 183.1 290.8 183.5 290.3 184.0 290.0 184.5 289.9 185.0 290.1 185.5 290.4 185.8 290.8 186.1 291.2 186.4 291.8 186.6 292.2 186.8 292.8 187.0 293.5 187.1 294.0 187.2 294.8 187.3 295.2 187.4 296.0 187.4 296.8 187.4 297.5 187.4 298.2 187.4 299.0 187.3 299.8 187.2 300.2 187.1 301.0 187.0 301.5 186.8 302.2 186.5 302.8 186.3 303.2 186.0 303.8 185.8 304.1 185.4 304.5 185.0 304.8Z" stroke="#262626" stroke-width="0.6" fill="none" fill-rule="evenodd"/>
<path d="M170.8 280.5 170.2 280.5 169.5 280.4 169.0 280.2 168.4 280.0 168.0 279.7 167.5 279.2 167.3 278.8 167.2 278.2 167.3 277.8 167.7 277.2 168.0 277.0 168.5 276.7 169.0 276.4 169.8 276.3 170.2 276.2 171.0 276.2 171.5 276.3 172.2 276.5 172.8 276.7 173.2 277.0 173.6 277.2 173.9 277.8 174.0 278.2 174.0 278.8 173.7 279.2 173.2 279.7 172.8 280.0 172.2 280.2 171.8 280.4 171.0 280.5ZM184.8 303.0 184.1 303.0 183.7 302.8 183.3 302.2 183.0 301.8 182.8 301.2 182.6 300.8 182.5 300.2 182.4 299.5 182.3 298.8 182.2 298.2 182.2 297.5 182.2 296.8 182.2 296.2 182.3 295.5 182.5 294.8 182.6 294.2 182.8 293.6 183.0 293.0 183.2 292.5 183.5 292.2 184.0 291.8 184.5 291.6 185.0 291.8 185.5 292.2 185.8 292.6 186.0 293.1 186.2 293.8 186.4 294.2 186.5 294.8 186.6 295.5 186.7 296.2 186.8 296.8 186.8 297.5 186.7 298.0 186.7 298.8 186.6 299.5 186.5 300.0 186.3 300.8 186.1 301.2 185.9 301.8 185.7 302.2 185.2 302.7 184.8 303.0Z" stroke="#262626" stroke-width="0.6" fill="none" fill-rule="evenodd"/>
</g>
<rect x="137.00" y="267.00" width="60.50" height="60.50" fill="none" stroke="#333" stroke-width="1.0"/>
<line x1="137.00" y1="284.70" x2="197.50" y2="284.70" stroke="#444" stroke-width="0.9" />
<line x1="180.40" y1="267.00" x2="180.40" y2="284.70" stroke="#444" stroke-width="0.9" />
<line x1="174.70" y1="284.70" x2="174.70" y2="327.50" stroke="#444" stroke-width="0.9" />
<text x="151.00" y="274.30" font-size="8.8" font-weight="normal" text-anchor="start" fill="#000" stroke="#000" stroke-width="0.3">4.11</text>
<text x="196.60" y="326.00" font-size="8.8" font-weight="normal" text-anchor="end" fill="#000" stroke="#000" stroke-width="0.3">73.1</text>
<text x="232.50" y="194.80" font-size="16.5" font-weight="bold" text-anchor="start" fill="#000" >D</text>
<text x="325.00" y="179.70" font-size="9.8" font-weight="bold" text-anchor="middle" fill="#000" >pDC</text>
<text x="391.00" y="179.70" font-size="9.8" font-weight="bold" text-anchor="middle" fill="#000" >cDC</text>
<text x="235.40" y="233.40" font-size="9.8" font-weight="bold" text-anchor="start" fill="#000" >BM</text>
<text x="227.30" y="308.30" font-size="9.8" font-weight="bold" text-anchor="start" fill="#000" >Spleen</text>
<text transform="translate(271.0,298.3) rotate(-90)" font-size="10.4" font-weight="bold">Cell numbers x10<tspan font-size="7" dy="-4.2">5</tspan></text>
<line x1="290.70" y1="184.00" x2="290.70" y2="251.10" stroke="#555" stroke-width="1.0" />
<line x1="290.20" y1="250.60" x2="348.70" y2="250.60" stroke="#444" stroke-width="1.1" />
<line x1="288.90" y1="250.60" x2="290.70" y2="250.60" stroke="#444" stroke-width="1" />
<text x="288.30" y="253.90" font-size="9" font-weight="bold" text-anchor="end" fill="#000" >0</text>
<line x1="288.90" y1="236.32" x2="290.70" y2="236.32" stroke="#444" stroke-width="1" />
<text x="288.30" y="239.62" font-size="9" font-weight="bold" text-anchor="end" fill="#000" >2</text>
<line x1="288.90" y1="222.05" x2="290.70" y2="222.05" stroke="#444" stroke-width="1" />
<text x="288.30" y="225.35" font-size="9" font-weight="bold" text-anchor="end" fill="#000" >4</text>
<line x1="288.90" y1="207.78" x2="290.70" y2="207.78" stroke="#444" stroke-width="1" />
<text x="288.30" y="211.08" font-size="9" font-weight="bold" text-anchor="end" fill="#000" >6</text>
<line x1="288.90" y1="193.50" x2="290.70" y2="193.50" stroke="#444" stroke-width="1" />
<text x="288.30" y="196.80" font-size="9" font-weight="bold" text-anchor="end" fill="#000" >8</text>
<rect x="296.00" y="206.10" width="18.90" height="44.50" fill="#fff" stroke="#000" stroke-width="1.2"/>
<line x1="305.45" y1="206.00" x2="305.45" y2="203.00" stroke="#000" stroke-width="1.2" />
<line x1="299.92" y1="203.00" x2="310.98" y2="203.00" stroke="#000" stroke-width="1.2" />
<rect x="324.50" y="231.00" width="19.70" height="19.60" fill="#000" stroke="none" stroke-width="1"/>
<line x1="334.35" y1="231.50" x2="334.35" y2="229.00" stroke="#000" stroke-width="1.2" />
<line x1="328.93" y1="229.00" x2="339.77" y2="229.00" stroke="#000" stroke-width="1.2" />
<line x1="305.80" y1="198.50" x2="333.50" y2="198.50" stroke="#222" stroke-width="1.0" />
<line x1="305.80" y1="196.70" x2="305.80" y2="200.30" stroke="#222" stroke-width="1.0" />
<line x1="333.50" y1="196.70" x2="333.50" y2="200.30" stroke="#222" stroke-width="1.0" />
<text x="320.15" y="194.70" font-size="6.6" font-weight="normal" text-anchor="middle" fill="#222" >p=0.001</text>
<line x1="364.50" y1="183.80" x2="364.50" y2="251.10" stroke="#555" stroke-width="1.0" />
<line x1="364.00" y1="250.60" x2="421.30" y2="250.60" stroke="#444" stroke-width="1.1" />
<line x1="362.70" y1="250.60" x2="364.50" y2="250.60" stroke="#444" stroke-width="1" />
<text x="362.10" y="253.90" font-size="9" font-weight="bold" text-anchor="end" fill="#000" >0</text>
<line x1="362.70" y1="235.62" x2="364.50" y2="235.62" stroke="#444" stroke-width="1" />
<text x="362.10" y="238.93" font-size="9" font-weight="bold" text-anchor="end" fill="#000" >1</text>
<line x1="362.70" y1="220.65" x2="364.50" y2="220.65" stroke="#444" stroke-width="1" />
<text x="362.10" y="223.95" font-size="9" font-weight="bold" text-anchor="end" fill="#000" >2</text>
<line x1="362.70" y1="205.67" x2="364.50" y2="205.67" stroke="#444" stroke-width="1" />
<text x="362.10" y="208.97" font-size="9" font-weight="bold" text-anchor="end" fill="#000" >3</text>
<line x1="362.70" y1="190.70" x2="364.50" y2="190.70" stroke="#444" stroke-width="1" />
<text x="362.10" y="194.00" font-size="9" font-weight="bold" text-anchor="end" fill="#000" >4</text>
<rect x="369.80" y="205.00" width="18.00" height="45.60" fill="#fff" stroke="#000" stroke-width="1.2"/>
<line x1="378.80" y1="204.90" x2="378.80" y2="199.40" stroke="#000" stroke-width="1.2" />
<line x1="373.52" y1="199.40" x2="384.08" y2="199.40" stroke="#000" stroke-width="1.2" />
<rect x="398.20" y="202.80" width="19.30" height="47.80" fill="#000" stroke="none" stroke-width="1"/>
<line x1="407.85" y1="203.30" x2="407.85" y2="197.30" stroke="#000" stroke-width="1.2" />
<line x1="402.54" y1="197.30" x2="413.16" y2="197.30" stroke="#000" stroke-width="1.2" />
<line x1="378.60" y1="192.10" x2="407.60" y2="192.10" stroke="#222" stroke-width="1.0" />
<line x1="378.60" y1="190.30" x2="378.60" y2="193.90" stroke="#222" stroke-width="1.0" />
<line x1="407.60" y1="190.30" x2="407.60" y2="193.90" stroke="#222" stroke-width="1.0" />
<text x="391.75" y="191.20" font-size="6.6" font-weight="normal" text-anchor="middle" fill="#222" >n.s.</text>
<line x1="290.60" y1="265.70" x2="290.60" y2="333.10" stroke="#555" stroke-width="1.0" />
<line x1="290.10" y1="332.60" x2="348.70" y2="332.60" stroke="#444" stroke-width="1.1" />
<line x1="288.80" y1="332.60" x2="290.60" y2="332.60" stroke="#444" stroke-width="1" />
<text x="288.20" y="335.90" font-size="9" font-weight="bold" text-anchor="end" fill="#000" >0</text>
<line x1="288.80" y1="317.70" x2="290.60" y2="317.70" stroke="#444" stroke-width="1" />
<text x="288.20" y="321.00" font-size="9" font-weight="bold" text-anchor="end" fill="#000" >0.2</text>
<line x1="288.80" y1="302.80" x2="290.60" y2="302.80" stroke="#444" stroke-width="1" />
<text x="288.20" y="306.10" font-size="9" font-weight="bold" text-anchor="end" fill="#000" >0.4</text>
<line x1="288.80" y1="287.90" x2="290.60" y2="287.90" stroke="#444" stroke-width="1" />
<text x="288.20" y="291.20" font-size="9" font-weight="bold" text-anchor="end" fill="#000" >0.6</text>
<line x1="288.80" y1="273.00" x2="290.60" y2="273.00" stroke="#444" stroke-width="1" />
<text x="288.20" y="276.30" font-size="9" font-weight="bold" text-anchor="end" fill="#000" >0.8</text>
<rect x="296.00" y="292.10" width="17.90" height="40.50" fill="#fff" stroke="#000" stroke-width="1.2"/>
<line x1="304.95" y1="292.00" x2="304.95" y2="288.00" stroke="#000" stroke-width="1.2" />
<line x1="299.70" y1="288.00" x2="310.20" y2="288.00" stroke="#000" stroke-width="1.2" />
<rect x="324.20" y="316.50" width="19.80" height="16.10" fill="#000" stroke="none" stroke-width="1"/>
<line x1="334.10" y1="317.00" x2="334.10" y2="312.30" stroke="#000" stroke-width="1.2" />
<line x1="328.66" y1="312.30" x2="339.55" y2="312.30" stroke="#000" stroke-width="1.2" />
<line x1="305.80" y1="282.30" x2="333.50" y2="282.30" stroke="#222" stroke-width="1.0" />
<line x1="305.80" y1="280.50" x2="305.80" y2="284.10" stroke="#222" stroke-width="1.0" />
<line x1="333.50" y1="280.50" x2="333.50" y2="284.10" stroke="#222" stroke-width="1.0" />
<text x="319.80" y="280.60" font-size="6.6" font-weight="normal" text-anchor="middle" fill="#222" >p=0.003</text>
<line x1="365.30" y1="266.80" x2="365.30" y2="332.90" stroke="#555" stroke-width="1.0" />
<line x1="364.80" y1="332.40" x2="423.60" y2="332.40" stroke="#444" stroke-width="1.1" />
<line x1="363.50" y1="332.40" x2="365.30" y2="332.40" stroke="#444" stroke-width="1" />
<text x="362.90" y="335.70" font-size="9" font-weight="bold" text-anchor="end" fill="#000" >0</text>
<line x1="363.50" y1="313.27" x2="365.30" y2="313.27" stroke="#444" stroke-width="1" />
<text x="362.90" y="316.57" font-size="9" font-weight="bold" text-anchor="end" fill="#000" >2</text>
<line x1="363.50" y1="294.13" x2="365.30" y2="294.13" stroke="#444" stroke-width="1" />
<text x="362.90" y="297.43" font-size="9" font-weight="bold" text-anchor="end" fill="#000" >4</text>
<line x1="363.50" y1="275.00" x2="365.30" y2="275.00" stroke="#444" stroke-width="1" />
<text x="362.90" y="278.30" font-size="9" font-weight="bold" text-anchor="end" fill="#000" >6</text>
<rect x="371.00" y="289.00" width="19.10" height="43.40" fill="#fff" stroke="#000" stroke-width="1.2"/>
<line x1="380.55" y1="288.90" x2="380.55" y2="286.20" stroke="#000" stroke-width="1.2" />
<line x1="374.97" y1="286.20" x2="386.13" y2="286.20" stroke="#000" stroke-width="1.2" />
<rect x="399.70" y="290.80" width="19.60" height="41.60" fill="#000" stroke="none" stroke-width="1"/>
<line x1="409.50" y1="291.30" x2="409.50" y2="287.40" stroke="#000" stroke-width="1.2" />
<line x1="404.11" y1="287.40" x2="414.89" y2="287.40" stroke="#000" stroke-width="1.2" />
<line x1="380.30" y1="281.00" x2="409.70" y2="281.00" stroke="#222" stroke-width="1.0" />
<line x1="380.30" y1="279.20" x2="380.30" y2="282.80" stroke="#222" stroke-width="1.0" />
<line x1="409.70" y1="279.20" x2="409.70" y2="282.80" stroke="#222" stroke-width="1.0" />
<text x="394.20" y="278.60" font-size="6.6" font-weight="normal" text-anchor="middle" fill="#222" >n.s.</text>
<rect x="429.80" y="308.50" width="7.50" height="8.30" fill="#fff" stroke="#000" stroke-width="1.1"/>
<rect x="429.20" y="321.00" width="8.60" height="9.60" fill="#000" stroke="none" stroke-width="1"/>
<text x="439.80" y="315.80" font-size="9.7" font-weight="bold" font-style="italic" stroke="#000" stroke-width="0.3"><tspan>Stat3</tspan><tspan font-size="7.37" dx="0.9" dy="-2.91">+/+</tspan></text>
<text x="439.80" y="329.20" font-size="9.7" font-weight="bold" font-style="italic" stroke="#000" stroke-width="0.3"><tspan>Tie2cre</tspan><tspan font-size="7.37" dx="0.9" dy="-2.91">+</tspan><tspan font-size="9.7" dx="0.54" dy="2.91">Stat3</tspan><tspan font-size="7.37" dx="0.9" dy="-2.91">f/&#916;</tspan></text>
<text x="9.80" y="381.60" font-size="16.5" font-weight="bold" text-anchor="start" fill="#000" >E</text>
<rect x="69.40" y="378.30" width="74.20" height="105.90" fill="none" stroke="#444" stroke-width="1.2"/>
<line x1="69.40" y1="378.30" x2="69.40" y2="484.80" stroke="#555" stroke-width="1.5" />
<line x1="68.80" y1="484.20" x2="143.60" y2="484.20" stroke="#222" stroke-width="1.4" />
<line x1="67.40" y1="484.20" x2="69.40" y2="484.20" stroke="#000" stroke-width="1" />
<text x="66.00" y="487.74" font-size="9" font-weight="bold" text-anchor="end" fill="#000" >0.0</text>
<line x1="67.40" y1="463.08" x2="69.40" y2="463.08" stroke="#000" stroke-width="1" />
<text x="66.00" y="466.62" font-size="9" font-weight="bold" text-anchor="end" fill="#000" >0.3</text>
<line x1="67.40" y1="441.96" x2="69.40" y2="441.96" stroke="#000" stroke-width="1" />
<text x="66.00" y="445.50" font-size="9" font-weight="bold" text-anchor="end" fill="#000" >0.6</text>
<line x1="67.40" y1="420.84" x2="69.40" y2="420.84" stroke="#000" stroke-width="1" />
<text x="66.00" y="424.38" font-size="9" font-weight="bold" text-anchor="end" fill="#000" >0.9</text>
<line x1="67.40" y1="399.72" x2="69.40" y2="399.72" stroke="#000" stroke-width="1" />
<text x="66.00" y="403.26" font-size="9" font-weight="bold" text-anchor="end" fill="#000" >1.2</text>
<line x1="67.40" y1="378.60" x2="69.40" y2="378.60" stroke="#000" stroke-width="1" />
<text x="66.00" y="382.14" font-size="9" font-weight="bold" text-anchor="end" fill="#000" >1.5</text>
<rect x="76.60" y="405.95" width="23.40" height="78.25" fill="#fff" stroke="#000" stroke-width="1.2"/>
<line x1="88.30" y1="405.85" x2="88.30" y2="399.50" stroke="#000" stroke-width="1.2" />
<line x1="82.15" y1="399.50" x2="94.45" y2="399.50" stroke="#000" stroke-width="1.2" />
<rect x="112.30" y="410.28" width="25.40" height="73.92" fill="#000" stroke="none" stroke-width="1"/>
<line x1="125.00" y1="410.78" x2="125.00" y2="401.20" stroke="#000" stroke-width="1.2" />
<line x1="118.65" y1="401.20" x2="131.35" y2="401.20" stroke="#000" stroke-width="1.2" />
<text transform="translate(46.6,476.5) rotate(-90)" font-size="11.3" font-weight="bold">Cell counts x 10<tspan font-size="7.6" dy="-4.6">5</tspan></text>
<rect x="149.60" y="460.80" width="6.60" height="8.60" fill="#fff" stroke="#000" stroke-width="1.1"/>
<rect x="149.00" y="474.40" width="7.60" height="10.00" fill="#000" stroke="none" stroke-width="1"/>
<text x="160.00" y="468.30" font-size="9.8" font-weight="bold" font-style="italic" stroke="#000" stroke-width="0.3"><tspan>Stat3</tspan><tspan font-size="7.45" dx="0.9" dy="-2.94">+/+</tspan></text>
<text x="160.00" y="482.60" font-size="9.8" font-weight="bold" font-style="italic" stroke="#000" stroke-width="0.3"><tspan>Tie2cre</tspan><tspan font-size="7.45" dx="0.9" dy="-2.94">+</tspan><tspan font-size="9.8" dx="0.54" dy="2.94">Stat3</tspan><tspan font-size="7.45" dx="0.9" dy="-2.94">f/&#916;</tspan></text>
<text x="255.00" y="379.20" font-size="17" font-weight="bold" text-anchor="start" fill="#000" >F</text>
<rect x="292.30" y="378.00" width="73.60" height="105.70" fill="none" stroke="#555" stroke-width="1.2"/>
<line x1="292.30" y1="378.00" x2="292.30" y2="484.30" stroke="#444" stroke-width="1.4" />
<line x1="291.70" y1="483.70" x2="365.90" y2="483.70" stroke="#222" stroke-width="1.4" />
<line x1="290.30" y1="483.70" x2="292.30" y2="483.70" stroke="#000" stroke-width="1" />
<text x="289.10" y="487.27" font-size="8.8" font-weight="bold" text-anchor="end" fill="#000" >0</text>
<line x1="290.30" y1="457.27" x2="292.30" y2="457.27" stroke="#000" stroke-width="1" />
<text x="289.10" y="460.84" font-size="8.8" font-weight="bold" text-anchor="end" fill="#000" >1</text>
<line x1="290.30" y1="430.85" x2="292.30" y2="430.85" stroke="#000" stroke-width="1" />
<text x="289.10" y="434.42" font-size="8.8" font-weight="bold" text-anchor="end" fill="#000" >2</text>
<line x1="290.30" y1="404.43" x2="292.30" y2="404.43" stroke="#000" stroke-width="1" />
<text x="289.10" y="407.99" font-size="8.8" font-weight="bold" text-anchor="end" fill="#000" >3</text>
<line x1="290.30" y1="378.00" x2="292.30" y2="378.00" stroke="#000" stroke-width="1" />
<text x="289.10" y="381.57" font-size="8.8" font-weight="bold" text-anchor="end" fill="#000" >4</text>
<rect x="299.10" y="406.35" width="23.30" height="77.35" fill="#fff" stroke="#000" stroke-width="1.2"/>
<line x1="310.75" y1="406.25" x2="310.75" y2="401.00" stroke="#000" stroke-width="1.2" />
<line x1="304.62" y1="401.00" x2="316.88" y2="401.00" stroke="#000" stroke-width="1.2" />
<rect x="334.80" y="470.49" width="25.30" height="13.21" fill="#000" stroke="none" stroke-width="1"/>
<line x1="347.45" y1="470.99" x2="347.45" y2="469.30" stroke="#000" stroke-width="1.2" />
<line x1="341.13" y1="469.30" x2="353.78" y2="469.30" stroke="#000" stroke-width="1.2" />
<text transform="translate(278.2,461.5) rotate(-90)" font-size="11.3" font-weight="bold">IFN&#945; (ng/ml)</text>
<rect x="372.80" y="458.50" width="6.60" height="8.60" fill="#fff" stroke="#000" stroke-width="1.1"/>
<rect x="372.20" y="471.20" width="7.70" height="9.80" fill="#000" stroke="none" stroke-width="1"/>
<text x="384.70" y="466.30" font-size="9.8" font-weight="bold" text-anchor="start" fill="#000" >NT</text>
<text x="384.70" y="480.20" font-size="9.8" font-weight="bold" text-anchor="start" fill="#000" >IFN</text>
</svg></body></html>
